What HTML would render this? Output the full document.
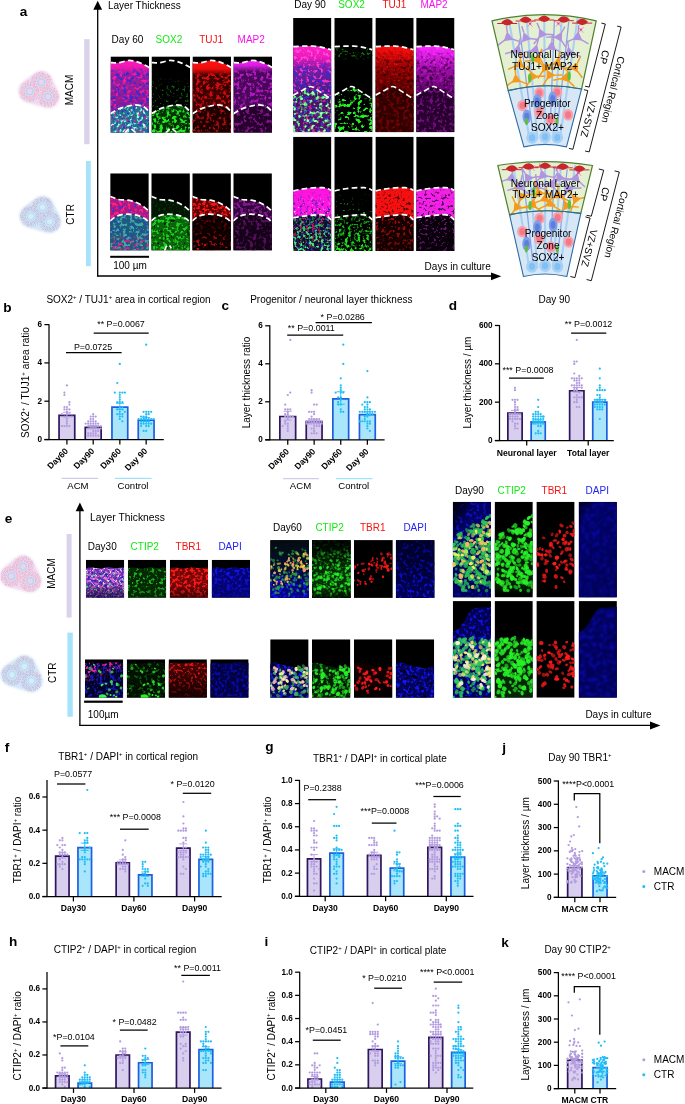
<!DOCTYPE html>
<html lang="en"><head><meta charset="utf-8"><title>Figure</title>
<style>html,body{margin:0;padding:0;background:#fff}svg{display:block}text{font-family:"Liberation Sans", sans-serif}</style>
</head><body>
<svg width="685" height="1104" viewBox="0 0 685 1104">
<rect width="685" height="1104" fill="#fff"/>
<defs><linearGradient id="g1" x1="0" y1="0" x2="0" y2="1"><stop offset="0" stop-color="#ff18c0" stop-opacity="1"/><stop offset="0.13" stop-color="#f018b0" stop-opacity="1"/><stop offset="0.27" stop-color="#a01c98" stop-opacity="1"/><stop offset="1" stop-color="#8c1a90" stop-opacity="1"/></linearGradient><linearGradient id="g2" x1="0" y1="0" x2="0" y2="1"><stop offset="0" stop-color="#000" stop-opacity="0"/><stop offset="0.1" stop-color="#3a2ad0" stop-opacity="0"/><stop offset="0.24" stop-color="#3a2ad0" stop-opacity="1"/><stop offset="1" stop-color="#3a2ad0" stop-opacity="1"/></linearGradient><filter id="f1" x="0" y="0" width="1" height="1" color-interpolation-filters="sRGB"><feTurbulence type="fractalNoise" baseFrequency="0.3" numOctaves="2" seed="101" result="n"/><feColorMatrix in="n" type="matrix" values="0 0 0 0 0 0 0 0 0 0 0 0 0 0 0 6.5 0 0 0 -3.250" result="a"/><feComposite in="SourceGraphic" in2="a" operator="in"/><feGaussianBlur stdDeviation="0.5"/></filter><linearGradient id="g3" x1="0" y1="0" x2="0" y2="1"><stop offset="0" stop-color="#000" stop-opacity="0"/><stop offset="0.1" stop-color="#f020a8" stop-opacity="0"/><stop offset="0.27" stop-color="#f020a8" stop-opacity="1"/><stop offset="1" stop-color="#e81ea0" stop-opacity="1"/></linearGradient><filter id="f2" x="0" y="0" width="1" height="1" color-interpolation-filters="sRGB"><feTurbulence type="fractalNoise" baseFrequency="0.3" numOctaves="2" seed="107" result="n"/><feColorMatrix in="n" type="matrix" values="0 0 0 0 0 0 0 0 0 0 0 0 0 0 0 6.5 0 0 0 -3.510" result="a"/><feComposite in="SourceGraphic" in2="a" operator="in"/><feGaussianBlur stdDeviation="0.5"/></filter><filter id="f3" x="0" y="0" width="1" height="1" color-interpolation-filters="sRGB"><feTurbulence type="fractalNoise" baseFrequency="0.3" numOctaves="2" seed="102" result="n"/><feColorMatrix in="n" type="matrix" values="0 0 0 0 0 0 0 0 0 0 0 0 0 0 0 6.5 0 0 0 -3.445" result="a"/><feComposite in="SourceGraphic" in2="a" operator="in"/><feGaussianBlur stdDeviation="0.5"/></filter><filter id="f4" x="0" y="0" width="1" height="1" color-interpolation-filters="sRGB"><feTurbulence type="fractalNoise" baseFrequency="0.3" numOctaves="2" seed="106" result="n"/><feColorMatrix in="n" type="matrix" values="0 0 0 0 0 0 0 0 0 0 0 0 0 0 0 6.5 0 0 0 -3.250" result="a"/><feComposite in="SourceGraphic" in2="a" operator="in"/><feGaussianBlur stdDeviation="0.5"/></filter><filter id="f5" x="0" y="0" width="1" height="1" color-interpolation-filters="sRGB"><feTurbulence type="fractalNoise" baseFrequency="0.3" numOctaves="2" seed="106" result="n"/><feColorMatrix in="n" type="matrix" values="0 0 0 0 0 0 0 0 0 0 0 0 0 0 0 6.5 0 0 0 -3.900" result="a"/><feComposite in="SourceGraphic" in2="a" operator="in"/><feGaussianBlur stdDeviation="0.5"/></filter><filter id="f6" x="0" y="0" width="1" height="1" color-interpolation-filters="sRGB"><feTurbulence type="fractalNoise" baseFrequency="0.36" numOctaves="2" seed="104" result="n"/><feColorMatrix in="n" type="matrix" values="0 0 0 0 0 0 0 0 0 0 0 0 0 0 0 6.5 0 0 0 -3.770" result="a"/><feComposite in="SourceGraphic" in2="a" operator="in"/><feGaussianBlur stdDeviation="0.5"/></filter><linearGradient id="g4" x1="0" y1="0" x2="0" y2="1"><stop offset="0" stop-color="#000" stop-opacity="0"/><stop offset="0.3" stop-color="#0c600c" stop-opacity="0"/><stop offset="0.5" stop-color="#0c600c" stop-opacity="1"/><stop offset="1" stop-color="#0e700e" stop-opacity="1"/></linearGradient><filter id="f7" x="0" y="0" width="1" height="1" color-interpolation-filters="sRGB"><feTurbulence type="fractalNoise" baseFrequency="0.36" numOctaves="2" seed="105" result="n"/><feColorMatrix in="n" type="matrix" values="0 0 0 0 0 0 0 0 0 0 0 0 0 0 0 6.5 0 0 0 -3.900" result="a"/><feComposite in="SourceGraphic" in2="a" operator="in"/><feGaussianBlur stdDeviation="0.5"/></filter><linearGradient id="g5" x1="0" y1="0" x2="0" y2="1"><stop offset="0" stop-color="#18b018" stop-opacity="1"/><stop offset="0.3" stop-color="#20e820" stop-opacity="1"/><stop offset="1" stop-color="#20f020" stop-opacity="1"/></linearGradient><filter id="f8" x="0" y="0" width="1" height="1" color-interpolation-filters="sRGB"><feTurbulence type="fractalNoise" baseFrequency="0.3" numOctaves="2" seed="106" result="n"/><feColorMatrix in="n" type="matrix" values="0 0 0 0 0 0 0 0 0 0 0 0 0 0 0 6.5 0 0 0 -3.120" result="a"/><feComposite in="SourceGraphic" in2="a" operator="in"/><feGaussianBlur stdDeviation="0.5"/></filter><linearGradient id="g6" x1="0" y1="0" x2="0" y2="1"><stop offset="0" stop-color="#ff1414" stop-opacity="1"/><stop offset="0.16" stop-color="#f00c0c" stop-opacity="1"/><stop offset="0.28" stop-color="#3c0000" stop-opacity="1"/><stop offset="1" stop-color="#3c0000" stop-opacity="1"/></linearGradient><linearGradient id="g7" x1="0" y1="0" x2="0" y2="1"><stop offset="0" stop-color="#000" stop-opacity="0"/><stop offset="0.14" stop-color="#d80c0c" stop-opacity="0"/><stop offset="0.28" stop-color="#d80c0c" stop-opacity="1"/><stop offset="1" stop-color="#c80a0a" stop-opacity="1"/></linearGradient><filter id="f9" x="0" y="0" width="1" height="1" color-interpolation-filters="sRGB"><feTurbulence type="fractalNoise" baseFrequency="0.3" numOctaves="2" seed="107" result="n"/><feColorMatrix in="n" type="matrix" values="0 0 0 0 0 0 0 0 0 0 0 0 0 0 0 6.5 0 0 0 -3.185" result="a"/><feComposite in="SourceGraphic" in2="a" operator="in"/><feGaussianBlur stdDeviation="0.5"/></filter><filter id="f10" x="0" y="0" width="1" height="1" color-interpolation-filters="sRGB"><feTurbulence type="fractalNoise" baseFrequency="0.3" numOctaves="2" seed="108" result="n"/><feColorMatrix in="n" type="matrix" values="0 0 0 0 0 0 0 0 0 0 0 0 0 0 0 6.5 0 0 0 -3.380" result="a"/><feComposite in="SourceGraphic" in2="a" operator="in"/><feGaussianBlur stdDeviation="0.5"/></filter><linearGradient id="g8" x1="0" y1="0" x2="0" y2="1"><stop offset="0" stop-color="#f424f4" stop-opacity="1"/><stop offset="0.1" stop-color="#d81ce0" stop-opacity="1"/><stop offset="0.22" stop-color="#48085a" stop-opacity="1"/><stop offset="1" stop-color="#48085a" stop-opacity="1"/></linearGradient><linearGradient id="g9" x1="0" y1="0" x2="0" y2="1"><stop offset="0" stop-color="#000" stop-opacity="0"/><stop offset="0.08" stop-color="#b818c4" stop-opacity="0"/><stop offset="0.22" stop-color="#b818c4" stop-opacity="1"/><stop offset="1" stop-color="#a814b4" stop-opacity="1"/></linearGradient><filter id="f11" x="0" y="0" width="1" height="1" color-interpolation-filters="sRGB"><feTurbulence type="fractalNoise" baseFrequency="0.3" numOctaves="2" seed="109" result="n"/><feColorMatrix in="n" type="matrix" values="0 0 0 0 0 0 0 0 0 0 0 0 0 0 0 6.5 0 0 0 -3.250" result="a"/><feComposite in="SourceGraphic" in2="a" operator="in"/><feGaussianBlur stdDeviation="0.5"/></filter><filter id="f12" x="0" y="0" width="1" height="1" color-interpolation-filters="sRGB"><feTurbulence type="fractalNoise" baseFrequency="0.3" numOctaves="2" seed="110" result="n"/><feColorMatrix in="n" type="matrix" values="0 0 0 0 0 0 0 0 0 0 0 0 0 0 0 6.5 0 0 0 -3.380" result="a"/><feComposite in="SourceGraphic" in2="a" operator="in"/><feGaussianBlur stdDeviation="0.5"/></filter><clipPath id="c1"><rect x="110.50" y="56.40" width="38.50" height="76.30"/></clipPath><clipPath id="c2"><rect x="151.50" y="56.40" width="38.50" height="76.30"/></clipPath><clipPath id="c3"><rect x="192.50" y="56.40" width="38.50" height="76.30"/></clipPath><clipPath id="c4"><rect x="233.50" y="56.40" width="38.50" height="76.30"/></clipPath><filter id="f13" x="0" y="0" width="1" height="1" color-interpolation-filters="sRGB"><feTurbulence type="fractalNoise" baseFrequency="0.32" numOctaves="2" seed="201" result="n"/><feColorMatrix in="n" type="matrix" values="0 0 0 0 0 0 0 0 0 0 0 0 0 0 0 6.5 0 0 0 -3.510" result="a"/><feComposite in="SourceGraphic" in2="a" operator="in"/><feGaussianBlur stdDeviation="0.5"/></filter><filter id="f14" x="0" y="0" width="1" height="1" color-interpolation-filters="sRGB"><feTurbulence type="fractalNoise" baseFrequency="0.32" numOctaves="2" seed="207" result="n"/><feColorMatrix in="n" type="matrix" values="0 0 0 0 0 0 0 0 0 0 0 0 0 0 0 6.5 0 0 0 -3.250" result="a"/><feComposite in="SourceGraphic" in2="a" operator="in"/><feGaussianBlur stdDeviation="0.5"/></filter><filter id="f15" x="0" y="0" width="1" height="1" color-interpolation-filters="sRGB"><feTurbulence type="fractalNoise" baseFrequency="0.3" numOctaves="2" seed="202" result="n"/><feColorMatrix in="n" type="matrix" values="0 0 0 0 0 0 0 0 0 0 0 0 0 0 0 6.5 0 0 0 -3.510" result="a"/><feComposite in="SourceGraphic" in2="a" operator="in"/><feGaussianBlur stdDeviation="0.5"/></filter><filter id="f16" x="0" y="0" width="1" height="1" color-interpolation-filters="sRGB"><feTurbulence type="fractalNoise" baseFrequency="0.3" numOctaves="2" seed="206" result="n"/><feColorMatrix in="n" type="matrix" values="0 0 0 0 0 0 0 0 0 0 0 0 0 0 0 6.5 0 0 0 -3.250" result="a"/><feComposite in="SourceGraphic" in2="a" operator="in"/><feGaussianBlur stdDeviation="0.5"/></filter><linearGradient id="g10" x1="0" y1="0" x2="0" y2="1"><stop offset="0" stop-color="#000" stop-opacity="0"/><stop offset="0.55" stop-color="#e82078" stop-opacity="0"/><stop offset="0.8" stop-color="#e82078" stop-opacity="1"/><stop offset="1" stop-color="#e82078" stop-opacity="1"/></linearGradient><filter id="f17" x="0" y="0" width="1" height="1" color-interpolation-filters="sRGB"><feTurbulence type="fractalNoise" baseFrequency="0.3" numOctaves="2" seed="208" result="n"/><feColorMatrix in="n" type="matrix" values="0 0 0 0 0 0 0 0 0 0 0 0 0 0 0 6.5 0 0 0 -3.445" result="a"/><feComposite in="SourceGraphic" in2="a" operator="in"/><feGaussianBlur stdDeviation="0.5"/></filter><filter id="f18" x="0" y="0" width="1" height="1" color-interpolation-filters="sRGB"><feTurbulence type="fractalNoise" baseFrequency="0.36" numOctaves="2" seed="205" result="n"/><feColorMatrix in="n" type="matrix" values="0 0 0 0 0 0 0 0 0 0 0 0 0 0 0 6.5 0 0 0 -3.770" result="a"/><feComposite in="SourceGraphic" in2="a" operator="in"/><feGaussianBlur stdDeviation="0.5"/></filter><filter id="f19" x="0" y="0" width="1" height="1" color-interpolation-filters="sRGB"><feTurbulence type="fractalNoise" baseFrequency="0.3" numOctaves="2" seed="216" result="n"/><feColorMatrix in="n" type="matrix" values="0 0 0 0 0 0 0 0 0 0 0 0 0 0 0 6.5 0 0 0 -3.900" result="a"/><feComposite in="SourceGraphic" in2="a" operator="in"/><feGaussianBlur stdDeviation="0.5"/></filter><filter id="f20" x="0" y="0" width="1" height="1" color-interpolation-filters="sRGB"><feTurbulence type="fractalNoise" baseFrequency="0.32" numOctaves="2" seed="207" result="n"/><feColorMatrix in="n" type="matrix" values="0 0 0 0 0 0 0 0 0 0 0 0 0 0 0 6.5 0 0 0 -2.990" result="a"/><feComposite in="SourceGraphic" in2="a" operator="in"/><feGaussianBlur stdDeviation="0.5"/></filter><linearGradient id="g11" x1="0" y1="0" x2="0" y2="1"><stop offset="0" stop-color="#7a0606" stop-opacity="0.6"/><stop offset="0.5" stop-color="#7a0606" stop-opacity="0.8"/><stop offset="0.75" stop-color="#b00c0c" stop-opacity="1"/><stop offset="1" stop-color="#d01010" stop-opacity="1"/></linearGradient><filter id="f21" x="0" y="0" width="1" height="1" color-interpolation-filters="sRGB"><feTurbulence type="fractalNoise" baseFrequency="0.3" numOctaves="2" seed="208" result="n"/><feColorMatrix in="n" type="matrix" values="0 0 0 0 0 0 0 0 0 0 0 0 0 0 0 6.5 0 0 0 -3.640" result="a"/><feComposite in="SourceGraphic" in2="a" operator="in"/><feGaussianBlur stdDeviation="0.5"/></filter><filter id="f22" x="0" y="0" width="1" height="1" color-interpolation-filters="sRGB"><feTurbulence type="fractalNoise" baseFrequency="0.32" numOctaves="2" seed="209" result="n"/><feColorMatrix in="n" type="matrix" values="0 0 0 0 0 0 0 0 0 0 0 0 0 0 0 6.5 0 0 0 -3.055" result="a"/><feComposite in="SourceGraphic" in2="a" operator="in"/><feGaussianBlur stdDeviation="0.5"/></filter><filter id="f23" x="0" y="0" width="1" height="1" color-interpolation-filters="sRGB"><feTurbulence type="fractalNoise" baseFrequency="0.3" numOctaves="2" seed="210" result="n"/><feColorMatrix in="n" type="matrix" values="0 0 0 0 0 0 0 0 0 0 0 0 0 0 0 6.5 0 0 0 -3.315" result="a"/><feComposite in="SourceGraphic" in2="a" operator="in"/><feGaussianBlur stdDeviation="0.5"/></filter><clipPath id="c5"><rect x="110.20" y="173.30" width="38.60" height="77.20"/></clipPath><clipPath id="c6"><rect x="151.30" y="173.30" width="38.60" height="77.20"/></clipPath><clipPath id="c7"><rect x="192.30" y="173.30" width="38.60" height="77.20"/></clipPath><clipPath id="c8"><rect x="233.30" y="173.30" width="38.60" height="77.20"/></clipPath><linearGradient id="g12" x1="0" y1="0" x2="0" y2="1"><stop offset="0" stop-color="#ff20c8" stop-opacity="1"/><stop offset="0.2" stop-color="#f018c0" stop-opacity="1"/><stop offset="0.45" stop-color="#7a1c9c" stop-opacity="1"/><stop offset="1" stop-color="#3a1880" stop-opacity="1"/></linearGradient><linearGradient id="g13" x1="0" y1="0" x2="0" y2="1"><stop offset="0" stop-color="#000" stop-opacity="0"/><stop offset="0.25" stop-color="#3828d8" stop-opacity="0"/><stop offset="0.45" stop-color="#3828d8" stop-opacity="1"/><stop offset="1" stop-color="#3030c8" stop-opacity="1"/></linearGradient><filter id="f24" x="0" y="0" width="1" height="1" color-interpolation-filters="sRGB"><feTurbulence type="fractalNoise" baseFrequency="0.3" numOctaves="2" seed="301" result="n"/><feColorMatrix in="n" type="matrix" values="0 0 0 0 0 0 0 0 0 0 0 0 0 0 0 6.5 0 0 0 -3.250" result="a"/><feComposite in="SourceGraphic" in2="a" operator="in"/><feGaussianBlur stdDeviation="0.5"/></filter><linearGradient id="g14" x1="0" y1="0" x2="0" y2="1"><stop offset="0" stop-color="#ff70d8" stop-opacity="0.7"/><stop offset="0.3" stop-color="#ff40d0" stop-opacity="1"/><stop offset="1" stop-color="#d828b0" stop-opacity="1"/></linearGradient><filter id="f25" x="0" y="0" width="1" height="1" color-interpolation-filters="sRGB"><feTurbulence type="fractalNoise" baseFrequency="0.3" numOctaves="2" seed="309" result="n"/><feColorMatrix in="n" type="matrix" values="0 0 0 0 0 0 0 0 0 0 0 0 0 0 0 6.5 0 0 0 -3.510" result="a"/><feComposite in="SourceGraphic" in2="a" operator="in"/><feGaussianBlur stdDeviation="0.5"/></filter><filter id="f26" x="0" y="0" width="1" height="1" color-interpolation-filters="sRGB"><feTurbulence type="fractalNoise" baseFrequency="0.33" numOctaves="2" seed="302" result="n"/><feColorMatrix in="n" type="matrix" values="0 0 0 0 0 0 0 0 0 0 0 0 0 0 0 6.5 0 0 0 -3.380" result="a"/><feComposite in="SourceGraphic" in2="a" operator="in"/><feGaussianBlur stdDeviation="0.5"/></filter><filter id="f27" x="0" y="0" width="1" height="1" color-interpolation-filters="sRGB"><feTurbulence type="fractalNoise" baseFrequency="0.3" numOctaves="2" seed="304" result="n"/><feColorMatrix in="n" type="matrix" values="0 0 0 0 0 0 0 0 0 0 0 0 0 0 0 6.5 0 0 0 -3.575" result="a"/><feComposite in="SourceGraphic" in2="a" operator="in"/><feGaussianBlur stdDeviation="0.5"/></filter><filter id="f28" x="0" y="0" width="1" height="1" color-interpolation-filters="sRGB"><feTurbulence type="fractalNoise" baseFrequency="0.26" numOctaves="2" seed="306" result="n"/><feColorMatrix in="n" type="matrix" values="0 0 0 0 0 0 0 0 0 0 0 0 0 0 0 6.5 0 0 0 -3.250" result="a"/><feComposite in="SourceGraphic" in2="a" operator="in"/><feGaussianBlur stdDeviation="0.5"/></filter><filter id="f29" x="0" y="0" width="1" height="1" color-interpolation-filters="sRGB"><feTurbulence type="fractalNoise" baseFrequency="0.26" numOctaves="2" seed="306" result="n"/><feColorMatrix in="n" type="matrix" values="0 0 0 0 0 0 0 0 0 0 0 0 0 0 0 6.5 0 0 0 -3.900" result="a"/><feComposite in="SourceGraphic" in2="a" operator="in"/><feGaussianBlur stdDeviation="0.5"/></filter><linearGradient id="g15" x1="0" y1="0" x2="0" y2="1"><stop offset="0" stop-color="#000" stop-opacity="0"/><stop offset="0.06" stop-color="#0c6c0c" stop-opacity="1"/><stop offset="0.2" stop-color="#0c6c0c" stop-opacity="1"/><stop offset="0.3" stop-color="#000" stop-opacity="0"/><stop offset="1" stop-color="#000" stop-opacity="0"/></linearGradient><filter id="f30" x="0" y="0" width="1" height="1" color-interpolation-filters="sRGB"><feTurbulence type="fractalNoise" baseFrequency="0.36" numOctaves="2" seed="305" result="n"/><feColorMatrix in="n" type="matrix" values="0 0 0 0 0 0 0 0 0 0 0 0 0 0 0 6.5 0 0 0 -3.640" result="a"/><feComposite in="SourceGraphic" in2="a" operator="in"/><feGaussianBlur stdDeviation="0.5"/></filter><filter id="f31" x="0" y="0" width="1" height="1" color-interpolation-filters="sRGB"><feTurbulence type="fractalNoise" baseFrequency="0.26" numOctaves="2" seed="306" result="n"/><feColorMatrix in="n" type="matrix" values="0 0 0 0 0 0 0 0 0 0 0 0 0 0 0 10 0 0 0 -5.300" result="a"/><feComposite in="SourceGraphic" in2="a" operator="in"/><feGaussianBlur stdDeviation="0.5"/></filter><linearGradient id="g16" x1="0" y1="0" x2="0" y2="1"><stop offset="0" stop-color="#ff1212" stop-opacity="1"/><stop offset="0.12" stop-color="#e80a0a" stop-opacity="1"/><stop offset="0.3" stop-color="#b00404" stop-opacity="1"/><stop offset="0.6" stop-color="#7c0000" stop-opacity="1"/><stop offset="1" stop-color="#560000" stop-opacity="1"/></linearGradient><linearGradient id="g17" x1="0" y1="0" x2="0" y2="1"><stop offset="0" stop-color="#000" stop-opacity="0"/><stop offset="0.1" stop-color="#000" stop-opacity="0.15"/><stop offset="0.3" stop-color="#000" stop-opacity="0.5"/><stop offset="1" stop-color="#000" stop-opacity="0.5"/></linearGradient><filter id="f32" x="0" y="0" width="1" height="1" color-interpolation-filters="sRGB"><feTurbulence type="fractalNoise" baseFrequency="0.3" numOctaves="2" seed="307" result="n"/><feColorMatrix in="n" type="matrix" values="0 0 0 0 0 0 0 0 0 0 0 0 0 0 0 6.5 0 0 0 -3.250" result="a"/><feComposite in="SourceGraphic" in2="a" operator="in"/><feGaussianBlur stdDeviation="0.5"/></filter><linearGradient id="g18" x1="0" y1="0" x2="0" y2="1"><stop offset="0" stop-color="#ff3030" stop-opacity="0"/><stop offset="0.15" stop-color="#ff2020" stop-opacity="0.5"/><stop offset="1" stop-color="#c00808" stop-opacity="0.5"/></linearGradient><filter id="f33" x="0" y="0" width="1" height="1" color-interpolation-filters="sRGB"><feTurbulence type="fractalNoise" baseFrequency="0.3" numOctaves="2" seed="317" result="n"/><feColorMatrix in="n" type="matrix" values="0 0 0 0 0 0 0 0 0 0 0 0 0 0 0 6.5 0 0 0 -3.770" result="a"/><feComposite in="SourceGraphic" in2="a" operator="in"/><feGaussianBlur stdDeviation="0.5"/></filter><filter id="f34" x="0" y="0" width="1" height="1" color-interpolation-filters="sRGB"><feTurbulence type="fractalNoise" baseFrequency="0.3" numOctaves="2" seed="308" result="n"/><feColorMatrix in="n" type="matrix" values="0 0 0 0 0 0 0 0 0 0 0 0 0 0 0 6.5 0 0 0 -3.250" result="a"/><feComposite in="SourceGraphic" in2="a" operator="in"/><feGaussianBlur stdDeviation="0.5"/></filter><linearGradient id="g19" x1="0" y1="0" x2="0" y2="1"><stop offset="0" stop-color="#ff2cff" stop-opacity="1"/><stop offset="0.15" stop-color="#e41cec" stop-opacity="1"/><stop offset="0.4" stop-color="#a80cb4" stop-opacity="1"/><stop offset="0.7" stop-color="#74067e" stop-opacity="1"/><stop offset="1" stop-color="#540460" stop-opacity="1"/></linearGradient><linearGradient id="g20" x1="0" y1="0" x2="0" y2="1"><stop offset="0" stop-color="#000" stop-opacity="0"/><stop offset="0.1" stop-color="#000" stop-opacity="0.15"/><stop offset="0.3" stop-color="#000" stop-opacity="0.5"/><stop offset="1" stop-color="#000" stop-opacity="0.55"/></linearGradient><filter id="f35" x="0" y="0" width="1" height="1" color-interpolation-filters="sRGB"><feTurbulence type="fractalNoise" baseFrequency="0.3" numOctaves="2" seed="309" result="n"/><feColorMatrix in="n" type="matrix" values="0 0 0 0 0 0 0 0 0 0 0 0 0 0 0 6.5 0 0 0 -3.250" result="a"/><feComposite in="SourceGraphic" in2="a" operator="in"/><feGaussianBlur stdDeviation="0.5"/></filter><linearGradient id="g21" x1="0" y1="0" x2="0" y2="1"><stop offset="0" stop-color="#ff60ff" stop-opacity="0.3"/><stop offset="0.2" stop-color="#ff40ff" stop-opacity="0.6"/><stop offset="1" stop-color="#c010d0" stop-opacity="0.5"/></linearGradient><filter id="f36" x="0" y="0" width="1" height="1" color-interpolation-filters="sRGB"><feTurbulence type="fractalNoise" baseFrequency="0.3" numOctaves="2" seed="319" result="n"/><feColorMatrix in="n" type="matrix" values="0 0 0 0 0 0 0 0 0 0 0 0 0 0 0 6.5 0 0 0 -3.770" result="a"/><feComposite in="SourceGraphic" in2="a" operator="in"/><feGaussianBlur stdDeviation="0.5"/></filter><filter id="f37" x="0" y="0" width="1" height="1" color-interpolation-filters="sRGB"><feTurbulence type="fractalNoise" baseFrequency="0.3" numOctaves="2" seed="310" result="n"/><feColorMatrix in="n" type="matrix" values="0 0 0 0 0 0 0 0 0 0 0 0 0 0 0 6.5 0 0 0 -3.380" result="a"/><feComposite in="SourceGraphic" in2="a" operator="in"/><feGaussianBlur stdDeviation="0.5"/></filter><clipPath id="c9"><rect x="293.10" y="17.90" width="38.30" height="114.30"/></clipPath><clipPath id="c10"><rect x="334.30" y="17.90" width="38.30" height="114.30"/></clipPath><clipPath id="c11"><rect x="375.40" y="17.90" width="38.30" height="114.30"/></clipPath><clipPath id="c12"><rect x="416.20" y="17.90" width="38.30" height="114.30"/></clipPath><linearGradient id="g22" x1="0" y1="0" x2="0" y2="1"><stop offset="0" stop-color="#000" stop-opacity="0"/><stop offset="0.25" stop-color="#3828c8" stop-opacity="0.3"/><stop offset="0.6" stop-color="#3828c8" stop-opacity="1"/><stop offset="1" stop-color="#3020b0" stop-opacity="1"/></linearGradient><filter id="f38" x="0" y="0" width="1" height="1" color-interpolation-filters="sRGB"><feTurbulence type="fractalNoise" baseFrequency="0.33" numOctaves="2" seed="401" result="n"/><feColorMatrix in="n" type="matrix" values="0 0 0 0 0 0 0 0 0 0 0 0 0 0 0 6.5 0 0 0 -3.705" result="a"/><feComposite in="SourceGraphic" in2="a" operator="in"/><feGaussianBlur stdDeviation="0.5"/></filter><linearGradient id="g23" x1="0" y1="0" x2="0" y2="1"><stop offset="0" stop-color="#000" stop-opacity="0"/><stop offset="0.4" stop-color="#ffd8f8" stop-opacity="0.7"/><stop offset="1" stop-color="#ffe0f8" stop-opacity="1"/></linearGradient><filter id="f39" x="0" y="0" width="1" height="1" color-interpolation-filters="sRGB"><feTurbulence type="fractalNoise" baseFrequency="0.36" numOctaves="2" seed="412" result="n"/><feColorMatrix in="n" type="matrix" values="0 0 0 0 0 0 0 0 0 0 0 0 0 0 0 6.5 0 0 0 -4.160" result="a"/><feComposite in="SourceGraphic" in2="a" operator="in"/><feGaussianBlur stdDeviation="0.5"/></filter><linearGradient id="g24" x1="0" y1="0" x2="0" y2="1"><stop offset="0" stop-color="#000" stop-opacity="0"/><stop offset="0.5" stop-color="#100828" stop-opacity="0.5"/><stop offset="1" stop-color="#100828" stop-opacity="1"/></linearGradient><filter id="f40" x="0" y="0" width="1" height="1" color-interpolation-filters="sRGB"><feTurbulence type="fractalNoise" baseFrequency="0.36" numOctaves="2" seed="413" result="n"/><feColorMatrix in="n" type="matrix" values="0 0 0 0 0 0 0 0 0 0 0 0 0 0 0 6.5 0 0 0 -4.160" result="a"/><feComposite in="SourceGraphic" in2="a" operator="in"/><feGaussianBlur stdDeviation="0.5"/></filter><filter id="f41" x="0" y="0" width="1" height="1" color-interpolation-filters="sRGB"><feTurbulence type="fractalNoise" baseFrequency="0.33" numOctaves="2" seed="404" result="n"/><feColorMatrix in="n" type="matrix" values="0 0 0 0 0 0 0 0 0 0 0 0 0 0 0 6.5 0 0 0 -3.510" result="a"/><feComposite in="SourceGraphic" in2="a" operator="in"/><feGaussianBlur stdDeviation="0.5"/></filter><linearGradient id="g25" x1="0" y1="0" x2="0" y2="1"><stop offset="0" stop-color="#e01890" stop-opacity="1"/><stop offset="0.35" stop-color="#c81858" stop-opacity="1"/><stop offset="0.7" stop-color="#b01838" stop-opacity="0.7"/><stop offset="1" stop-color="#b01838" stop-opacity="0.5"/></linearGradient><filter id="f42" x="0" y="0" width="1" height="1" color-interpolation-filters="sRGB"><feTurbulence type="fractalNoise" baseFrequency="0.33" numOctaves="2" seed="408" result="n"/><feColorMatrix in="n" type="matrix" values="0 0 0 0 0 0 0 0 0 0 0 0 0 0 0 6.5 0 0 0 -3.575" result="a"/><feComposite in="SourceGraphic" in2="a" operator="in"/><feGaussianBlur stdDeviation="0.5"/></filter><linearGradient id="g26" x1="0" y1="0" x2="0" y2="1"><stop offset="0" stop-color="#30d060" stop-opacity="0.35"/><stop offset="0.3" stop-color="#30d868" stop-opacity="0.8"/><stop offset="0.6" stop-color="#3ce474" stop-opacity="1"/><stop offset="1" stop-color="#48f080" stop-opacity="1"/></linearGradient><filter id="f43" x="0" y="0" width="1" height="1" color-interpolation-filters="sRGB"><feTurbulence type="fractalNoise" baseFrequency="0.33" numOctaves="2" seed="406" result="n"/><feColorMatrix in="n" type="matrix" values="0 0 0 0 0 0 0 0 0 0 0 0 0 0 0 6.5 0 0 0 -3.250" result="a"/><feComposite in="SourceGraphic" in2="a" operator="in"/><feGaussianBlur stdDeviation="0.5"/></filter><linearGradient id="g27" x1="0" y1="0" x2="0" y2="1"><stop offset="0" stop-color="#000" stop-opacity="0"/><stop offset="0.45" stop-color="#1cd01c" stop-opacity="0.5"/><stop offset="1" stop-color="#1cd01c" stop-opacity="1"/></linearGradient><filter id="f44" x="0" y="0" width="1" height="1" color-interpolation-filters="sRGB"><feTurbulence type="fractalNoise" baseFrequency="0.33" numOctaves="2" seed="405" result="n"/><feColorMatrix in="n" type="matrix" values="0 0 0 0 0 0 0 0 0 0 0 0 0 0 0 10 0 0 0 -6.800" result="a"/><feComposite in="SourceGraphic" in2="a" operator="in"/><feGaussianBlur stdDeviation="0.5"/></filter><linearGradient id="g28" x1="0" y1="0" x2="0" y2="1"><stop offset="0" stop-color="#000" stop-opacity="0"/><stop offset="0.5" stop-color="#0a500a" stop-opacity="0.6"/><stop offset="1" stop-color="#0c600c" stop-opacity="1"/></linearGradient><filter id="f45" x="0" y="0" width="1" height="1" color-interpolation-filters="sRGB"><feTurbulence type="fractalNoise" baseFrequency="0.33" numOctaves="2" seed="406" result="n"/><feColorMatrix in="n" type="matrix" values="0 0 0 0 0 0 0 0 0 0 0 0 0 0 0 6.5 0 0 0 -2.730" result="a"/><feComposite in="SourceGraphic" in2="a" operator="in"/><feGaussianBlur stdDeviation="0.5"/></filter><linearGradient id="g29" x1="0" y1="0" x2="0" y2="1"><stop offset="0" stop-color="#14a014" stop-opacity="0.7"/><stop offset="0.35" stop-color="#1cc81c" stop-opacity="0.9"/><stop offset="0.7" stop-color="#20e020" stop-opacity="1"/><stop offset="1" stop-color="#22f022" stop-opacity="1"/></linearGradient><filter id="f46" x="0" y="0" width="1" height="1" color-interpolation-filters="sRGB"><feTurbulence type="fractalNoise" baseFrequency="0.33" numOctaves="2" seed="406" result="n"/><feColorMatrix in="n" type="matrix" values="0 0 0 0 0 0 0 0 0 0 0 0 0 0 0 6.5 0 0 0 -3.380" result="a"/><feComposite in="SourceGraphic" in2="a" operator="in"/><feGaussianBlur stdDeviation="0.5"/></filter><linearGradient id="g30" x1="0" y1="0" x2="0" y2="1"><stop offset="0" stop-color="#000" stop-opacity="0"/><stop offset="0.3" stop-color="#4a0303" stop-opacity="1"/><stop offset="1" stop-color="#4a0303" stop-opacity="1"/></linearGradient><filter id="f47" x="0" y="0" width="1" height="1" color-interpolation-filters="sRGB"><feTurbulence type="fractalNoise" baseFrequency="0.36" numOctaves="2" seed="407" result="n"/><feColorMatrix in="n" type="matrix" values="0 0 0 0 0 0 0 0 0 0 0 0 0 0 0 6.5 0 0 0 -3.705" result="a"/><feComposite in="SourceGraphic" in2="a" operator="in"/><feGaussianBlur stdDeviation="0.5"/></filter><linearGradient id="g31" x1="0" y1="0" x2="0" y2="1"><stop offset="0" stop-color="#c00c0c" stop-opacity="1"/><stop offset="0.5" stop-color="#900a0a" stop-opacity="1"/><stop offset="1" stop-color="#700808" stop-opacity="1"/></linearGradient><filter id="f48" x="0" y="0" width="1" height="1" color-interpolation-filters="sRGB"><feTurbulence type="fractalNoise" baseFrequency="0.33" numOctaves="2" seed="408" result="n"/><feColorMatrix in="n" type="matrix" values="0 0 0 0 0 0 0 0 0 0 0 0 0 0 0 6.5 0 0 0 -3.510" result="a"/><feComposite in="SourceGraphic" in2="a" operator="in"/><feGaussianBlur stdDeviation="0.5"/></filter><linearGradient id="g32" x1="0" y1="0" x2="0" y2="1"><stop offset="0" stop-color="#000" stop-opacity="0"/><stop offset="0.25" stop-color="#4a0a50" stop-opacity="1"/><stop offset="1" stop-color="#4a0a50" stop-opacity="1"/></linearGradient><filter id="f49" x="0" y="0" width="1" height="1" color-interpolation-filters="sRGB"><feTurbulence type="fractalNoise" baseFrequency="0.36" numOctaves="2" seed="409" result="n"/><feColorMatrix in="n" type="matrix" values="0 0 0 0 0 0 0 0 0 0 0 0 0 0 0 6.5 0 0 0 -3.640" result="a"/><feComposite in="SourceGraphic" in2="a" operator="in"/><feGaussianBlur stdDeviation="0.5"/></filter><linearGradient id="g33" x1="0" y1="0" x2="0" y2="1"><stop offset="0" stop-color="#8a1c92" stop-opacity="1"/><stop offset="0.5" stop-color="#701678" stop-opacity="1"/><stop offset="1" stop-color="#5a1262" stop-opacity="1"/></linearGradient><filter id="f50" x="0" y="0" width="1" height="1" color-interpolation-filters="sRGB"><feTurbulence type="fractalNoise" baseFrequency="0.36" numOctaves="2" seed="410" result="n"/><feColorMatrix in="n" type="matrix" values="0 0 0 0 0 0 0 0 0 0 0 0 0 0 0 6.5 0 0 0 -3.770" result="a"/><feComposite in="SourceGraphic" in2="a" operator="in"/><feGaussianBlur stdDeviation="0.5"/></filter><clipPath id="c13"><rect x="293.10" y="136.70" width="38.30" height="114.30"/></clipPath><clipPath id="c14"><rect x="334.30" y="136.70" width="38.30" height="114.30"/></clipPath><clipPath id="c15"><rect x="375.40" y="136.70" width="38.30" height="114.30"/></clipPath><clipPath id="c16"><rect x="416.20" y="136.70" width="38.30" height="114.30"/></clipPath><filter id="soft" x="-0.1" y="-0.1" width="1.2" height="1.2"><feGaussianBlur stdDeviation="0.45"/></filter><filter id="f51" x="0" y="0" width="1" height="1" color-interpolation-filters="sRGB"><feTurbulence type="fractalNoise" baseFrequency="0.33" numOctaves="2" seed="501" result="n"/><feColorMatrix in="n" type="matrix" values="0 0 0 0 0 0 0 0 0 0 0 0 0 0 0 6.5 0 0 0 -3.510" result="a"/><feComposite in="SourceGraphic" in2="a" operator="in"/><feGaussianBlur stdDeviation="0.5"/></filter><filter id="f52" x="0" y="0" width="1" height="1" color-interpolation-filters="sRGB"><feTurbulence type="fractalNoise" baseFrequency="0.36" numOctaves="2" seed="507" result="n"/><feColorMatrix in="n" type="matrix" values="0 0 0 0 0 0 0 0 0 0 0 0 0 0 0 6.5 0 0 0 -3.120" result="a"/><feComposite in="SourceGraphic" in2="a" operator="in"/><feGaussianBlur stdDeviation="0.5"/></filter><filter id="f53" x="0" y="0" width="1" height="1" color-interpolation-filters="sRGB"><feTurbulence type="fractalNoise" baseFrequency="0.36" numOctaves="2" seed="506" result="n"/><feColorMatrix in="n" type="matrix" values="0 0 0 0 0 0 0 0 0 0 0 0 0 0 0 6.5 0 0 0 -4.030" result="a"/><feComposite in="SourceGraphic" in2="a" operator="in"/><feGaussianBlur stdDeviation="0.5"/></filter><filter id="f54" x="0" y="0" width="1" height="1" color-interpolation-filters="sRGB"><feTurbulence type="fractalNoise" baseFrequency="0.4" numOctaves="2" seed="508" result="n"/><feColorMatrix in="n" type="matrix" values="0 0 0 0 0 0 0 0 0 0 0 0 0 0 0 6.5 0 0 0 -3.900" result="a"/><feComposite in="SourceGraphic" in2="a" operator="in"/><feGaussianBlur stdDeviation="0.5"/></filter><linearGradient id="g34" x1="0" y1="0" x2="0" y2="1"><stop offset="0" stop-color="#000" stop-opacity="0"/><stop offset="0.5" stop-color="#000" stop-opacity="0"/><stop offset="1" stop-color="#000038" stop-opacity="0.7"/></linearGradient><linearGradient id="g35" x1="0" y1="0" x2="0" y2="1"><stop offset="0" stop-color="#14a014" stop-opacity="1"/><stop offset="0.4" stop-color="#1ec41e" stop-opacity="1"/><stop offset="1" stop-color="#0e700e" stop-opacity="1"/></linearGradient><filter id="f55" x="0" y="0" width="1" height="1" color-interpolation-filters="sRGB"><feTurbulence type="fractalNoise" baseFrequency="0.33" numOctaves="2" seed="506" result="n"/><feColorMatrix in="n" type="matrix" values="0 0 0 0 0 0 0 0 0 0 0 0 0 0 0 6.5 0 0 0 -3.510" result="a"/><feComposite in="SourceGraphic" in2="a" operator="in"/><feGaussianBlur stdDeviation="0.5"/></filter><filter id="f56" x="0" y="0" width="1" height="1" color-interpolation-filters="sRGB"><feTurbulence type="fractalNoise" baseFrequency="0.33" numOctaves="2" seed="507" result="n"/><feColorMatrix in="n" type="matrix" values="0 0 0 0 0 0 0 0 0 0 0 0 0 0 0 6.5 0 0 0 -3.120" result="a"/><feComposite in="SourceGraphic" in2="a" operator="in"/><feGaussianBlur stdDeviation="0.5"/></filter><linearGradient id="g36" x1="0" y1="0" x2="0" y2="1"><stop offset="0" stop-color="#000" stop-opacity="0"/><stop offset="0.6" stop-color="#000" stop-opacity="0"/><stop offset="1" stop-color="#000" stop-opacity="0.55"/></linearGradient><linearGradient id="g37" x1="0" y1="0" x2="0" y2="1"><stop offset="0" stop-color="#1414f0" stop-opacity="1"/><stop offset="0.5" stop-color="#0e0ed0" stop-opacity="1"/><stop offset="1" stop-color="#0808a0" stop-opacity="1"/></linearGradient><filter id="f57" x="0" y="0" width="1" height="1" color-interpolation-filters="sRGB"><feTurbulence type="fractalNoise" baseFrequency="0.33" numOctaves="2" seed="501" result="n"/><feColorMatrix in="n" type="matrix" values="0 0 0 0 0 0 0 0 0 0 0 0 0 0 0 6.5 0 0 0 -3.250" result="a"/><feComposite in="SourceGraphic" in2="a" operator="in"/><feGaussianBlur stdDeviation="0.5"/></filter><clipPath id="c17"><rect x="85.90" y="559.80" width="38.30" height="38.00"/></clipPath><clipPath id="c18"><rect x="127.90" y="559.80" width="38.30" height="38.00"/></clipPath><clipPath id="c19"><rect x="169.80" y="559.80" width="38.30" height="38.00"/></clipPath><clipPath id="c20"><rect x="211.70" y="559.80" width="38.30" height="38.00"/></clipPath><filter id="f58" x="0" y="0" width="1" height="1" color-interpolation-filters="sRGB"><feTurbulence type="fractalNoise" baseFrequency="0.33" numOctaves="2" seed="601" result="n"/><feColorMatrix in="n" type="matrix" values="0 0 0 0 0 0 0 0 0 0 0 0 0 0 0 6.5 0 0 0 -3.250" result="a"/><feComposite in="SourceGraphic" in2="a" operator="in"/><feGaussianBlur stdDeviation="0.5"/></filter><linearGradient id="g38" x1="0" y1="0" x2="0.35" y2="1"><stop offset="0" stop-color="#e82888" stop-opacity="0"/><stop offset="-0.1" stop-color="#e82888" stop-opacity="0"/><stop offset="0.0" stop-color="#e82888" stop-opacity="1"/><stop offset="0.3" stop-color="#e82888" stop-opacity="1"/><stop offset="0.55" stop-color="#e82888" stop-opacity="0"/><stop offset="1" stop-color="#e82888" stop-opacity="0"/></linearGradient><filter id="f59" x="0" y="0" width="1" height="1" color-interpolation-filters="sRGB"><feTurbulence type="fractalNoise" baseFrequency="0.33" numOctaves="2" seed="607" result="n"/><feColorMatrix in="n" type="matrix" values="0 0 0 0 0 0 0 0 0 0 0 0 0 0 0 6.5 0 0 0 -3.250" result="a"/><feComposite in="SourceGraphic" in2="a" operator="in"/><feGaussianBlur stdDeviation="0.5"/></filter><filter id="f60" x="0" y="0" width="1" height="1" color-interpolation-filters="sRGB"><feTurbulence type="fractalNoise" baseFrequency="0.33" numOctaves="2" seed="606" result="n"/><feColorMatrix in="n" type="matrix" values="0 0 0 0 0 0 0 0 0 0 0 0 0 0 0 6.5 0 0 0 -3.640" result="a"/><feComposite in="SourceGraphic" in2="a" operator="in"/><feGaussianBlur stdDeviation="0.5"/></filter><linearGradient id="g39" x1="0" y1="0" x2="0" y2="1"><stop offset="0" stop-color="#4a0505" stop-opacity="1"/><stop offset="0.5" stop-color="#300303" stop-opacity="1"/><stop offset="1" stop-color="#120101" stop-opacity="1"/></linearGradient><linearGradient id="g40" x1="0" y1="0" x2="0" y2="1"><stop offset="0" stop-color="#f01414" stop-opacity="1"/><stop offset="0.45" stop-color="#d01010" stop-opacity="1"/><stop offset="0.8" stop-color="#700808" stop-opacity="0.8"/><stop offset="1" stop-color="#500606" stop-opacity="0.6"/></linearGradient><filter id="f61" x="0" y="0" width="1" height="1" color-interpolation-filters="sRGB"><feTurbulence type="fractalNoise" baseFrequency="0.33" numOctaves="2" seed="607" result="n"/><feColorMatrix in="n" type="matrix" values="0 0 0 0 0 0 0 0 0 0 0 0 0 0 0 6.5 0 0 0 -3.510" result="a"/><feComposite in="SourceGraphic" in2="a" operator="in"/><feGaussianBlur stdDeviation="0.5"/></filter><clipPath id="c21"><rect x="84.90" y="659.30" width="38.30" height="38.40"/></clipPath><g id="k1"><ellipse cx="15.4" cy="672.2" rx="1.4" ry="1.1" opacity="0.9" transform="rotate(68 15.4 672.2)"/><ellipse cx="20.8" cy="697.0" rx="1.4" ry="1.1" opacity="0.7" transform="rotate(133 20.8 697.0)"/><ellipse cx="9.0" cy="664.7" rx="1.1" ry="0.7" opacity="0.9" transform="rotate(30 9.0 664.7)"/><ellipse cx="3.3" cy="688.5" rx="1.3" ry="0.8" opacity="0.6" transform="rotate(157 3.3 688.5)"/><ellipse cx="27.0" cy="684.3" rx="1.2" ry="1.1" opacity="0.7" transform="rotate(118 27.0 684.3)"/><ellipse cx="29.1" cy="695.4" rx="1.1" ry="0.9" opacity="0.9" transform="rotate(158 29.1 695.4)"/><ellipse cx="0.4" cy="676.6" rx="1.6" ry="1.1" opacity="0.8" transform="rotate(132 0.4 676.6)"/><ellipse cx="36.1" cy="687.9" rx="1.4" ry="1.3" opacity="0.8" transform="rotate(113 36.1 687.9)"/><ellipse cx="32.0" cy="685.2" rx="1.0" ry="0.7" opacity="0.8" transform="rotate(143 32.0 685.2)"/><ellipse cx="32.0" cy="684.1" rx="1.6" ry="1.1" opacity="0.9" transform="rotate(69 32.0 684.1)"/><ellipse cx="17.2" cy="684.9" rx="1.6" ry="1.1" opacity="1.0" transform="rotate(151 17.2 684.9)"/><ellipse cx="23.9" cy="689.1" rx="1.0" ry="0.6" opacity="0.6" transform="rotate(146 23.9 689.1)"/><ellipse cx="27.1" cy="681.8" rx="1.1" ry="0.9" opacity="0.6" transform="rotate(65 27.1 681.8)"/><ellipse cx="25.7" cy="695.0" rx="1.0" ry="1.0" opacity="1.0" transform="rotate(81 25.7 695.0)"/><ellipse cx="28.3" cy="668.6" rx="1.2" ry="0.7" opacity="0.9" transform="rotate(23 28.3 668.6)"/><ellipse cx="36.7" cy="675.9" rx="1.7" ry="1.4" opacity="0.8" transform="rotate(139 36.7 675.9)"/><ellipse cx="27.0" cy="672.0" rx="1.7" ry="1.4" opacity="0.7" transform="rotate(159 27.0 672.0)"/><ellipse cx="31.2" cy="696.7" rx="1.3" ry="1.0" opacity="1.0" transform="rotate(3 31.2 696.7)"/><ellipse cx="24.6" cy="690.1" rx="1.7" ry="1.0" opacity="0.7" transform="rotate(147 24.6 690.1)"/><ellipse cx="31.9" cy="691.8" rx="1.7" ry="1.4" opacity="0.7" transform="rotate(142 31.9 691.8)"/><ellipse cx="21.0" cy="683.7" rx="1.3" ry="1.0" opacity="0.9" transform="rotate(6 21.0 683.7)"/><ellipse cx="22.3" cy="693.9" rx="1.6" ry="1.2" opacity="0.7" transform="rotate(43 22.3 693.9)"/><ellipse cx="14.0" cy="670.8" rx="1.3" ry="1.1" opacity="0.8" transform="rotate(86 14.0 670.8)"/><ellipse cx="5.2" cy="668.3" rx="1.8" ry="1.6" opacity="0.6" transform="rotate(141 5.2 668.3)"/><ellipse cx="33.4" cy="684.8" rx="1.5" ry="1.3" opacity="0.6" transform="rotate(76 33.4 684.8)"/><ellipse cx="26.4" cy="681.8" rx="1.7" ry="1.5" opacity="0.8" transform="rotate(77 26.4 681.8)"/><ellipse cx="17.5" cy="696.7" rx="3.6" ry="2.4" opacity="1.0" transform="rotate(0 17.5 696.7)"/></g><clipPath id="c22"><rect x="126.80" y="659.30" width="38.30" height="38.40"/></clipPath><clipPath id="c23"><rect x="168.60" y="659.30" width="38.30" height="38.40"/></clipPath><clipPath id="c24"><rect x="210.30" y="659.30" width="38.30" height="38.40"/></clipPath><linearGradient id="g41" x1="0" y1="0" x2="0" y2="1"><stop offset="0" stop-color="#040c12" stop-opacity="1"/><stop offset="0.5" stop-color="#06102a" stop-opacity="1"/><stop offset="0.75" stop-color="#040460" stop-opacity="1"/><stop offset="1" stop-color="#060690" stop-opacity="1"/></linearGradient><linearGradient id="g42" x1="0" y1="0" x2="0" y2="1"><stop offset="0" stop-color="#000" stop-opacity="0"/><stop offset="0.55" stop-color="#1010e0" stop-opacity="0.3"/><stop offset="0.8" stop-color="#1414f0" stop-opacity="1"/><stop offset="1" stop-color="#1414f0" stop-opacity="1"/></linearGradient><filter id="f62" x="0" y="0" width="1" height="1" color-interpolation-filters="sRGB"><feTurbulence type="fractalNoise" baseFrequency="0.3" numOctaves="2" seed="701" result="n"/><feColorMatrix in="n" type="matrix" values="0 0 0 0 0 0 0 0 0 0 0 0 0 0 0 6.5 0 0 0 -3.250" result="a"/><feComposite in="SourceGraphic" in2="a" operator="in"/><feGaussianBlur stdDeviation="0.5"/></filter><linearGradient id="g43" x1="0" y1="0" x2="0" y2="1"><stop offset="0" stop-color="#010a01" stop-opacity="1"/><stop offset="0.3" stop-color="#032003" stop-opacity="1"/><stop offset="0.7" stop-color="#063406" stop-opacity="1"/><stop offset="1" stop-color="#031c03" stop-opacity="1"/></linearGradient><linearGradient id="g44" x1="0" y1="0" x2="0" y2="1"><stop offset="0" stop-color="#0a600a" stop-opacity="0.6"/><stop offset="0.3" stop-color="#118a11" stop-opacity="1"/><stop offset="0.7" stop-color="#169a16" stop-opacity="1"/><stop offset="1" stop-color="#0c600c" stop-opacity="1"/></linearGradient><filter id="f63" x="0" y="0" width="1" height="1" color-interpolation-filters="sRGB"><feTurbulence type="fractalNoise" baseFrequency="0.3" numOctaves="2" seed="706" result="n"/><feColorMatrix in="n" type="matrix" values="0 0 0 0 0 0 0 0 0 0 0 0 0 0 0 6.5 0 0 0 -3.445" result="a"/><feComposite in="SourceGraphic" in2="a" operator="in"/><feGaussianBlur stdDeviation="0.5"/></filter><linearGradient id="g45" x1="0" y1="0" x2="0" y2="1"><stop offset="0" stop-color="#000" stop-opacity="0.7"/><stop offset="0.22" stop-color="#000" stop-opacity="0.45"/><stop offset="0.42" stop-color="#000" stop-opacity="0"/><stop offset="0.85" stop-color="#000" stop-opacity="0"/><stop offset="1" stop-color="#000" stop-opacity="0.45"/></linearGradient><linearGradient id="g46" x1="0" y1="0" x2="0" y2="1"><stop offset="0" stop-color="#000024" stop-opacity="1"/><stop offset="0.5" stop-color="#000036" stop-opacity="1"/><stop offset="1" stop-color="#000058" stop-opacity="1"/></linearGradient><linearGradient id="g47" x1="0" y1="0" x2="0" y2="1"><stop offset="0" stop-color="#060688" stop-opacity="0.8"/><stop offset="0.5" stop-color="#0808b0" stop-opacity="1"/><stop offset="1" stop-color="#1010f0" stop-opacity="1"/></linearGradient><filter id="f64" x="0" y="0" width="1" height="1" color-interpolation-filters="sRGB"><feTurbulence type="fractalNoise" baseFrequency="0.3" numOctaves="2" seed="701" result="n"/><feColorMatrix in="n" type="matrix" values="0 0 0 0 0 0 0 0 0 0 0 0 0 0 0 6.5 0 0 0 -3.445" result="a"/><feComposite in="SourceGraphic" in2="a" operator="in"/><feGaussianBlur stdDeviation="0.5"/></filter><clipPath id="c25"><rect x="270.20" y="540.10" width="38.80" height="57.80"/></clipPath><g id="k2"><ellipse cx="29.7" cy="585.9" rx="1.7" ry="1.5" opacity="0.9" transform="rotate(149 29.7 585.9)"/><ellipse cx="38.0" cy="582.5" rx="1.6" ry="1.2" opacity="0.6" transform="rotate(149 38.0 582.5)"/><ellipse cx="22.4" cy="553.8" rx="1.5" ry="1.4" opacity="0.8" transform="rotate(21 22.4 553.8)"/><ellipse cx="21.0" cy="575.6" rx="1.1" ry="0.8" opacity="0.9" transform="rotate(22 21.0 575.6)"/><ellipse cx="28.8" cy="577.6" rx="1.4" ry="1.1" opacity="0.7" transform="rotate(59 28.8 577.6)"/><ellipse cx="6.9" cy="577.2" rx="1.7" ry="1.3" opacity="0.7" transform="rotate(118 6.9 577.2)"/><ellipse cx="11.8" cy="586.2" rx="1.3" ry="1.1" opacity="0.9" transform="rotate(162 11.8 586.2)"/><ellipse cx="8.4" cy="567.8" rx="1.8" ry="1.6" opacity="0.9" transform="rotate(85 8.4 567.8)"/><ellipse cx="26.3" cy="579.6" rx="1.1" ry="0.7" opacity="0.9" transform="rotate(75 26.3 579.6)"/><ellipse cx="9.0" cy="577.4" rx="1.6" ry="1.2" opacity="0.9" transform="rotate(101 9.0 577.4)"/><ellipse cx="22.7" cy="551.0" rx="1.6" ry="1.0" opacity="0.6" transform="rotate(18 22.7 551.0)"/><ellipse cx="36.0" cy="552.7" rx="1.1" ry="1.0" opacity="0.6" transform="rotate(42 36.0 552.7)"/><ellipse cx="34.1" cy="593.2" rx="1.4" ry="1.0" opacity="0.6" transform="rotate(74 34.1 593.2)"/><ellipse cx="32.9" cy="556.1" rx="1.7" ry="1.2" opacity="0.9" transform="rotate(56 32.9 556.1)"/><ellipse cx="12.8" cy="587.0" rx="1.0" ry="0.9" opacity="1.0" transform="rotate(143 12.8 587.0)"/><ellipse cx="14.9" cy="579.7" rx="1.5" ry="1.2" opacity="0.8" transform="rotate(10 14.9 579.7)"/><ellipse cx="38.8" cy="555.2" rx="1.6" ry="1.0" opacity="0.7" transform="rotate(142 38.8 555.2)"/><ellipse cx="27.9" cy="577.8" rx="1.2" ry="1.0" opacity="0.6" transform="rotate(121 27.9 577.8)"/><ellipse cx="23.5" cy="583.8" rx="1.2" ry="1.1" opacity="1.0" transform="rotate(174 23.5 583.8)"/><ellipse cx="34.7" cy="574.9" rx="1.5" ry="1.3" opacity="0.7" transform="rotate(153 34.7 574.9)"/><ellipse cx="4.1" cy="563.2" rx="1.2" ry="1.0" opacity="0.6" transform="rotate(76 4.1 563.2)"/><ellipse cx="38.2" cy="579.4" rx="1.1" ry="0.9" opacity="0.8" transform="rotate(47 38.2 579.4)"/><ellipse cx="15.6" cy="572.3" rx="1.1" ry="0.7" opacity="0.8" transform="rotate(27 15.6 572.3)"/><ellipse cx="37.5" cy="580.7" rx="1.0" ry="0.7" opacity="0.8" transform="rotate(133 37.5 580.7)"/><ellipse cx="12.2" cy="575.9" rx="1.2" ry="1.1" opacity="0.7" transform="rotate(95 12.2 575.9)"/><ellipse cx="4.8" cy="573.4" rx="1.3" ry="1.1" opacity="0.6" transform="rotate(110 4.8 573.4)"/><ellipse cx="35.4" cy="561.1" rx="1.1" ry="0.7" opacity="0.8" transform="rotate(123 35.4 561.1)"/><ellipse cx="0.8" cy="580.2" rx="1.7" ry="1.1" opacity="0.8" transform="rotate(79 0.8 580.2)"/><ellipse cx="13.0" cy="579.5" rx="1.7" ry="1.1" opacity="0.7" transform="rotate(38 13.0 579.5)"/><ellipse cx="3.1" cy="589.4" rx="1.6" ry="1.2" opacity="0.8" transform="rotate(119 3.1 589.4)"/><ellipse cx="26.2" cy="573.4" rx="1.4" ry="0.9" opacity="0.7" transform="rotate(54 26.2 573.4)"/><ellipse cx="36.4" cy="558.8" rx="1.1" ry="0.8" opacity="0.6" transform="rotate(2 36.4 558.8)"/><ellipse cx="5.0" cy="578.8" rx="1.4" ry="1.3" opacity="0.7" transform="rotate(21 5.0 578.8)"/><ellipse cx="26.5" cy="564.6" rx="1.3" ry="1.1" opacity="0.6" transform="rotate(35 26.5 564.6)"/><ellipse cx="33.7" cy="570.9" rx="1.6" ry="1.1" opacity="0.8" transform="rotate(111 33.7 570.9)"/><ellipse cx="32.3" cy="549.5" rx="1.4" ry="1.0" opacity="0.6" transform="rotate(67 32.3 549.5)"/><ellipse cx="37.7" cy="566.1" rx="1.5" ry="1.3" opacity="0.6" transform="rotate(150 37.7 566.1)"/><ellipse cx="22.5" cy="573.8" rx="1.4" ry="1.3" opacity="0.7" transform="rotate(163 22.5 573.8)"/><ellipse cx="24.5" cy="579.9" rx="1.4" ry="1.0" opacity="0.7" transform="rotate(105 24.5 579.9)"/><ellipse cx="21.1" cy="564.5" rx="1.4" ry="1.1" opacity="0.6" transform="rotate(57 21.1 564.5)"/><ellipse cx="36.1" cy="583.8" rx="1.5" ry="1.1" opacity="0.9" transform="rotate(115 36.1 583.8)"/><ellipse cx="14.6" cy="582.0" rx="1.0" ry="0.7" opacity="0.8" transform="rotate(111 14.6 582.0)"/><ellipse cx="26.0" cy="552.4" rx="1.7" ry="1.5" opacity="0.8" transform="rotate(46 26.0 552.4)"/><ellipse cx="37.1" cy="584.7" rx="1.4" ry="1.0" opacity="0.9" transform="rotate(104 37.1 584.7)"/><ellipse cx="20.8" cy="588.9" rx="1.5" ry="1.1" opacity="0.9" transform="rotate(24 20.8 588.9)"/><ellipse cx="8.7" cy="568.3" rx="1.4" ry="1.0" opacity="1.0" transform="rotate(93 8.7 568.3)"/><ellipse cx="36.2" cy="554.8" rx="1.7" ry="1.3" opacity="0.7" transform="rotate(57 36.2 554.8)"/><ellipse cx="7.9" cy="586.9" rx="1.1" ry="0.7" opacity="0.7" transform="rotate(92 7.9 586.9)"/><ellipse cx="28.8" cy="577.0" rx="1.6" ry="1.2" opacity="0.8" transform="rotate(81 28.8 577.0)"/><ellipse cx="15.5" cy="579.1" rx="1.5" ry="1.2" opacity="0.6" transform="rotate(159 15.5 579.1)"/><ellipse cx="35.4" cy="568.3" rx="1.7" ry="1.5" opacity="1.0" transform="rotate(7 35.4 568.3)"/><ellipse cx="34.0" cy="565.4" rx="1.2" ry="0.9" opacity="0.6" transform="rotate(5 34.0 565.4)"/><ellipse cx="26.2" cy="565.5" rx="1.7" ry="1.3" opacity="0.9" transform="rotate(166 26.2 565.5)"/><ellipse cx="25.8" cy="574.7" rx="1.8" ry="1.1" opacity="0.6" transform="rotate(49 25.8 574.7)"/><ellipse cx="30.8" cy="577.8" rx="1.2" ry="0.9" opacity="0.8" transform="rotate(100 30.8 577.8)"/><ellipse cx="8.1" cy="587.8" rx="1.8" ry="1.4" opacity="0.7" transform="rotate(92 8.1 587.8)"/><ellipse cx="15.5" cy="567.5" rx="1.3" ry="1.0" opacity="1.0" transform="rotate(110 15.5 567.5)"/><ellipse cx="20.9" cy="556.5" rx="1.1" ry="0.8" opacity="0.7" transform="rotate(32 20.9 556.5)"/><ellipse cx="25.0" cy="577.8" rx="1.2" ry="1.2" opacity="0.6" transform="rotate(164 25.0 577.8)"/><ellipse cx="12.0" cy="586.9" rx="1.6" ry="1.4" opacity="0.6" transform="rotate(11 12.0 586.9)"/><ellipse cx="8.3" cy="589.1" rx="1.5" ry="0.9" opacity="0.9" transform="rotate(71 8.3 589.1)"/><ellipse cx="18.7" cy="584.3" rx="1.5" ry="0.9" opacity="0.9" transform="rotate(66 18.7 584.3)"/><ellipse cx="27.2" cy="569.4" rx="1.6" ry="1.2" opacity="0.6" transform="rotate(143 27.2 569.4)"/><ellipse cx="19.1" cy="593.4" rx="1.1" ry="1.0" opacity="1.0" transform="rotate(9 19.1 593.4)"/><ellipse cx="18.8" cy="560.4" rx="1.4" ry="1.2" opacity="1.0" transform="rotate(11 18.8 560.4)"/><ellipse cx="10.3" cy="554.3" rx="1.8" ry="1.4" opacity="0.7" transform="rotate(20 10.3 554.3)"/><ellipse cx="37.7" cy="589.4" rx="1.5" ry="1.1" opacity="0.6" transform="rotate(48 37.7 589.4)"/><ellipse cx="2.5" cy="575.5" rx="1.1" ry="0.9" opacity="0.9" transform="rotate(65 2.5 575.5)"/><ellipse cx="5.7" cy="587.9" rx="1.5" ry="1.3" opacity="0.6" transform="rotate(89 5.7 587.9)"/><ellipse cx="35.8" cy="578.3" rx="1.7" ry="1.5" opacity="0.6" transform="rotate(178 35.8 578.3)"/><ellipse cx="34.0" cy="583.3" rx="1.4" ry="1.1" opacity="0.9" transform="rotate(149 34.0 583.3)"/><ellipse cx="26.4" cy="552.6" rx="1.3" ry="1.0" opacity="0.8" transform="rotate(21 26.4 552.6)"/><ellipse cx="15.2" cy="577.0" rx="1.3" ry="0.9" opacity="0.7" transform="rotate(119 15.2 577.0)"/><ellipse cx="23.6" cy="567.8" rx="1.6" ry="1.1" opacity="0.6" transform="rotate(57 23.6 567.8)"/><ellipse cx="25.1" cy="560.0" rx="1.2" ry="0.8" opacity="0.9" transform="rotate(171 25.1 560.0)"/><ellipse cx="27.4" cy="562.7" rx="1.5" ry="1.1" opacity="0.6" transform="rotate(65 27.4 562.7)"/><ellipse cx="0.5" cy="559.5" rx="1.6" ry="1.3" opacity="0.7" transform="rotate(142 0.5 559.5)"/><ellipse cx="5.7" cy="547.8" rx="1.4" ry="0.9" opacity="0.9" transform="rotate(149 5.7 547.8)"/><ellipse cx="3.9" cy="579.7" rx="1.3" ry="1.0" opacity="0.7" transform="rotate(169 3.9 579.7)"/><ellipse cx="36.9" cy="584.3" rx="1.8" ry="1.1" opacity="0.8" transform="rotate(162 36.9 584.3)"/><ellipse cx="16.6" cy="575.8" rx="1.6" ry="1.2" opacity="0.6" transform="rotate(147 16.6 575.8)"/><ellipse cx="27.5" cy="590.5" rx="1.5" ry="1.3" opacity="0.8" transform="rotate(16 27.5 590.5)"/><ellipse cx="38.2" cy="574.0" rx="1.7" ry="1.1" opacity="0.8" transform="rotate(90 38.2 574.0)"/><ellipse cx="17.0" cy="586.9" rx="1.1" ry="0.7" opacity="0.8" transform="rotate(61 17.0 586.9)"/><ellipse cx="28.7" cy="554.5" rx="1.3" ry="0.8" opacity="0.6" transform="rotate(167 28.7 554.5)"/><ellipse cx="16.7" cy="573.2" rx="1.3" ry="1.0" opacity="0.6" transform="rotate(24 16.7 573.2)"/><ellipse cx="6.5" cy="588.8" rx="1.7" ry="1.2" opacity="0.8" transform="rotate(174 6.5 588.8)"/><ellipse cx="12.3" cy="552.8" rx="1.4" ry="1.1" opacity="0.9" transform="rotate(136 12.3 552.8)"/><ellipse cx="8.1" cy="593.0" rx="1.4" ry="0.9" opacity="0.8" transform="rotate(7 8.1 593.0)"/><ellipse cx="23.7" cy="584.5" rx="1.7" ry="1.2" opacity="0.6" transform="rotate(56 23.7 584.5)"/><ellipse cx="23.3" cy="580.3" rx="1.1" ry="0.9" opacity="0.7" transform="rotate(36 23.3 580.3)"/><ellipse cx="25.3" cy="574.3" rx="1.8" ry="1.6" opacity="0.9" transform="rotate(6 25.3 574.3)"/><ellipse cx="7.3" cy="587.2" rx="1.0" ry="0.7" opacity="1.0" transform="rotate(166 7.3 587.2)"/><ellipse cx="18.9" cy="595.2" rx="1.6" ry="1.1" opacity="0.6" transform="rotate(137 18.9 595.2)"/><ellipse cx="7.5" cy="560.3" rx="1.1" ry="0.9" opacity="0.8" transform="rotate(1 7.5 560.3)"/><ellipse cx="13.7" cy="571.6" rx="1.1" ry="0.6" opacity="1.0" transform="rotate(88 13.7 571.6)"/><ellipse cx="19.1" cy="572.4" rx="1.1" ry="0.7" opacity="0.8" transform="rotate(62 19.1 572.4)"/><ellipse cx="8.2" cy="587.3" rx="1.0" ry="0.7" opacity="0.8" transform="rotate(153 8.2 587.3)"/><ellipse cx="14.1" cy="572.5" rx="1.5" ry="1.3" opacity="0.9" transform="rotate(102 14.1 572.5)"/><ellipse cx="2.6" cy="567.9" rx="1.3" ry="0.9" opacity="0.8" transform="rotate(55 2.6 567.9)"/><ellipse cx="23.7" cy="574.1" rx="1.5" ry="1.4" opacity="0.7" transform="rotate(110 23.7 574.1)"/><ellipse cx="35.1" cy="550.7" rx="1.1" ry="1.0" opacity="0.9" transform="rotate(96 35.1 550.7)"/><ellipse cx="25.2" cy="560.9" rx="1.3" ry="0.8" opacity="0.7" transform="rotate(142 25.2 560.9)"/><ellipse cx="8.8" cy="587.8" rx="1.5" ry="1.1" opacity="0.8" transform="rotate(161 8.8 587.8)"/><ellipse cx="5.7" cy="592.8" rx="1.6" ry="1.6" opacity="0.8" transform="rotate(166 5.7 592.8)"/><ellipse cx="35.9" cy="580.5" rx="1.2" ry="1.0" opacity="0.7" transform="rotate(58 35.9 580.5)"/><ellipse cx="21.9" cy="591.4" rx="1.8" ry="1.3" opacity="0.6" transform="rotate(128 21.9 591.4)"/><ellipse cx="33.4" cy="590.9" rx="1.4" ry="1.1" opacity="0.9" transform="rotate(17 33.4 590.9)"/><ellipse cx="9.6" cy="585.9" rx="1.2" ry="1.0" opacity="0.6" transform="rotate(65 9.6 585.9)"/><ellipse cx="20.6" cy="582.3" rx="1.7" ry="1.0" opacity="0.8" transform="rotate(21 20.6 582.3)"/><ellipse cx="20.6" cy="576.4" rx="1.6" ry="1.4" opacity="0.7" transform="rotate(92 20.6 576.4)"/><ellipse cx="6.1" cy="576.7" rx="1.2" ry="1.0" opacity="0.7" transform="rotate(90 6.1 576.7)"/><ellipse cx="18.7" cy="554.6" rx="1.3" ry="0.9" opacity="1.0" transform="rotate(20 18.7 554.6)"/><ellipse cx="16.6" cy="578.5" rx="1.8" ry="1.6" opacity="0.7" transform="rotate(85 16.6 578.5)"/><ellipse cx="38.5" cy="565.5" rx="1.1" ry="1.0" opacity="1.0" transform="rotate(55 38.5 565.5)"/><ellipse cx="9.9" cy="553.1" rx="1.8" ry="1.4" opacity="0.8" transform="rotate(57 9.9 553.1)"/><ellipse cx="3.2" cy="560.4" rx="1.7" ry="1.5" opacity="0.7" transform="rotate(29 3.2 560.4)"/><ellipse cx="12.1" cy="580.0" rx="1.4" ry="1.1" opacity="0.7" transform="rotate(117 12.1 580.0)"/><ellipse cx="33.1" cy="591.7" rx="1.1" ry="0.8" opacity="0.7" transform="rotate(45 33.1 591.7)"/><ellipse cx="38.3" cy="559.0" rx="1.2" ry="1.0" opacity="1.0" transform="rotate(146 38.3 559.0)"/></g><g id="k3"><ellipse cx="20.4" cy="562.9" rx="1.2" ry="0.8" opacity="0.6" transform="rotate(139 20.4 562.9)"/><ellipse cx="7.8" cy="563.7" rx="1.4" ry="1.1" opacity="0.6" transform="rotate(153 7.8 563.7)"/><ellipse cx="23.3" cy="561.8" rx="1.3" ry="0.9" opacity="0.6" transform="rotate(67 23.3 561.8)"/><ellipse cx="37.4" cy="568.6" rx="1.5" ry="1.0" opacity="0.9" transform="rotate(129 37.4 568.6)"/><ellipse cx="12.0" cy="583.9" rx="1.2" ry="0.9" opacity="0.9" transform="rotate(67 12.0 583.9)"/><ellipse cx="18.3" cy="565.6" rx="1.1" ry="1.0" opacity="0.8" transform="rotate(166 18.3 565.6)"/><ellipse cx="15.0" cy="563.7" rx="1.2" ry="1.1" opacity="0.9" transform="rotate(92 15.0 563.7)"/><ellipse cx="17.5" cy="581.7" rx="1.3" ry="1.2" opacity="0.9" transform="rotate(98 17.5 581.7)"/><ellipse cx="5.1" cy="581.2" rx="1.3" ry="1.2" opacity="0.6" transform="rotate(15 5.1 581.2)"/><ellipse cx="31.0" cy="561.6" rx="1.1" ry="0.9" opacity="0.9" transform="rotate(115 31.0 561.6)"/><ellipse cx="0.0" cy="580.5" rx="1.0" ry="0.8" opacity="1.0" transform="rotate(147 0.0 580.5)"/><ellipse cx="9.1" cy="570.4" rx="1.6" ry="1.4" opacity="0.8" transform="rotate(152 9.1 570.4)"/><ellipse cx="33.9" cy="570.0" rx="1.6" ry="1.5" opacity="0.7" transform="rotate(116 33.9 570.0)"/><ellipse cx="3.7" cy="564.8" rx="1.3" ry="0.8" opacity="0.7" transform="rotate(115 3.7 564.8)"/><ellipse cx="9.5" cy="571.2" rx="1.5" ry="0.9" opacity="0.7" transform="rotate(18 9.5 571.2)"/><ellipse cx="6.7" cy="582.0" rx="1.2" ry="0.8" opacity="0.7" transform="rotate(121 6.7 582.0)"/><ellipse cx="3.6" cy="584.9" rx="0.9" ry="0.8" opacity="1.0" transform="rotate(39 3.6 584.9)"/><ellipse cx="15.5" cy="564.4" rx="1.2" ry="1.1" opacity="1.0" transform="rotate(31 15.5 564.4)"/><ellipse cx="35.0" cy="553.1" rx="1.0" ry="0.9" opacity="0.6" transform="rotate(57 35.0 553.1)"/><ellipse cx="32.6" cy="567.1" rx="1.6" ry="1.3" opacity="0.9" transform="rotate(48 32.6 567.1)"/><ellipse cx="0.8" cy="568.7" rx="1.0" ry="0.8" opacity="0.7" transform="rotate(132 0.8 568.7)"/><ellipse cx="18.5" cy="560.3" rx="1.2" ry="1.0" opacity="0.8" transform="rotate(175 18.5 560.3)"/><ellipse cx="23.6" cy="567.7" rx="1.4" ry="1.2" opacity="0.7" transform="rotate(13 23.6 567.7)"/><ellipse cx="22.5" cy="572.3" rx="0.9" ry="0.6" opacity="0.7" transform="rotate(138 22.5 572.3)"/><ellipse cx="11.2" cy="583.4" rx="1.3" ry="0.9" opacity="0.7" transform="rotate(138 11.2 583.4)"/><ellipse cx="23.1" cy="558.6" rx="1.5" ry="1.0" opacity="0.6" transform="rotate(64 23.1 558.6)"/><ellipse cx="28.2" cy="558.5" rx="1.1" ry="0.7" opacity="0.8" transform="rotate(31 28.2 558.5)"/><ellipse cx="16.5" cy="578.7" rx="1.4" ry="1.2" opacity="0.9" transform="rotate(55 16.5 578.7)"/><ellipse cx="27.4" cy="553.8" rx="1.6" ry="1.4" opacity="0.6" transform="rotate(57 27.4 553.8)"/><ellipse cx="29.0" cy="576.6" rx="1.3" ry="0.9" opacity="0.8" transform="rotate(79 29.0 576.6)"/><ellipse cx="36.4" cy="554.7" rx="1.3" ry="1.0" opacity="0.7" transform="rotate(23 36.4 554.7)"/><ellipse cx="1.1" cy="566.9" rx="1.2" ry="0.9" opacity="0.7" transform="rotate(90 1.1 566.9)"/><ellipse cx="33.8" cy="554.3" rx="1.6" ry="1.2" opacity="0.9" transform="rotate(41 33.8 554.3)"/><ellipse cx="15.8" cy="579.1" rx="1.5" ry="1.1" opacity="0.6" transform="rotate(110 15.8 579.1)"/><ellipse cx="19.0" cy="579.0" rx="1.3" ry="1.1" opacity="0.6" transform="rotate(39 19.0 579.0)"/><ellipse cx="30.4" cy="567.0" rx="1.5" ry="1.2" opacity="0.7" transform="rotate(163 30.4 567.0)"/><ellipse cx="22.4" cy="570.2" rx="1.3" ry="1.2" opacity="0.6" transform="rotate(172 22.4 570.2)"/><ellipse cx="26.1" cy="565.7" rx="1.1" ry="1.0" opacity="0.7" transform="rotate(108 26.1 565.7)"/><ellipse cx="33.8" cy="566.0" rx="1.2" ry="1.0" opacity="0.9" transform="rotate(131 33.8 566.0)"/><ellipse cx="18.7" cy="558.3" rx="1.3" ry="0.8" opacity="0.9" transform="rotate(107 18.7 558.3)"/><ellipse cx="6.3" cy="583.8" rx="1.3" ry="0.9" opacity="0.7" transform="rotate(97 6.3 583.8)"/><ellipse cx="30.8" cy="562.9" rx="1.5" ry="1.3" opacity="0.8" transform="rotate(20 30.8 562.9)"/><ellipse cx="4.3" cy="572.8" rx="1.4" ry="1.1" opacity="0.9" transform="rotate(141 4.3 572.8)"/><ellipse cx="27.9" cy="566.1" rx="1.1" ry="0.9" opacity="0.9" transform="rotate(29 27.9 566.1)"/><ellipse cx="1.1" cy="566.4" rx="1.3" ry="1.3" opacity="0.6" transform="rotate(146 1.1 566.4)"/><ellipse cx="17.0" cy="561.7" rx="0.9" ry="0.8" opacity="0.7" transform="rotate(40 17.0 561.7)"/><ellipse cx="29.1" cy="577.0" rx="1.3" ry="0.8" opacity="1.0" transform="rotate(124 29.1 577.0)"/><ellipse cx="27.1" cy="568.8" rx="1.0" ry="0.6" opacity="0.8" transform="rotate(90 27.1 568.8)"/><ellipse cx="34.4" cy="570.1" rx="1.6" ry="1.3" opacity="0.9" transform="rotate(82 34.4 570.1)"/><ellipse cx="33.8" cy="556.5" rx="1.0" ry="0.6" opacity="0.8" transform="rotate(61 33.8 556.5)"/><ellipse cx="33.8" cy="565.8" rx="1.1" ry="0.9" opacity="0.6" transform="rotate(99 33.8 565.8)"/><ellipse cx="22.4" cy="565.5" rx="1.2" ry="1.1" opacity="1.0" transform="rotate(79 22.4 565.5)"/><ellipse cx="3.9" cy="580.1" rx="1.0" ry="0.8" opacity="1.0" transform="rotate(29 3.9 580.1)"/><ellipse cx="14.9" cy="568.9" rx="1.7" ry="1.3" opacity="0.7" transform="rotate(115 14.9 568.9)"/><ellipse cx="22.9" cy="564.4" rx="1.3" ry="1.2" opacity="0.8" transform="rotate(89 22.9 564.4)"/><ellipse cx="11.2" cy="569.4" rx="1.1" ry="0.8" opacity="0.8" transform="rotate(67 11.2 569.4)"/><ellipse cx="17.5" cy="564.7" rx="1.5" ry="1.0" opacity="0.9" transform="rotate(53 17.5 564.7)"/><ellipse cx="33.7" cy="568.4" rx="1.2" ry="1.0" opacity="0.8" transform="rotate(173 33.7 568.4)"/><ellipse cx="37.4" cy="558.1" rx="1.6" ry="1.4" opacity="0.7" transform="rotate(159 37.4 558.1)"/><ellipse cx="9.6" cy="563.6" rx="1.3" ry="1.0" opacity="0.6" transform="rotate(144 9.6 563.6)"/><ellipse cx="36.6" cy="563.5" rx="1.1" ry="0.8" opacity="0.7" transform="rotate(4 36.6 563.5)"/><ellipse cx="27.5" cy="569.1" rx="1.1" ry="0.7" opacity="0.7" transform="rotate(26 27.5 569.1)"/><ellipse cx="17.0" cy="576.4" rx="1.4" ry="1.3" opacity="0.6" transform="rotate(98 17.0 576.4)"/><ellipse cx="11.0" cy="581.6" rx="0.9" ry="0.8" opacity="0.9" transform="rotate(71 11.0 581.6)"/><ellipse cx="9.8" cy="574.2" rx="1.0" ry="0.8" opacity="0.7" transform="rotate(61 9.8 574.2)"/><ellipse cx="27.4" cy="567.3" rx="1.0" ry="0.8" opacity="1.0" transform="rotate(135 27.4 567.3)"/><ellipse cx="28.3" cy="560.3" rx="1.5" ry="1.3" opacity="0.9" transform="rotate(141 28.3 560.3)"/><ellipse cx="31.9" cy="565.0" rx="1.7" ry="1.6" opacity="0.6" transform="rotate(163 31.9 565.0)"/><ellipse cx="29.4" cy="557.7" rx="1.5" ry="1.0" opacity="0.8" transform="rotate(7 29.4 557.7)"/><ellipse cx="31.0" cy="566.4" rx="1.2" ry="0.8" opacity="0.6" transform="rotate(166 31.0 566.4)"/></g><g id="k4"><ellipse cx="20.4" cy="562.9" rx="1.2" ry="0.8" opacity="0.6" transform="rotate(139 20.4 562.9)"/><ellipse cx="37.4" cy="568.6" rx="1.5" ry="1.0" opacity="0.9" transform="rotate(129 37.4 568.6)"/><ellipse cx="15.0" cy="563.7" rx="1.2" ry="1.1" opacity="0.9" transform="rotate(92 15.0 563.7)"/><ellipse cx="31.0" cy="561.6" rx="1.1" ry="0.9" opacity="0.9" transform="rotate(115 31.0 561.6)"/><ellipse cx="33.9" cy="570.0" rx="1.6" ry="1.5" opacity="0.7" transform="rotate(116 33.9 570.0)"/><ellipse cx="6.7" cy="582.0" rx="1.2" ry="0.8" opacity="0.7" transform="rotate(121 6.7 582.0)"/><ellipse cx="35.0" cy="553.1" rx="1.0" ry="0.9" opacity="0.6" transform="rotate(57 35.0 553.1)"/><ellipse cx="18.5" cy="560.3" rx="1.2" ry="1.0" opacity="0.8" transform="rotate(175 18.5 560.3)"/><ellipse cx="11.2" cy="583.4" rx="1.3" ry="0.9" opacity="0.7" transform="rotate(138 11.2 583.4)"/><ellipse cx="16.5" cy="578.7" rx="1.4" ry="1.2" opacity="0.9" transform="rotate(55 16.5 578.7)"/><ellipse cx="36.4" cy="554.7" rx="1.3" ry="1.0" opacity="0.7" transform="rotate(23 36.4 554.7)"/><ellipse cx="15.8" cy="579.1" rx="1.5" ry="1.1" opacity="0.6" transform="rotate(110 15.8 579.1)"/><ellipse cx="22.4" cy="570.2" rx="1.3" ry="1.2" opacity="0.6" transform="rotate(172 22.4 570.2)"/><ellipse cx="18.7" cy="558.3" rx="1.3" ry="0.8" opacity="0.9" transform="rotate(107 18.7 558.3)"/><ellipse cx="4.3" cy="572.8" rx="1.4" ry="1.1" opacity="0.9" transform="rotate(141 4.3 572.8)"/><ellipse cx="17.0" cy="561.7" rx="0.9" ry="0.8" opacity="0.7" transform="rotate(40 17.0 561.7)"/><ellipse cx="34.4" cy="570.1" rx="1.6" ry="1.3" opacity="0.9" transform="rotate(82 34.4 570.1)"/><ellipse cx="22.4" cy="565.5" rx="1.2" ry="1.1" opacity="1.0" transform="rotate(79 22.4 565.5)"/><ellipse cx="22.9" cy="564.4" rx="1.3" ry="1.2" opacity="0.8" transform="rotate(89 22.9 564.4)"/><ellipse cx="33.7" cy="568.4" rx="1.2" ry="1.0" opacity="0.8" transform="rotate(173 33.7 568.4)"/><ellipse cx="36.6" cy="563.5" rx="1.1" ry="0.8" opacity="0.7" transform="rotate(4 36.6 563.5)"/><ellipse cx="11.0" cy="581.6" rx="0.9" ry="0.8" opacity="0.9" transform="rotate(71 11.0 581.6)"/><ellipse cx="28.3" cy="560.3" rx="1.5" ry="1.3" opacity="0.9" transform="rotate(141 28.3 560.3)"/><ellipse cx="31.0" cy="566.4" rx="1.2" ry="0.8" opacity="0.6" transform="rotate(166 31.0 566.4)"/></g><clipPath id="c26"><rect x="312.00" y="540.10" width="38.80" height="57.80"/></clipPath><clipPath id="c27"><rect x="354.00" y="540.10" width="38.80" height="57.80"/></clipPath><clipPath id="c28"><rect x="395.80" y="540.10" width="38.80" height="57.80"/></clipPath><filter id="f65" x="0" y="0" width="1" height="1" color-interpolation-filters="sRGB"><feTurbulence type="fractalNoise" baseFrequency="0.3" numOctaves="2" seed="801" result="n"/><feColorMatrix in="n" type="matrix" values="0 0 0 0 0 0 0 0 0 0 0 0 0 0 0 6.5 0 0 0 -3.250" result="a"/><feComposite in="SourceGraphic" in2="a" operator="in"/><feGaussianBlur stdDeviation="0.5"/></filter><filter id="f66" x="0" y="0" width="1" height="1" color-interpolation-filters="sRGB"><feTurbulence type="fractalNoise" baseFrequency="0.2" numOctaves="2" seed="810" result="n"/><feColorMatrix in="n" type="matrix" values="0 0 0 0 0 0 0 0 0 0 0 0 0 0 0 6.5 0 0 0 -3.640" result="a"/><feComposite in="SourceGraphic" in2="a" operator="in"/><feGaussianBlur stdDeviation="0.5"/></filter><filter id="f67" x="0" y="0" width="1" height="1" color-interpolation-filters="sRGB"><feTurbulence type="fractalNoise" baseFrequency="0.3" numOctaves="2" seed="806" result="n"/><feColorMatrix in="n" type="matrix" values="0 0 0 0 0 0 0 0 0 0 0 0 0 0 0 6.5 0 0 0 -3.380" result="a"/><feComposite in="SourceGraphic" in2="a" operator="in"/><feGaussianBlur stdDeviation="0.5"/></filter><linearGradient id="g48" x1="0" y1="0" x2="0" y2="1"><stop offset="0" stop-color="#140101" stop-opacity="1"/><stop offset="0.6" stop-color="#0c0000" stop-opacity="1"/><stop offset="1" stop-color="#030000" stop-opacity="1"/></linearGradient><filter id="f68" x="0" y="0" width="1" height="1" color-interpolation-filters="sRGB"><feTurbulence type="fractalNoise" baseFrequency="0.2" numOctaves="2" seed="810" result="n"/><feColorMatrix in="n" type="matrix" values="0 0 0 0 0 0 0 0 0 0 0 0 0 0 0 6.5 0 0 0 -3.770" result="a"/><feComposite in="SourceGraphic" in2="a" operator="in"/><feGaussianBlur stdDeviation="0.5"/></filter><clipPath id="c29"><rect x="270.20" y="639.30" width="38.40" height="58.40"/></clipPath><g id="k5"><ellipse cx="21.1" cy="671.5" rx="1.6" ry="1.1" opacity="0.8" transform="rotate(162 21.1 671.5)"/><ellipse cx="25.7" cy="694.1" rx="2.2" ry="1.7" opacity="0.9" transform="rotate(133 25.7 694.1)"/><ellipse cx="35.7" cy="684.3" rx="1.8" ry="1.2" opacity="0.6" transform="rotate(93 35.7 684.3)"/><ellipse cx="20.7" cy="692.2" rx="2.1" ry="1.8" opacity="0.9" transform="rotate(24 20.7 692.2)"/><ellipse cx="13.2" cy="687.2" rx="2.2" ry="1.9" opacity="0.7" transform="rotate(130 13.2 687.2)"/><ellipse cx="33.9" cy="673.8" rx="2.2" ry="1.6" opacity="0.6" transform="rotate(76 33.9 673.8)"/><ellipse cx="28.3" cy="685.3" rx="1.7" ry="1.2" opacity="0.7" transform="rotate(128 28.3 685.3)"/><ellipse cx="27.3" cy="677.2" rx="1.7" ry="1.2" opacity="0.9" transform="rotate(27 27.3 677.2)"/><ellipse cx="3.5" cy="669.7" rx="1.4" ry="1.3" opacity="0.6" transform="rotate(45 3.5 669.7)"/><ellipse cx="23.0" cy="681.4" rx="2.2" ry="2.1" opacity="0.6" transform="rotate(68 23.0 681.4)"/><ellipse cx="22.1" cy="690.0" rx="1.9" ry="1.2" opacity="0.6" transform="rotate(140 22.1 690.0)"/><ellipse cx="3.5" cy="692.2" rx="1.4" ry="1.0" opacity="1.0" transform="rotate(13 3.5 692.2)"/><ellipse cx="30.3" cy="683.4" rx="1.4" ry="1.0" opacity="0.7" transform="rotate(13 30.3 683.4)"/><ellipse cx="17.5" cy="686.7" rx="1.7" ry="1.5" opacity="0.7" transform="rotate(74 17.5 686.7)"/><ellipse cx="33.3" cy="666.4" rx="2.2" ry="1.5" opacity="0.6" transform="rotate(72 33.3 666.4)"/><ellipse cx="26.3" cy="693.9" rx="2.2" ry="2.1" opacity="0.8" transform="rotate(56 26.3 693.9)"/><ellipse cx="9.2" cy="691.1" rx="1.7" ry="1.1" opacity="1.0" transform="rotate(130 9.2 691.1)"/><ellipse cx="10.0" cy="677.4" rx="2.2" ry="1.6" opacity="0.9" transform="rotate(106 10.0 677.4)"/><ellipse cx="34.0" cy="672.6" rx="2.2" ry="1.4" opacity="1.0" transform="rotate(2 34.0 672.6)"/><ellipse cx="27.1" cy="677.8" rx="1.6" ry="1.4" opacity="0.6" transform="rotate(5 27.1 677.8)"/><ellipse cx="16.1" cy="688.1" rx="2.0" ry="1.5" opacity="0.9" transform="rotate(61 16.1 688.1)"/><ellipse cx="30.9" cy="670.1" rx="1.9" ry="1.7" opacity="0.8" transform="rotate(88 30.9 670.1)"/><ellipse cx="27.6" cy="682.1" rx="2.1" ry="1.5" opacity="1.0" transform="rotate(153 27.6 682.1)"/><ellipse cx="37.3" cy="681.0" rx="2.2" ry="2.0" opacity="0.7" transform="rotate(9 37.3 681.0)"/><ellipse cx="0.4" cy="695.7" rx="1.4" ry="1.3" opacity="0.7" transform="rotate(99 0.4 695.7)"/><ellipse cx="28.2" cy="666.4" rx="1.4" ry="1.3" opacity="0.7" transform="rotate(54 28.2 666.4)"/><ellipse cx="22.6" cy="679.4" rx="1.7" ry="1.3" opacity="0.7" transform="rotate(60 22.6 679.4)"/><ellipse cx="15.1" cy="686.9" rx="1.8" ry="1.4" opacity="0.9" transform="rotate(16 15.1 686.9)"/><ellipse cx="37.3" cy="688.2" rx="1.6" ry="1.0" opacity="0.6" transform="rotate(93 37.3 688.2)"/><ellipse cx="11.7" cy="676.6" rx="1.6" ry="1.2" opacity="0.6" transform="rotate(123 11.7 676.6)"/><ellipse cx="38.1" cy="689.6" rx="1.9" ry="1.2" opacity="0.6" transform="rotate(120 38.1 689.6)"/><ellipse cx="10.0" cy="669.8" rx="1.5" ry="0.9" opacity="0.8" transform="rotate(87 10.0 669.8)"/><ellipse cx="36.9" cy="671.2" rx="2.0" ry="1.3" opacity="0.9" transform="rotate(117 36.9 671.2)"/><ellipse cx="29.7" cy="695.5" rx="1.8" ry="1.1" opacity="0.7" transform="rotate(177 29.7 695.5)"/><ellipse cx="29.0" cy="667.4" rx="2.0" ry="1.2" opacity="0.9" transform="rotate(179 29.0 667.4)"/><ellipse cx="31.0" cy="676.9" rx="1.6" ry="1.4" opacity="0.7" transform="rotate(104 31.0 676.9)"/><ellipse cx="16.5" cy="686.4" rx="1.6" ry="1.3" opacity="0.6" transform="rotate(72 16.5 686.4)"/><ellipse cx="37.6" cy="670.7" rx="1.7" ry="1.6" opacity="0.6" transform="rotate(58 37.6 670.7)"/><ellipse cx="10.2" cy="677.1" rx="2.0" ry="1.4" opacity="0.8" transform="rotate(59 10.2 677.1)"/><ellipse cx="18.0" cy="670.7" rx="1.4" ry="1.1" opacity="0.9" transform="rotate(122 18.0 670.7)"/><ellipse cx="12.6" cy="675.3" rx="1.9" ry="1.4" opacity="0.7" transform="rotate(102 12.6 675.3)"/><ellipse cx="1.8" cy="687.4" rx="1.8" ry="1.4" opacity="1.0" transform="rotate(125 1.8 687.4)"/><ellipse cx="31.7" cy="669.8" rx="2.2" ry="1.6" opacity="0.9" transform="rotate(166 31.7 669.8)"/><ellipse cx="5.0" cy="670.4" rx="1.6" ry="1.4" opacity="0.7" transform="rotate(133 5.0 670.4)"/><ellipse cx="34.9" cy="672.1" rx="1.4" ry="0.9" opacity="0.7" transform="rotate(62 34.9 672.1)"/><ellipse cx="10.4" cy="674.9" rx="1.8" ry="1.6" opacity="0.9" transform="rotate(61 10.4 674.9)"/><ellipse cx="28.6" cy="669.7" rx="2.0" ry="1.2" opacity="1.0" transform="rotate(24 28.6 669.7)"/><ellipse cx="4.3" cy="673.5" rx="1.9" ry="1.3" opacity="0.9" transform="rotate(28 4.3 673.5)"/><ellipse cx="9.6" cy="688.0" rx="2.0" ry="1.4" opacity="0.9" transform="rotate(126 9.6 688.0)"/><ellipse cx="14.6" cy="693.7" rx="2.0" ry="1.5" opacity="0.9" transform="rotate(148 14.6 693.7)"/><ellipse cx="23.9" cy="688.7" rx="1.9" ry="1.2" opacity="0.9" transform="rotate(106 23.9 688.7)"/><ellipse cx="0.4" cy="682.9" rx="1.8" ry="1.1" opacity="0.6" transform="rotate(20 0.4 682.9)"/><ellipse cx="22.6" cy="685.3" rx="1.8" ry="1.4" opacity="0.7" transform="rotate(145 22.6 685.3)"/><ellipse cx="31.7" cy="692.6" rx="2.0" ry="1.3" opacity="0.6" transform="rotate(130 31.7 692.6)"/><ellipse cx="23.5" cy="682.8" rx="1.4" ry="1.0" opacity="0.9" transform="rotate(169 23.5 682.8)"/><ellipse cx="18.6" cy="670.5" rx="1.3" ry="0.9" opacity="0.7" transform="rotate(164 18.6 670.5)"/><ellipse cx="31.3" cy="687.4" rx="2.1" ry="1.5" opacity="0.6" transform="rotate(175 31.3 687.4)"/><ellipse cx="9.8" cy="670.5" rx="1.7" ry="1.4" opacity="0.6" transform="rotate(153 9.8 670.5)"/><ellipse cx="11.1" cy="673.8" rx="1.9" ry="1.7" opacity="0.9" transform="rotate(121 11.1 673.8)"/><ellipse cx="38.1" cy="691.2" rx="2.3" ry="1.8" opacity="0.9" transform="rotate(85 38.1 691.2)"/><ellipse cx="36.9" cy="668.7" rx="1.4" ry="1.1" opacity="0.8" transform="rotate(40 36.9 668.7)"/><ellipse cx="32.1" cy="697.5" rx="1.6" ry="1.3" opacity="0.9" transform="rotate(8 32.1 697.5)"/><ellipse cx="25.3" cy="674.1" rx="2.2" ry="1.6" opacity="0.6" transform="rotate(57 25.3 674.1)"/><ellipse cx="34.1" cy="674.5" rx="1.9" ry="1.7" opacity="0.9" transform="rotate(177 34.1 674.5)"/><ellipse cx="34.2" cy="677.8" rx="1.3" ry="0.9" opacity="0.7" transform="rotate(80 34.2 677.8)"/><ellipse cx="25.8" cy="677.3" rx="1.6" ry="1.5" opacity="1.0" transform="rotate(57 25.8 677.3)"/><ellipse cx="10.0" cy="681.9" rx="1.6" ry="1.2" opacity="1.0" transform="rotate(107 10.0 681.9)"/><ellipse cx="14.8" cy="676.6" rx="1.3" ry="1.0" opacity="0.6" transform="rotate(57 14.8 676.6)"/><ellipse cx="23.8" cy="673.2" rx="1.7" ry="1.2" opacity="0.9" transform="rotate(85 23.8 673.2)"/><ellipse cx="23.6" cy="677.2" rx="1.4" ry="0.9" opacity="0.8" transform="rotate(36 23.6 677.2)"/><ellipse cx="20.9" cy="689.6" rx="1.6" ry="1.3" opacity="1.0" transform="rotate(22 20.9 689.6)"/><ellipse cx="7.8" cy="695.8" rx="2.1" ry="1.7" opacity="0.6" transform="rotate(42 7.8 695.8)"/><ellipse cx="34.1" cy="691.6" rx="2.1" ry="1.7" opacity="0.9" transform="rotate(132 34.1 691.6)"/><ellipse cx="9.3" cy="688.4" rx="2.0" ry="1.8" opacity="0.9" transform="rotate(25 9.3 688.4)"/><ellipse cx="4.2" cy="680.2" rx="2.1" ry="1.4" opacity="0.9" transform="rotate(124 4.2 680.2)"/></g><g id="k6"><ellipse cx="4.2" cy="667.8" rx="1.4" ry="1.4" opacity="0.8" transform="rotate(43 4.2 667.8)"/><ellipse cx="32.7" cy="682.2" rx="1.7" ry="1.4" opacity="0.9" transform="rotate(160 32.7 682.2)"/><ellipse cx="25.7" cy="689.4" rx="1.3" ry="0.9" opacity="1.0" transform="rotate(101 25.7 689.4)"/><ellipse cx="5.2" cy="681.1" rx="1.6" ry="1.2" opacity="0.7" transform="rotate(53 5.2 681.1)"/><ellipse cx="12.0" cy="679.9" rx="1.6" ry="1.4" opacity="0.7" transform="rotate(116 12.0 679.9)"/><ellipse cx="32.6" cy="681.3" rx="1.5" ry="1.3" opacity="0.6" transform="rotate(33 32.6 681.3)"/><ellipse cx="2.6" cy="688.9" rx="2.1" ry="1.9" opacity="0.6" transform="rotate(47 2.6 688.9)"/><ellipse cx="8.5" cy="683.2" rx="1.5" ry="1.3" opacity="0.9" transform="rotate(100 8.5 683.2)"/><ellipse cx="12.5" cy="672.9" rx="1.7" ry="1.6" opacity="0.9" transform="rotate(177 12.5 672.9)"/><ellipse cx="3.7" cy="682.6" rx="1.6" ry="1.4" opacity="0.7" transform="rotate(24 3.7 682.6)"/><ellipse cx="34.0" cy="672.2" rx="1.5" ry="1.3" opacity="0.9" transform="rotate(151 34.0 672.2)"/><ellipse cx="6.1" cy="678.1" rx="1.8" ry="1.5" opacity="0.6" transform="rotate(122 6.1 678.1)"/><ellipse cx="13.1" cy="671.8" rx="1.5" ry="1.3" opacity="0.8" transform="rotate(76 13.1 671.8)"/><ellipse cx="10.5" cy="673.9" rx="2.1" ry="1.3" opacity="0.9" transform="rotate(7 10.5 673.9)"/><ellipse cx="16.9" cy="680.9" rx="2.1" ry="1.5" opacity="1.0" transform="rotate(53 16.9 680.9)"/><ellipse cx="18.9" cy="670.2" rx="1.8" ry="1.2" opacity="1.0" transform="rotate(17 18.9 670.2)"/><ellipse cx="6.7" cy="668.8" rx="1.3" ry="0.9" opacity="0.9" transform="rotate(175 6.7 668.8)"/><ellipse cx="35.9" cy="677.3" rx="1.8" ry="1.2" opacity="0.8" transform="rotate(164 35.9 677.3)"/><ellipse cx="32.3" cy="681.7" rx="1.3" ry="1.2" opacity="0.7" transform="rotate(146 32.3 681.7)"/><ellipse cx="13.1" cy="679.5" rx="1.6" ry="1.0" opacity="1.0" transform="rotate(43 13.1 679.5)"/><ellipse cx="11.0" cy="683.4" rx="1.8" ry="1.1" opacity="0.7" transform="rotate(61 11.0 683.4)"/><ellipse cx="14.9" cy="685.3" rx="1.2" ry="0.8" opacity="0.9" transform="rotate(133 14.9 685.3)"/><ellipse cx="0.9" cy="685.6" rx="1.3" ry="1.2" opacity="1.0" transform="rotate(137 0.9 685.6)"/><ellipse cx="36.9" cy="673.6" rx="1.7" ry="1.6" opacity="0.9" transform="rotate(120 36.9 673.6)"/><ellipse cx="5.8" cy="671.2" rx="1.9" ry="1.3" opacity="0.8" transform="rotate(106 5.8 671.2)"/><ellipse cx="25.9" cy="669.0" rx="2.2" ry="1.6" opacity="1.0" transform="rotate(86 25.9 669.0)"/><ellipse cx="11.0" cy="682.3" rx="1.5" ry="1.4" opacity="0.8" transform="rotate(4 11.0 682.3)"/><ellipse cx="15.8" cy="676.6" rx="1.8" ry="1.4" opacity="0.6" transform="rotate(46 15.8 676.6)"/><ellipse cx="21.9" cy="672.9" rx="1.7" ry="1.2" opacity="0.9" transform="rotate(88 21.9 672.9)"/><ellipse cx="36.3" cy="678.4" rx="1.2" ry="1.0" opacity="0.6" transform="rotate(64 36.3 678.4)"/><ellipse cx="21.9" cy="688.5" rx="2.0" ry="1.5" opacity="1.0" transform="rotate(138 21.9 688.5)"/><ellipse cx="35.9" cy="668.4" rx="2.1" ry="1.6" opacity="0.7" transform="rotate(171 35.9 668.4)"/><ellipse cx="8.8" cy="687.8" rx="2.1" ry="1.5" opacity="0.8" transform="rotate(132 8.8 687.8)"/><ellipse cx="6.3" cy="668.7" rx="1.5" ry="1.0" opacity="0.9" transform="rotate(41 6.3 668.7)"/><ellipse cx="20.1" cy="673.4" rx="2.1" ry="1.5" opacity="0.6" transform="rotate(93 20.1 673.4)"/><ellipse cx="14.2" cy="677.9" rx="2.0" ry="1.8" opacity="0.8" transform="rotate(89 14.2 677.9)"/><ellipse cx="25.7" cy="682.6" rx="1.4" ry="0.9" opacity="0.9" transform="rotate(37 25.7 682.6)"/><ellipse cx="10.8" cy="677.7" rx="1.6" ry="1.0" opacity="0.8" transform="rotate(48 10.8 677.7)"/><ellipse cx="14.1" cy="692.8" rx="1.3" ry="1.2" opacity="0.6" transform="rotate(164 14.1 692.8)"/><ellipse cx="30.1" cy="682.4" rx="1.3" ry="1.0" opacity="0.9" transform="rotate(19 30.1 682.4)"/><ellipse cx="33.4" cy="675.8" rx="2.0" ry="1.3" opacity="0.7" transform="rotate(164 33.4 675.8)"/><ellipse cx="34.0" cy="685.5" rx="1.5" ry="1.4" opacity="0.9" transform="rotate(128 34.0 685.5)"/><ellipse cx="36.6" cy="686.2" rx="1.3" ry="0.9" opacity="0.9" transform="rotate(4 36.6 686.2)"/><ellipse cx="24.4" cy="681.0" rx="1.4" ry="1.0" opacity="0.8" transform="rotate(103 24.4 681.0)"/><ellipse cx="13.5" cy="690.7" rx="1.5" ry="1.1" opacity="0.9" transform="rotate(152 13.5 690.7)"/><ellipse cx="22.4" cy="679.6" rx="2.1" ry="1.7" opacity="0.6" transform="rotate(179 22.4 679.6)"/><ellipse cx="14.1" cy="679.4" rx="1.8" ry="1.2" opacity="0.6" transform="rotate(17 14.1 679.4)"/><ellipse cx="11.8" cy="686.9" rx="1.7" ry="1.2" opacity="0.8" transform="rotate(107 11.8 686.9)"/></g><g id="k7"><ellipse cx="4.2" cy="667.8" rx="1.4" ry="1.4" opacity="0.8" transform="rotate(43 4.2 667.8)"/><ellipse cx="5.2" cy="681.1" rx="1.6" ry="1.2" opacity="0.7" transform="rotate(53 5.2 681.1)"/><ellipse cx="2.6" cy="688.9" rx="2.1" ry="1.9" opacity="0.6" transform="rotate(47 2.6 688.9)"/><ellipse cx="3.7" cy="682.6" rx="1.6" ry="1.4" opacity="0.7" transform="rotate(24 3.7 682.6)"/><ellipse cx="13.1" cy="671.8" rx="1.5" ry="1.3" opacity="0.8" transform="rotate(76 13.1 671.8)"/><ellipse cx="18.9" cy="670.2" rx="1.8" ry="1.2" opacity="1.0" transform="rotate(17 18.9 670.2)"/><ellipse cx="32.3" cy="681.7" rx="1.3" ry="1.2" opacity="0.7" transform="rotate(146 32.3 681.7)"/><ellipse cx="14.9" cy="685.3" rx="1.2" ry="0.8" opacity="0.9" transform="rotate(133 14.9 685.3)"/><ellipse cx="5.8" cy="671.2" rx="1.9" ry="1.3" opacity="0.8" transform="rotate(106 5.8 671.2)"/><ellipse cx="15.8" cy="676.6" rx="1.8" ry="1.4" opacity="0.6" transform="rotate(46 15.8 676.6)"/><ellipse cx="21.9" cy="688.5" rx="2.0" ry="1.5" opacity="1.0" transform="rotate(138 21.9 688.5)"/><ellipse cx="6.3" cy="668.7" rx="1.5" ry="1.0" opacity="0.9" transform="rotate(41 6.3 668.7)"/><ellipse cx="25.7" cy="682.6" rx="1.4" ry="0.9" opacity="0.9" transform="rotate(37 25.7 682.6)"/><ellipse cx="30.1" cy="682.4" rx="1.3" ry="1.0" opacity="0.9" transform="rotate(19 30.1 682.4)"/><ellipse cx="36.6" cy="686.2" rx="1.3" ry="0.9" opacity="0.9" transform="rotate(4 36.6 686.2)"/><ellipse cx="22.4" cy="679.6" rx="2.1" ry="1.7" opacity="0.6" transform="rotate(179 22.4 679.6)"/></g><clipPath id="c30"><rect x="312.00" y="639.30" width="38.40" height="58.40"/></clipPath><clipPath id="c31"><rect x="354.00" y="639.30" width="38.40" height="58.40"/></clipPath><clipPath id="c32"><rect x="395.80" y="639.30" width="38.40" height="58.40"/></clipPath><linearGradient id="g49" x1="0" y1="0" x2="0.7" y2="1"><stop offset="0" stop-color="#000008" stop-opacity="1"/><stop offset="0.12" stop-color="#000020" stop-opacity="1"/><stop offset="0.3" stop-color="#020260" stop-opacity="1"/><stop offset="1" stop-color="#020254" stop-opacity="1"/></linearGradient><linearGradient id="g50" x1="0" y1="0" x2="0.7" y2="1"><stop offset="0" stop-color="#1010d8" stop-opacity="0"/><stop offset="0.12" stop-color="#1010d8" stop-opacity="0.2"/><stop offset="0.3" stop-color="#1010d8" stop-opacity="1"/><stop offset="0.5" stop-color="#0c0cb8" stop-opacity="0.7"/><stop offset="1" stop-color="#0c0cb8" stop-opacity="0.8"/></linearGradient><filter id="f69" x="0" y="0" width="1" height="1" color-interpolation-filters="sRGB"><feTurbulence type="fractalNoise" baseFrequency="0.3" numOctaves="2" seed="901" result="n"/><feColorMatrix in="n" type="matrix" values="0 0 0 0 0 0 0 0 0 0 0 0 0 0 0 6.5 0 0 0 -3.380" result="a"/><feComposite in="SourceGraphic" in2="a" operator="in"/><feGaussianBlur stdDeviation="0.5"/></filter><linearGradient id="g51" x1="0" y1="0" x2="0" y2="1"><stop offset="0" stop-color="#000" stop-opacity="0"/><stop offset="0.25" stop-color="#000" stop-opacity="0"/><stop offset="0.4" stop-color="#042004" stop-opacity="1"/><stop offset="0.9" stop-color="#042004" stop-opacity="1"/><stop offset="1" stop-color="#000" stop-opacity="0"/></linearGradient><linearGradient id="g52" x1="0" y1="0" x2="0.7" y2="1"><stop offset="0" stop-color="#000018" stop-opacity="1"/><stop offset="0.2" stop-color="#020260" stop-opacity="1"/><stop offset="1" stop-color="#020258" stop-opacity="1"/></linearGradient><linearGradient id="g53" x1="0" y1="0" x2="0.7" y2="1"><stop offset="0" stop-color="#0606a0" stop-opacity="0.2"/><stop offset="0.2" stop-color="#0a0ac4" stop-opacity="1"/><stop offset="1" stop-color="#0808ac" stop-opacity="1"/></linearGradient><filter id="f70" x="0" y="0" width="1" height="1" color-interpolation-filters="sRGB"><feTurbulence type="fractalNoise" baseFrequency="0.28" numOctaves="2" seed="901" result="n"/><feColorMatrix in="n" type="matrix" values="0 0 0 0 0 0 0 0 0 0 0 0 0 0 0 4 0 0 0 -2.000" result="a"/><feComposite in="SourceGraphic" in2="a" operator="in"/><feGaussianBlur stdDeviation="0.8"/></filter><clipPath id="c33"><rect x="452.80" y="501.80" width="38.20" height="95.70"/></clipPath><g id="k8"><ellipse cx="37.6" cy="563.7" rx="1.6" ry="1.5" opacity="0.8" transform="rotate(122 37.6 563.7)"/><ellipse cx="7.5" cy="551.5" rx="2.4" ry="2.0" opacity="0.8" transform="rotate(123 7.5 551.5)"/><ellipse cx="30.7" cy="565.1" rx="1.9" ry="1.6" opacity="0.7" transform="rotate(136 30.7 565.1)"/><ellipse cx="8.0" cy="582.1" rx="2.5" ry="1.9" opacity="0.8" transform="rotate(28 8.0 582.1)"/><ellipse cx="11.3" cy="559.8" rx="1.9" ry="1.6" opacity="0.7" transform="rotate(72 11.3 559.8)"/><ellipse cx="2.5" cy="554.3" rx="2.3" ry="2.2" opacity="0.6" transform="rotate(41 2.5 554.3)"/><ellipse cx="13.8" cy="561.2" rx="2.1" ry="1.5" opacity="0.6" transform="rotate(16 13.8 561.2)"/><ellipse cx="22.6" cy="568.7" rx="2.3" ry="1.4" opacity="1.0" transform="rotate(63 22.6 568.7)"/><ellipse cx="37.1" cy="555.5" rx="1.7" ry="1.4" opacity="0.6" transform="rotate(114 37.1 555.5)"/><ellipse cx="37.2" cy="559.6" rx="2.7" ry="2.0" opacity="0.6" transform="rotate(5 37.2 559.6)"/><ellipse cx="8.6" cy="536.6" rx="2.3" ry="2.0" opacity="0.6" transform="rotate(80 8.6 536.6)"/><ellipse cx="1.4" cy="548.7" rx="2.6" ry="1.6" opacity="0.9" transform="rotate(13 1.4 548.7)"/><ellipse cx="20.1" cy="544.8" rx="1.5" ry="1.4" opacity="0.9" transform="rotate(89 20.1 544.8)"/><ellipse cx="32.4" cy="577.7" rx="2.2" ry="1.7" opacity="0.9" transform="rotate(105 32.4 577.7)"/><ellipse cx="24.0" cy="542.7" rx="1.7" ry="1.0" opacity="0.8" transform="rotate(80 24.0 542.7)"/><ellipse cx="29.8" cy="525.4" rx="1.9" ry="1.7" opacity="0.7" transform="rotate(67 29.8 525.4)"/><ellipse cx="14.7" cy="572.8" rx="2.5" ry="1.7" opacity="0.6" transform="rotate(156 14.7 572.8)"/><ellipse cx="24.5" cy="573.8" rx="1.7" ry="1.5" opacity="0.8" transform="rotate(4 24.5 573.8)"/><ellipse cx="37.0" cy="551.5" rx="1.9" ry="1.7" opacity="0.6" transform="rotate(45 37.0 551.5)"/><ellipse cx="1.6" cy="544.3" rx="1.7" ry="1.5" opacity="0.9" transform="rotate(45 1.6 544.3)"/><ellipse cx="31.2" cy="521.8" rx="2.7" ry="1.7" opacity="0.6" transform="rotate(67 31.2 521.8)"/><ellipse cx="4.9" cy="580.7" rx="2.6" ry="1.6" opacity="0.9" transform="rotate(64 4.9 580.7)"/><ellipse cx="15.3" cy="538.7" rx="2.3" ry="1.9" opacity="1.0" transform="rotate(119 15.3 538.7)"/><ellipse cx="7.9" cy="584.8" rx="2.3" ry="1.9" opacity="0.7" transform="rotate(52 7.9 584.8)"/><ellipse cx="8.1" cy="570.3" rx="1.8" ry="1.5" opacity="0.9" transform="rotate(54 8.1 570.3)"/><ellipse cx="9.0" cy="571.0" rx="1.9" ry="1.5" opacity="0.9" transform="rotate(166 9.0 571.0)"/><ellipse cx="31.5" cy="566.4" rx="2.5" ry="2.4" opacity="0.7" transform="rotate(95 31.5 566.4)"/><ellipse cx="12.8" cy="546.6" rx="2.0" ry="1.4" opacity="0.6" transform="rotate(169 12.8 546.6)"/><ellipse cx="32.6" cy="567.6" rx="1.8" ry="1.4" opacity="1.0" transform="rotate(28 32.6 567.6)"/><ellipse cx="32.1" cy="571.9" rx="2.2" ry="1.9" opacity="1.0" transform="rotate(170 32.1 571.9)"/><ellipse cx="34.5" cy="549.5" rx="2.2" ry="2.1" opacity="0.6" transform="rotate(139 34.5 549.5)"/><ellipse cx="33.6" cy="556.1" rx="1.7" ry="1.3" opacity="0.9" transform="rotate(145 33.6 556.1)"/><ellipse cx="11.6" cy="555.0" rx="1.8" ry="1.4" opacity="0.7" transform="rotate(50 11.6 555.0)"/><ellipse cx="27.3" cy="551.7" rx="2.0" ry="1.3" opacity="0.9" transform="rotate(123 27.3 551.7)"/><ellipse cx="30.7" cy="568.9" rx="2.7" ry="1.7" opacity="0.9" transform="rotate(165 30.7 568.9)"/><ellipse cx="22.8" cy="531.7" rx="2.2" ry="2.0" opacity="0.9" transform="rotate(118 22.8 531.7)"/><ellipse cx="33.7" cy="590.6" rx="1.9" ry="1.8" opacity="0.6" transform="rotate(149 33.7 590.6)"/><ellipse cx="6.8" cy="583.4" rx="1.6" ry="1.3" opacity="0.6" transform="rotate(118 6.8 583.4)"/><ellipse cx="17.9" cy="571.7" rx="1.9" ry="1.7" opacity="0.7" transform="rotate(167 17.9 571.7)"/><ellipse cx="21.8" cy="531.0" rx="2.2" ry="2.0" opacity="1.0" transform="rotate(113 21.8 531.0)"/><ellipse cx="30.2" cy="583.0" rx="2.0" ry="1.4" opacity="0.9" transform="rotate(19 30.2 583.0)"/><ellipse cx="16.8" cy="578.8" rx="2.2" ry="1.5" opacity="0.9" transform="rotate(55 16.8 578.8)"/><ellipse cx="2.6" cy="564.2" rx="1.7" ry="1.3" opacity="0.9" transform="rotate(86 2.6 564.2)"/><ellipse cx="25.7" cy="579.5" rx="2.7" ry="2.1" opacity="0.6" transform="rotate(70 25.7 579.5)"/><ellipse cx="37.0" cy="582.5" rx="2.4" ry="1.5" opacity="0.7" transform="rotate(58 37.0 582.5)"/><ellipse cx="36.0" cy="529.8" rx="1.8" ry="1.4" opacity="0.7" transform="rotate(28 36.0 529.8)"/><ellipse cx="4.0" cy="562.9" rx="2.3" ry="1.6" opacity="0.7" transform="rotate(42 4.0 562.9)"/><ellipse cx="38.1" cy="572.4" rx="2.6" ry="2.0" opacity="0.9" transform="rotate(128 38.1 572.4)"/><ellipse cx="38.1" cy="515.6" rx="2.5" ry="1.7" opacity="0.8" transform="rotate(140 38.1 515.6)"/><ellipse cx="36.3" cy="546.8" rx="2.2" ry="1.7" opacity="0.7" transform="rotate(142 36.3 546.8)"/><ellipse cx="7.7" cy="564.3" rx="1.6" ry="1.2" opacity="0.8" transform="rotate(154 7.7 564.3)"/><ellipse cx="25.6" cy="540.3" rx="2.3" ry="1.9" opacity="0.8" transform="rotate(35 25.6 540.3)"/><ellipse cx="12.1" cy="550.6" rx="1.5" ry="1.2" opacity="0.7" transform="rotate(72 12.1 550.6)"/><ellipse cx="28.1" cy="542.3" rx="1.9" ry="1.4" opacity="0.7" transform="rotate(97 28.1 542.3)"/><ellipse cx="7.2" cy="534.2" rx="2.3" ry="2.1" opacity="0.6" transform="rotate(80 7.2 534.2)"/><ellipse cx="37.3" cy="544.0" rx="2.5" ry="1.6" opacity="0.7" transform="rotate(79 37.3 544.0)"/><ellipse cx="30.9" cy="553.2" rx="2.5" ry="1.6" opacity="0.9" transform="rotate(151 30.9 553.2)"/><ellipse cx="22.8" cy="575.5" rx="1.8" ry="1.3" opacity="0.7" transform="rotate(112 22.8 575.5)"/><ellipse cx="36.4" cy="550.9" rx="2.1" ry="1.9" opacity="0.6" transform="rotate(95 36.4 550.9)"/><ellipse cx="31.8" cy="559.3" rx="2.5" ry="1.9" opacity="0.7" transform="rotate(150 31.8 559.3)"/><ellipse cx="32.3" cy="562.5" rx="2.0" ry="1.3" opacity="0.9" transform="rotate(176 32.3 562.5)"/><ellipse cx="23.7" cy="531.0" rx="2.1" ry="1.7" opacity="0.6" transform="rotate(150 23.7 531.0)"/><ellipse cx="31.2" cy="522.8" rx="1.8" ry="1.5" opacity="0.8" transform="rotate(144 31.2 522.8)"/><ellipse cx="15.0" cy="572.8" rx="1.9" ry="1.8" opacity="0.7" transform="rotate(160 15.0 572.8)"/><ellipse cx="17.4" cy="568.0" rx="2.1" ry="2.0" opacity="0.6" transform="rotate(106 17.4 568.0)"/><ellipse cx="29.7" cy="521.6" rx="2.3" ry="1.5" opacity="0.7" transform="rotate(109 29.7 521.6)"/><ellipse cx="31.8" cy="545.2" rx="2.2" ry="1.9" opacity="0.7" transform="rotate(94 31.8 545.2)"/><ellipse cx="34.3" cy="571.5" rx="2.1" ry="1.8" opacity="0.9" transform="rotate(137 34.3 571.5)"/><ellipse cx="6.3" cy="551.2" rx="2.6" ry="1.8" opacity="0.6" transform="rotate(134 6.3 551.2)"/><ellipse cx="32.4" cy="584.1" rx="1.9" ry="1.2" opacity="0.8" transform="rotate(119 32.4 584.1)"/><ellipse cx="24.4" cy="571.2" rx="1.6" ry="1.0" opacity="0.8" transform="rotate(152 24.4 571.2)"/><ellipse cx="25.6" cy="573.4" rx="2.5" ry="2.2" opacity="0.7" transform="rotate(32 25.6 573.4)"/><ellipse cx="29.6" cy="546.5" rx="1.9" ry="1.3" opacity="0.9" transform="rotate(11 29.6 546.5)"/><ellipse cx="31.1" cy="527.4" rx="2.1" ry="1.8" opacity="0.7" transform="rotate(40 31.1 527.4)"/><ellipse cx="13.2" cy="590.4" rx="1.7" ry="1.5" opacity="0.8" transform="rotate(42 13.2 590.4)"/><ellipse cx="34.7" cy="573.5" rx="2.5" ry="2.3" opacity="0.9" transform="rotate(0 34.7 573.5)"/><ellipse cx="34.7" cy="534.0" rx="2.4" ry="2.1" opacity="0.8" transform="rotate(117 34.7 534.0)"/><ellipse cx="8.3" cy="533.9" rx="1.6" ry="1.4" opacity="0.6" transform="rotate(37 8.3 533.9)"/><ellipse cx="27.9" cy="557.1" rx="2.1" ry="1.8" opacity="0.9" transform="rotate(29 27.9 557.1)"/><ellipse cx="31.7" cy="557.9" rx="1.7" ry="1.6" opacity="0.7" transform="rotate(140 31.7 557.9)"/><ellipse cx="16.2" cy="556.5" rx="2.3" ry="1.5" opacity="0.7" transform="rotate(150 16.2 556.5)"/><ellipse cx="15.0" cy="548.3" rx="2.5" ry="2.0" opacity="0.7" transform="rotate(9 15.0 548.3)"/><ellipse cx="28.2" cy="576.7" rx="1.7" ry="1.1" opacity="0.8" transform="rotate(72 28.2 576.7)"/><ellipse cx="4.9" cy="545.4" rx="1.9" ry="1.3" opacity="0.8" transform="rotate(127 4.9 545.4)"/><ellipse cx="7.9" cy="556.7" rx="2.2" ry="1.4" opacity="0.8" transform="rotate(30 7.9 556.7)"/><ellipse cx="18.3" cy="526.6" rx="1.6" ry="1.2" opacity="0.8" transform="rotate(167 18.3 526.6)"/><ellipse cx="18.4" cy="557.9" rx="2.2" ry="1.7" opacity="0.7" transform="rotate(162 18.4 557.9)"/><ellipse cx="28.9" cy="581.1" rx="1.8" ry="1.4" opacity="0.7" transform="rotate(121 28.9 581.1)"/><ellipse cx="0.6" cy="564.9" rx="1.8" ry="1.4" opacity="0.8" transform="rotate(71 0.6 564.9)"/><ellipse cx="24.6" cy="529.2" rx="2.4" ry="1.6" opacity="0.8" transform="rotate(7 24.6 529.2)"/><ellipse cx="12.6" cy="548.0" rx="2.1" ry="1.3" opacity="0.6" transform="rotate(47 12.6 548.0)"/><ellipse cx="22.7" cy="532.6" rx="2.2" ry="2.1" opacity="0.6" transform="rotate(128 22.7 532.6)"/><ellipse cx="12.4" cy="549.2" rx="2.2" ry="1.7" opacity="0.8" transform="rotate(114 12.4 549.2)"/><ellipse cx="3.3" cy="574.8" rx="2.0" ry="1.3" opacity="0.9" transform="rotate(63 3.3 574.8)"/><ellipse cx="0.0" cy="548.1" rx="2.3" ry="2.2" opacity="0.7" transform="rotate(85 0.0 548.1)"/><ellipse cx="14.4" cy="552.8" rx="2.0" ry="1.4" opacity="0.9" transform="rotate(76 14.4 552.8)"/><ellipse cx="19.8" cy="563.0" rx="1.7" ry="1.6" opacity="0.9" transform="rotate(104 19.8 563.0)"/><ellipse cx="28.0" cy="582.6" rx="2.6" ry="2.0" opacity="0.7" transform="rotate(2 28.0 582.6)"/><ellipse cx="3.6" cy="555.0" rx="1.8" ry="1.1" opacity="0.7" transform="rotate(137 3.6 555.0)"/><ellipse cx="24.1" cy="560.6" rx="2.5" ry="2.4" opacity="0.7" transform="rotate(136 24.1 560.6)"/><ellipse cx="29.4" cy="539.2" rx="2.7" ry="1.8" opacity="1.0" transform="rotate(110 29.4 539.2)"/><ellipse cx="18.7" cy="568.7" rx="2.2" ry="1.5" opacity="0.7" transform="rotate(0 18.7 568.7)"/><ellipse cx="7.4" cy="543.5" rx="1.7" ry="1.1" opacity="0.9" transform="rotate(139 7.4 543.5)"/><ellipse cx="30.4" cy="535.0" rx="1.7" ry="1.1" opacity="0.9" transform="rotate(158 30.4 535.0)"/><ellipse cx="8.7" cy="557.9" rx="2.1" ry="1.8" opacity="0.6" transform="rotate(116 8.7 557.9)"/><ellipse cx="17.5" cy="559.7" rx="2.5" ry="2.2" opacity="0.6" transform="rotate(149 17.5 559.7)"/><ellipse cx="11.6" cy="560.6" rx="2.5" ry="1.9" opacity="0.7" transform="rotate(32 11.6 560.6)"/><ellipse cx="10.4" cy="590.3" rx="2.3" ry="1.8" opacity="0.8" transform="rotate(7 10.4 590.3)"/><ellipse cx="20.7" cy="525.5" rx="2.4" ry="2.2" opacity="0.7" transform="rotate(106 20.7 525.5)"/><ellipse cx="28.7" cy="530.4" rx="2.0" ry="1.9" opacity="0.9" transform="rotate(115 28.7 530.4)"/><ellipse cx="6.2" cy="583.4" rx="2.2" ry="2.1" opacity="0.7" transform="rotate(74 6.2 583.4)"/><ellipse cx="16.8" cy="530.5" rx="1.9" ry="1.2" opacity="0.7" transform="rotate(15 16.8 530.5)"/><ellipse cx="3.0" cy="541.6" rx="2.1" ry="1.5" opacity="0.7" transform="rotate(18 3.0 541.6)"/><ellipse cx="17.1" cy="570.3" rx="1.6" ry="1.5" opacity="0.6" transform="rotate(128 17.1 570.3)"/><ellipse cx="2.7" cy="548.4" rx="2.1" ry="2.0" opacity="0.7" transform="rotate(113 2.7 548.4)"/><ellipse cx="30.6" cy="543.9" rx="2.0" ry="1.5" opacity="0.9" transform="rotate(126 30.6 543.9)"/><ellipse cx="4.8" cy="581.1" rx="1.9" ry="1.7" opacity="0.8" transform="rotate(16 4.8 581.1)"/><ellipse cx="21.3" cy="587.3" rx="2.7" ry="1.8" opacity="0.6" transform="rotate(32 21.3 587.3)"/><ellipse cx="12.2" cy="553.7" rx="2.6" ry="1.9" opacity="0.8" transform="rotate(88 12.2 553.7)"/><ellipse cx="13.7" cy="563.6" rx="1.5" ry="1.2" opacity="0.8" transform="rotate(107 13.7 563.6)"/><ellipse cx="15.5" cy="570.5" rx="2.2" ry="2.0" opacity="0.8" transform="rotate(138 15.5 570.5)"/><ellipse cx="34.0" cy="571.2" rx="2.2" ry="1.6" opacity="0.7" transform="rotate(167 34.0 571.2)"/><ellipse cx="9.6" cy="557.0" rx="2.7" ry="2.0" opacity="0.6" transform="rotate(79 9.6 557.0)"/><ellipse cx="17.9" cy="557.3" rx="1.8" ry="1.4" opacity="0.8" transform="rotate(25 17.9 557.3)"/><ellipse cx="8.2" cy="564.7" rx="2.2" ry="1.8" opacity="0.8" transform="rotate(108 8.2 564.7)"/><ellipse cx="4.0" cy="542.4" rx="2.0" ry="1.2" opacity="0.7" transform="rotate(143 4.0 542.4)"/><ellipse cx="27.7" cy="568.0" rx="1.6" ry="1.2" opacity="0.9" transform="rotate(108 27.7 568.0)"/><ellipse cx="29.4" cy="526.3" rx="1.6" ry="1.0" opacity="1.0" transform="rotate(58 29.4 526.3)"/><ellipse cx="13.0" cy="565.3" rx="2.7" ry="2.3" opacity="0.8" transform="rotate(111 13.0 565.3)"/><ellipse cx="27.1" cy="577.1" rx="1.8" ry="1.2" opacity="0.7" transform="rotate(84 27.1 577.1)"/><ellipse cx="3.4" cy="569.1" rx="1.5" ry="1.3" opacity="0.6" transform="rotate(125 3.4 569.1)"/><ellipse cx="9.8" cy="588.6" rx="2.0" ry="1.8" opacity="0.8" transform="rotate(89 9.8 588.6)"/><ellipse cx="18.5" cy="544.7" rx="2.6" ry="2.1" opacity="0.9" transform="rotate(33 18.5 544.7)"/><ellipse cx="8.3" cy="533.6" rx="2.2" ry="1.4" opacity="0.6" transform="rotate(129 8.3 533.6)"/><ellipse cx="14.2" cy="562.9" rx="2.5" ry="1.7" opacity="0.8" transform="rotate(150 14.2 562.9)"/><ellipse cx="5.1" cy="556.7" rx="2.1" ry="1.7" opacity="0.9" transform="rotate(111 5.1 556.7)"/><ellipse cx="13.6" cy="546.3" rx="1.7" ry="1.0" opacity="1.0" transform="rotate(29 13.6 546.3)"/><ellipse cx="1.7" cy="548.9" rx="2.3" ry="2.1" opacity="0.7" transform="rotate(158 1.7 548.9)"/><ellipse cx="2.7" cy="578.6" rx="2.3" ry="1.6" opacity="0.8" transform="rotate(67 2.7 578.6)"/><ellipse cx="19.9" cy="549.2" rx="2.0" ry="1.5" opacity="0.9" transform="rotate(177 19.9 549.2)"/><ellipse cx="13.0" cy="576.1" rx="1.9" ry="1.6" opacity="0.9" transform="rotate(98 13.0 576.1)"/><ellipse cx="2.6" cy="558.8" rx="2.5" ry="2.3" opacity="0.8" transform="rotate(109 2.6 558.8)"/><ellipse cx="7.8" cy="575.5" rx="1.8" ry="1.4" opacity="0.8" transform="rotate(137 7.8 575.5)"/><ellipse cx="23.1" cy="545.9" rx="2.0" ry="1.4" opacity="0.6" transform="rotate(85 23.1 545.9)"/><ellipse cx="26.4" cy="530.8" rx="2.3" ry="1.8" opacity="0.9" transform="rotate(68 26.4 530.8)"/><ellipse cx="19.5" cy="551.8" rx="2.6" ry="2.4" opacity="0.8" transform="rotate(40 19.5 551.8)"/><ellipse cx="24.5" cy="586.0" rx="2.1" ry="1.3" opacity="0.7" transform="rotate(69 24.5 586.0)"/><ellipse cx="32.9" cy="569.1" rx="1.8" ry="1.3" opacity="0.6" transform="rotate(165 32.9 569.1)"/><ellipse cx="37.4" cy="586.6" rx="2.4" ry="1.6" opacity="0.7" transform="rotate(81 37.4 586.6)"/><ellipse cx="10.9" cy="587.0" rx="2.1" ry="1.6" opacity="0.8" transform="rotate(47 10.9 587.0)"/><ellipse cx="0.6" cy="545.0" rx="1.8" ry="1.3" opacity="1.0" transform="rotate(102 0.6 545.0)"/><ellipse cx="16.3" cy="587.0" rx="1.7" ry="1.5" opacity="1.0" transform="rotate(83 16.3 587.0)"/><ellipse cx="11.1" cy="545.1" rx="2.1" ry="1.9" opacity="0.8" transform="rotate(133 11.1 545.1)"/><ellipse cx="32.1" cy="534.8" rx="2.2" ry="2.0" opacity="0.6" transform="rotate(117 32.1 534.8)"/><ellipse cx="14.2" cy="574.4" rx="2.7" ry="1.9" opacity="0.8" transform="rotate(113 14.2 574.4)"/><ellipse cx="2.8" cy="556.9" rx="1.8" ry="1.1" opacity="0.8" transform="rotate(7 2.8 556.9)"/><ellipse cx="37.9" cy="549.8" rx="2.7" ry="2.4" opacity="0.7" transform="rotate(70 37.9 549.8)"/><ellipse cx="18.6" cy="532.2" rx="2.4" ry="2.1" opacity="0.7" transform="rotate(124 18.6 532.2)"/><ellipse cx="30.0" cy="553.7" rx="2.1" ry="1.8" opacity="0.8" transform="rotate(2 30.0 553.7)"/><ellipse cx="17.8" cy="577.9" rx="2.6" ry="2.3" opacity="1.0" transform="rotate(63 17.8 577.9)"/><ellipse cx="29.6" cy="556.5" rx="1.8" ry="1.5" opacity="0.6" transform="rotate(79 29.6 556.5)"/><ellipse cx="30.8" cy="522.2" rx="2.6" ry="1.7" opacity="0.8" transform="rotate(29 30.8 522.2)"/><ellipse cx="26.0" cy="590.3" rx="1.7" ry="1.5" opacity="0.8" transform="rotate(102 26.0 590.3)"/><ellipse cx="14.8" cy="583.8" rx="1.8" ry="1.5" opacity="0.8" transform="rotate(58 14.8 583.8)"/><ellipse cx="5.6" cy="538.2" rx="1.8" ry="1.3" opacity="0.8" transform="rotate(171 5.6 538.2)"/><ellipse cx="22.1" cy="550.9" rx="1.7" ry="1.2" opacity="0.8" transform="rotate(56 22.1 550.9)"/><ellipse cx="36.0" cy="532.2" rx="2.3" ry="1.7" opacity="0.7" transform="rotate(61 36.0 532.2)"/><ellipse cx="3.6" cy="562.4" rx="2.3" ry="2.0" opacity="0.6" transform="rotate(29 3.6 562.4)"/><ellipse cx="11.0" cy="572.8" rx="1.8" ry="1.5" opacity="0.6" transform="rotate(24 11.0 572.8)"/><ellipse cx="18.4" cy="561.4" rx="1.8" ry="1.1" opacity="0.7" transform="rotate(76 18.4 561.4)"/><ellipse cx="18.7" cy="567.5" rx="2.1" ry="1.3" opacity="1.0" transform="rotate(147 18.7 567.5)"/><ellipse cx="11.7" cy="571.6" rx="1.5" ry="1.0" opacity="0.9" transform="rotate(10 11.7 571.6)"/><ellipse cx="26.9" cy="546.6" rx="2.0" ry="1.6" opacity="0.6" transform="rotate(55 26.9 546.6)"/><ellipse cx="15.8" cy="569.6" rx="1.7" ry="1.0" opacity="0.7" transform="rotate(24 15.8 569.6)"/><ellipse cx="34.9" cy="584.7" rx="2.3" ry="1.6" opacity="0.6" transform="rotate(132 34.9 584.7)"/><ellipse cx="31.2" cy="581.1" rx="2.7" ry="2.1" opacity="0.7" transform="rotate(81 31.2 581.1)"/><ellipse cx="18.8" cy="545.5" rx="2.3" ry="1.7" opacity="0.9" transform="rotate(136 18.8 545.5)"/><ellipse cx="9.5" cy="575.7" rx="1.7" ry="1.5" opacity="0.8" transform="rotate(156 9.5 575.7)"/><ellipse cx="33.7" cy="555.1" rx="1.9" ry="1.5" opacity="0.9" transform="rotate(156 33.7 555.1)"/><ellipse cx="5.8" cy="535.1" rx="2.3" ry="2.0" opacity="0.9" transform="rotate(34 5.8 535.1)"/><ellipse cx="9.4" cy="545.8" rx="2.2" ry="1.8" opacity="0.8" transform="rotate(72 9.4 545.8)"/><ellipse cx="13.0" cy="551.3" rx="2.4" ry="2.3" opacity="1.0" transform="rotate(166 13.0 551.3)"/><ellipse cx="23.6" cy="582.6" rx="2.5" ry="1.6" opacity="0.9" transform="rotate(5 23.6 582.6)"/><ellipse cx="16.1" cy="575.3" rx="2.1" ry="1.4" opacity="0.8" transform="rotate(175 16.1 575.3)"/><ellipse cx="25.2" cy="565.1" rx="1.8" ry="1.6" opacity="0.6" transform="rotate(171 25.2 565.1)"/><ellipse cx="37.2" cy="542.9" rx="2.2" ry="1.9" opacity="1.0" transform="rotate(91 37.2 542.9)"/><ellipse cx="0.7" cy="579.4" rx="1.6" ry="1.4" opacity="0.7" transform="rotate(45 0.7 579.4)"/><ellipse cx="34.9" cy="545.7" rx="2.5" ry="1.9" opacity="0.7" transform="rotate(131 34.9 545.7)"/><ellipse cx="30.2" cy="552.8" rx="1.9" ry="1.2" opacity="0.9" transform="rotate(84 30.2 552.8)"/><ellipse cx="22.2" cy="553.4" rx="2.4" ry="2.0" opacity="0.6" transform="rotate(54 22.2 553.4)"/><ellipse cx="31.2" cy="547.9" rx="1.6" ry="1.1" opacity="1.0" transform="rotate(41 31.2 547.9)"/><ellipse cx="18.7" cy="531.2" rx="2.1" ry="1.6" opacity="0.9" transform="rotate(10 18.7 531.2)"/><ellipse cx="5.9" cy="560.1" rx="1.8" ry="1.2" opacity="0.6" transform="rotate(109 5.9 560.1)"/><ellipse cx="37.0" cy="573.6" rx="1.7" ry="1.5" opacity="0.7" transform="rotate(160 37.0 573.6)"/><ellipse cx="31.0" cy="582.4" rx="2.6" ry="2.3" opacity="0.9" transform="rotate(158 31.0 582.4)"/><ellipse cx="12.1" cy="584.6" rx="1.7" ry="1.4" opacity="0.7" transform="rotate(102 12.1 584.6)"/><ellipse cx="37.5" cy="522.1" rx="1.8" ry="1.1" opacity="1.0" transform="rotate(36 37.5 522.1)"/><ellipse cx="34.3" cy="517.8" rx="2.5" ry="1.6" opacity="1.0" transform="rotate(140 34.3 517.8)"/><ellipse cx="16.6" cy="567.9" rx="2.4" ry="1.5" opacity="0.8" transform="rotate(37 16.6 567.9)"/><ellipse cx="30.4" cy="576.2" rx="1.5" ry="1.3" opacity="0.8" transform="rotate(77 30.4 576.2)"/><ellipse cx="22.2" cy="572.1" rx="1.8" ry="1.2" opacity="0.7" transform="rotate(12 22.2 572.1)"/><ellipse cx="24.2" cy="539.3" rx="1.8" ry="1.6" opacity="0.8" transform="rotate(32 24.2 539.3)"/><ellipse cx="2.9" cy="555.8" rx="2.5" ry="1.9" opacity="0.7" transform="rotate(80 2.9 555.8)"/><ellipse cx="22.0" cy="529.3" rx="2.5" ry="1.7" opacity="0.6" transform="rotate(29 22.0 529.3)"/><ellipse cx="21.1" cy="579.6" rx="1.9" ry="1.5" opacity="0.9" transform="rotate(30 21.1 579.6)"/><ellipse cx="24.2" cy="549.0" rx="1.9" ry="1.1" opacity="0.9" transform="rotate(177 24.2 549.0)"/><ellipse cx="27.9" cy="540.3" rx="2.3" ry="2.2" opacity="0.8" transform="rotate(155 27.9 540.3)"/><ellipse cx="32.9" cy="523.4" rx="2.6" ry="2.3" opacity="1.0" transform="rotate(8 32.9 523.4)"/><ellipse cx="35.3" cy="535.5" rx="2.4" ry="2.3" opacity="0.9" transform="rotate(21 35.3 535.5)"/><ellipse cx="29.8" cy="576.6" rx="1.9" ry="1.2" opacity="0.8" transform="rotate(29 29.8 576.6)"/><ellipse cx="22.1" cy="533.4" rx="2.1" ry="1.5" opacity="0.8" transform="rotate(47 22.1 533.4)"/><ellipse cx="14.2" cy="530.3" rx="2.4" ry="1.7" opacity="0.6" transform="rotate(61 14.2 530.3)"/><ellipse cx="28.7" cy="529.9" rx="1.9" ry="1.5" opacity="0.6" transform="rotate(78 28.7 529.9)"/><ellipse cx="11.8" cy="542.3" rx="1.9" ry="1.3" opacity="0.8" transform="rotate(67 11.8 542.3)"/><ellipse cx="28.8" cy="580.7" rx="1.7" ry="1.6" opacity="0.6" transform="rotate(180 28.8 580.7)"/><ellipse cx="3.5" cy="581.7" rx="2.3" ry="1.9" opacity="1.0" transform="rotate(134 3.5 581.7)"/><ellipse cx="34.2" cy="555.8" rx="1.8" ry="1.6" opacity="0.9" transform="rotate(174 34.2 555.8)"/><ellipse cx="34.2" cy="533.7" rx="1.9" ry="1.4" opacity="0.8" transform="rotate(8 34.2 533.7)"/><ellipse cx="26.9" cy="574.7" rx="2.4" ry="2.3" opacity="0.8" transform="rotate(88 26.9 574.7)"/><ellipse cx="12.6" cy="581.3" rx="2.3" ry="1.8" opacity="0.7" transform="rotate(87 12.6 581.3)"/><ellipse cx="2.4" cy="563.9" rx="1.8" ry="1.7" opacity="0.9" transform="rotate(139 2.4 563.9)"/><ellipse cx="32.6" cy="557.2" rx="2.7" ry="2.2" opacity="0.6" transform="rotate(27 32.6 557.2)"/><ellipse cx="27.2" cy="532.9" rx="1.6" ry="1.2" opacity="0.9" transform="rotate(32 27.2 532.9)"/><ellipse cx="12.0" cy="553.2" rx="2.1" ry="1.5" opacity="0.7" transform="rotate(65 12.0 553.2)"/><ellipse cx="12.8" cy="537.4" rx="1.8" ry="1.4" opacity="0.7" transform="rotate(130 12.8 537.4)"/><ellipse cx="31.9" cy="552.6" rx="2.3" ry="1.7" opacity="0.8" transform="rotate(58 31.9 552.6)"/><ellipse cx="25.5" cy="533.0" rx="2.4" ry="1.6" opacity="0.8" transform="rotate(17 25.5 533.0)"/><ellipse cx="36.6" cy="557.0" rx="1.8" ry="1.3" opacity="0.7" transform="rotate(20 36.6 557.0)"/><ellipse cx="21.8" cy="565.4" rx="1.6" ry="1.4" opacity="0.6" transform="rotate(3 21.8 565.4)"/><ellipse cx="34.2" cy="582.6" rx="1.7" ry="1.1" opacity="0.8" transform="rotate(159 34.2 582.6)"/></g><g id="k9"><ellipse cx="1.6" cy="564.3" rx="1.6" ry="1.1" opacity="0.6" transform="rotate(72 1.6 564.3)"/><ellipse cx="17.9" cy="563.7" rx="2.1" ry="1.8" opacity="1.0" transform="rotate(169 17.9 563.7)"/><ellipse cx="1.0" cy="553.8" rx="2.0" ry="1.8" opacity="0.8" transform="rotate(174 1.0 553.8)"/><ellipse cx="28.0" cy="561.8" rx="1.8" ry="1.4" opacity="0.8" transform="rotate(115 28.0 561.8)"/><ellipse cx="32.4" cy="548.9" rx="2.4" ry="2.0" opacity="0.6" transform="rotate(8 32.4 548.9)"/><ellipse cx="33.8" cy="555.3" rx="2.0" ry="1.8" opacity="0.6" transform="rotate(37 33.8 555.3)"/><ellipse cx="25.1" cy="562.3" rx="1.9" ry="1.2" opacity="0.7" transform="rotate(50 25.1 562.3)"/><ellipse cx="25.1" cy="525.5" rx="2.3" ry="1.8" opacity="0.7" transform="rotate(30 25.1 525.5)"/><ellipse cx="19.6" cy="570.0" rx="1.4" ry="1.1" opacity="0.6" transform="rotate(51 19.6 570.0)"/><ellipse cx="36.8" cy="523.2" rx="2.2" ry="1.4" opacity="0.6" transform="rotate(53 36.8 523.2)"/><ellipse cx="34.0" cy="571.6" rx="2.3" ry="2.1" opacity="0.8" transform="rotate(26 34.0 571.6)"/><ellipse cx="29.6" cy="567.7" rx="1.7" ry="1.0" opacity="0.6" transform="rotate(72 29.6 567.7)"/><ellipse cx="14.5" cy="544.0" rx="2.2" ry="2.0" opacity="0.9" transform="rotate(64 14.5 544.0)"/><ellipse cx="20.2" cy="559.0" rx="1.8" ry="1.2" opacity="0.7" transform="rotate(76 20.2 559.0)"/><ellipse cx="25.9" cy="551.8" rx="1.8" ry="1.5" opacity="0.6" transform="rotate(143 25.9 551.8)"/><ellipse cx="30.3" cy="568.5" rx="1.7" ry="1.1" opacity="0.7" transform="rotate(89 30.3 568.5)"/><ellipse cx="20.3" cy="535.3" rx="2.4" ry="1.7" opacity="0.6" transform="rotate(125 20.3 535.3)"/><ellipse cx="19.4" cy="576.4" rx="2.4" ry="2.1" opacity="0.8" transform="rotate(70 19.4 576.4)"/><ellipse cx="21.6" cy="542.7" rx="1.9" ry="1.2" opacity="0.9" transform="rotate(134 21.6 542.7)"/><ellipse cx="3.6" cy="548.6" rx="1.8" ry="1.1" opacity="0.6" transform="rotate(116 3.6 548.6)"/><ellipse cx="35.2" cy="559.5" rx="2.4" ry="1.5" opacity="0.8" transform="rotate(38 35.2 559.5)"/><ellipse cx="27.5" cy="543.7" rx="2.2" ry="1.5" opacity="0.6" transform="rotate(22 27.5 543.7)"/><ellipse cx="28.1" cy="535.6" rx="2.0" ry="1.8" opacity="0.8" transform="rotate(159 28.1 535.6)"/><ellipse cx="9.4" cy="555.0" rx="1.8" ry="1.2" opacity="1.0" transform="rotate(18 9.4 555.0)"/><ellipse cx="7.8" cy="575.0" rx="2.2" ry="1.5" opacity="0.7" transform="rotate(8 7.8 575.0)"/><ellipse cx="23.0" cy="565.0" rx="1.6" ry="1.1" opacity="0.8" transform="rotate(78 23.0 565.0)"/><ellipse cx="20.7" cy="567.5" rx="2.1" ry="1.4" opacity="1.0" transform="rotate(48 20.7 567.5)"/><ellipse cx="10.2" cy="570.9" rx="2.2" ry="1.5" opacity="0.8" transform="rotate(85 10.2 570.9)"/><ellipse cx="34.9" cy="534.2" rx="2.0" ry="1.4" opacity="0.7" transform="rotate(5 34.9 534.2)"/><ellipse cx="25.5" cy="577.7" rx="2.0" ry="1.2" opacity="0.8" transform="rotate(25 25.5 577.7)"/><ellipse cx="29.3" cy="561.0" rx="1.9" ry="1.5" opacity="0.8" transform="rotate(173 29.3 561.0)"/><ellipse cx="14.6" cy="545.8" rx="2.4" ry="1.6" opacity="0.6" transform="rotate(178 14.6 545.8)"/><ellipse cx="29.8" cy="569.5" rx="2.0" ry="1.2" opacity="0.9" transform="rotate(14 29.8 569.5)"/><ellipse cx="30.6" cy="532.6" rx="1.8" ry="1.6" opacity="0.7" transform="rotate(18 30.6 532.6)"/><ellipse cx="15.7" cy="534.4" rx="2.0" ry="1.4" opacity="0.6" transform="rotate(111 15.7 534.4)"/><ellipse cx="9.5" cy="560.9" rx="2.0" ry="1.3" opacity="0.7" transform="rotate(66 9.5 560.9)"/><ellipse cx="11.4" cy="561.2" rx="1.4" ry="1.0" opacity="0.8" transform="rotate(15 11.4 561.2)"/><ellipse cx="34.5" cy="563.7" rx="2.0" ry="1.3" opacity="0.7" transform="rotate(0 34.5 563.7)"/><ellipse cx="0.5" cy="549.3" rx="1.8" ry="1.5" opacity="0.6" transform="rotate(19 0.5 549.3)"/><ellipse cx="7.2" cy="537.9" rx="2.0" ry="1.4" opacity="0.6" transform="rotate(1 7.2 537.9)"/><ellipse cx="29.2" cy="542.7" rx="2.4" ry="2.0" opacity="0.6" transform="rotate(28 29.2 542.7)"/><ellipse cx="13.9" cy="555.8" rx="2.1" ry="1.5" opacity="0.6" transform="rotate(50 13.9 555.8)"/><ellipse cx="37.8" cy="530.6" rx="2.2" ry="1.7" opacity="0.8" transform="rotate(113 37.8 530.6)"/><ellipse cx="34.6" cy="541.9" rx="1.6" ry="1.3" opacity="0.9" transform="rotate(23 34.6 541.9)"/><ellipse cx="34.0" cy="549.2" rx="1.6" ry="1.0" opacity="0.9" transform="rotate(79 34.0 549.2)"/><ellipse cx="29.5" cy="542.2" rx="1.8" ry="1.2" opacity="0.8" transform="rotate(128 29.5 542.2)"/><ellipse cx="23.5" cy="532.6" rx="1.4" ry="1.1" opacity="0.8" transform="rotate(88 23.5 532.6)"/><ellipse cx="5.6" cy="558.5" rx="2.0" ry="1.8" opacity="0.6" transform="rotate(142 5.6 558.5)"/><ellipse cx="17.4" cy="540.6" rx="1.5" ry="1.1" opacity="0.7" transform="rotate(150 17.4 540.6)"/><ellipse cx="13.1" cy="551.6" rx="2.4" ry="2.2" opacity="0.7" transform="rotate(164 13.1 551.6)"/><ellipse cx="32.6" cy="543.9" rx="1.7" ry="1.1" opacity="0.8" transform="rotate(158 32.6 543.9)"/><ellipse cx="30.9" cy="527.5" rx="1.5" ry="1.0" opacity="0.7" transform="rotate(151 30.9 527.5)"/><ellipse cx="26.5" cy="539.3" rx="1.8" ry="1.6" opacity="0.8" transform="rotate(90 26.5 539.3)"/><ellipse cx="36.7" cy="534.8" rx="2.2" ry="2.0" opacity="0.9" transform="rotate(136 36.7 534.8)"/><ellipse cx="30.2" cy="549.3" rx="2.3" ry="2.1" opacity="0.7" transform="rotate(118 30.2 549.3)"/><ellipse cx="8.2" cy="581.1" rx="1.6" ry="1.4" opacity="0.9" transform="rotate(129 8.2 581.1)"/><ellipse cx="5.6" cy="555.0" rx="1.7" ry="1.5" opacity="1.0" transform="rotate(64 5.6 555.0)"/><ellipse cx="25.0" cy="553.7" rx="1.7" ry="1.3" opacity="0.7" transform="rotate(148 25.0 553.7)"/><ellipse cx="0.9" cy="565.9" rx="2.1" ry="1.3" opacity="0.8" transform="rotate(160 0.9 565.9)"/><ellipse cx="9.3" cy="554.7" rx="1.6" ry="1.4" opacity="0.8" transform="rotate(29 9.3 554.7)"/><ellipse cx="8.1" cy="577.0" rx="2.3" ry="2.0" opacity="0.7" transform="rotate(15 8.1 577.0)"/><ellipse cx="2.9" cy="554.5" rx="1.8" ry="1.6" opacity="1.0" transform="rotate(57 2.9 554.5)"/><ellipse cx="23.3" cy="531.1" rx="1.5" ry="1.3" opacity="1.0" transform="rotate(103 23.3 531.1)"/><ellipse cx="34.5" cy="526.3" rx="1.9" ry="1.5" opacity="0.8" transform="rotate(22 34.5 526.3)"/><ellipse cx="9.3" cy="563.4" rx="2.4" ry="1.8" opacity="0.6" transform="rotate(157 9.3 563.4)"/><ellipse cx="27.8" cy="581.8" rx="1.5" ry="1.0" opacity="0.8" transform="rotate(68 27.8 581.8)"/><ellipse cx="32.8" cy="543.6" rx="1.8" ry="1.2" opacity="0.8" transform="rotate(44 32.8 543.6)"/><ellipse cx="20.6" cy="557.6" rx="2.3" ry="2.0" opacity="1.0" transform="rotate(176 20.6 557.6)"/><ellipse cx="36.6" cy="565.2" rx="1.9" ry="1.5" opacity="0.9" transform="rotate(40 36.6 565.2)"/><ellipse cx="19.1" cy="540.5" rx="1.7" ry="1.4" opacity="0.7" transform="rotate(12 19.1 540.5)"/><ellipse cx="23.7" cy="547.1" rx="1.8" ry="1.1" opacity="0.7" transform="rotate(32 23.7 547.1)"/><ellipse cx="30.5" cy="564.9" rx="1.7" ry="1.5" opacity="0.7" transform="rotate(26 30.5 564.9)"/><ellipse cx="10.0" cy="551.1" rx="1.6" ry="1.3" opacity="0.8" transform="rotate(70 10.0 551.1)"/><ellipse cx="16.9" cy="547.7" rx="1.7" ry="1.2" opacity="0.7" transform="rotate(65 16.9 547.7)"/><ellipse cx="33.8" cy="573.0" rx="1.7" ry="1.5" opacity="0.6" transform="rotate(117 33.8 573.0)"/><ellipse cx="19.6" cy="587.0" rx="2.1" ry="1.5" opacity="0.8" transform="rotate(95 19.6 587.0)"/><ellipse cx="6.6" cy="580.9" rx="1.5" ry="0.9" opacity="0.6" transform="rotate(14 6.6 580.9)"/><ellipse cx="26.9" cy="539.5" rx="1.7" ry="1.5" opacity="0.9" transform="rotate(109 26.9 539.5)"/><ellipse cx="0.3" cy="563.6" rx="2.4" ry="2.0" opacity="0.6" transform="rotate(22 0.3 563.6)"/><ellipse cx="6.1" cy="549.5" rx="1.5" ry="1.2" opacity="0.9" transform="rotate(117 6.1 549.5)"/></g><g id="k10"><ellipse cx="1.6" cy="564.3" rx="1.6" ry="1.1" opacity="0.6" transform="rotate(72 1.6 564.3)"/><ellipse cx="28.0" cy="561.8" rx="1.8" ry="1.4" opacity="0.8" transform="rotate(115 28.0 561.8)"/><ellipse cx="25.1" cy="562.3" rx="1.9" ry="1.2" opacity="0.7" transform="rotate(50 25.1 562.3)"/><ellipse cx="36.8" cy="523.2" rx="2.2" ry="1.4" opacity="0.6" transform="rotate(53 36.8 523.2)"/><ellipse cx="14.5" cy="544.0" rx="2.2" ry="2.0" opacity="0.9" transform="rotate(64 14.5 544.0)"/><ellipse cx="30.3" cy="568.5" rx="1.7" ry="1.1" opacity="0.7" transform="rotate(89 30.3 568.5)"/><ellipse cx="21.6" cy="542.7" rx="1.9" ry="1.2" opacity="0.9" transform="rotate(134 21.6 542.7)"/><ellipse cx="27.5" cy="543.7" rx="2.2" ry="1.5" opacity="0.6" transform="rotate(22 27.5 543.7)"/><ellipse cx="7.8" cy="575.0" rx="2.2" ry="1.5" opacity="0.7" transform="rotate(8 7.8 575.0)"/><ellipse cx="10.2" cy="570.9" rx="2.2" ry="1.5" opacity="0.8" transform="rotate(85 10.2 570.9)"/><ellipse cx="29.3" cy="561.0" rx="1.9" ry="1.5" opacity="0.8" transform="rotate(173 29.3 561.0)"/><ellipse cx="30.6" cy="532.6" rx="1.8" ry="1.6" opacity="0.7" transform="rotate(18 30.6 532.6)"/><ellipse cx="11.4" cy="561.2" rx="1.4" ry="1.0" opacity="0.8" transform="rotate(15 11.4 561.2)"/><ellipse cx="7.2" cy="537.9" rx="2.0" ry="1.4" opacity="0.6" transform="rotate(1 7.2 537.9)"/><ellipse cx="37.8" cy="530.6" rx="2.2" ry="1.7" opacity="0.8" transform="rotate(113 37.8 530.6)"/><ellipse cx="29.5" cy="542.2" rx="1.8" ry="1.2" opacity="0.8" transform="rotate(128 29.5 542.2)"/><ellipse cx="17.4" cy="540.6" rx="1.5" ry="1.1" opacity="0.7" transform="rotate(150 17.4 540.6)"/><ellipse cx="30.9" cy="527.5" rx="1.5" ry="1.0" opacity="0.7" transform="rotate(151 30.9 527.5)"/><ellipse cx="30.2" cy="549.3" rx="2.3" ry="2.1" opacity="0.7" transform="rotate(118 30.2 549.3)"/><ellipse cx="25.0" cy="553.7" rx="1.7" ry="1.3" opacity="0.7" transform="rotate(148 25.0 553.7)"/><ellipse cx="8.1" cy="577.0" rx="2.3" ry="2.0" opacity="0.7" transform="rotate(15 8.1 577.0)"/><ellipse cx="34.5" cy="526.3" rx="1.9" ry="1.5" opacity="0.8" transform="rotate(22 34.5 526.3)"/><ellipse cx="32.8" cy="543.6" rx="1.8" ry="1.2" opacity="0.8" transform="rotate(44 32.8 543.6)"/><ellipse cx="19.1" cy="540.5" rx="1.7" ry="1.4" opacity="0.7" transform="rotate(12 19.1 540.5)"/><ellipse cx="10.0" cy="551.1" rx="1.6" ry="1.3" opacity="0.8" transform="rotate(70 10.0 551.1)"/><ellipse cx="19.6" cy="587.0" rx="2.1" ry="1.5" opacity="0.8" transform="rotate(95 19.6 587.0)"/><ellipse cx="0.3" cy="563.6" rx="2.4" ry="2.0" opacity="0.6" transform="rotate(22 0.3 563.6)"/></g><clipPath id="c34"><rect x="494.60" y="501.80" width="38.20" height="95.70"/></clipPath><clipPath id="c35"><rect x="536.40" y="501.80" width="38.20" height="95.70"/></clipPath><clipPath id="c36"><rect x="578.70" y="501.80" width="38.20" height="95.70"/></clipPath><filter id="f71" x="0" y="0" width="1" height="1" color-interpolation-filters="sRGB"><feTurbulence type="fractalNoise" baseFrequency="0.3" numOctaves="2" seed="1001" result="n"/><feColorMatrix in="n" type="matrix" values="0 0 0 0 0 0 0 0 0 0 0 0 0 0 0 6.5 0 0 0 -3.380" result="a"/><feComposite in="SourceGraphic" in2="a" operator="in"/><feGaussianBlur stdDeviation="0.5"/></filter><linearGradient id="g54" x1="0" y1="0" x2="0" y2="1"><stop offset="0" stop-color="#052605" stop-opacity="0"/><stop offset="0.36" stop-color="#052605" stop-opacity="0"/><stop offset="0.44" stop-color="#052605" stop-opacity="1"/><stop offset="1.0" stop-color="#052605" stop-opacity="1"/><stop offset="1.0" stop-color="#052605" stop-opacity="0"/><stop offset="1" stop-color="#052605" stop-opacity="0"/></linearGradient><filter id="f72" x="0" y="0" width="1" height="1" color-interpolation-filters="sRGB"><feTurbulence type="fractalNoise" baseFrequency="0.28" numOctaves="2" seed="1001" result="n"/><feColorMatrix in="n" type="matrix" values="0 0 0 0 0 0 0 0 0 0 0 0 0 0 0 4 0 0 0 -2.000" result="a"/><feComposite in="SourceGraphic" in2="a" operator="in"/><feGaussianBlur stdDeviation="0.8"/></filter><clipPath id="c37"><rect x="452.80" y="601.10" width="38.20" height="96.60"/></clipPath><g id="k11"><ellipse cx="19.9" cy="641.8" rx="1.7" ry="1.3" opacity="0.8" transform="rotate(113 19.9 641.8)"/><ellipse cx="27.0" cy="643.2" rx="1.8" ry="1.6" opacity="0.8" transform="rotate(76 27.0 643.2)"/><ellipse cx="25.8" cy="674.2" rx="2.1" ry="1.7" opacity="0.7" transform="rotate(168 25.8 674.2)"/><ellipse cx="34.4" cy="683.1" rx="2.2" ry="2.0" opacity="0.7" transform="rotate(79 34.4 683.1)"/><ellipse cx="3.2" cy="642.4" rx="2.1" ry="1.9" opacity="0.6" transform="rotate(11 3.2 642.4)"/><ellipse cx="3.5" cy="681.0" rx="2.4" ry="1.7" opacity="0.8" transform="rotate(165 3.5 681.0)"/><ellipse cx="15.0" cy="692.3" rx="2.0" ry="1.2" opacity="1.0" transform="rotate(49 15.0 692.3)"/><ellipse cx="27.1" cy="670.6" rx="1.6" ry="1.3" opacity="0.7" transform="rotate(76 27.1 670.6)"/><ellipse cx="31.6" cy="657.9" rx="1.5" ry="1.2" opacity="1.0" transform="rotate(172 31.6 657.9)"/><ellipse cx="3.2" cy="670.6" rx="1.9" ry="1.5" opacity="0.9" transform="rotate(68 3.2 670.6)"/><ellipse cx="23.6" cy="665.1" rx="1.8" ry="1.1" opacity="0.9" transform="rotate(160 23.6 665.1)"/><ellipse cx="6.8" cy="639.5" rx="1.7" ry="1.4" opacity="0.7" transform="rotate(138 6.8 639.5)"/><ellipse cx="9.1" cy="682.0" rx="2.2" ry="1.5" opacity="0.7" transform="rotate(44 9.1 682.0)"/><ellipse cx="12.0" cy="666.1" rx="2.6" ry="2.0" opacity="0.6" transform="rotate(61 12.0 666.1)"/><ellipse cx="22.1" cy="642.4" rx="2.0" ry="1.3" opacity="0.6" transform="rotate(79 22.1 642.4)"/><ellipse cx="10.5" cy="668.8" rx="2.3" ry="2.1" opacity="0.8" transform="rotate(55 10.5 668.8)"/><ellipse cx="2.3" cy="658.6" rx="2.6" ry="1.8" opacity="0.8" transform="rotate(138 2.3 658.6)"/><ellipse cx="9.6" cy="642.2" rx="1.6" ry="1.3" opacity="0.8" transform="rotate(6 9.6 642.2)"/><ellipse cx="2.1" cy="669.6" rx="1.7" ry="1.1" opacity="0.8" transform="rotate(0 2.1 669.6)"/><ellipse cx="34.2" cy="667.9" rx="2.5" ry="1.6" opacity="0.9" transform="rotate(90 34.2 667.9)"/><ellipse cx="25.0" cy="670.8" rx="2.5" ry="2.0" opacity="0.7" transform="rotate(168 25.0 670.8)"/><ellipse cx="20.6" cy="657.0" rx="2.3" ry="1.6" opacity="0.7" transform="rotate(92 20.6 657.0)"/><ellipse cx="34.2" cy="661.4" rx="2.3" ry="2.2" opacity="0.6" transform="rotate(176 34.2 661.4)"/><ellipse cx="6.2" cy="682.8" rx="2.1" ry="1.8" opacity="0.9" transform="rotate(60 6.2 682.8)"/><ellipse cx="5.8" cy="647.7" rx="1.6" ry="1.0" opacity="0.9" transform="rotate(118 5.8 647.7)"/><ellipse cx="13.9" cy="657.0" rx="2.4" ry="2.1" opacity="0.7" transform="rotate(170 13.9 657.0)"/><ellipse cx="3.8" cy="691.9" rx="2.6" ry="1.9" opacity="0.8" transform="rotate(113 3.8 691.9)"/><ellipse cx="13.3" cy="672.3" rx="2.7" ry="1.6" opacity="0.7" transform="rotate(89 13.3 672.3)"/><ellipse cx="10.4" cy="659.5" rx="2.1" ry="1.6" opacity="0.8" transform="rotate(6 10.4 659.5)"/><ellipse cx="7.5" cy="654.0" rx="2.3" ry="1.4" opacity="0.8" transform="rotate(159 7.5 654.0)"/><ellipse cx="19.5" cy="665.8" rx="1.6" ry="1.2" opacity="0.9" transform="rotate(25 19.5 665.8)"/><ellipse cx="23.0" cy="654.3" rx="2.1" ry="1.5" opacity="0.9" transform="rotate(47 23.0 654.3)"/><ellipse cx="38.0" cy="658.8" rx="2.1" ry="1.6" opacity="0.6" transform="rotate(107 38.0 658.8)"/><ellipse cx="17.2" cy="667.9" rx="1.5" ry="1.0" opacity="1.0" transform="rotate(61 17.2 667.9)"/><ellipse cx="4.6" cy="663.7" rx="1.8" ry="1.6" opacity="0.6" transform="rotate(166 4.6 663.7)"/><ellipse cx="1.8" cy="650.9" rx="2.1" ry="1.6" opacity="0.9" transform="rotate(85 1.8 650.9)"/><ellipse cx="22.0" cy="644.6" rx="1.7" ry="1.2" opacity="0.8" transform="rotate(148 22.0 644.6)"/><ellipse cx="23.4" cy="660.7" rx="2.1" ry="1.9" opacity="1.0" transform="rotate(30 23.4 660.7)"/><ellipse cx="23.4" cy="676.0" rx="2.2" ry="1.6" opacity="0.7" transform="rotate(105 23.4 676.0)"/><ellipse cx="20.9" cy="646.4" rx="2.3" ry="1.4" opacity="0.6" transform="rotate(154 20.9 646.4)"/><ellipse cx="36.3" cy="648.8" rx="1.5" ry="1.3" opacity="0.7" transform="rotate(158 36.3 648.8)"/><ellipse cx="12.1" cy="639.4" rx="2.3" ry="1.8" opacity="0.9" transform="rotate(151 12.1 639.4)"/><ellipse cx="10.6" cy="674.0" rx="2.7" ry="2.2" opacity="0.9" transform="rotate(130 10.6 674.0)"/><ellipse cx="28.5" cy="662.5" rx="2.5" ry="1.8" opacity="0.9" transform="rotate(29 28.5 662.5)"/><ellipse cx="20.4" cy="658.7" rx="1.7" ry="1.4" opacity="0.7" transform="rotate(155 20.4 658.7)"/><ellipse cx="20.4" cy="657.6" rx="2.4" ry="2.2" opacity="0.6" transform="rotate(170 20.4 657.6)"/><ellipse cx="5.1" cy="646.0" rx="1.9" ry="1.6" opacity="1.0" transform="rotate(57 5.1 646.0)"/><ellipse cx="28.6" cy="641.7" rx="2.7" ry="2.2" opacity="0.6" transform="rotate(102 28.6 641.7)"/><ellipse cx="2.8" cy="660.1" rx="1.5" ry="1.4" opacity="0.8" transform="rotate(154 2.8 660.1)"/><ellipse cx="12.3" cy="671.1" rx="2.4" ry="1.8" opacity="0.8" transform="rotate(92 12.3 671.1)"/><ellipse cx="38.1" cy="659.7" rx="2.3" ry="2.0" opacity="0.8" transform="rotate(33 38.1 659.7)"/><ellipse cx="18.1" cy="685.9" rx="1.5" ry="1.3" opacity="0.8" transform="rotate(157 18.1 685.9)"/><ellipse cx="29.2" cy="687.9" rx="2.7" ry="2.3" opacity="1.0" transform="rotate(133 29.2 687.9)"/><ellipse cx="15.8" cy="643.9" rx="2.6" ry="2.0" opacity="0.8" transform="rotate(32 15.8 643.9)"/><ellipse cx="34.3" cy="643.6" rx="1.6" ry="1.3" opacity="0.6" transform="rotate(112 34.3 643.6)"/><ellipse cx="10.6" cy="649.2" rx="2.0" ry="1.6" opacity="0.9" transform="rotate(92 10.6 649.2)"/><ellipse cx="7.0" cy="651.0" rx="1.7" ry="1.1" opacity="0.7" transform="rotate(107 7.0 651.0)"/><ellipse cx="14.2" cy="675.8" rx="1.6" ry="1.1" opacity="1.0" transform="rotate(175 14.2 675.8)"/><ellipse cx="21.7" cy="681.1" rx="1.7" ry="1.1" opacity="0.8" transform="rotate(65 21.7 681.1)"/><ellipse cx="25.7" cy="654.0" rx="1.7" ry="1.1" opacity="0.6" transform="rotate(137 25.7 654.0)"/><ellipse cx="34.2" cy="648.6" rx="2.5" ry="1.8" opacity="0.9" transform="rotate(87 34.2 648.6)"/><ellipse cx="13.1" cy="670.9" rx="1.5" ry="1.0" opacity="0.7" transform="rotate(114 13.1 670.9)"/><ellipse cx="36.6" cy="671.5" rx="2.0" ry="1.6" opacity="0.9" transform="rotate(164 36.6 671.5)"/><ellipse cx="22.5" cy="650.6" rx="1.6" ry="1.2" opacity="0.8" transform="rotate(65 22.5 650.6)"/><ellipse cx="33.1" cy="660.2" rx="1.9" ry="1.3" opacity="0.8" transform="rotate(5 33.1 660.2)"/><ellipse cx="10.0" cy="639.5" rx="2.1" ry="1.5" opacity="0.6" transform="rotate(128 10.0 639.5)"/><ellipse cx="8.4" cy="696.1" rx="1.9" ry="1.7" opacity="0.9" transform="rotate(51 8.4 696.1)"/><ellipse cx="15.4" cy="682.1" rx="1.6" ry="1.2" opacity="0.6" transform="rotate(84 15.4 682.1)"/><ellipse cx="21.0" cy="678.2" rx="2.0" ry="1.8" opacity="0.8" transform="rotate(6 21.0 678.2)"/><ellipse cx="20.6" cy="666.7" rx="2.4" ry="2.2" opacity="0.8" transform="rotate(176 20.6 666.7)"/><ellipse cx="35.0" cy="646.7" rx="2.2" ry="2.0" opacity="0.7" transform="rotate(80 35.0 646.7)"/><ellipse cx="26.3" cy="664.4" rx="1.6" ry="1.3" opacity="0.7" transform="rotate(126 26.3 664.4)"/><ellipse cx="3.8" cy="681.4" rx="2.6" ry="2.4" opacity="0.9" transform="rotate(82 3.8 681.4)"/><ellipse cx="32.8" cy="644.2" rx="2.4" ry="1.9" opacity="0.8" transform="rotate(138 32.8 644.2)"/><ellipse cx="6.9" cy="639.9" rx="2.6" ry="2.2" opacity="0.7" transform="rotate(74 6.9 639.9)"/><ellipse cx="12.8" cy="674.1" rx="2.1" ry="1.8" opacity="0.6" transform="rotate(58 12.8 674.1)"/><ellipse cx="3.2" cy="651.2" rx="2.1" ry="1.5" opacity="0.7" transform="rotate(105 3.2 651.2)"/><ellipse cx="28.0" cy="659.5" rx="2.7" ry="2.1" opacity="0.7" transform="rotate(21 28.0 659.5)"/><ellipse cx="36.3" cy="687.1" rx="2.4" ry="2.2" opacity="0.6" transform="rotate(105 36.3 687.1)"/><ellipse cx="16.7" cy="650.5" rx="2.3" ry="1.5" opacity="0.9" transform="rotate(120 16.7 650.5)"/><ellipse cx="38.2" cy="683.9" rx="2.1" ry="1.8" opacity="0.6" transform="rotate(106 38.2 683.9)"/><ellipse cx="9.7" cy="688.7" rx="2.5" ry="2.2" opacity="0.9" transform="rotate(25 9.7 688.7)"/><ellipse cx="30.6" cy="663.2" rx="2.2" ry="1.4" opacity="0.7" transform="rotate(75 30.6 663.2)"/><ellipse cx="24.4" cy="671.8" rx="2.1" ry="1.3" opacity="0.9" transform="rotate(175 24.4 671.8)"/><ellipse cx="19.7" cy="664.2" rx="1.7" ry="1.2" opacity="0.8" transform="rotate(16 19.7 664.2)"/><ellipse cx="1.3" cy="654.5" rx="2.4" ry="1.8" opacity="0.7" transform="rotate(134 1.3 654.5)"/><ellipse cx="25.6" cy="686.7" rx="2.4" ry="1.7" opacity="0.7" transform="rotate(46 25.6 686.7)"/><ellipse cx="30.2" cy="650.1" rx="2.5" ry="1.6" opacity="0.9" transform="rotate(130 30.2 650.1)"/><ellipse cx="25.5" cy="668.9" rx="2.2" ry="1.9" opacity="0.6" transform="rotate(105 25.5 668.9)"/><ellipse cx="19.8" cy="645.4" rx="2.2" ry="1.6" opacity="0.7" transform="rotate(72 19.8 645.4)"/><ellipse cx="26.4" cy="662.1" rx="1.8" ry="1.4" opacity="0.9" transform="rotate(152 26.4 662.1)"/><ellipse cx="16.0" cy="657.8" rx="2.1" ry="1.5" opacity="0.7" transform="rotate(160 16.0 657.8)"/><ellipse cx="19.5" cy="653.4" rx="1.5" ry="1.4" opacity="0.6" transform="rotate(161 19.5 653.4)"/><ellipse cx="28.2" cy="663.7" rx="2.5" ry="2.2" opacity="1.0" transform="rotate(50 28.2 663.7)"/><ellipse cx="7.6" cy="667.7" rx="1.5" ry="1.2" opacity="0.7" transform="rotate(121 7.6 667.7)"/><ellipse cx="20.5" cy="676.7" rx="1.8" ry="1.7" opacity="0.9" transform="rotate(126 20.5 676.7)"/><ellipse cx="24.3" cy="691.1" rx="1.5" ry="1.0" opacity="0.7" transform="rotate(28 24.3 691.1)"/><ellipse cx="24.8" cy="680.0" rx="1.9" ry="1.4" opacity="0.7" transform="rotate(64 24.8 680.0)"/><ellipse cx="27.2" cy="662.9" rx="2.1" ry="1.4" opacity="0.7" transform="rotate(90 27.2 662.9)"/><ellipse cx="11.2" cy="641.1" rx="2.6" ry="2.4" opacity="0.8" transform="rotate(174 11.2 641.1)"/><ellipse cx="33.7" cy="654.0" rx="2.1" ry="1.2" opacity="1.0" transform="rotate(144 33.7 654.0)"/><ellipse cx="29.2" cy="639.7" rx="2.1" ry="1.3" opacity="0.9" transform="rotate(102 29.2 639.7)"/><ellipse cx="18.0" cy="674.5" rx="2.1" ry="1.9" opacity="0.6" transform="rotate(50 18.0 674.5)"/><ellipse cx="32.8" cy="652.0" rx="2.4" ry="2.1" opacity="0.6" transform="rotate(25 32.8 652.0)"/><ellipse cx="8.5" cy="644.6" rx="1.6" ry="1.2" opacity="0.7" transform="rotate(123 8.5 644.6)"/><ellipse cx="8.0" cy="693.0" rx="2.5" ry="2.1" opacity="0.8" transform="rotate(14 8.0 693.0)"/><ellipse cx="16.2" cy="682.3" rx="1.7" ry="1.1" opacity="0.6" transform="rotate(81 16.2 682.3)"/><ellipse cx="17.7" cy="676.9" rx="1.7" ry="1.5" opacity="0.7" transform="rotate(104 17.7 676.9)"/><ellipse cx="23.2" cy="679.0" rx="1.8" ry="1.2" opacity="0.7" transform="rotate(146 23.2 679.0)"/><ellipse cx="0.6" cy="672.8" rx="1.7" ry="1.5" opacity="0.9" transform="rotate(177 0.6 672.8)"/><ellipse cx="0.7" cy="697.0" rx="1.5" ry="1.1" opacity="1.0" transform="rotate(36 0.7 697.0)"/><ellipse cx="7.0" cy="650.3" rx="1.9" ry="1.5" opacity="0.6" transform="rotate(80 7.0 650.3)"/><ellipse cx="5.1" cy="686.0" rx="2.0" ry="1.3" opacity="0.6" transform="rotate(163 5.1 686.0)"/><ellipse cx="25.9" cy="671.7" rx="2.0" ry="1.2" opacity="0.9" transform="rotate(31 25.9 671.7)"/><ellipse cx="32.1" cy="656.7" rx="2.4" ry="2.2" opacity="0.9" transform="rotate(70 32.1 656.7)"/><ellipse cx="26.3" cy="673.1" rx="1.5" ry="1.0" opacity="0.9" transform="rotate(67 26.3 673.1)"/><ellipse cx="29.2" cy="671.3" rx="2.4" ry="2.0" opacity="0.6" transform="rotate(148 29.2 671.3)"/><ellipse cx="31.2" cy="641.2" rx="1.7" ry="1.5" opacity="0.7" transform="rotate(178 31.2 641.2)"/><ellipse cx="0.1" cy="655.7" rx="1.8" ry="1.6" opacity="0.9" transform="rotate(120 0.1 655.7)"/><ellipse cx="20.2" cy="637.9" rx="2.5" ry="1.5" opacity="0.7" transform="rotate(95 20.2 637.9)"/><ellipse cx="33.4" cy="661.2" rx="2.5" ry="2.0" opacity="1.0" transform="rotate(64 33.4 661.2)"/><ellipse cx="4.0" cy="669.2" rx="1.6" ry="1.1" opacity="0.7" transform="rotate(95 4.0 669.2)"/><ellipse cx="16.6" cy="657.0" rx="2.7" ry="2.3" opacity="0.9" transform="rotate(149 16.6 657.0)"/><ellipse cx="9.2" cy="651.6" rx="2.2" ry="2.0" opacity="0.8" transform="rotate(119 9.2 651.6)"/><ellipse cx="10.6" cy="640.4" rx="2.2" ry="1.3" opacity="1.0" transform="rotate(97 10.6 640.4)"/><ellipse cx="16.7" cy="653.8" rx="2.4" ry="1.9" opacity="1.0" transform="rotate(17 16.7 653.8)"/><ellipse cx="24.8" cy="668.4" rx="2.1" ry="1.5" opacity="0.8" transform="rotate(43 24.8 668.4)"/><ellipse cx="6.1" cy="670.8" rx="1.8" ry="1.4" opacity="0.8" transform="rotate(172 6.1 670.8)"/><ellipse cx="30.0" cy="676.8" rx="2.6" ry="1.8" opacity="0.9" transform="rotate(112 30.0 676.8)"/><ellipse cx="21.0" cy="666.2" rx="1.8" ry="1.6" opacity="0.9" transform="rotate(135 21.0 666.2)"/><ellipse cx="26.3" cy="661.5" rx="2.4" ry="1.6" opacity="0.9" transform="rotate(92 26.3 661.5)"/><ellipse cx="8.0" cy="662.0" rx="2.0" ry="1.6" opacity="0.8" transform="rotate(62 8.0 662.0)"/><ellipse cx="13.2" cy="675.1" rx="1.6" ry="1.0" opacity="0.6" transform="rotate(142 13.2 675.1)"/><ellipse cx="4.0" cy="664.3" rx="1.8" ry="1.4" opacity="0.6" transform="rotate(95 4.0 664.3)"/><ellipse cx="19.8" cy="690.5" rx="2.2" ry="1.3" opacity="0.6" transform="rotate(42 19.8 690.5)"/><ellipse cx="31.8" cy="678.3" rx="2.4" ry="2.0" opacity="1.0" transform="rotate(46 31.8 678.3)"/><ellipse cx="37.9" cy="639.9" rx="1.6" ry="1.2" opacity="0.7" transform="rotate(146 37.9 639.9)"/><ellipse cx="15.8" cy="669.6" rx="1.8" ry="1.5" opacity="0.6" transform="rotate(145 15.8 669.6)"/><ellipse cx="36.5" cy="670.2" rx="2.5" ry="2.0" opacity="0.6" transform="rotate(122 36.5 670.2)"/><ellipse cx="1.2" cy="644.5" rx="2.7" ry="2.1" opacity="0.6" transform="rotate(17 1.2 644.5)"/><ellipse cx="21.1" cy="655.0" rx="1.5" ry="1.0" opacity="0.7" transform="rotate(166 21.1 655.0)"/><ellipse cx="34.9" cy="674.4" rx="2.2" ry="1.3" opacity="0.6" transform="rotate(120 34.9 674.4)"/><ellipse cx="5.7" cy="652.9" rx="1.6" ry="1.1" opacity="0.8" transform="rotate(165 5.7 652.9)"/><ellipse cx="24.3" cy="669.1" rx="2.4" ry="1.6" opacity="1.0" transform="rotate(118 24.3 669.1)"/><ellipse cx="13.9" cy="660.5" rx="2.5" ry="1.9" opacity="0.7" transform="rotate(54 13.9 660.5)"/><ellipse cx="37.7" cy="681.1" rx="2.6" ry="2.3" opacity="0.9" transform="rotate(149 37.7 681.1)"/><ellipse cx="24.0" cy="662.5" rx="1.8" ry="1.7" opacity="1.0" transform="rotate(68 24.0 662.5)"/><ellipse cx="23.4" cy="669.1" rx="2.0" ry="1.5" opacity="0.8" transform="rotate(86 23.4 669.1)"/><ellipse cx="32.8" cy="640.8" rx="2.3" ry="1.9" opacity="0.9" transform="rotate(11 32.8 640.8)"/><ellipse cx="17.6" cy="638.9" rx="2.4" ry="1.5" opacity="0.8" transform="rotate(136 17.6 638.9)"/><ellipse cx="33.6" cy="660.8" rx="2.1" ry="1.6" opacity="0.9" transform="rotate(155 33.6 660.8)"/><ellipse cx="36.6" cy="643.6" rx="2.6" ry="2.2" opacity="0.8" transform="rotate(92 36.6 643.6)"/><ellipse cx="20.6" cy="683.5" rx="2.3" ry="1.6" opacity="0.7" transform="rotate(138 20.6 683.5)"/><ellipse cx="0.8" cy="673.3" rx="2.0" ry="1.2" opacity="1.0" transform="rotate(42 0.8 673.3)"/><ellipse cx="37.5" cy="671.9" rx="1.7" ry="1.3" opacity="1.0" transform="rotate(78 37.5 671.9)"/><ellipse cx="31.0" cy="651.4" rx="2.1" ry="1.9" opacity="0.9" transform="rotate(125 31.0 651.4)"/><ellipse cx="26.4" cy="666.6" rx="2.6" ry="2.1" opacity="0.7" transform="rotate(94 26.4 666.6)"/><ellipse cx="9.5" cy="692.7" rx="1.7" ry="1.3" opacity="0.6" transform="rotate(110 9.5 692.7)"/><ellipse cx="11.2" cy="641.1" rx="2.3" ry="1.7" opacity="0.6" transform="rotate(102 11.2 641.1)"/><ellipse cx="36.3" cy="690.6" rx="2.3" ry="1.7" opacity="0.9" transform="rotate(110 36.3 690.6)"/><ellipse cx="15.3" cy="671.2" rx="2.3" ry="1.9" opacity="0.8" transform="rotate(115 15.3 671.2)"/><ellipse cx="23.8" cy="664.2" rx="2.4" ry="1.9" opacity="0.8" transform="rotate(10 23.8 664.2)"/><ellipse cx="3.7" cy="680.3" rx="2.5" ry="1.8" opacity="1.0" transform="rotate(86 3.7 680.3)"/><ellipse cx="20.9" cy="673.5" rx="1.6" ry="1.2" opacity="1.0" transform="rotate(59 20.9 673.5)"/><ellipse cx="24.6" cy="677.9" rx="2.6" ry="1.7" opacity="0.8" transform="rotate(30 24.6 677.9)"/><ellipse cx="30.3" cy="643.5" rx="2.0" ry="1.6" opacity="0.9" transform="rotate(84 30.3 643.5)"/><ellipse cx="5.3" cy="686.0" rx="2.4" ry="2.3" opacity="0.9" transform="rotate(106 5.3 686.0)"/><ellipse cx="14.6" cy="646.9" rx="1.6" ry="1.2" opacity="0.7" transform="rotate(123 14.6 646.9)"/><ellipse cx="2.3" cy="643.4" rx="2.3" ry="1.5" opacity="0.9" transform="rotate(159 2.3 643.4)"/><ellipse cx="35.8" cy="641.8" rx="2.1" ry="1.4" opacity="0.6" transform="rotate(154 35.8 641.8)"/><ellipse cx="3.3" cy="665.4" rx="2.3" ry="1.8" opacity="0.9" transform="rotate(3 3.3 665.4)"/><ellipse cx="13.2" cy="647.0" rx="2.6" ry="2.0" opacity="0.8" transform="rotate(117 13.2 647.0)"/><ellipse cx="8.5" cy="680.8" rx="1.7" ry="1.4" opacity="0.6" transform="rotate(73 8.5 680.8)"/><ellipse cx="21.3" cy="688.5" rx="2.1" ry="1.8" opacity="0.6" transform="rotate(41 21.3 688.5)"/><ellipse cx="27.5" cy="652.3" rx="1.7" ry="1.2" opacity="0.7" transform="rotate(32 27.5 652.3)"/><ellipse cx="4.2" cy="647.4" rx="2.4" ry="2.1" opacity="0.7" transform="rotate(78 4.2 647.4)"/><ellipse cx="25.4" cy="680.0" rx="1.6" ry="1.4" opacity="0.6" transform="rotate(134 25.4 680.0)"/><ellipse cx="16.0" cy="675.4" rx="2.2" ry="1.6" opacity="0.7" transform="rotate(94 16.0 675.4)"/><ellipse cx="9.4" cy="669.8" rx="1.9" ry="1.5" opacity="1.0" transform="rotate(45 9.4 669.8)"/><ellipse cx="27.5" cy="693.1" rx="2.4" ry="1.6" opacity="0.9" transform="rotate(79 27.5 693.1)"/><ellipse cx="35.2" cy="657.3" rx="2.5" ry="1.7" opacity="0.8" transform="rotate(57 35.2 657.3)"/><ellipse cx="12.9" cy="642.9" rx="2.3" ry="1.6" opacity="0.7" transform="rotate(12 12.9 642.9)"/><ellipse cx="7.1" cy="643.9" rx="2.0" ry="1.7" opacity="0.9" transform="rotate(26 7.1 643.9)"/><ellipse cx="30.4" cy="689.2" rx="1.7" ry="1.2" opacity="0.7" transform="rotate(6 30.4 689.2)"/><ellipse cx="34.4" cy="672.5" rx="1.9" ry="1.7" opacity="0.7" transform="rotate(177 34.4 672.5)"/><ellipse cx="19.4" cy="665.0" rx="2.0" ry="1.6" opacity="0.9" transform="rotate(17 19.4 665.0)"/><ellipse cx="24.7" cy="657.4" rx="1.6" ry="1.3" opacity="0.9" transform="rotate(111 24.7 657.4)"/><ellipse cx="29.5" cy="669.2" rx="1.6" ry="1.1" opacity="0.8" transform="rotate(70 29.5 669.2)"/><ellipse cx="22.4" cy="643.9" rx="2.2" ry="1.5" opacity="0.8" transform="rotate(18 22.4 643.9)"/><ellipse cx="17.4" cy="663.1" rx="2.4" ry="1.9" opacity="0.7" transform="rotate(109 17.4 663.1)"/></g><g id="k12"><ellipse cx="17.1" cy="644.9" rx="1.7" ry="1.3" opacity="0.6" transform="rotate(81 17.1 644.9)"/><ellipse cx="27.4" cy="687.9" rx="1.6" ry="1.3" opacity="0.7" transform="rotate(11 27.4 687.9)"/><ellipse cx="7.5" cy="674.9" rx="2.2" ry="1.9" opacity="0.6" transform="rotate(24 7.5 674.9)"/><ellipse cx="28.4" cy="685.2" rx="2.3" ry="1.5" opacity="0.8" transform="rotate(61 28.4 685.2)"/><ellipse cx="5.7" cy="650.5" rx="1.5" ry="0.9" opacity="0.8" transform="rotate(77 5.7 650.5)"/><ellipse cx="37.3" cy="669.5" rx="2.1" ry="1.5" opacity="0.6" transform="rotate(103 37.3 669.5)"/><ellipse cx="0.1" cy="669.5" rx="1.4" ry="1.4" opacity="0.7" transform="rotate(113 0.1 669.5)"/><ellipse cx="19.3" cy="678.8" rx="2.1" ry="1.3" opacity="0.8" transform="rotate(144 19.3 678.8)"/><ellipse cx="12.6" cy="652.7" rx="1.8" ry="1.4" opacity="1.0" transform="rotate(9 12.6 652.7)"/><ellipse cx="19.4" cy="646.7" rx="2.2" ry="1.8" opacity="0.7" transform="rotate(177 19.4 646.7)"/><ellipse cx="2.4" cy="659.9" rx="1.7" ry="1.6" opacity="0.8" transform="rotate(6 2.4 659.9)"/><ellipse cx="33.9" cy="662.9" rx="1.7" ry="1.2" opacity="0.6" transform="rotate(43 33.9 662.9)"/><ellipse cx="32.7" cy="674.4" rx="2.4" ry="1.8" opacity="0.7" transform="rotate(160 32.7 674.4)"/><ellipse cx="20.4" cy="668.8" rx="2.2" ry="1.6" opacity="0.7" transform="rotate(169 20.4 668.8)"/><ellipse cx="32.3" cy="670.7" rx="1.4" ry="1.1" opacity="0.8" transform="rotate(142 32.3 670.7)"/><ellipse cx="0.1" cy="657.6" rx="1.7" ry="1.7" opacity="0.8" transform="rotate(169 0.1 657.6)"/><ellipse cx="30.3" cy="642.1" rx="1.5" ry="1.1" opacity="0.9" transform="rotate(169 30.3 642.1)"/><ellipse cx="21.9" cy="652.8" rx="2.3" ry="1.7" opacity="0.7" transform="rotate(70 21.9 652.8)"/><ellipse cx="30.1" cy="680.3" rx="1.8" ry="1.4" opacity="1.0" transform="rotate(162 30.1 680.3)"/><ellipse cx="32.3" cy="657.8" rx="2.4" ry="1.8" opacity="0.8" transform="rotate(109 32.3 657.8)"/><ellipse cx="27.8" cy="647.2" rx="2.3" ry="2.0" opacity="0.7" transform="rotate(46 27.8 647.2)"/><ellipse cx="2.8" cy="657.6" rx="1.7" ry="1.3" opacity="0.8" transform="rotate(30 2.8 657.6)"/><ellipse cx="26.3" cy="673.3" rx="1.9" ry="1.4" opacity="0.6" transform="rotate(56 26.3 673.3)"/><ellipse cx="28.2" cy="678.8" rx="1.7" ry="1.3" opacity="0.8" transform="rotate(156 28.2 678.8)"/><ellipse cx="1.5" cy="669.7" rx="2.0" ry="1.2" opacity="0.7" transform="rotate(56 1.5 669.7)"/><ellipse cx="37.5" cy="676.0" rx="2.2" ry="1.4" opacity="1.0" transform="rotate(158 37.5 676.0)"/><ellipse cx="37.5" cy="649.6" rx="2.2" ry="1.6" opacity="0.7" transform="rotate(32 37.5 649.6)"/><ellipse cx="8.2" cy="683.5" rx="2.3" ry="2.1" opacity="0.8" transform="rotate(152 8.2 683.5)"/><ellipse cx="29.8" cy="653.9" rx="2.1" ry="1.4" opacity="0.8" transform="rotate(38 29.8 653.9)"/><ellipse cx="19.1" cy="642.5" rx="1.9" ry="1.6" opacity="0.9" transform="rotate(64 19.1 642.5)"/><ellipse cx="36.5" cy="643.8" rx="1.7" ry="1.1" opacity="0.8" transform="rotate(79 36.5 643.8)"/><ellipse cx="23.8" cy="661.8" rx="1.6" ry="1.0" opacity="0.9" transform="rotate(151 23.8 661.8)"/><ellipse cx="6.4" cy="685.3" rx="2.2" ry="2.0" opacity="0.7" transform="rotate(129 6.4 685.3)"/><ellipse cx="34.4" cy="650.2" rx="1.7" ry="1.2" opacity="0.7" transform="rotate(148 34.4 650.2)"/><ellipse cx="5.3" cy="660.5" rx="1.9" ry="1.6" opacity="0.7" transform="rotate(173 5.3 660.5)"/><ellipse cx="35.5" cy="673.9" rx="1.9" ry="1.4" opacity="0.7" transform="rotate(112 35.5 673.9)"/><ellipse cx="4.9" cy="643.1" rx="2.3" ry="2.0" opacity="0.9" transform="rotate(177 4.9 643.1)"/><ellipse cx="10.8" cy="674.6" rx="2.2" ry="1.8" opacity="0.7" transform="rotate(41 10.8 674.6)"/><ellipse cx="37.1" cy="673.3" rx="2.3" ry="2.0" opacity="0.9" transform="rotate(167 37.1 673.3)"/><ellipse cx="34.1" cy="668.6" rx="2.1" ry="1.7" opacity="0.8" transform="rotate(108 34.1 668.6)"/><ellipse cx="14.1" cy="662.0" rx="2.0" ry="1.6" opacity="1.0" transform="rotate(176 14.1 662.0)"/><ellipse cx="3.9" cy="656.4" rx="2.1" ry="1.6" opacity="0.8" transform="rotate(68 3.9 656.4)"/><ellipse cx="20.7" cy="679.3" rx="2.3" ry="1.5" opacity="1.0" transform="rotate(170 20.7 679.3)"/><ellipse cx="2.9" cy="673.0" rx="2.0" ry="1.8" opacity="0.6" transform="rotate(149 2.9 673.0)"/><ellipse cx="30.1" cy="664.8" rx="1.5" ry="1.2" opacity="0.9" transform="rotate(138 30.1 664.8)"/><ellipse cx="32.0" cy="681.5" rx="1.7" ry="1.5" opacity="0.7" transform="rotate(159 32.0 681.5)"/><ellipse cx="27.2" cy="660.3" rx="1.9" ry="1.1" opacity="0.9" transform="rotate(21 27.2 660.3)"/><ellipse cx="36.0" cy="659.0" rx="2.0" ry="1.3" opacity="1.0" transform="rotate(30 36.0 659.0)"/><ellipse cx="35.4" cy="687.1" rx="1.6" ry="1.5" opacity="0.9" transform="rotate(110 35.4 687.1)"/><ellipse cx="14.0" cy="672.0" rx="2.1" ry="1.5" opacity="0.7" transform="rotate(25 14.0 672.0)"/><ellipse cx="36.9" cy="645.8" rx="2.2" ry="1.5" opacity="0.9" transform="rotate(14 36.9 645.8)"/><ellipse cx="23.6" cy="655.8" rx="2.3" ry="2.0" opacity="0.8" transform="rotate(144 23.6 655.8)"/><ellipse cx="16.5" cy="668.4" rx="1.5" ry="1.1" opacity="0.7" transform="rotate(124 16.5 668.4)"/><ellipse cx="20.0" cy="648.4" rx="1.8" ry="1.4" opacity="0.7" transform="rotate(82 20.0 648.4)"/><ellipse cx="29.9" cy="658.7" rx="1.9" ry="1.8" opacity="0.8" transform="rotate(164 29.9 658.7)"/><ellipse cx="19.7" cy="659.1" rx="2.0" ry="1.6" opacity="0.7" transform="rotate(91 19.7 659.1)"/><ellipse cx="22.4" cy="662.4" rx="2.4" ry="2.2" opacity="0.6" transform="rotate(103 22.4 662.4)"/><ellipse cx="15.0" cy="653.8" rx="1.5" ry="1.0" opacity="0.8" transform="rotate(32 15.0 653.8)"/><ellipse cx="8.4" cy="658.4" rx="2.2" ry="1.4" opacity="0.6" transform="rotate(72 8.4 658.4)"/><ellipse cx="16.1" cy="665.9" rx="2.3" ry="1.8" opacity="0.8" transform="rotate(134 16.1 665.9)"/><ellipse cx="16.9" cy="655.5" rx="2.4" ry="2.0" opacity="0.6" transform="rotate(32 16.9 655.5)"/><ellipse cx="37.0" cy="662.5" rx="2.1" ry="1.3" opacity="0.8" transform="rotate(169 37.0 662.5)"/><ellipse cx="36.5" cy="668.7" rx="2.1" ry="1.9" opacity="0.9" transform="rotate(148 36.5 668.7)"/><ellipse cx="11.9" cy="665.8" rx="1.9" ry="1.5" opacity="0.7" transform="rotate(74 11.9 665.8)"/><ellipse cx="31.0" cy="658.3" rx="2.2" ry="1.4" opacity="0.9" transform="rotate(4 31.0 658.3)"/><ellipse cx="25.7" cy="654.3" rx="1.5" ry="1.0" opacity="0.9" transform="rotate(88 25.7 654.3)"/><ellipse cx="14.1" cy="666.9" rx="2.3" ry="2.2" opacity="0.6" transform="rotate(169 14.1 666.9)"/><ellipse cx="34.7" cy="666.3" rx="1.7" ry="1.1" opacity="0.7" transform="rotate(170 34.7 666.3)"/><ellipse cx="13.2" cy="644.9" rx="1.4" ry="1.1" opacity="0.7" transform="rotate(153 13.2 644.9)"/><ellipse cx="14.5" cy="663.7" rx="1.9" ry="1.3" opacity="0.8" transform="rotate(107 14.5 663.7)"/><ellipse cx="20.2" cy="677.1" rx="2.2" ry="1.6" opacity="0.8" transform="rotate(118 20.2 677.1)"/><ellipse cx="3.9" cy="667.1" rx="2.3" ry="1.4" opacity="0.9" transform="rotate(134 3.9 667.1)"/><ellipse cx="31.2" cy="656.6" rx="2.4" ry="1.8" opacity="1.0" transform="rotate(151 31.2 656.6)"/><ellipse cx="8.3" cy="655.2" rx="1.8" ry="1.5" opacity="0.9" transform="rotate(148 8.3 655.2)"/><ellipse cx="23.2" cy="650.5" rx="1.7" ry="1.5" opacity="0.6" transform="rotate(23 23.2 650.5)"/></g><g id="k13"><ellipse cx="17.1" cy="644.9" rx="1.7" ry="1.3" opacity="0.6" transform="rotate(81 17.1 644.9)"/><ellipse cx="28.4" cy="685.2" rx="2.3" ry="1.5" opacity="0.8" transform="rotate(61 28.4 685.2)"/><ellipse cx="0.1" cy="669.5" rx="1.4" ry="1.4" opacity="0.7" transform="rotate(113 0.1 669.5)"/><ellipse cx="19.4" cy="646.7" rx="2.2" ry="1.8" opacity="0.7" transform="rotate(177 19.4 646.7)"/><ellipse cx="32.7" cy="674.4" rx="2.4" ry="1.8" opacity="0.7" transform="rotate(160 32.7 674.4)"/><ellipse cx="0.1" cy="657.6" rx="1.7" ry="1.7" opacity="0.8" transform="rotate(169 0.1 657.6)"/><ellipse cx="30.1" cy="680.3" rx="1.8" ry="1.4" opacity="1.0" transform="rotate(162 30.1 680.3)"/><ellipse cx="2.8" cy="657.6" rx="1.7" ry="1.3" opacity="0.8" transform="rotate(30 2.8 657.6)"/><ellipse cx="1.5" cy="669.7" rx="2.0" ry="1.2" opacity="0.7" transform="rotate(56 1.5 669.7)"/><ellipse cx="8.2" cy="683.5" rx="2.3" ry="2.1" opacity="0.8" transform="rotate(152 8.2 683.5)"/><ellipse cx="36.5" cy="643.8" rx="1.7" ry="1.1" opacity="0.8" transform="rotate(79 36.5 643.8)"/><ellipse cx="34.4" cy="650.2" rx="1.7" ry="1.2" opacity="0.7" transform="rotate(148 34.4 650.2)"/><ellipse cx="4.9" cy="643.1" rx="2.3" ry="2.0" opacity="0.9" transform="rotate(177 4.9 643.1)"/><ellipse cx="34.1" cy="668.6" rx="2.1" ry="1.7" opacity="0.8" transform="rotate(108 34.1 668.6)"/><ellipse cx="20.7" cy="679.3" rx="2.3" ry="1.5" opacity="1.0" transform="rotate(170 20.7 679.3)"/><ellipse cx="32.0" cy="681.5" rx="1.7" ry="1.5" opacity="0.7" transform="rotate(159 32.0 681.5)"/><ellipse cx="35.4" cy="687.1" rx="1.6" ry="1.5" opacity="0.9" transform="rotate(110 35.4 687.1)"/><ellipse cx="23.6" cy="655.8" rx="2.3" ry="2.0" opacity="0.8" transform="rotate(144 23.6 655.8)"/><ellipse cx="29.9" cy="658.7" rx="1.9" ry="1.8" opacity="0.8" transform="rotate(164 29.9 658.7)"/><ellipse cx="15.0" cy="653.8" rx="1.5" ry="1.0" opacity="0.8" transform="rotate(32 15.0 653.8)"/><ellipse cx="16.9" cy="655.5" rx="2.4" ry="2.0" opacity="0.6" transform="rotate(32 16.9 655.5)"/><ellipse cx="11.9" cy="665.8" rx="1.9" ry="1.5" opacity="0.7" transform="rotate(74 11.9 665.8)"/><ellipse cx="14.1" cy="666.9" rx="2.3" ry="2.2" opacity="0.6" transform="rotate(169 14.1 666.9)"/><ellipse cx="14.5" cy="663.7" rx="1.9" ry="1.3" opacity="0.8" transform="rotate(107 14.5 663.7)"/><ellipse cx="31.2" cy="656.6" rx="2.4" ry="1.8" opacity="1.0" transform="rotate(151 31.2 656.6)"/></g><clipPath id="c38"><rect x="494.60" y="601.10" width="38.20" height="96.60"/></clipPath><clipPath id="c39"><rect x="536.40" y="601.10" width="38.20" height="96.60"/></clipPath><clipPath id="c40"><rect x="578.70" y="601.10" width="38.20" height="96.60"/></clipPath><filter id="ob" x="-1.2" y="-1.2" width="3.4" height="3.4"><feGaussianBlur stdDeviation="0.9"/></filter><radialGradient id="lg5"><stop offset="0" stop-color="#f0d2f0"/><stop offset="0.45" stop-color="#f0d2f0"/><stop offset="0.75" stop-color="#a9d9f0"/><stop offset="1" stop-color="#a9d9f0" stop-opacity="0.3"/></radialGradient><radialGradient id="lg6"><stop offset="0" stop-color="#d6ecfb"/><stop offset="0.45" stop-color="#d6ecfb"/><stop offset="0.75" stop-color="#b4def7"/><stop offset="1" stop-color="#b4def7" stop-opacity="0.3"/></radialGradient><radialGradient id="lg7"><stop offset="0" stop-color="#f0d2f0"/><stop offset="0.45" stop-color="#f0d2f0"/><stop offset="0.75" stop-color="#a9d9f0"/><stop offset="1" stop-color="#a9d9f0" stop-opacity="0.3"/></radialGradient><radialGradient id="lg8"><stop offset="0" stop-color="#d6ecfb"/><stop offset="0.45" stop-color="#d6ecfb"/><stop offset="0.75" stop-color="#b4def7"/><stop offset="1" stop-color="#b4def7" stop-opacity="0.3"/></radialGradient><clipPath id="w41"><path d="M492.0 20.9Q544.1 8.3 596.2 20.9L581.6 89.0Q544.9 81.8 508.2 90.6z"/><path d="M508.2 90.6Q544.9 81.8 581.6 89.0L566.5 146.9Q545.2 141.9 523.9 146.9z"/></clipPath><clipPath id="w42"><path d="M497.8 165.5Q545.1 157.7 592.5 165.5L580.8 213.4Q545.1 207.6 509.5 214.6z"/><path d="M509.5 214.6Q545.1 207.6 580.8 213.4L566.8 276.5Q545.1 271.5 523.5 276.5z"/></clipPath></defs>
<text x="19.70" y="16.00" font-size="13.6" text-anchor="start" font-weight="bold" fill="#000">a</text>
<text x="3.30" y="311.50" font-size="13.6" text-anchor="start" font-weight="bold" fill="#000">b</text>
<text x="221.50" y="309.90" font-size="13.6" text-anchor="start" font-weight="bold" fill="#000">c</text>
<text x="448.70" y="310.10" font-size="13.6" text-anchor="start" font-weight="bold" fill="#000">d</text>
<text x="4.70" y="522.50" font-size="13.6" text-anchor="start" font-weight="bold" fill="#000">e</text>
<text x="4.70" y="751.50" font-size="13.6" text-anchor="start" font-weight="bold" fill="#000">f</text>
<text x="265.30" y="751.10" font-size="13.6" text-anchor="start" font-weight="bold" fill="#000">g</text>
<text x="502.30" y="751.50" font-size="13.6" text-anchor="start" font-weight="bold" fill="#000">j</text>
<text x="8.90" y="946.10" font-size="13.6" text-anchor="start" font-weight="bold" fill="#000">h</text>
<text x="264.50" y="946.10" font-size="13.6" text-anchor="start" font-weight="bold" fill="#000">i</text>
<text x="501.30" y="946.90" font-size="13.6" text-anchor="start" font-weight="bold" fill="#000">k</text>
<line x1="49.00" y1="324.30" x2="49.00" y2="440.05" stroke="#000" stroke-width="1.25"/>
<line x1="44.40" y1="439.50" x2="49.00" y2="439.50" stroke="#000" stroke-width="1.25"/>
<text x="42.10" y="442.00" font-size="8.2" text-anchor="end" font-weight="bold" fill="#000">0</text>
<line x1="44.40" y1="401.20" x2="49.00" y2="401.20" stroke="#000" stroke-width="1.25"/>
<text x="42.10" y="403.70" font-size="8.2" text-anchor="end" font-weight="bold" fill="#000">2</text>
<line x1="44.40" y1="362.90" x2="49.00" y2="362.90" stroke="#000" stroke-width="1.25"/>
<text x="42.10" y="365.40" font-size="8.2" text-anchor="end" font-weight="bold" fill="#000">4</text>
<line x1="44.40" y1="324.60" x2="49.00" y2="324.60" stroke="#000" stroke-width="1.25"/>
<text x="42.10" y="327.10" font-size="8.2" text-anchor="end" font-weight="bold" fill="#000">6</text>
<text x="29.30" y="382.50" font-size="10" text-anchor="middle" font-weight="normal" fill="#000" transform="rotate(-90 29.30 382.50)">SOX2<tspan dy="-4.1" font-size="60%">+</tspan><tspan dy="4.1"> / TUJ1</tspan><tspan dy="-4.1" font-size="60%">+</tspan><tspan dy="4.1"> area ratio</tspan></text>
<text x="46.40" y="303.40" font-size="10" text-anchor="start" font-weight="normal" fill="#000">SOX2<tspan dy="-4.1" font-size="60%">+</tspan><tspan dy="4.1"> / TUJ1</tspan><tspan dy="-4.1" font-size="60%">+</tspan><tspan dy="4.1"> area in cortical region</tspan></text>
<path d="M59.05 439.50V415.46H74.75V439.50" fill="#d8cfee" stroke="#30155f" stroke-width="1.7"/>
<path d="M66.90 412.31V416.90M62.90 412.31H70.90M62.90 416.90H70.90" stroke="#b29bdf" stroke-width="0.9" fill="none"/>
<path d="M66.9 426.1h0M61.9 426.1h0M64.4 426.1h0M69.4 426.1h0M66.9 423.7h0M66.9 421.3h0M66.9 419.0h0M66.9 416.6h0M64.4 416.6h0M71.9 416.6h0M66.9 414.2h0M69.4 414.2h0M61.9 414.2h0M66.9 411.8h0M66.9 409.4h0M64.4 409.4h0M69.4 409.4h0M66.9 407.0h0M64.4 407.0h0M69.4 404.6h0M69.4 402.2h0M64.4 395.0h0M64.4 392.6h0M66.9 385.4h0" stroke="#b29bdf" stroke-width="2.24" stroke-linecap="round" fill="none"/>
<path d="M85.25 439.50V427.33H101.15V439.50" fill="#d8cfee" stroke="#30155f" stroke-width="1.7"/>
<path d="M93.20 425.33V427.63M89.20 425.33H97.20M89.20 427.63H97.20" stroke="#b29bdf" stroke-width="0.9" fill="none"/>
<path d="M93.2 435.7h0M95.7 435.7h0M90.7 435.7h0M88.2 435.7h0M98.2 435.7h0M93.2 433.3h0M95.7 433.3h0M90.7 433.3h0M88.2 433.3h0M93.2 430.9h0M95.7 430.9h0M98.2 430.9h0M93.2 428.5h0M90.7 428.5h0M95.7 428.5h0M100.8 428.5h0M98.2 428.5h0M88.2 428.5h0M90.7 426.1h0M95.7 426.1h0M93.2 426.1h0M98.2 426.1h0M88.2 426.1h0M100.8 426.1h0M93.2 423.7h0M90.7 423.7h0M95.7 423.7h0M85.6 423.7h0M98.2 423.7h0M88.2 423.7h0M90.7 421.3h0M93.2 421.3h0M95.7 421.3h0M88.2 421.3h0M90.7 419.0h0M93.2 419.0h0M93.2 416.6h0M90.7 416.6h0M95.7 416.6h0M93.2 414.2h0" stroke="#b29bdf" stroke-width="2.24" stroke-linecap="round" fill="none"/>
<path d="M111.95 439.50V407.22H127.75V439.50" fill="#aae6fb" stroke="#1c60e0" stroke-width="1.7"/>
<path d="M119.85 403.31V409.43M115.85 403.31H123.85M115.85 409.43H123.85" stroke="#20bdf7" stroke-width="0.9" fill="none"/>
<path d="M122.4 421.3h0M119.8 419.0h0M122.4 416.6h0M119.8 416.6h0M119.8 414.2h0M122.4 414.2h0M117.3 414.2h0M119.8 411.8h0M124.9 411.8h0M119.8 409.4h0M117.3 409.4h0M122.4 409.4h0M119.8 407.0h0M122.4 407.0h0M119.8 402.2h0M122.4 402.2h0M117.3 402.2h0M119.8 399.8h0M119.8 397.4h0M119.8 395.0h0M119.8 392.6h0M122.4 392.6h0M114.8 392.6h0M124.9 392.6h0M117.3 383.0h0M119.8 363.9h0" stroke="#20bdf7" stroke-width="2.24" stroke-linecap="round" fill="none"/>
<path d="M138.25 439.50V420.24H154.05V439.50" fill="#aae6fb" stroke="#1c60e0" stroke-width="1.7"/>
<path d="M146.15 417.48V421.31M142.15 417.48H150.15M142.15 421.31H150.15" stroke="#20bdf7" stroke-width="0.9" fill="none"/>
<path d="M146.2 430.9h0M143.6 430.9h0M146.2 426.1h0M148.7 426.1h0M141.1 426.1h0M146.2 423.7h0M148.7 423.7h0M143.6 423.7h0M141.1 423.7h0M151.2 423.7h0M146.2 421.3h0M143.6 421.3h0M148.7 421.3h0M141.1 421.3h0M146.2 419.0h0M143.6 419.0h0M151.2 419.0h0M148.7 419.0h0M141.1 419.0h0M153.7 419.0h0M138.6 419.0h0M144.0 419.0h0M153.6 419.0h0M146.2 416.6h0M143.6 416.6h0M141.1 416.6h0M148.7 414.2h0M146.2 414.2h0M146.2 411.8h0M148.7 411.8h0M143.6 411.8h0M151.2 411.8h0M146.2 344.7h0" stroke="#20bdf7" stroke-width="2.24" stroke-linecap="round" fill="none"/>
<line x1="44.40" y1="439.50" x2="163.80" y2="439.50" stroke="#000" stroke-width="1.25"/>
<line x1="66.90" y1="439.50" x2="66.90" y2="444.40" stroke="#000" stroke-width="1.25"/>
<text x="68.70" y="451.70" font-size="8.6" text-anchor="end" font-weight="bold" fill="#000" transform="rotate(-45 68.70 451.70)">Day60</text>
<line x1="93.20" y1="439.50" x2="93.20" y2="444.40" stroke="#000" stroke-width="1.25"/>
<text x="95.00" y="451.70" font-size="8.6" text-anchor="end" font-weight="bold" fill="#000" transform="rotate(-45 95.00 451.70)">Day90</text>
<line x1="119.85" y1="439.50" x2="119.85" y2="444.40" stroke="#000" stroke-width="1.25"/>
<text x="121.65" y="451.70" font-size="8.6" text-anchor="end" font-weight="bold" fill="#000" transform="rotate(-45 121.65 451.70)">Day60</text>
<line x1="146.15" y1="439.50" x2="146.15" y2="444.40" stroke="#000" stroke-width="1.25"/>
<text x="147.95" y="451.70" font-size="8.6" text-anchor="end" font-weight="bold" fill="#000" transform="rotate(-45 147.95 451.70)">Day 90</text>
<line x1="66.00" y1="352.60" x2="121.60" y2="352.60" stroke="#000" stroke-width="1.25"/>
<text x="93.00" y="349.60" font-size="8.9" text-anchor="middle" font-weight="normal" fill="#000">P=0.0725</text>
<line x1="93.70" y1="333.20" x2="148.70" y2="333.20" stroke="#000" stroke-width="1.25"/>
<text x="121.00" y="327.10" font-size="8.9" text-anchor="middle" font-weight="normal" fill="#000">** P=0.0067</text>
<line x1="61.50" y1="478.30" x2="98.00" y2="478.30" stroke="#d5c9ec" stroke-width="1.3"/>
<line x1="114.80" y1="478.30" x2="151.50" y2="478.30" stroke="#9fe2fb" stroke-width="1.3"/>
<text x="77.90" y="488.60" font-size="9.6" text-anchor="middle" font-weight="normal" fill="#000">ACM</text>
<text x="133.00" y="488.60" font-size="9.6" text-anchor="middle" font-weight="normal" fill="#000">Control</text>
<line x1="269.80" y1="325.30" x2="269.80" y2="440.35" stroke="#000" stroke-width="1.25"/>
<line x1="265.20" y1="439.80" x2="269.80" y2="439.80" stroke="#000" stroke-width="1.25"/>
<text x="262.90" y="442.30" font-size="8.2" text-anchor="end" font-weight="bold" fill="#000">0</text>
<line x1="265.20" y1="401.80" x2="269.80" y2="401.80" stroke="#000" stroke-width="1.25"/>
<text x="262.90" y="404.30" font-size="8.2" text-anchor="end" font-weight="bold" fill="#000">2</text>
<line x1="265.20" y1="363.80" x2="269.80" y2="363.80" stroke="#000" stroke-width="1.25"/>
<text x="262.90" y="366.30" font-size="8.2" text-anchor="end" font-weight="bold" fill="#000">4</text>
<line x1="265.20" y1="325.80" x2="269.80" y2="325.80" stroke="#000" stroke-width="1.25"/>
<text x="262.90" y="328.30" font-size="8.2" text-anchor="end" font-weight="bold" fill="#000">6</text>
<text x="250.00" y="382.50" font-size="10" text-anchor="middle" font-weight="normal" fill="#000" transform="rotate(-90 250.00 382.50)">Layer thickness ratio</text>
<text x="250.20" y="303.00" font-size="10" text-anchor="start" font-weight="normal" fill="#000">Progenitor / neuronal layer thickness</text>
<path d="M279.85 439.80V416.52H295.65V439.80" fill="#d8cfee" stroke="#30155f" stroke-width="1.7"/>
<path d="M287.75 411.30V420.04M283.75 411.30H291.75M283.75 420.04H291.75" stroke="#b29bdf" stroke-width="0.9" fill="none"/>
<path d="M287.8 430.9h0M287.8 428.5h0M287.8 426.1h0M282.7 426.1h0M287.8 423.7h0M285.2 423.7h0M285.2 421.3h0M287.8 419.0h0M287.8 416.6h0M285.2 416.6h0M290.3 416.6h0M292.8 416.6h0M287.8 414.2h0M285.2 414.2h0M287.8 411.8h0M287.8 409.4h0M290.3 409.4h0M285.2 409.4h0M285.2 404.6h0M287.8 395.0h0M290.3 392.6h0M290.3 339.9h0" stroke="#b29bdf" stroke-width="2.24" stroke-linecap="round" fill="none"/>
<path d="M306.25 439.80V421.65H322.05V439.80" fill="#d8cfee" stroke="#30155f" stroke-width="1.7"/>
<path d="M314.15 419.28V422.32M310.15 419.28H318.15M310.15 422.32H318.15" stroke="#b29bdf" stroke-width="0.9" fill="none"/>
<path d="M311.6 433.3h0M314.1 433.3h0M316.7 433.3h0M314.1 430.9h0M311.6 428.5h0M314.1 428.5h0M314.1 426.1h0M316.7 426.1h0M319.2 426.1h0M314.1 423.7h0M316.7 423.7h0M311.6 423.7h0M319.2 423.7h0M309.1 423.7h0M321.7 423.7h0M306.6 423.7h0M316.8 423.7h0M316.7 421.3h0M314.1 421.3h0M309.1 421.3h0M311.6 421.3h0M306.6 421.3h0M319.2 421.3h0M321.7 421.3h0M314.1 419.0h0M316.7 419.0h0M311.6 419.0h0M319.2 419.0h0M309.1 419.0h0M311.6 416.6h0M314.1 414.2h0M311.6 411.8h0M314.1 411.8h0M309.1 411.8h0M314.1 404.6h0M316.7 404.6h0M311.6 392.6h0M311.6 390.2h0" stroke="#b29bdf" stroke-width="2.24" stroke-linecap="round" fill="none"/>
<path d="M332.85 439.80V398.85H348.65V439.80" fill="#aae6fb" stroke="#1c60e0" stroke-width="1.7"/>
<path d="M340.75 391.73V404.27M336.75 391.73H344.75M336.75 404.27H344.75" stroke="#20bdf7" stroke-width="0.9" fill="none"/>
<path d="M343.3 411.8h0M340.8 411.8h0M340.8 409.4h0M340.8 404.6h0M338.2 404.6h0M338.2 402.2h0M340.8 399.8h0M340.8 397.4h0M338.2 397.4h0M340.8 392.6h0M343.3 392.6h0M335.7 392.6h0M340.8 390.2h0M340.8 387.8h0M340.8 385.4h0M340.8 378.3h0M343.3 363.9h0M343.3 344.7h0" stroke="#20bdf7" stroke-width="2.24" stroke-linecap="round" fill="none"/>
<path d="M359.45 439.80V414.62H375.25V439.80" fill="#aae6fb" stroke="#1c60e0" stroke-width="1.7"/>
<path d="M367.35 411.87V415.67M363.35 411.87H371.35M363.35 415.67H371.35" stroke="#20bdf7" stroke-width="0.9" fill="none"/>
<path d="M369.9 430.9h0M367.4 428.5h0M367.4 426.1h0M367.4 423.7h0M369.9 423.7h0M367.4 421.3h0M364.8 421.3h0M369.9 421.3h0M362.3 421.3h0M359.8 421.3h0M364.8 419.0h0M367.4 416.6h0M364.8 416.6h0M367.4 414.2h0M372.4 414.2h0M369.9 414.2h0M367.4 411.8h0M372.4 411.8h0M364.8 411.8h0M369.9 411.8h0M359.8 411.8h0M362.3 411.8h0M374.9 411.8h0M367.4 409.4h0M364.8 409.4h0M369.9 409.4h0M367.4 407.0h0M364.8 407.0h0M367.4 404.6h0M362.3 404.6h0M367.4 402.2h0M364.8 402.2h0M369.9 402.2h0M367.4 397.4h0M367.4 371.1h0" stroke="#20bdf7" stroke-width="2.24" stroke-linecap="round" fill="none"/>
<line x1="265.20" y1="439.80" x2="384.60" y2="439.80" stroke="#000" stroke-width="1.25"/>
<line x1="287.75" y1="439.80" x2="287.75" y2="444.70" stroke="#000" stroke-width="1.25"/>
<text x="289.55" y="452.00" font-size="8.6" text-anchor="end" font-weight="bold" fill="#000" transform="rotate(-45 289.55 452.00)">Day60</text>
<line x1="314.15" y1="439.80" x2="314.15" y2="444.70" stroke="#000" stroke-width="1.25"/>
<text x="315.95" y="452.00" font-size="8.6" text-anchor="end" font-weight="bold" fill="#000" transform="rotate(-45 315.95 452.00)">Day90</text>
<line x1="340.75" y1="439.80" x2="340.75" y2="444.70" stroke="#000" stroke-width="1.25"/>
<text x="342.55" y="452.00" font-size="8.6" text-anchor="end" font-weight="bold" fill="#000" transform="rotate(-45 342.55 452.00)">Day60</text>
<line x1="367.35" y1="439.80" x2="367.35" y2="444.70" stroke="#000" stroke-width="1.25"/>
<text x="369.15" y="452.00" font-size="8.6" text-anchor="end" font-weight="bold" fill="#000" transform="rotate(-45 369.15 452.00)">Day 90</text>
<line x1="287.20" y1="335.20" x2="343.20" y2="335.20" stroke="#000" stroke-width="1.25"/>
<text x="311.30" y="331.30" font-size="8.9" text-anchor="middle" font-weight="normal" fill="#000">** P=0.0011</text>
<line x1="315.60" y1="322.70" x2="371.90" y2="322.70" stroke="#000" stroke-width="1.25"/>
<text x="342.70" y="319.50" font-size="8.9" text-anchor="middle" font-weight="normal" fill="#000">* P=0.0286</text>
<line x1="282.90" y1="478.70" x2="318.80" y2="478.70" stroke="#d5c9ec" stroke-width="1.3"/>
<line x1="335.90" y1="478.70" x2="372.40" y2="478.70" stroke="#9fe2fb" stroke-width="1.3"/>
<text x="300.50" y="489.00" font-size="9.6" text-anchor="middle" font-weight="normal" fill="#000">ACM</text>
<text x="353.80" y="489.00" font-size="9.6" text-anchor="middle" font-weight="normal" fill="#000">Control</text>
<line x1="499.50" y1="325.10" x2="499.50" y2="441.05" stroke="#000" stroke-width="1.25"/>
<line x1="494.90" y1="440.50" x2="499.50" y2="440.50" stroke="#000" stroke-width="1.25"/>
<text x="492.60" y="443.00" font-size="8.2" text-anchor="end" font-weight="bold" fill="#000">0</text>
<line x1="494.90" y1="402.16" x2="499.50" y2="402.16" stroke="#000" stroke-width="1.25"/>
<text x="492.60" y="404.66" font-size="8.2" text-anchor="end" font-weight="bold" fill="#000">200</text>
<line x1="494.90" y1="363.82" x2="499.50" y2="363.82" stroke="#000" stroke-width="1.25"/>
<text x="492.60" y="366.32" font-size="8.2" text-anchor="end" font-weight="bold" fill="#000">400</text>
<line x1="494.90" y1="325.48" x2="499.50" y2="325.48" stroke="#000" stroke-width="1.25"/>
<text x="492.60" y="327.98" font-size="8.2" text-anchor="end" font-weight="bold" fill="#000">600</text>
<text x="471.20" y="382.50" font-size="10" text-anchor="middle" font-weight="normal" fill="#000" transform="rotate(-90 471.20 382.50)">Layer thickness / µm</text>
<text x="554.30" y="303.00" font-size="10" text-anchor="middle" font-weight="normal" fill="#000">Day 90</text>
<path d="M507.85 440.50V412.98H522.15V440.50" fill="#d8cfee" stroke="#30155f" stroke-width="1.7"/>
<path d="M515.00 410.40V413.85M511.00 410.40H519.00M511.00 413.85H519.00" stroke="#b29bdf" stroke-width="0.9" fill="none"/>
<path d="M515.0 428.5h0M517.5 428.5h0M515.0 426.1h0M515.0 423.7h0M517.5 423.7h0M512.5 421.3h0M515.0 419.0h0M517.5 419.0h0M520.0 419.0h0M510.0 419.0h0M512.5 419.0h0M515.3 419.0h0M517.4 419.0h0M519.9 419.0h0M517.5 416.6h0M515.0 416.6h0M512.5 416.6h0M510.0 416.6h0M515.0 414.2h0M517.5 414.2h0M512.5 414.2h0M510.0 414.2h0M520.0 414.2h0M509.6 414.2h0M515.0 411.8h0M517.5 409.4h0M515.0 409.4h0M515.0 407.0h0M517.5 407.0h0M515.0 404.6h0M515.0 402.2h0M515.0 399.8h0M512.5 399.8h0M517.5 399.8h0M515.0 390.2h0M515.0 387.8h0" stroke="#b29bdf" stroke-width="2.24" stroke-linecap="round" fill="none"/>
<path d="M531.15 440.50V421.80H545.25V440.50" fill="#aae6fb" stroke="#1c60e0" stroke-width="1.7"/>
<path d="M538.20 419.80V422.10M534.20 419.80H542.20M534.20 422.10H542.20" stroke="#20bdf7" stroke-width="0.9" fill="none"/>
<path d="M538.2 433.3h0M535.7 433.3h0M540.7 433.3h0M538.2 430.9h0M538.2 426.1h0M540.7 426.1h0M538.2 423.7h0M540.7 423.7h0M543.2 423.7h0M535.7 423.7h0M533.2 423.7h0M535.5 423.7h0M538.2 421.3h0M540.7 421.3h0M535.7 421.3h0M543.2 421.3h0M533.2 421.3h0M533.1 421.3h0M538.2 419.0h0M543.2 419.0h0M535.7 419.0h0M540.7 419.0h0M533.2 419.0h0M533.4 419.0h0M538.2 416.6h0M540.7 416.6h0M535.7 416.6h0M533.2 416.6h0M543.2 416.6h0M542.8 416.6h0M543.7 416.6h0M538.2 414.2h0M540.7 414.2h0M533.2 414.2h0M535.7 414.2h0M535.7 411.8h0M538.2 411.8h0M538.2 407.0h0M538.2 399.8h0" stroke="#20bdf7" stroke-width="2.24" stroke-linecap="round" fill="none"/>
<path d="M569.65 440.50V390.74H583.95V440.50" fill="#d8cfee" stroke="#30155f" stroke-width="1.7"/>
<path d="M576.80 387.59V392.19M572.80 387.59H580.80M572.80 392.19H580.80" stroke="#b29bdf" stroke-width="0.9" fill="none"/>
<path d="M576.8 407.0h0M579.3 407.0h0M576.8 402.2h0M574.3 402.2h0M576.8 399.8h0M576.8 397.4h0M581.8 397.4h0M579.3 397.4h0M574.3 397.4h0M576.8 395.0h0M579.3 392.6h0M576.8 390.2h0M574.3 390.2h0M576.8 387.8h0M574.3 387.8h0M581.8 387.8h0M576.8 385.4h0M579.3 385.4h0M574.3 385.4h0M571.8 385.4h0M581.8 385.4h0M571.8 385.4h0M576.8 383.0h0M579.3 383.0h0M576.8 380.6h0M579.3 380.6h0M574.3 380.6h0M576.8 378.3h0M579.3 378.3h0M581.8 378.3h0M574.3 378.3h0M571.8 378.3h0M579.3 378.3h0M579.3 375.9h0M574.3 373.5h0M574.3 363.9h0M576.8 361.5h0M574.3 361.5h0M576.8 339.9h0" stroke="#b29bdf" stroke-width="2.24" stroke-linecap="round" fill="none"/>
<path d="M592.75 440.50V402.05H606.85V440.50" fill="#aae6fb" stroke="#1c60e0" stroke-width="1.7"/>
<path d="M599.80 399.67V402.74M595.80 399.67H603.80M595.80 402.74H603.80" stroke="#20bdf7" stroke-width="0.9" fill="none"/>
<path d="M599.8 419.0h0M599.8 409.4h0M597.3 409.4h0M602.3 409.4h0M599.8 407.0h0M597.3 407.0h0M602.3 407.0h0M594.8 407.0h0M599.8 404.6h0M602.3 404.6h0M597.3 404.6h0M594.8 404.6h0M604.8 404.6h0M599.8 402.2h0M602.3 402.2h0M594.8 402.2h0M597.3 399.8h0M599.8 399.8h0M602.3 399.8h0M604.8 399.8h0M594.8 399.8h0M597.4 399.8h0M600.0 399.8h0M599.6 399.8h0M605.3 399.8h0M596.9 399.8h0M597.4 399.8h0M599.8 397.4h0M599.8 395.0h0M597.3 395.0h0M599.8 390.2h0M597.3 390.2h0M602.3 390.2h0M604.8 390.2h0M599.8 387.8h0M599.8 385.4h0M599.8 378.3h0M599.8 368.7h0" stroke="#20bdf7" stroke-width="2.24" stroke-linecap="round" fill="none"/>
<line x1="494.90" y1="440.50" x2="613.80" y2="440.50" stroke="#000" stroke-width="1.25"/>
<line x1="526.70" y1="440.50" x2="526.70" y2="445.40" stroke="#000" stroke-width="1.25"/>
<text x="526.70" y="456.00" font-size="8.6" text-anchor="middle" font-weight="bold" fill="#000">Neuronal layer</text>
<line x1="588.20" y1="440.50" x2="588.20" y2="445.40" stroke="#000" stroke-width="1.25"/>
<text x="588.20" y="456.00" font-size="8.6" text-anchor="middle" font-weight="bold" fill="#000">Total layer</text>
<line x1="509.00" y1="378.00" x2="543.80" y2="378.00" stroke="#000" stroke-width="1.25"/>
<text x="528.00" y="372.70" font-size="8.9" text-anchor="middle" font-weight="normal" fill="#000">*** P=0.0008</text>
<line x1="571.10" y1="333.00" x2="606.30" y2="333.00" stroke="#000" stroke-width="1.25"/>
<text x="588.50" y="327.10" font-size="8.9" text-anchor="middle" font-weight="normal" fill="#000">** P=0.0012</text>
<line x1="47.00" y1="779.90" x2="47.00" y2="897.05" stroke="#000" stroke-width="1.25"/>
<line x1="42.40" y1="896.50" x2="47.00" y2="896.50" stroke="#000" stroke-width="1.25"/>
<text x="40.10" y="899.00" font-size="8.2" text-anchor="end" font-weight="bold" fill="#000">0.0</text>
<line x1="42.40" y1="863.33" x2="47.00" y2="863.33" stroke="#000" stroke-width="1.25"/>
<text x="40.10" y="865.83" font-size="8.2" text-anchor="end" font-weight="bold" fill="#000">0.2</text>
<line x1="42.40" y1="830.16" x2="47.00" y2="830.16" stroke="#000" stroke-width="1.25"/>
<text x="40.10" y="832.66" font-size="8.2" text-anchor="end" font-weight="bold" fill="#000">0.4</text>
<line x1="42.40" y1="796.99" x2="47.00" y2="796.99" stroke="#000" stroke-width="1.25"/>
<text x="40.10" y="799.49" font-size="8.2" text-anchor="end" font-weight="bold" fill="#000">0.6</text>
<text x="20.80" y="840.00" font-size="10" text-anchor="middle" font-weight="normal" fill="#000" transform="rotate(-90 20.80 840.00)">TBR1<tspan dy="-4.1" font-size="60%">+</tspan><tspan dy="4.1"> / DAPI</tspan><tspan dy="-4.1" font-size="60%">+</tspan><tspan dy="4.1"> ratio</tspan></text>
<text x="58.30" y="759.90" font-size="10" text-anchor="start" font-weight="normal" fill="#000">TBR1<tspan dy="-4.1" font-size="60%">+</tspan><tspan dy="4.1"> / DAPI</tspan><tspan dy="-4.1" font-size="60%">+</tspan><tspan dy="4.1"> in cortical region</tspan></text>
<path d="M55.65 896.50V856.22H69.05V896.50" fill="#d8cfee" stroke="#30155f" stroke-width="1.7"/>
<path d="M62.35 852.71V858.02M58.35 852.71H66.35M58.35 858.02H66.35" stroke="#b29bdf" stroke-width="0.9" fill="none"/>
<path d="M62.4 869.0h0M59.8 866.6h0M62.4 864.2h0M59.8 864.2h0M64.9 864.2h0M57.3 864.2h0M62.4 861.8h0M59.8 859.4h0M62.4 857.1h0M62.4 854.7h0M64.9 854.7h0M59.8 854.7h0M67.4 854.7h0M59.8 852.3h0M62.4 852.3h0M64.9 852.3h0M62.4 849.9h0M59.8 847.5h0M62.4 845.1h0M64.9 845.1h0M57.3 845.1h0M62.4 840.3h0M59.8 840.3h0M62.4 837.9h0" stroke="#b29bdf" stroke-width="2.24" stroke-linecap="round" fill="none"/>
<path d="M77.95 896.50V847.59H91.55V896.50" fill="#aae6fb" stroke="#1c60e0" stroke-width="1.7"/>
<path d="M84.75 843.09V850.39M80.75 843.09H88.75M80.75 850.39H88.75" stroke="#20bdf7" stroke-width="0.9" fill="none"/>
<path d="M84.8 871.4h0M84.8 864.2h0M84.8 861.8h0M84.8 859.4h0M82.2 859.4h0M79.7 859.4h0M87.3 859.4h0M89.8 859.4h0M84.8 857.1h0M82.2 857.1h0M84.8 852.3h0M84.8 849.9h0M84.8 847.5h0M89.8 847.5h0M84.8 842.7h0M87.3 842.7h0M87.3 840.3h0M84.8 840.3h0M87.3 837.9h0M84.8 833.1h0M87.3 833.1h0M79.7 833.1h0M87.3 790.0h0" stroke="#20bdf7" stroke-width="2.24" stroke-linecap="round" fill="none"/>
<path d="M116.15 896.50V862.85H129.35V896.50" fill="#d8cfee" stroke="#30155f" stroke-width="1.7"/>
<path d="M122.75 859.85V864.16M118.75 859.85H126.75M118.75 864.16H126.75" stroke="#b29bdf" stroke-width="0.9" fill="none"/>
<path d="M125.3 871.4h0M125.3 869.0h0M122.8 869.0h0M120.2 869.0h0M122.8 866.6h0M125.3 866.6h0M120.2 864.2h0M125.3 864.2h0M122.8 864.2h0M117.7 864.2h0M127.8 864.2h0M122.8 861.8h0M125.3 861.8h0M120.2 861.8h0M117.7 861.8h0M122.8 859.4h0M125.3 859.4h0M125.3 857.1h0M122.8 854.7h0M122.8 849.9h0M125.3 840.3h0" stroke="#b29bdf" stroke-width="2.24" stroke-linecap="round" fill="none"/>
<path d="M138.55 896.50V874.96H151.95V896.50" fill="#aae6fb" stroke="#1c60e0" stroke-width="1.7"/>
<path d="M145.25 871.95V876.27M141.25 871.95H149.25M141.25 876.27H149.25" stroke="#20bdf7" stroke-width="0.9" fill="none"/>
<path d="M142.7 885.8h0M147.8 885.8h0M145.2 883.4h0M147.8 883.4h0M145.2 878.6h0M142.7 873.8h0M145.2 873.8h0M145.2 871.4h0M147.8 871.4h0M145.2 869.0h0M142.7 869.0h0M147.8 869.0h0M142.7 866.6h0M142.7 864.2h0M145.2 861.8h0M142.7 861.8h0" stroke="#20bdf7" stroke-width="2.24" stroke-linecap="round" fill="none"/>
<path d="M176.65 896.50V848.09H190.05V896.50" fill="#d8cfee" stroke="#30155f" stroke-width="1.7"/>
<path d="M183.35 843.92V850.56M179.35 843.92H187.35M179.35 850.56H187.35" stroke="#b29bdf" stroke-width="0.9" fill="none"/>
<path d="M183.4 873.8h0M180.8 873.8h0M185.9 869.0h0M183.4 866.6h0M183.4 859.4h0M183.4 857.1h0M185.9 857.1h0M180.8 857.1h0M188.4 857.1h0M178.3 857.1h0M182.9 857.1h0M183.4 854.7h0M180.8 854.7h0M183.4 852.3h0M180.8 852.3h0M185.9 852.3h0M178.3 852.3h0M183.4 847.5h0M185.9 847.5h0M183.4 842.7h0M185.9 840.3h0M185.9 837.9h0M183.4 837.9h0M183.4 830.7h0M185.9 830.7h0M180.8 830.7h0M178.3 830.7h0M183.4 828.3h0M185.9 828.3h0M183.4 823.5h0M183.4 816.4h0M183.4 802.0h0" stroke="#b29bdf" stroke-width="2.24" stroke-linecap="round" fill="none"/>
<path d="M198.95 896.50V859.37H212.55V896.50" fill="#aae6fb" stroke="#1c60e0" stroke-width="1.7"/>
<path d="M205.75 856.69V860.34M201.75 856.69H209.75M201.75 860.34H209.75" stroke="#20bdf7" stroke-width="0.9" fill="none"/>
<path d="M205.8 876.2h0M203.2 876.2h0M205.8 873.8h0M203.2 873.8h0M208.3 873.8h0M210.8 873.8h0M205.8 871.4h0M208.3 871.4h0M208.3 869.0h0M205.8 866.6h0M200.7 866.6h0M205.8 864.2h0M208.3 861.8h0M205.8 861.8h0M203.2 861.8h0M205.8 859.4h0M208.3 859.4h0M203.2 859.4h0M205.8 857.1h0M208.3 857.1h0M200.7 857.1h0M205.8 854.7h0M208.3 854.7h0M203.2 854.7h0M210.8 854.7h0M200.7 854.7h0M208.3 852.3h0M205.8 852.3h0M205.8 849.9h0M208.3 849.9h0M205.8 847.5h0M203.2 847.5h0M208.3 847.5h0M205.8 842.7h0M205.8 830.7h0" stroke="#20bdf7" stroke-width="2.24" stroke-linecap="round" fill="none"/>
<line x1="42.40" y1="896.50" x2="221.70" y2="896.50" stroke="#000" stroke-width="1.25"/>
<line x1="73.40" y1="896.50" x2="73.40" y2="901.40" stroke="#000" stroke-width="1.25"/>
<text x="73.40" y="910.90" font-size="8.6" text-anchor="middle" font-weight="bold" fill="#000">Day30</text>
<line x1="133.90" y1="896.50" x2="133.90" y2="901.40" stroke="#000" stroke-width="1.25"/>
<text x="133.90" y="910.90" font-size="8.6" text-anchor="middle" font-weight="bold" fill="#000">Day60</text>
<line x1="194.60" y1="896.50" x2="194.60" y2="901.40" stroke="#000" stroke-width="1.25"/>
<text x="194.60" y="910.90" font-size="8.6" text-anchor="middle" font-weight="bold" fill="#000">Day90</text>
<line x1="57.00" y1="784.00" x2="85.40" y2="784.00" stroke="#000" stroke-width="1.25"/>
<text x="73.10" y="777.10" font-size="8.9" text-anchor="middle" font-weight="normal" fill="#000">P=0.0577</text>
<line x1="120.00" y1="829.20" x2="148.70" y2="829.20" stroke="#000" stroke-width="1.25"/>
<text x="135.30" y="819.80" font-size="8.9" text-anchor="middle" font-weight="normal" fill="#000">*** P=0.0008</text>
<line x1="182.80" y1="793.30" x2="211.20" y2="793.30" stroke="#000" stroke-width="1.25"/>
<text x="192.60" y="787.40" font-size="8.9" text-anchor="middle" font-weight="normal" fill="#000">* P=0.0120</text>
<line x1="299.50" y1="779.90" x2="299.50" y2="896.85" stroke="#000" stroke-width="1.25"/>
<line x1="294.90" y1="896.30" x2="299.50" y2="896.30" stroke="#000" stroke-width="1.25"/>
<text x="292.60" y="898.80" font-size="8.2" text-anchor="end" font-weight="bold" fill="#000">0.0</text>
<line x1="294.90" y1="873.12" x2="299.50" y2="873.12" stroke="#000" stroke-width="1.25"/>
<text x="292.60" y="875.62" font-size="8.2" text-anchor="end" font-weight="bold" fill="#000">0.2</text>
<line x1="294.90" y1="849.94" x2="299.50" y2="849.94" stroke="#000" stroke-width="1.25"/>
<text x="292.60" y="852.44" font-size="8.2" text-anchor="end" font-weight="bold" fill="#000">0.4</text>
<line x1="294.90" y1="826.76" x2="299.50" y2="826.76" stroke="#000" stroke-width="1.25"/>
<text x="292.60" y="829.26" font-size="8.2" text-anchor="end" font-weight="bold" fill="#000">0.6</text>
<line x1="294.90" y1="803.58" x2="299.50" y2="803.58" stroke="#000" stroke-width="1.25"/>
<text x="292.60" y="806.08" font-size="8.2" text-anchor="end" font-weight="bold" fill="#000">0.8</text>
<line x1="294.90" y1="780.40" x2="299.50" y2="780.40" stroke="#000" stroke-width="1.25"/>
<text x="292.60" y="782.90" font-size="8.2" text-anchor="end" font-weight="bold" fill="#000">1.0</text>
<text x="271.20" y="840.00" font-size="10" text-anchor="middle" font-weight="normal" fill="#000" transform="rotate(-90 271.20 840.00)">TBR1<tspan dy="-4.1" font-size="60%">+</tspan><tspan dy="4.1"> / DAPI</tspan><tspan dy="-4.1" font-size="60%">+</tspan><tspan dy="4.1"> ratio</tspan></text>
<text x="313.00" y="761.80" font-size="10" text-anchor="start" font-weight="normal" fill="#000">TBR1<tspan dy="-4.1" font-size="60%">+</tspan><tspan dy="4.1"> / DAPI</tspan><tspan dy="-4.1" font-size="60%">+</tspan><tspan dy="4.1"> in cortical plate</tspan></text>
<path d="M307.45 896.30V858.90H320.65V896.30" fill="#d8cfee" stroke="#30155f" stroke-width="1.7"/>
<path d="M314.05 854.58V861.53M310.05 854.58H318.05M310.05 861.53H318.05" stroke="#b29bdf" stroke-width="0.9" fill="none"/>
<path d="M314.1 890.6h0M314.1 883.4h0M316.6 883.4h0M314.1 878.6h0M316.6 873.8h0M314.1 873.8h0M314.1 871.4h0M314.1 869.0h0M319.1 869.0h0M314.1 866.6h0M311.5 866.6h0M316.6 866.6h0M314.1 864.2h0M311.5 864.2h0M314.1 861.8h0M316.6 861.8h0M311.5 861.8h0M314.1 859.4h0M311.5 854.7h0M314.1 849.9h0M314.1 847.5h0M311.5 847.5h0M316.6 847.5h0M314.1 842.7h0M316.6 842.7h0M314.1 840.3h0M316.6 835.5h0M314.1 835.5h0M314.1 833.1h0M314.1 830.7h0M311.5 830.7h0M316.6 830.7h0M314.1 828.3h0M311.5 828.3h0M314.1 821.1h0" stroke="#b29bdf" stroke-width="2.24" stroke-linecap="round" fill="none"/>
<path d="M329.85 896.30V853.11H343.35V896.30" fill="#aae6fb" stroke="#1c60e0" stroke-width="1.7"/>
<path d="M336.60 848.78V855.73M332.60 848.78H340.60M332.60 855.73H340.60" stroke="#20bdf7" stroke-width="0.9" fill="none"/>
<path d="M336.6 883.4h0M336.6 878.6h0M336.6 873.8h0M334.1 873.8h0M336.6 871.4h0M334.1 869.0h0M336.6 866.6h0M339.1 866.6h0M334.1 866.6h0M336.6 864.2h0M336.6 861.8h0M336.6 859.4h0M334.1 859.4h0M334.1 857.1h0M339.1 857.1h0M336.6 854.7h0M334.1 854.7h0M339.1 854.7h0M336.6 849.9h0M334.1 849.9h0M339.1 849.9h0M341.6 849.9h0M336.6 847.5h0M336.6 840.3h0M336.6 837.9h0M334.1 837.9h0M336.6 835.5h0M336.6 825.9h0M339.1 825.9h0M334.1 825.9h0M334.1 814.0h0M336.6 806.8h0" stroke="#20bdf7" stroke-width="2.24" stroke-linecap="round" fill="none"/>
<path d="M367.45 896.30V855.43H380.95V896.30" fill="#d8cfee" stroke="#30155f" stroke-width="1.7"/>
<path d="M374.20 852.26V856.89M370.20 852.26H378.20M370.20 856.89H378.20" stroke="#b29bdf" stroke-width="0.9" fill="none"/>
<path d="M374.2 873.8h0M371.7 873.8h0M374.2 869.0h0M376.7 869.0h0M374.2 866.6h0M376.7 864.2h0M371.7 859.4h0M374.2 859.4h0M376.7 859.4h0M374.2 857.1h0M376.7 857.1h0M371.7 857.1h0M379.2 857.1h0M374.2 854.7h0M376.7 854.7h0M379.2 854.7h0M371.7 854.7h0M369.2 854.7h0M372.1 854.7h0M374.2 852.3h0M371.7 852.3h0M374.2 849.9h0M374.2 845.1h0M371.7 845.1h0M376.7 845.1h0M369.2 845.1h0M374.2 842.7h0M376.7 842.7h0M374.2 840.3h0M374.2 837.9h0M371.7 837.9h0M369.2 837.9h0" stroke="#b29bdf" stroke-width="2.24" stroke-linecap="round" fill="none"/>
<path d="M390.25 896.30V868.17H403.75V896.30" fill="#aae6fb" stroke="#1c60e0" stroke-width="1.7"/>
<path d="M397.00 863.85V870.80M393.00 863.85H401.00M393.00 870.80H401.00" stroke="#20bdf7" stroke-width="0.9" fill="none"/>
<path d="M394.5 883.4h0M394.5 881.0h0M397.0 881.0h0M399.5 876.2h0M397.0 876.2h0M394.5 876.2h0M392.0 876.2h0M397.0 873.8h0M397.0 871.4h0M399.5 871.4h0M402.0 871.4h0M397.0 869.0h0M394.5 869.0h0M399.5 866.6h0M397.0 864.2h0M399.5 864.2h0M397.0 861.8h0M394.5 861.8h0M397.0 859.4h0M397.0 854.7h0M397.0 852.3h0M399.5 852.3h0M394.5 830.7h0" stroke="#20bdf7" stroke-width="2.24" stroke-linecap="round" fill="none"/>
<path d="M427.85 896.30V847.31H441.55V896.30" fill="#d8cfee" stroke="#30155f" stroke-width="1.7"/>
<path d="M434.70 844.38V848.55M430.70 844.38H438.70M430.70 848.55H438.70" stroke="#b29bdf" stroke-width="0.9" fill="none"/>
<path d="M434.7 878.6h0M432.2 878.6h0M434.7 876.2h0M434.7 871.4h0M437.2 869.0h0M434.7 869.0h0M432.2 869.0h0M429.7 869.0h0M434.7 866.6h0M437.2 866.6h0M434.7 864.2h0M434.7 861.8h0M437.2 861.8h0M432.2 861.8h0M439.7 861.8h0M429.7 861.8h0M434.7 859.4h0M432.2 859.4h0M437.2 859.4h0M429.7 859.4h0M439.7 859.4h0M434.7 857.1h0M432.2 857.1h0M437.2 857.1h0M434.7 854.7h0M432.2 854.7h0M434.7 852.3h0M434.7 849.9h0M437.2 849.9h0M432.2 849.9h0M429.7 849.9h0M439.7 849.9h0M432.1 849.9h0M434.7 847.5h0M437.2 847.5h0M429.7 847.5h0M434.7 845.1h0M437.2 845.1h0M429.7 845.1h0M432.2 845.1h0M439.7 845.1h0M430.1 845.1h0M434.7 842.7h0M437.2 842.7h0M432.2 842.7h0M429.7 842.7h0M434.7 840.3h0M437.2 840.3h0M432.2 840.3h0M429.7 840.3h0M439.7 840.3h0M434.7 837.9h0M439.7 837.9h0M437.2 837.9h0M432.2 837.9h0M429.7 837.9h0M432.2 835.5h0M434.7 830.7h0M439.7 830.7h0M437.2 830.7h0M434.7 828.3h0M432.2 828.3h0M434.7 825.9h0M434.7 823.5h0M434.7 818.7h0M439.7 818.7h0M434.7 816.4h0M437.2 816.4h0M434.7 814.0h0M434.7 811.6h0M434.7 806.8h0M434.7 804.4h0" stroke="#b29bdf" stroke-width="2.24" stroke-linecap="round" fill="none"/>
<path d="M450.95 896.30V857.16H464.65V896.30" fill="#aae6fb" stroke="#1c60e0" stroke-width="1.7"/>
<path d="M457.80 853.76V858.86M453.80 853.76H461.80M453.80 858.86H461.80" stroke="#20bdf7" stroke-width="0.9" fill="none"/>
<path d="M457.8 885.8h0M457.8 883.4h0M455.3 881.0h0M457.8 881.0h0M457.8 878.6h0M460.3 878.6h0M457.8 876.2h0M455.3 876.2h0M460.3 876.2h0M457.8 873.8h0M455.3 873.8h0M462.8 873.8h0M460.3 873.8h0M460.3 869.0h0M457.8 869.0h0M457.8 866.6h0M452.8 866.6h0M455.3 866.6h0M460.3 866.6h0M462.8 866.6h0M457.8 864.2h0M455.3 864.2h0M460.3 864.2h0M457.8 861.8h0M460.3 861.8h0M452.8 861.8h0M455.3 861.8h0M457.8 859.4h0M455.3 859.4h0M455.3 857.1h0M460.3 857.1h0M457.8 857.1h0M452.8 857.1h0M462.8 857.1h0M457.8 854.7h0M460.3 854.7h0M455.3 854.7h0M460.3 852.3h0M457.8 852.3h0M457.8 849.9h0M455.3 849.9h0M460.3 849.9h0M452.8 849.9h0M462.8 849.9h0M455.3 847.5h0M457.8 847.5h0M460.3 847.5h0M457.8 845.1h0M460.3 845.1h0M457.8 842.7h0M460.3 842.7h0M455.3 842.7h0M457.8 840.3h0M455.3 837.9h0M457.8 837.9h0M457.8 835.5h0M457.8 830.7h0M455.3 830.7h0M457.8 825.9h0M460.3 825.9h0M455.3 825.9h0M457.8 823.5h0M457.8 809.2h0M460.3 809.2h0M455.3 809.2h0" stroke="#20bdf7" stroke-width="2.24" stroke-linecap="round" fill="none"/>
<line x1="294.90" y1="896.30" x2="473.50" y2="896.30" stroke="#000" stroke-width="1.25"/>
<line x1="325.20" y1="896.30" x2="325.20" y2="901.20" stroke="#000" stroke-width="1.25"/>
<text x="325.20" y="910.70" font-size="8.6" text-anchor="middle" font-weight="bold" fill="#000">Day30</text>
<line x1="385.60" y1="896.30" x2="385.60" y2="901.20" stroke="#000" stroke-width="1.25"/>
<text x="385.60" y="910.70" font-size="8.6" text-anchor="middle" font-weight="bold" fill="#000">Day60</text>
<line x1="446.30" y1="896.30" x2="446.30" y2="901.20" stroke="#000" stroke-width="1.25"/>
<text x="446.30" y="910.70" font-size="8.6" text-anchor="middle" font-weight="bold" fill="#000">Day90</text>
<line x1="308.20" y1="799.70" x2="336.10" y2="799.70" stroke="#000" stroke-width="1.25"/>
<text x="322.60" y="790.90" font-size="8.9" text-anchor="middle" font-weight="normal" fill="#000">P=0.2388</text>
<line x1="371.80" y1="823.10" x2="396.50" y2="823.10" stroke="#000" stroke-width="1.25"/>
<text x="384.90" y="814.30" font-size="8.9" text-anchor="middle" font-weight="normal" fill="#000">***P=0.0008</text>
<line x1="433.40" y1="796.50" x2="460.70" y2="796.50" stroke="#000" stroke-width="1.25"/>
<text x="439.50" y="788.30" font-size="8.9" text-anchor="middle" font-weight="normal" fill="#000">***P=0.0006</text>
<line x1="47.00" y1="971.90" x2="47.00" y2="1088.55" stroke="#000" stroke-width="1.25"/>
<line x1="42.40" y1="1088.00" x2="47.00" y2="1088.00" stroke="#000" stroke-width="1.25"/>
<text x="40.10" y="1090.50" font-size="8.2" text-anchor="end" font-weight="bold" fill="#000">0.0</text>
<line x1="42.40" y1="1054.97" x2="47.00" y2="1054.97" stroke="#000" stroke-width="1.25"/>
<text x="40.10" y="1057.47" font-size="8.2" text-anchor="end" font-weight="bold" fill="#000">0.2</text>
<line x1="42.40" y1="1021.94" x2="47.00" y2="1021.94" stroke="#000" stroke-width="1.25"/>
<text x="40.10" y="1024.44" font-size="8.2" text-anchor="end" font-weight="bold" fill="#000">0.4</text>
<line x1="42.40" y1="988.91" x2="47.00" y2="988.91" stroke="#000" stroke-width="1.25"/>
<text x="40.10" y="991.41" font-size="8.2" text-anchor="end" font-weight="bold" fill="#000">0.6</text>
<text x="21.00" y="1035.80" font-size="10" text-anchor="middle" font-weight="normal" fill="#000" transform="rotate(-90 21.00 1035.80)">CTIP2<tspan dy="-4.1" font-size="60%">+</tspan><tspan dy="4.1"> / DAPI</tspan><tspan dy="-4.1" font-size="60%">+</tspan><tspan dy="4.1"> ratio</tspan></text>
<text x="53.70" y="953.20" font-size="10" text-anchor="start" font-weight="normal" fill="#000">CTIP2<tspan dy="-4.1" font-size="60%">+</tspan><tspan dy="4.1"> / DAPI</tspan><tspan dy="-4.1" font-size="60%">+</tspan><tspan dy="4.1"> in cortical region</tspan></text>
<path d="M55.55 1088.00V1075.97H69.05V1088.00" fill="#d8cfee" stroke="#30155f" stroke-width="1.7"/>
<path d="M62.30 1073.63V1076.61M58.30 1073.63H66.30M58.30 1076.61H66.30" stroke="#b29bdf" stroke-width="0.9" fill="none"/>
<path d="M64.8 1086.9h0M62.3 1084.5h0M62.3 1082.1h0M64.8 1082.1h0M59.8 1082.1h0M67.3 1082.1h0M59.8 1079.7h0M62.3 1079.7h0M64.8 1079.7h0M62.3 1077.3h0M64.8 1077.3h0M59.8 1077.3h0M67.3 1077.3h0M62.3 1074.9h0M59.8 1074.9h0M64.8 1074.9h0M67.3 1074.9h0M59.8 1072.5h0M62.3 1072.5h0M64.8 1072.5h0M67.3 1072.5h0M57.3 1072.5h0M62.3 1070.1h0M62.3 1067.7h0M64.8 1067.7h0M62.3 1060.5h0M62.3 1058.1h0M59.8 1053.4h0" stroke="#b29bdf" stroke-width="2.24" stroke-linecap="round" fill="none"/>
<path d="M78.05 1088.00V1083.07H91.55V1088.00" fill="#aae6fb" stroke="#1c60e0" stroke-width="1.7"/>
<path d="M84.80 1081.23V1083.21M80.80 1081.23H88.80M80.80 1083.21H88.80" stroke="#20bdf7" stroke-width="0.9" fill="none"/>
<path d="M84.8 1086.9h0M89.8 1086.9h0M84.8 1084.5h0M82.3 1084.5h0M79.8 1084.5h0M84.8 1082.1h0M82.3 1082.1h0M89.8 1082.1h0M87.3 1082.1h0M79.8 1082.1h0M84.8 1079.7h0M87.3 1079.7h0M82.3 1079.7h0M89.8 1079.7h0M79.8 1079.7h0M84.5 1079.7h0M82.3 1077.3h0M84.8 1077.3h0M87.3 1077.3h0M89.8 1077.3h0M84.8 1074.9h0M87.3 1074.9h0M84.8 1072.5h0M84.8 1065.3h0" stroke="#20bdf7" stroke-width="2.24" stroke-linecap="round" fill="none"/>
<path d="M116.05 1088.00V1055.00H129.45V1088.00" fill="#d8cfee" stroke="#30155f" stroke-width="1.7"/>
<path d="M122.75 1051.83V1056.46M118.75 1051.83H126.75M118.75 1056.46H126.75" stroke="#b29bdf" stroke-width="0.9" fill="none"/>
<path d="M122.8 1070.1h0M120.2 1062.9h0M122.8 1062.9h0M122.8 1060.5h0M122.8 1058.1h0M125.3 1058.1h0M120.2 1058.1h0M117.7 1058.1h0M120.2 1055.8h0M122.8 1055.8h0M125.3 1053.4h0M122.8 1053.4h0M122.8 1051.0h0M120.2 1051.0h0M125.3 1051.0h0M122.8 1048.6h0M125.3 1048.6h0M120.2 1041.4h0" stroke="#b29bdf" stroke-width="2.24" stroke-linecap="round" fill="none"/>
<path d="M138.55 1088.00V1062.76H152.05V1088.00" fill="#aae6fb" stroke="#1c60e0" stroke-width="1.7"/>
<path d="M145.30 1059.43V1064.38M141.30 1059.43H149.30M141.30 1064.38H149.30" stroke="#20bdf7" stroke-width="0.9" fill="none"/>
<path d="M145.3 1077.3h0M145.3 1074.9h0M145.3 1072.5h0M142.8 1072.5h0M145.3 1070.1h0M142.8 1070.1h0M142.8 1065.3h0M145.3 1065.3h0M145.3 1062.9h0M145.3 1060.5h0M142.8 1060.5h0M147.8 1058.1h0M145.3 1058.1h0M145.3 1055.8h0M142.8 1055.8h0M145.3 1048.6h0" stroke="#20bdf7" stroke-width="2.24" stroke-linecap="round" fill="none"/>
<path d="M176.45 1088.00V1032.21H189.95V1088.00" fill="#d8cfee" stroke="#30155f" stroke-width="1.7"/>
<path d="M183.20 1027.72V1034.99M179.20 1027.72H187.20M179.20 1034.99H187.20" stroke="#b29bdf" stroke-width="0.9" fill="none"/>
<path d="M183.2 1060.5h0M183.2 1058.1h0M183.2 1053.4h0M185.7 1051.0h0M180.7 1048.6h0M185.7 1046.2h0M183.2 1046.2h0M180.7 1043.8h0M185.7 1043.8h0M183.2 1036.6h0M180.7 1036.6h0M183.2 1031.8h0M185.7 1031.8h0M180.7 1031.8h0M183.2 1029.4h0M188.2 1029.4h0M180.7 1029.4h0M185.7 1029.4h0M183.2 1027.0h0M185.7 1027.0h0M188.2 1027.0h0M180.7 1027.0h0M183.2 1019.8h0M185.7 1019.8h0M180.7 1019.8h0M183.2 1017.5h0M183.2 1012.7h0M185.7 1012.7h0M180.7 1012.7h0M178.2 1012.7h0M183.2 981.5h0" stroke="#b29bdf" stroke-width="2.24" stroke-linecap="round" fill="none"/>
<path d="M198.95 1088.00V1049.55H212.75V1088.00" fill="#aae6fb" stroke="#1c60e0" stroke-width="1.7"/>
<path d="M205.85 1046.71V1050.68M201.85 1046.71H209.85M201.85 1050.68H209.85" stroke="#20bdf7" stroke-width="0.9" fill="none"/>
<path d="M205.8 1070.1h0M203.3 1070.1h0M205.8 1062.9h0M203.3 1062.9h0M210.9 1062.9h0M205.8 1060.5h0M208.4 1060.5h0M203.3 1058.1h0M205.8 1058.1h0M208.4 1058.1h0M205.8 1055.8h0M205.8 1053.4h0M210.9 1053.4h0M205.8 1051.0h0M208.4 1051.0h0M203.3 1051.0h0M210.9 1051.0h0M200.8 1051.0h0M201.2 1051.0h0M205.8 1048.6h0M208.4 1048.6h0M203.3 1046.2h0M205.8 1046.2h0M203.3 1043.8h0M205.8 1041.4h0M203.3 1041.4h0M210.9 1041.4h0M200.8 1041.4h0M208.4 1041.4h0M206.0 1041.4h0M205.8 1039.0h0M205.8 1036.6h0M205.8 1034.2h0M205.8 1031.8h0M208.4 1031.8h0M205.8 1027.0h0" stroke="#20bdf7" stroke-width="2.24" stroke-linecap="round" fill="none"/>
<line x1="42.40" y1="1088.00" x2="221.60" y2="1088.00" stroke="#000" stroke-width="1.25"/>
<line x1="73.50" y1="1088.00" x2="73.50" y2="1092.90" stroke="#000" stroke-width="1.25"/>
<text x="73.50" y="1102.40" font-size="8.6" text-anchor="middle" font-weight="bold" fill="#000">Day30</text>
<line x1="134.00" y1="1088.00" x2="134.00" y2="1092.90" stroke="#000" stroke-width="1.25"/>
<text x="134.00" y="1102.40" font-size="8.6" text-anchor="middle" font-weight="bold" fill="#000">Day60</text>
<line x1="194.60" y1="1088.00" x2="194.60" y2="1092.90" stroke="#000" stroke-width="1.25"/>
<text x="194.60" y="1102.40" font-size="8.6" text-anchor="middle" font-weight="bold" fill="#000">Day90</text>
<line x1="60.40" y1="1045.90" x2="88.30" y2="1045.90" stroke="#000" stroke-width="1.25"/>
<text x="73.90" y="1040.00" font-size="8.9" text-anchor="middle" font-weight="normal" fill="#000">*P=0.0104</text>
<line x1="119.90" y1="1030.10" x2="147.70" y2="1030.10" stroke="#000" stroke-width="1.25"/>
<text x="134.60" y="1024.50" font-size="8.9" text-anchor="middle" font-weight="normal" fill="#000">* P=0.0482</text>
<line x1="181.30" y1="975.40" x2="209.90" y2="975.40" stroke="#000" stroke-width="1.25"/>
<text x="197.50" y="970.80" font-size="8.9" text-anchor="middle" font-weight="normal" fill="#000">** P=0.0011</text>
<line x1="299.70" y1="971.70" x2="299.70" y2="1088.55" stroke="#000" stroke-width="1.25"/>
<line x1="295.10" y1="1088.00" x2="299.70" y2="1088.00" stroke="#000" stroke-width="1.25"/>
<text x="292.80" y="1090.50" font-size="8.2" text-anchor="end" font-weight="bold" fill="#000">0.0</text>
<line x1="295.10" y1="1064.84" x2="299.70" y2="1064.84" stroke="#000" stroke-width="1.25"/>
<text x="292.80" y="1067.34" font-size="8.2" text-anchor="end" font-weight="bold" fill="#000">0.2</text>
<line x1="295.10" y1="1041.68" x2="299.70" y2="1041.68" stroke="#000" stroke-width="1.25"/>
<text x="292.80" y="1044.18" font-size="8.2" text-anchor="end" font-weight="bold" fill="#000">0.4</text>
<line x1="295.10" y1="1018.52" x2="299.70" y2="1018.52" stroke="#000" stroke-width="1.25"/>
<text x="292.80" y="1021.02" font-size="8.2" text-anchor="end" font-weight="bold" fill="#000">0.6</text>
<line x1="295.10" y1="995.36" x2="299.70" y2="995.36" stroke="#000" stroke-width="1.25"/>
<text x="292.80" y="997.86" font-size="8.2" text-anchor="end" font-weight="bold" fill="#000">0.8</text>
<line x1="295.10" y1="972.20" x2="299.70" y2="972.20" stroke="#000" stroke-width="1.25"/>
<text x="292.80" y="974.70" font-size="8.2" text-anchor="end" font-weight="bold" fill="#000">1.0</text>
<text x="274.60" y="1035.80" font-size="10" text-anchor="middle" font-weight="normal" fill="#000" transform="rotate(-90 274.60 1035.80)">CTIP2<tspan dy="-4.1" font-size="60%">+</tspan><tspan dy="4.1"> / DAPI</tspan><tspan dy="-4.1" font-size="60%">+</tspan><tspan dy="4.1"> ratio</tspan></text>
<text x="309.80" y="953.80" font-size="10" text-anchor="start" font-weight="normal" fill="#000">CTIP2<tspan dy="-4.1" font-size="60%">+</tspan><tspan dy="4.1"> / DAPI</tspan><tspan dy="-4.1" font-size="60%">+</tspan><tspan dy="4.1"> in cortical plate</tspan></text>
<path d="M307.95 1088.00V1079.01H321.45V1088.00" fill="#d8cfee" stroke="#30155f" stroke-width="1.7"/>
<path d="M314.70 1076.54V1079.78M310.70 1076.54H318.70M310.70 1079.78H318.70" stroke="#b29bdf" stroke-width="0.9" fill="none"/>
<path d="M312.2 1086.9h0M314.7 1084.5h0M317.2 1084.5h0M312.2 1084.5h0M319.7 1084.5h0M309.7 1084.5h0M315.1 1084.5h0M314.7 1082.1h0M312.2 1082.1h0M309.7 1082.1h0M317.2 1079.7h0M314.7 1079.7h0M312.2 1079.7h0M317.2 1077.3h0M314.7 1077.3h0M314.7 1074.9h0M317.2 1074.9h0M312.2 1074.9h0M314.7 1072.5h0M317.2 1072.5h0M312.2 1072.5h0M319.7 1072.5h0M309.7 1072.5h0M314.7 1070.1h0M314.7 1067.7h0M317.2 1067.7h0M314.7 1065.3h0M312.2 1065.3h0M319.7 1065.3h0M314.7 1062.9h0M314.7 1053.4h0M317.2 1053.4h0" stroke="#b29bdf" stroke-width="2.24" stroke-linecap="round" fill="none"/>
<path d="M330.45 1088.00V1082.13H344.15V1088.00" fill="#aae6fb" stroke="#1c60e0" stroke-width="1.7"/>
<path d="M337.30 1079.66V1082.90M333.30 1079.66H341.30M333.30 1082.90H341.30" stroke="#20bdf7" stroke-width="0.9" fill="none"/>
<path d="M337.3 1086.9h0M334.8 1086.9h0M332.3 1086.9h0M342.3 1086.9h0M339.8 1084.5h0M334.8 1084.5h0M337.3 1084.5h0M332.3 1084.5h0M342.3 1084.5h0M334.8 1082.1h0M337.3 1079.7h0M332.3 1079.7h0M334.8 1079.7h0M342.3 1079.7h0M339.8 1079.7h0M337.3 1077.3h0M339.8 1077.3h0M334.8 1077.3h0M337.3 1074.9h0M334.8 1074.9h0M339.8 1074.9h0M337.3 1072.5h0M339.8 1072.5h0M337.3 1070.1h0M339.8 1070.1h0M334.8 1067.7h0M337.3 1062.9h0M337.3 1058.1h0" stroke="#20bdf7" stroke-width="2.24" stroke-linecap="round" fill="none"/>
<path d="M368.35 1088.00V1049.48H382.15V1088.00" fill="#d8cfee" stroke="#30155f" stroke-width="1.7"/>
<path d="M375.25 1046.08V1051.18M371.25 1046.08H379.25M371.25 1051.18H379.25" stroke="#b29bdf" stroke-width="0.9" fill="none"/>
<path d="M375.2 1065.3h0M375.2 1062.9h0M377.8 1062.9h0M375.2 1060.5h0M377.8 1060.5h0M372.7 1060.5h0M375.2 1055.8h0M377.8 1055.8h0M375.2 1053.4h0M377.8 1053.4h0M370.2 1053.4h0M377.8 1051.0h0M375.2 1048.6h0M372.7 1048.6h0M372.7 1046.2h0M375.2 1046.2h0M377.8 1046.2h0M375.2 1043.8h0M372.7 1041.4h0M375.2 1039.0h0M377.8 1036.6h0M375.2 1036.6h0M375.2 1034.2h0M377.8 1034.2h0M372.7 1034.2h0M370.2 1034.2h0M375.2 1031.8h0M370.2 1031.8h0M377.8 1031.8h0M372.7 1031.8h0M377.8 1024.6h0M372.7 1003.1h0" stroke="#b29bdf" stroke-width="2.24" stroke-linecap="round" fill="none"/>
<path d="M391.25 1088.00V1061.06H404.75V1088.00" fill="#aae6fb" stroke="#1c60e0" stroke-width="1.7"/>
<path d="M398.00 1056.73V1063.68M394.00 1056.73H402.00M394.00 1063.68H402.00" stroke="#20bdf7" stroke-width="0.9" fill="none"/>
<path d="M395.5 1084.5h0M400.5 1082.1h0M395.5 1067.7h0M398.0 1067.7h0M398.0 1065.3h0M400.5 1065.3h0M403.0 1065.3h0M395.5 1065.3h0M398.0 1062.9h0M398.0 1060.5h0M398.0 1058.1h0M395.5 1058.1h0M403.0 1058.1h0M400.5 1058.1h0M398.0 1055.8h0M395.5 1055.8h0M398.0 1053.4h0M395.5 1053.4h0M398.0 1051.0h0M398.0 1048.6h0M398.0 1046.2h0M398.0 1041.4h0" stroke="#20bdf7" stroke-width="2.24" stroke-linecap="round" fill="none"/>
<path d="M428.85 1088.00V1037.32H442.65V1088.00" fill="#d8cfee" stroke="#30155f" stroke-width="1.7"/>
<path d="M435.75 1034.38V1038.55M431.75 1034.38H439.75M431.75 1038.55H439.75" stroke="#b29bdf" stroke-width="0.9" fill="none"/>
<path d="M435.8 1072.5h0M433.2 1070.1h0M438.3 1070.1h0M435.8 1067.7h0M433.2 1067.7h0M438.3 1067.7h0M440.8 1067.7h0M435.8 1065.3h0M433.2 1065.3h0M435.8 1062.9h0M433.2 1062.9h0M438.3 1062.9h0M440.8 1062.9h0M435.8 1060.5h0M435.8 1058.1h0M438.3 1055.8h0M435.8 1055.8h0M440.8 1055.8h0M430.7 1055.8h0M435.8 1053.4h0M435.8 1051.0h0M435.8 1048.6h0M438.3 1048.6h0M433.2 1048.6h0M435.8 1043.8h0M438.3 1043.8h0M430.7 1043.8h0M433.2 1043.8h0M435.8 1041.4h0M438.3 1041.4h0M430.7 1041.4h0M435.8 1039.0h0M440.8 1039.0h0M438.3 1039.0h0M433.2 1039.0h0M435.8 1036.6h0M433.2 1036.6h0M438.3 1036.6h0M440.8 1036.6h0M430.7 1036.6h0M433.2 1034.2h0M435.8 1034.2h0M438.3 1034.2h0M440.8 1034.2h0M433.2 1031.8h0M435.8 1031.8h0M438.3 1031.8h0M430.7 1031.8h0M440.8 1031.8h0M438.3 1029.4h0M435.8 1029.4h0M433.2 1027.0h0M435.8 1027.0h0M440.8 1027.0h0M438.3 1027.0h0M433.2 1024.6h0M435.8 1024.6h0M438.3 1024.6h0M440.8 1024.6h0M430.7 1024.6h0M440.6 1024.6h0M433.4 1024.6h0M438.6 1024.6h0M433.2 1022.2h0M438.3 1022.2h0M435.8 1022.2h0M438.3 1019.8h0M435.8 1019.8h0M430.7 1019.8h0M435.8 1015.1h0M433.2 1012.7h0M435.8 1012.7h0M430.7 1012.7h0M435.8 1010.3h0M435.8 1005.5h0M438.3 1005.5h0M433.2 1005.5h0M435.8 1000.7h0M438.3 998.3h0M433.2 995.9h0M435.8 995.9h0M435.8 988.7h0" stroke="#b29bdf" stroke-width="2.24" stroke-linecap="round" fill="none"/>
<path d="M451.65 1088.00V1052.37H465.15V1088.00" fill="#aae6fb" stroke="#1c60e0" stroke-width="1.7"/>
<path d="M458.40 1049.55V1053.49M454.40 1049.55H462.40M454.40 1053.49H462.40" stroke="#20bdf7" stroke-width="0.9" fill="none"/>
<path d="M458.4 1077.3h0M460.9 1077.3h0M458.4 1074.9h0M458.4 1070.1h0M463.4 1070.1h0M460.9 1067.7h0M458.4 1065.3h0M458.4 1062.9h0M455.9 1062.9h0M458.4 1060.5h0M460.9 1060.5h0M463.4 1060.5h0M455.9 1060.5h0M458.4 1058.1h0M460.9 1058.1h0M455.9 1058.1h0M458.4 1055.8h0M463.4 1055.8h0M455.9 1055.8h0M460.9 1055.8h0M453.4 1055.8h0M463.5 1055.8h0M463.0 1055.8h0M460.9 1053.4h0M458.4 1053.4h0M455.9 1053.4h0M463.4 1053.4h0M453.4 1053.4h0M458.4 1051.0h0M460.9 1051.0h0M463.4 1051.0h0M458.4 1048.6h0M455.9 1048.6h0M453.4 1048.6h0M458.4 1046.2h0M455.9 1046.2h0M463.4 1046.2h0M460.9 1046.2h0M453.4 1046.2h0M455.5 1046.2h0M458.4 1043.8h0M460.9 1043.8h0M460.9 1041.4h0M458.4 1041.4h0M455.9 1041.4h0M458.4 1039.0h0M453.4 1039.0h0M455.9 1039.0h0M460.9 1039.0h0M463.4 1039.0h0M463.3 1039.0h0M458.3 1039.0h0M458.4 1036.6h0M460.9 1036.6h0M458.4 1034.2h0M458.4 1031.8h0M455.9 1031.8h0M460.9 1029.4h0M458.4 1029.4h0M458.4 1027.0h0M460.9 1027.0h0M458.4 1022.2h0M458.4 1012.7h0M458.4 1007.9h0M458.4 1005.5h0" stroke="#20bdf7" stroke-width="2.24" stroke-linecap="round" fill="none"/>
<line x1="295.10" y1="1088.00" x2="473.30" y2="1088.00" stroke="#000" stroke-width="1.25"/>
<line x1="325.80" y1="1088.00" x2="325.80" y2="1092.90" stroke="#000" stroke-width="1.25"/>
<text x="325.80" y="1102.40" font-size="8.6" text-anchor="middle" font-weight="bold" fill="#000">Day30</text>
<line x1="386.50" y1="1088.00" x2="386.50" y2="1092.90" stroke="#000" stroke-width="1.25"/>
<text x="386.50" y="1102.40" font-size="8.6" text-anchor="middle" font-weight="bold" fill="#000">Day60</text>
<line x1="447.00" y1="1088.00" x2="447.00" y2="1092.90" stroke="#000" stroke-width="1.25"/>
<text x="447.00" y="1102.40" font-size="8.6" text-anchor="middle" font-weight="bold" fill="#000">Day90</text>
<line x1="312.80" y1="1040.20" x2="340.70" y2="1040.20" stroke="#000" stroke-width="1.25"/>
<text x="326.40" y="1033.20" font-size="8.9" text-anchor="middle" font-weight="normal" fill="#000">*P=0.0451</text>
<line x1="374.20" y1="988.20" x2="402.10" y2="988.20" stroke="#000" stroke-width="1.25"/>
<text x="384.30" y="980.90" font-size="8.9" text-anchor="middle" font-weight="normal" fill="#000">* P=0.0210</text>
<line x1="433.70" y1="982.10" x2="462.20" y2="982.10" stroke="#000" stroke-width="1.25"/>
<text x="447.20" y="975.10" font-size="8.9" text-anchor="middle" font-weight="normal" fill="#000">**** P&lt;0.0001</text>
<line x1="558.40" y1="780.50" x2="558.40" y2="897.95" stroke="#000" stroke-width="1.25"/>
<line x1="553.80" y1="897.40" x2="558.40" y2="897.40" stroke="#000" stroke-width="1.25"/>
<text x="551.50" y="899.90" font-size="8.2" text-anchor="end" font-weight="bold" fill="#000">0</text>
<line x1="553.80" y1="874.12" x2="558.40" y2="874.12" stroke="#000" stroke-width="1.25"/>
<text x="551.50" y="876.62" font-size="8.2" text-anchor="end" font-weight="bold" fill="#000">100</text>
<line x1="553.80" y1="850.84" x2="558.40" y2="850.84" stroke="#000" stroke-width="1.25"/>
<text x="551.50" y="853.34" font-size="8.2" text-anchor="end" font-weight="bold" fill="#000">200</text>
<line x1="553.80" y1="827.56" x2="558.40" y2="827.56" stroke="#000" stroke-width="1.25"/>
<text x="551.50" y="830.06" font-size="8.2" text-anchor="end" font-weight="bold" fill="#000">300</text>
<line x1="553.80" y1="804.28" x2="558.40" y2="804.28" stroke="#000" stroke-width="1.25"/>
<text x="551.50" y="806.78" font-size="8.2" text-anchor="end" font-weight="bold" fill="#000">400</text>
<line x1="553.80" y1="781.00" x2="558.40" y2="781.00" stroke="#000" stroke-width="1.25"/>
<text x="551.50" y="783.50" font-size="8.2" text-anchor="end" font-weight="bold" fill="#000">500</text>
<text x="529.40" y="843.20" font-size="10" text-anchor="middle" font-weight="normal" fill="#000" transform="rotate(-90 529.40 843.20)">Layer thickness / µm</text>
<text x="548.20" y="761.00" font-size="10" text-anchor="start" font-weight="normal" fill="#000">Day 90 TBR1<tspan dy="-4.1" font-size="60%">+</tspan><tspan dy="4.1"></tspan></text>
<path d="M567.65 897.40V867.52H581.95V897.40" fill="#d8cfee" stroke="#30155f" stroke-width="1.7"/>
<path d="M574.80 865.51V867.83M570.80 865.51H578.80M570.80 867.83H578.80" stroke="#b29bdf" stroke-width="0.9" fill="none"/>
<path d="M571.0 882.7h0M567.4 882.3h0M575.1 882.3h0M571.7 881.9h0M575.9 881.3h0M567.4 881.2h0M574.4 880.1h0M575.3 877.6h0M572.5 877.2h0M577.1 876.8h0M575.4 876.3h0M575.9 876.2h0M580.6 876.1h0M580.6 876.1h0M580.1 874.9h0M576.5 874.8h0M575.5 874.6h0M577.4 874.6h0M576.3 874.5h0M571.7 873.8h0M576.6 873.5h0M578.9 872.4h0M573.1 872.3h0M570.1 871.5h0M577.4 871.5h0M571.6 871.2h0M568.4 870.8h0M573.8 870.8h0M568.5 870.6h0M576.3 870.3h0M572.7 870.2h0M575.3 870.0h0M579.9 869.2h0M579.8 868.8h0M574.5 868.6h0M567.4 868.5h0M572.8 868.3h0M569.8 868.2h0M578.8 867.4h0M581.7 867.3h0M577.9 867.0h0M577.7 866.5h0M577.3 866.3h0M577.9 865.7h0M573.3 865.6h0M578.8 865.2h0M573.6 865.1h0M569.9 865.0h0M575.1 864.6h0M581.9 864.2h0M574.1 863.9h0M567.4 863.9h0M580.3 863.6h0M576.0 863.4h0M577.3 862.7h0M572.9 862.5h0M577.0 862.4h0M581.9 862.4h0M572.1 862.2h0M577.9 862.0h0M576.5 861.6h0M571.1 861.5h0M575.7 861.4h0M577.5 860.8h0M571.2 860.7h0M580.0 860.6h0M570.1 859.7h0M579.9 859.3h0M577.6 859.2h0M576.0 859.0h0M571.5 858.9h0M571.5 858.3h0M567.4 858.3h0M574.8 858.3h0M574.4 858.0h0M577.3 857.9h0M579.4 857.5h0M575.8 855.9h0M573.5 855.8h0M579.2 855.1h0M574.9 854.6h0M574.8 852.9h0M569.8 851.9h0M579.5 851.8h0M572.0 851.2h0M582.2 851.1h0M571.2 850.5h0M572.8 850.1h0M575.3 849.1h0M571.9 848.0h0M568.6 845.0h0M570.0 841.5h0M571.3 836.4h0M573.9 835.0h0M579.2 826.4h0M577.8 817.1h0M576.3 807.1h0" stroke="#b29bdf" stroke-width="2.24" stroke-linecap="round" fill="none"/>
<path d="M593.05 897.40V875.90H607.05V897.40" fill="#aae6fb" stroke="#1c60e0" stroke-width="1.7"/>
<path d="M600.05 874.12V875.98M596.05 874.12H604.05M596.05 875.98H604.05" stroke="#20bdf7" stroke-width="0.9" fill="none"/>
<path d="M596.9 891.2h0M601.2 890.6h0M602.7 890.2h0M599.5 889.9h0M607.3 888.1h0M603.3 888.0h0M605.9 887.3h0M605.5 886.8h0M604.5 886.3h0M599.4 886.1h0M606.9 885.3h0M598.6 883.6h0M600.7 883.2h0M606.0 883.0h0M604.1 883.0h0M595.6 882.8h0M598.9 882.8h0M596.4 882.2h0M604.9 881.9h0M598.6 881.8h0M600.2 881.6h0M597.3 881.1h0M598.0 880.8h0M602.9 880.7h0M595.9 880.0h0M600.4 880.0h0M598.1 879.6h0M598.6 879.3h0M594.8 879.2h0M605.0 879.0h0M593.4 878.9h0M595.0 878.9h0M598.4 878.3h0M600.4 878.3h0M596.9 877.9h0M593.3 877.7h0M598.1 877.0h0M595.9 876.8h0M597.3 876.5h0M606.7 876.2h0M592.8 876.0h0M600.0 875.9h0M601.6 874.5h0M598.3 873.9h0M598.6 873.6h0M604.5 873.5h0M599.2 873.5h0M592.9 873.5h0M598.5 873.4h0M601.6 873.3h0M598.4 873.1h0M597.6 873.0h0M600.8 872.9h0M598.0 872.8h0M600.6 872.4h0M602.7 872.2h0M597.4 872.1h0M593.5 872.0h0M605.5 871.9h0M601.7 871.4h0M596.8 871.0h0M594.2 870.1h0M600.1 870.0h0M600.9 869.8h0M602.0 869.5h0M601.5 868.4h0M598.2 868.4h0M598.3 868.4h0M593.8 867.8h0M597.0 867.7h0M598.1 867.1h0M604.4 866.2h0M594.6 864.7h0M607.3 863.7h0M603.7 863.4h0M597.9 863.3h0M597.6 861.8h0M600.9 861.8h0M601.6 859.2h0M603.0 857.4h0M592.9 853.2h0M598.6 848.0h0" stroke="#20bdf7" stroke-width="2.24" stroke-linecap="round" fill="none"/>
<line x1="553.80" y1="897.40" x2="616.20" y2="897.40" stroke="#000" stroke-width="1.25"/>
<line x1="574.80" y1="897.40" x2="574.80" y2="902.30" stroke="#000" stroke-width="1.25"/>
<line x1="600.00" y1="897.40" x2="600.00" y2="902.30" stroke="#000" stroke-width="1.25"/>
<text x="584.80" y="912.00" font-size="8.6" text-anchor="middle" font-weight="bold" fill="#000">MACM CTR</text>
<path d="M574.3 800.40V793.50H599.8V843.20" fill="none" stroke="#000" stroke-width="1.25"/>
<text x="588.20" y="787.00" font-size="8.9" text-anchor="middle" font-weight="normal" fill="#000">****P&lt;0.0001</text>
<circle cx="643.8" cy="871.60" r="1.5" fill="#b29bdf"/><circle cx="643.8" cy="886.60" r="1.5" fill="#20bdf7"/>
<text x="653.80" y="875.20" font-size="10" text-anchor="start" font-weight="normal" fill="#000">MACM</text>
<text x="653.80" y="890.20" font-size="10" text-anchor="start" font-weight="normal" fill="#000">CTR</text>
<line x1="558.40" y1="972.10" x2="558.40" y2="1089.15" stroke="#000" stroke-width="1.25"/>
<line x1="553.80" y1="1088.60" x2="558.40" y2="1088.60" stroke="#000" stroke-width="1.25"/>
<text x="551.50" y="1091.10" font-size="8.2" text-anchor="end" font-weight="bold" fill="#000">0</text>
<line x1="553.80" y1="1065.40" x2="558.40" y2="1065.40" stroke="#000" stroke-width="1.25"/>
<text x="551.50" y="1067.90" font-size="8.2" text-anchor="end" font-weight="bold" fill="#000">100</text>
<line x1="553.80" y1="1042.20" x2="558.40" y2="1042.20" stroke="#000" stroke-width="1.25"/>
<text x="551.50" y="1044.70" font-size="8.2" text-anchor="end" font-weight="bold" fill="#000">200</text>
<line x1="553.80" y1="1019.00" x2="558.40" y2="1019.00" stroke="#000" stroke-width="1.25"/>
<text x="551.50" y="1021.50" font-size="8.2" text-anchor="end" font-weight="bold" fill="#000">300</text>
<line x1="553.80" y1="995.80" x2="558.40" y2="995.80" stroke="#000" stroke-width="1.25"/>
<text x="551.50" y="998.30" font-size="8.2" text-anchor="end" font-weight="bold" fill="#000">400</text>
<line x1="553.80" y1="972.60" x2="558.40" y2="972.60" stroke="#000" stroke-width="1.25"/>
<text x="551.50" y="975.10" font-size="8.2" text-anchor="end" font-weight="bold" fill="#000">500</text>
<text x="529.40" y="1034.60" font-size="10" text-anchor="middle" font-weight="normal" fill="#000" transform="rotate(-90 529.40 1034.60)">Layer thickness / µm</text>
<text x="544.40" y="953.40" font-size="10" text-anchor="start" font-weight="normal" fill="#000">Day 90 CTIP2<tspan dy="-4.1" font-size="60%">+</tspan><tspan dy="4.1"></tspan></text>
<path d="M567.65 1088.60V1060.22H581.95V1088.60" fill="#d8cfee" stroke="#30155f" stroke-width="1.7"/>
<path d="M574.80 1058.44V1060.30M570.80 1058.44H578.80M570.80 1060.30H578.80" stroke="#b29bdf" stroke-width="0.9" fill="none"/>
<path d="M572.4 1080.1h0M578.1 1079.4h0M572.6 1079.4h0M575.3 1078.4h0M573.8 1077.7h0M577.3 1074.5h0M574.2 1072.7h0M582.2 1072.6h0M575.0 1072.1h0M573.7 1071.7h0M568.8 1071.6h0M575.2 1071.5h0M570.9 1070.2h0M577.5 1069.2h0M577.1 1068.8h0M582.2 1068.2h0M571.5 1067.8h0M575.4 1067.6h0M579.2 1067.4h0M567.4 1067.1h0M577.5 1066.5h0M582.2 1066.4h0M575.1 1065.9h0M574.7 1065.2h0M579.9 1065.2h0M576.0 1064.8h0M576.0 1064.7h0M578.4 1064.5h0M571.6 1063.7h0M582.2 1063.2h0M573.4 1063.0h0M574.8 1062.7h0M573.2 1062.5h0M567.4 1062.4h0M568.0 1062.4h0M573.3 1062.2h0M574.8 1062.1h0M579.6 1062.0h0M582.2 1061.7h0M577.8 1061.6h0M574.4 1061.5h0M572.1 1061.0h0M580.7 1060.9h0M572.2 1060.8h0M574.7 1060.3h0M580.4 1060.2h0M574.2 1059.9h0M574.2 1059.6h0M575.4 1059.4h0M568.0 1059.2h0M574.4 1059.1h0M575.6 1059.1h0M576.4 1059.0h0M573.3 1058.7h0M567.4 1058.6h0M571.5 1058.6h0M578.0 1058.5h0M571.6 1058.5h0M571.1 1058.4h0M577.1 1058.3h0M577.2 1058.1h0M575.5 1058.0h0M577.4 1058.0h0M578.2 1057.9h0M576.9 1057.7h0M576.3 1057.3h0M582.2 1057.2h0M570.2 1057.1h0M582.2 1057.1h0M576.0 1056.8h0M571.8 1056.8h0M577.8 1056.7h0M579.2 1055.8h0M569.8 1055.7h0M575.6 1055.4h0M578.4 1055.3h0M578.3 1055.0h0M575.1 1054.8h0M570.4 1054.2h0M574.5 1054.0h0M582.2 1053.9h0M571.0 1053.8h0M582.2 1053.5h0M574.7 1053.5h0M574.5 1051.8h0M572.6 1051.8h0M575.6 1051.6h0M575.8 1051.3h0M570.7 1051.3h0M582.2 1050.6h0M579.9 1046.1h0M576.5 1045.9h0M569.5 1045.3h0M573.3 1044.9h0M574.1 1043.1h0M578.2 1042.4h0M574.4 1041.5h0M570.1 1040.9h0M574.1 1039.1h0M574.0 1038.8h0M574.9 1030.1h0M578.5 1028.7h0M571.9 1015.5h0M568.5 1002.3h0M579.8 999.3h0" stroke="#b29bdf" stroke-width="2.24" stroke-linecap="round" fill="none"/>
<path d="M593.05 1088.60V1067.64H607.05V1088.60" fill="#aae6fb" stroke="#1c60e0" stroke-width="1.7"/>
<path d="M600.05 1065.86V1067.72M596.05 1065.86H604.05M596.05 1067.72H604.05" stroke="#20bdf7" stroke-width="0.9" fill="none"/>
<path d="M597.6 1082.3h0M600.9 1079.6h0M603.2 1077.5h0M600.7 1076.6h0M598.5 1076.6h0M601.0 1076.6h0M595.8 1075.8h0M602.2 1075.6h0M605.5 1075.3h0M602.4 1075.3h0M606.0 1075.1h0M598.3 1075.1h0M592.9 1074.1h0M602.4 1072.9h0M607.3 1072.7h0M596.7 1072.6h0M606.5 1072.6h0M598.0 1072.4h0M606.4 1072.2h0M597.7 1072.1h0M599.1 1071.9h0M602.0 1071.9h0M593.9 1071.7h0M600.6 1071.6h0M599.6 1071.6h0M603.8 1071.5h0M601.1 1071.1h0M600.6 1070.3h0M599.6 1070.3h0M607.3 1069.9h0M602.2 1069.5h0M600.9 1069.5h0M592.8 1069.5h0M606.2 1068.4h0M600.3 1068.0h0M601.2 1067.9h0M603.5 1067.9h0M601.2 1067.8h0M606.0 1067.8h0M600.3 1067.7h0M602.4 1067.4h0M601.0 1067.3h0M602.9 1067.2h0M601.5 1067.1h0M602.1 1066.9h0M601.3 1066.6h0M601.1 1065.5h0M602.8 1065.1h0M597.5 1065.0h0M597.2 1064.8h0M600.2 1064.3h0M600.6 1064.2h0M605.2 1063.9h0M594.2 1063.7h0M606.0 1063.7h0M598.0 1063.6h0M596.8 1063.2h0M601.5 1063.0h0M601.5 1062.9h0M604.1 1062.9h0M592.8 1062.6h0M604.7 1062.3h0M602.0 1062.3h0M605.9 1061.8h0M599.3 1061.7h0M594.2 1061.6h0M599.2 1061.4h0M599.3 1061.1h0M603.0 1060.3h0M603.9 1060.1h0M592.8 1060.0h0M593.9 1059.7h0M600.7 1059.4h0M597.3 1058.9h0M604.2 1058.4h0M605.6 1058.2h0M607.3 1058.1h0M600.6 1057.8h0M604.7 1057.1h0M602.8 1057.1h0M601.0 1045.7h0M598.7 1042.7h0M604.6 1041.5h0" stroke="#20bdf7" stroke-width="2.24" stroke-linecap="round" fill="none"/>
<line x1="553.80" y1="1088.60" x2="616.20" y2="1088.60" stroke="#000" stroke-width="1.25"/>
<line x1="574.80" y1="1088.60" x2="574.80" y2="1093.50" stroke="#000" stroke-width="1.25"/>
<line x1="600.00" y1="1088.60" x2="600.00" y2="1093.50" stroke="#000" stroke-width="1.25"/>
<text x="584.80" y="1103.00" font-size="8.6" text-anchor="middle" font-weight="bold" fill="#000">MACM CTR</text>
<path d="M574.3 992.80V986.50H599.8V1034.70" fill="none" stroke="#000" stroke-width="1.25"/>
<text x="588.60" y="979.40" font-size="8.9" text-anchor="middle" font-weight="normal" fill="#000">**** P&lt;0.0001</text>
<circle cx="643.8" cy="1059.80" r="1.5" fill="#b29bdf"/><circle cx="643.8" cy="1074.80" r="1.5" fill="#20bdf7"/>
<text x="653.80" y="1063.40" font-size="10" text-anchor="start" font-weight="normal" fill="#000">MACM</text>
<text x="653.80" y="1078.40" font-size="10" text-anchor="start" font-weight="normal" fill="#000">CTR</text>
<line x1="97.70" y1="276.50" x2="97.70" y2="8.00" stroke="#000" stroke-width="1.3"/>
<path d="M97.7 0.8L93.3 9.8H102.1z" fill="#000"/>
<line x1="97.10" y1="276.00" x2="493.00" y2="276.00" stroke="#000" stroke-width="1.3"/>
<path d="M501.2 276.3L491 272.4V280.2z" fill="#000"/>
<text x="108.00" y="8.60" font-size="10" text-anchor="start" font-weight="normal" fill="#000">Layer Thickness</text>
<text x="424.60" y="269.60" font-size="10" text-anchor="start" font-weight="normal" fill="#000">Days in culture</text>
<rect x="84.20" y="39.20" width="5.40" height="105.00" fill="#d9d2ea"/>
<rect x="86.00" y="161.00" width="4.80" height="105.20" fill="#a6e3fb"/>
<text x="72.60" y="90.00" font-size="10" text-anchor="middle" font-weight="normal" fill="#000" transform="rotate(-90 72.60 90.00)">MACM</text>
<text x="73.80" y="214.40" font-size="10" text-anchor="middle" font-weight="normal" fill="#000" transform="rotate(-90 73.80 214.40)">CTR</text>
<text x="111.60" y="43.30" font-size="10" text-anchor="start" font-weight="normal" fill="#000">Day 60</text>
<text x="155.60" y="43.30" font-size="10" text-anchor="start" font-weight="normal" fill="#12ea12">SOX2</text>
<text x="199.20" y="43.30" font-size="10" text-anchor="start" font-weight="normal" fill="#f61212">TUJ1</text>
<text x="237.60" y="43.30" font-size="10" text-anchor="start" font-weight="normal" fill="#f612f0">MAP2</text>
<text x="294.20" y="7.70" font-size="10" text-anchor="start" font-weight="normal" fill="#000">Day 90</text>
<text x="338.20" y="7.70" font-size="10" text-anchor="start" font-weight="normal" fill="#12ea12">SOX2</text>
<text x="382.40" y="7.70" font-size="10" text-anchor="start" font-weight="normal" fill="#f61212">TUJ1</text>
<text x="420.40" y="7.70" font-size="10" text-anchor="start" font-weight="normal" fill="#f612f0">MAP2</text>
<rect x="110.20" y="255.80" width="38.80" height="2.00" fill="#000"/>
<text x="113.20" y="269.20" font-size="10" text-anchor="start" font-weight="normal" fill="#000">100 µm</text>
<g clip-path="url(#c1)" style="isolation:isolate">
<rect x="110.50" y="56.40" width="38.50" height="76.30" fill="#000"/>
<path d="M110.5 62.6C111.8 62.6 115.3 63.2 118.5 62.8C121.7 62.4 126.0 60.4 129.5 60.4C133.0 60.4 136.2 61.4 139.5 62.6C142.8 63.8 147.4 66.6 149.0 67.4L149.0 111.7C148.4 111.1 146.8 109.0 145.5 108.0C144.2 107.0 143.2 106.3 141.5 105.8C139.8 105.3 137.7 104.9 135.5 104.9C133.3 104.9 130.8 105.5 128.5 106.0C126.2 106.5 123.7 107.2 121.5 107.9C119.3 108.7 117.3 109.5 115.5 110.5C113.7 111.5 111.3 113.2 110.5 113.7z" fill="url(#g1)" opacity="1"/>
<path d="M110.5 62.6C111.8 62.6 115.3 63.2 118.5 62.8C121.7 62.4 126.0 60.4 129.5 60.4C133.0 60.4 136.2 61.4 139.5 62.6C142.8 63.8 147.4 66.6 149.0 67.4L149.0 111.7C148.4 111.1 146.8 109.0 145.5 108.0C144.2 107.0 143.2 106.3 141.5 105.8C139.8 105.3 137.7 104.9 135.5 104.9C133.3 104.9 130.8 105.5 128.5 106.0C126.2 106.5 123.7 107.2 121.5 107.9C119.3 108.7 117.3 109.5 115.5 110.5C113.7 111.5 111.3 113.2 110.5 113.7z" fill="url(#g2)" opacity="1" filter="url(#f1)"/>
<path d="M110.5 62.6C111.8 62.6 115.3 63.2 118.5 62.8C121.7 62.4 126.0 60.4 129.5 60.4C133.0 60.4 136.2 61.4 139.5 62.6C142.8 63.8 147.4 66.6 149.0 67.4L149.0 111.7C148.4 111.1 146.8 109.0 145.5 108.0C144.2 107.0 143.2 106.3 141.5 105.8C139.8 105.3 137.7 104.9 135.5 104.9C133.3 104.9 130.8 105.5 128.5 106.0C126.2 106.5 123.7 107.2 121.5 107.9C119.3 108.7 117.3 109.5 115.5 110.5C113.7 111.5 111.3 113.2 110.5 113.7z" fill="url(#g3)" opacity="1" filter="url(#f2)"/>
<path d="M110.5 113.7C111.3 113.2 113.7 111.5 115.5 110.5C117.3 109.5 119.3 108.7 121.5 107.9C123.7 107.2 126.2 106.5 128.5 106.0C130.8 105.5 133.3 104.9 135.5 104.9C137.7 104.9 139.8 105.3 141.5 105.8C143.2 106.3 144.2 107.0 145.5 108.0C146.8 109.0 148.4 111.1 149.0 111.7L149.0 132.7L110.5 132.7z" fill="#22708c" opacity="1"/>
<path d="M110.5 113.7C111.3 113.2 113.7 111.5 115.5 110.5C117.3 109.5 119.3 108.7 121.5 107.9C123.7 107.2 126.2 106.5 128.5 106.0C130.8 105.5 133.3 104.9 135.5 104.9C137.7 104.9 139.8 105.3 141.5 105.8C143.2 106.3 144.2 107.0 145.5 108.0C146.8 109.0 148.4 111.1 149.0 111.7L149.0 132.7L110.5 132.7z" fill="#3038c8" opacity="1" filter="url(#f3)"/>
<path d="M110.5 113.7C111.3 113.2 113.7 111.5 115.5 110.5C117.3 109.5 119.3 108.7 121.5 107.9C123.7 107.2 126.2 106.5 128.5 106.0C130.8 105.5 133.3 104.9 135.5 104.9C137.7 104.9 139.8 105.3 141.5 105.8C143.2 106.3 144.2 107.0 145.5 108.0C146.8 109.0 148.4 111.1 149.0 111.7L149.0 132.7L110.5 132.7z" fill="#50e8c8" opacity="1" filter="url(#f4)"/>
<path d="M110.5 113.7C111.3 113.2 113.7 111.5 115.5 110.5C117.3 109.5 119.3 108.7 121.5 107.9C123.7 107.2 126.2 106.5 128.5 106.0C130.8 105.5 133.3 104.9 135.5 104.9C137.7 104.9 139.8 105.3 141.5 105.8C143.2 106.3 144.2 107.0 145.5 108.0C146.8 109.0 148.4 111.1 149.0 111.7L149.0 132.7L110.5 132.7z" fill="#d8fff0" opacity="0.9" filter="url(#f5)"/>
<path d="M110.5 113.7C111.3 113.2 113.7 111.5 115.5 110.5C117.3 109.5 119.3 108.7 121.5 107.9C123.7 107.2 126.2 106.5 128.5 106.0C130.8 105.5 133.3 104.9 135.5 104.9C137.7 104.9 139.8 105.3 141.5 105.8C143.2 106.3 144.2 107.0 145.5 108.0C146.8 109.0 148.4 111.1 149.0 111.7L149.0 132.7L110.5 132.7z" fill="#e020a0" opacity="0.9" filter="url(#f6)"/>
<path d="M110.5 62.6C111.8 62.6 115.3 63.2 118.5 62.8C121.7 62.4 126.0 60.4 129.5 60.4C133.0 60.4 136.2 61.4 139.5 62.6C142.8 63.8 147.4 66.6 149.0 67.4" fill="none" stroke="#fff" stroke-width="1.7" stroke-dasharray="5.6 3.2"/>
<path d="M110.5 113.7C111.3 113.2 113.7 111.5 115.5 110.5C117.3 109.5 119.3 108.7 121.5 107.9C123.7 107.2 126.2 106.5 128.5 106.0C130.8 105.5 133.3 104.9 135.5 104.9C137.7 104.9 139.8 105.3 141.5 105.8C143.2 106.3 144.2 107.0 145.5 108.0C146.8 109.0 148.4 111.1 149.0 111.7" fill="none" stroke="#fff" stroke-width="1.7" stroke-dasharray="5.6 3.2"/>
<path d="M125.0 133.2C125.4 132.7 126.7 131.0 127.5 130.2C128.3 129.4 129.2 128.2 130.1 128.2C131.0 128.2 132.0 129.4 133.0 130.2C134.0 131.0 135.6 132.7 136.1 133.2" fill="none" stroke="#fff" stroke-width="1.7" stroke-dasharray="5.6 3.2"/>
</g>
<g clip-path="url(#c2)" style="isolation:isolate">
<rect x="151.50" y="56.40" width="38.50" height="76.30" fill="#000"/>
<path d="M151.5 62.6C152.8 62.6 156.3 63.2 159.5 62.8C162.7 62.4 167.0 60.4 170.5 60.4C174.0 60.4 177.2 61.4 180.5 62.6C183.8 63.8 188.4 66.6 190.0 67.4L190.0 111.7C189.4 111.1 187.8 109.0 186.5 108.0C185.2 107.0 184.2 106.3 182.5 105.8C180.8 105.3 178.7 104.9 176.5 104.9C174.3 104.9 171.8 105.5 169.5 106.0C167.2 106.5 164.7 107.2 162.5 107.9C160.3 108.7 158.3 109.5 156.5 110.5C154.7 111.5 152.3 113.2 151.5 113.7z" fill="url(#g4)" opacity="1" filter="url(#f7)"/>
<path d="M151.5 113.7C152.3 113.2 154.7 111.5 156.5 110.5C158.3 109.5 160.3 108.7 162.5 107.9C164.7 107.2 167.2 106.5 169.5 106.0C171.8 105.5 174.3 104.9 176.5 104.9C178.7 104.9 180.8 105.3 182.5 105.8C184.2 106.3 185.2 107.0 186.5 108.0C187.8 109.0 189.4 111.1 190.0 111.7L190.0 132.7L151.5 132.7z" fill="#053005" opacity="1"/>
<path d="M151.5 113.7C152.3 113.2 154.7 111.5 156.5 110.5C158.3 109.5 160.3 108.7 162.5 107.9C164.7 107.2 167.2 106.5 169.5 106.0C171.8 105.5 174.3 104.9 176.5 104.9C178.7 104.9 180.8 105.3 182.5 105.8C184.2 106.3 185.2 107.0 186.5 108.0C187.8 109.0 189.4 111.1 190.0 111.7L190.0 132.7L151.5 132.7z" fill="url(#g5)" opacity="1" filter="url(#f8)"/>
<path d="M151.5 62.6C152.8 62.6 156.3 63.2 159.5 62.8C162.7 62.4 167.0 60.4 170.5 60.4C174.0 60.4 177.2 61.4 180.5 62.6C183.8 63.8 188.4 66.6 190.0 67.4" fill="none" stroke="#fff" stroke-width="1.7" stroke-dasharray="5.6 3.2"/>
<path d="M151.5 113.7C152.3 113.2 154.7 111.5 156.5 110.5C158.3 109.5 160.3 108.7 162.5 107.9C164.7 107.2 167.2 106.5 169.5 106.0C171.8 105.5 174.3 104.9 176.5 104.9C178.7 104.9 180.8 105.3 182.5 105.8C184.2 106.3 185.2 107.0 186.5 108.0C187.8 109.0 189.4 111.1 190.0 111.7" fill="none" stroke="#fff" stroke-width="1.7" stroke-dasharray="5.6 3.2"/>
<path d="M166.0 133.2C166.4 132.7 167.7 131.0 168.5 130.2C169.3 129.4 170.2 128.2 171.1 128.2C172.0 128.2 173.0 129.4 174.0 130.2C175.0 131.0 176.6 132.7 177.1 133.2" fill="none" stroke="#fff" stroke-width="1.7" stroke-dasharray="5.6 3.2"/>
</g>
<g clip-path="url(#c3)" style="isolation:isolate">
<rect x="192.50" y="56.40" width="38.50" height="76.30" fill="#000"/>
<path d="M192.5 62.6C193.8 62.6 197.3 63.2 200.5 62.8C203.7 62.4 208.0 60.4 211.5 60.4C215.0 60.4 218.2 61.4 221.5 62.6C224.8 63.8 229.4 66.6 231.0 67.4L231.0 132.7L192.5 132.7z" fill="#1c0000" opacity="1"/>
<path d="M192.5 62.6C193.8 62.6 197.3 63.2 200.5 62.8C203.7 62.4 208.0 60.4 211.5 60.4C215.0 60.4 218.2 61.4 221.5 62.6C224.8 63.8 229.4 66.6 231.0 67.4L231.0 111.7C230.4 111.1 228.8 109.0 227.5 108.0C226.2 107.0 225.2 106.3 223.5 105.8C221.8 105.3 219.7 104.9 217.5 104.9C215.3 104.9 212.8 105.5 210.5 106.0C208.2 106.5 205.7 107.2 203.5 107.9C201.3 108.7 199.3 109.5 197.5 110.5C195.7 111.5 193.3 113.2 192.5 113.7z" fill="url(#g6)" opacity="1"/>
<path d="M192.5 62.6C193.8 62.6 197.3 63.2 200.5 62.8C203.7 62.4 208.0 60.4 211.5 60.4C215.0 60.4 218.2 61.4 221.5 62.6C224.8 63.8 229.4 66.6 231.0 67.4L231.0 111.7C230.4 111.1 228.8 109.0 227.5 108.0C226.2 107.0 225.2 106.3 223.5 105.8C221.8 105.3 219.7 104.9 217.5 104.9C215.3 104.9 212.8 105.5 210.5 106.0C208.2 106.5 205.7 107.2 203.5 107.9C201.3 108.7 199.3 109.5 197.5 110.5C195.7 111.5 193.3 113.2 192.5 113.7z" fill="url(#g7)" opacity="1" filter="url(#f9)"/>
<path d="M192.5 113.7C193.3 113.2 195.7 111.5 197.5 110.5C199.3 109.5 201.3 108.7 203.5 107.9C205.7 107.2 208.2 106.5 210.5 106.0C212.8 105.5 215.3 104.9 217.5 104.9C219.7 104.9 221.8 105.3 223.5 105.8C225.2 106.3 226.2 107.0 227.5 108.0C228.8 109.0 230.4 111.1 231.0 111.7L231.0 132.7L192.5 132.7z" fill="#b00a0a" opacity="1" filter="url(#f10)"/>
<path d="M192.5 62.6C193.8 62.6 197.3 63.2 200.5 62.8C203.7 62.4 208.0 60.4 211.5 60.4C215.0 60.4 218.2 61.4 221.5 62.6C224.8 63.8 229.4 66.6 231.0 67.4" fill="none" stroke="#fff" stroke-width="1.7" stroke-dasharray="5.6 3.2"/>
<path d="M192.5 113.7C193.3 113.2 195.7 111.5 197.5 110.5C199.3 109.5 201.3 108.7 203.5 107.9C205.7 107.2 208.2 106.5 210.5 106.0C212.8 105.5 215.3 104.9 217.5 104.9C219.7 104.9 221.8 105.3 223.5 105.8C225.2 106.3 226.2 107.0 227.5 108.0C228.8 109.0 230.4 111.1 231.0 111.7" fill="none" stroke="#fff" stroke-width="1.7" stroke-dasharray="5.6 3.2"/>
</g>
<g clip-path="url(#c4)" style="isolation:isolate">
<rect x="233.50" y="56.40" width="38.50" height="76.30" fill="#000"/>
<path d="M233.5 62.6C234.8 62.6 238.3 63.2 241.5 62.8C244.7 62.4 249.0 60.4 252.5 60.4C256.0 60.4 259.2 61.4 262.5 62.6C265.8 63.8 270.4 66.6 272.0 67.4L272.0 132.7L233.5 132.7z" fill="#24002a" opacity="1"/>
<path d="M233.5 62.6C234.8 62.6 238.3 63.2 241.5 62.8C244.7 62.4 249.0 60.4 252.5 60.4C256.0 60.4 259.2 61.4 262.5 62.6C265.8 63.8 270.4 66.6 272.0 67.4L272.0 111.7C271.4 111.1 269.8 109.0 268.5 108.0C267.2 107.0 266.2 106.3 264.5 105.8C262.8 105.3 260.7 104.9 258.5 104.9C256.3 104.9 253.8 105.5 251.5 106.0C249.2 106.5 246.7 107.2 244.5 107.9C242.3 108.7 240.3 109.5 238.5 110.5C236.7 111.5 234.3 113.2 233.5 113.7z" fill="url(#g8)" opacity="1"/>
<path d="M233.5 62.6C234.8 62.6 238.3 63.2 241.5 62.8C244.7 62.4 249.0 60.4 252.5 60.4C256.0 60.4 259.2 61.4 262.5 62.6C265.8 63.8 270.4 66.6 272.0 67.4L272.0 111.7C271.4 111.1 269.8 109.0 268.5 108.0C267.2 107.0 266.2 106.3 264.5 105.8C262.8 105.3 260.7 104.9 258.5 104.9C256.3 104.9 253.8 105.5 251.5 106.0C249.2 106.5 246.7 107.2 244.5 107.9C242.3 108.7 240.3 109.5 238.5 110.5C236.7 111.5 234.3 113.2 233.5 113.7z" fill="url(#g9)" opacity="1" filter="url(#f11)"/>
<path d="M233.5 113.7C234.3 113.2 236.7 111.5 238.5 110.5C240.3 109.5 242.3 108.7 244.5 107.9C246.7 107.2 249.2 106.5 251.5 106.0C253.8 105.5 256.3 104.9 258.5 104.9C260.7 104.9 262.8 105.3 264.5 105.8C266.2 106.3 267.2 107.0 268.5 108.0C269.8 109.0 271.4 111.1 272.0 111.7L272.0 132.7L233.5 132.7z" fill="#80108c" opacity="1" filter="url(#f12)"/>
<path d="M233.5 62.6C234.8 62.6 238.3 63.2 241.5 62.8C244.7 62.4 249.0 60.4 252.5 60.4C256.0 60.4 259.2 61.4 262.5 62.6C265.8 63.8 270.4 66.6 272.0 67.4" fill="none" stroke="#fff" stroke-width="1.7" stroke-dasharray="5.6 3.2"/>
<path d="M233.5 113.7C234.3 113.2 236.7 111.5 238.5 110.5C240.3 109.5 242.3 108.7 244.5 107.9C246.7 107.2 249.2 106.5 251.5 106.0C253.8 105.5 256.3 104.9 258.5 104.9C260.7 104.9 262.8 105.3 264.5 105.8C266.2 106.3 267.2 107.0 268.5 108.0C269.8 109.0 271.4 111.1 272.0 111.7" fill="none" stroke="#fff" stroke-width="1.7" stroke-dasharray="5.6 3.2"/>
</g>
<g clip-path="url(#c5)" style="isolation:isolate">
<rect x="110.20" y="173.30" width="38.60" height="77.20" fill="#000"/>
<path d="M110.2 196.4C110.7 196.6 111.9 197.0 113.2 197.5C114.5 198.0 115.7 199.1 118.2 199.5C120.7 199.9 125.4 199.8 128.2 200.2C131.0 200.6 133.0 201.2 135.2 202.0C137.4 202.8 139.5 204.0 141.2 205.0C142.9 206.0 143.9 206.8 145.2 207.8C146.5 208.8 148.2 210.6 148.8 211.2L148.8 222.5C148.2 221.9 147.0 220.0 145.2 218.8C143.4 217.7 140.7 216.3 138.2 215.6C135.7 214.8 132.9 214.5 130.2 214.3C127.5 214.1 124.7 214.2 122.2 214.6C119.7 215.0 117.2 215.9 115.2 217.0C113.2 218.1 111.0 220.3 110.2 221.0z" fill="#b01880" opacity="1"/>
<path d="M110.2 196.4C110.7 196.6 111.9 197.0 113.2 197.5C114.5 198.0 115.7 199.1 118.2 199.5C120.7 199.9 125.4 199.8 128.2 200.2C131.0 200.6 133.0 201.2 135.2 202.0C137.4 202.8 139.5 204.0 141.2 205.0C142.9 206.0 143.9 206.8 145.2 207.8C146.5 208.8 148.2 210.6 148.8 211.2L148.8 222.5C148.2 221.9 147.0 220.0 145.2 218.8C143.4 217.7 140.7 216.3 138.2 215.6C135.7 214.8 132.9 214.5 130.2 214.3C127.5 214.1 124.7 214.2 122.2 214.6C119.7 215.0 117.2 215.9 115.2 217.0C113.2 218.1 111.0 220.3 110.2 221.0z" fill="#4a30c8" opacity="1" filter="url(#f13)"/>
<path d="M110.2 196.4C110.7 196.6 111.9 197.0 113.2 197.5C114.5 198.0 115.7 199.1 118.2 199.5C120.7 199.9 125.4 199.8 128.2 200.2C131.0 200.6 133.0 201.2 135.2 202.0C137.4 202.8 139.5 204.0 141.2 205.0C142.9 206.0 143.9 206.8 145.2 207.8C146.5 208.8 148.2 210.6 148.8 211.2L148.8 222.5C148.2 221.9 147.0 220.0 145.2 218.8C143.4 217.7 140.7 216.3 138.2 215.6C135.7 214.8 132.9 214.5 130.2 214.3C127.5 214.1 124.7 214.2 122.2 214.6C119.7 215.0 117.2 215.9 115.2 217.0C113.2 218.1 111.0 220.3 110.2 221.0z" fill="#ff2080" opacity="1" filter="url(#f14)"/>
<path d="M110.2 221.0C111.0 220.3 113.2 218.1 115.2 217.0C117.2 215.9 119.7 215.0 122.2 214.6C124.7 214.2 127.5 214.1 130.2 214.3C132.9 214.5 135.7 214.8 138.2 215.6C140.7 216.3 143.4 217.7 145.2 218.8C147.0 220.0 148.2 221.9 148.8 222.5L148.8 250.5L110.2 250.5z" fill="#1c5c78" opacity="1"/>
<path d="M110.2 221.0C111.0 220.3 113.2 218.1 115.2 217.0C117.2 215.9 119.7 215.0 122.2 214.6C124.7 214.2 127.5 214.1 130.2 214.3C132.9 214.5 135.7 214.8 138.2 215.6C140.7 216.3 143.4 217.7 145.2 218.8C147.0 220.0 148.2 221.9 148.8 222.5L148.8 250.5L110.2 250.5z" fill="#3040c0" opacity="1" filter="url(#f15)"/>
<path d="M110.2 221.0C111.0 220.3 113.2 218.1 115.2 217.0C117.2 215.9 119.7 215.0 122.2 214.6C124.7 214.2 127.5 214.1 130.2 214.3C132.9 214.5 135.7 214.8 138.2 215.6C140.7 216.3 143.4 217.7 145.2 218.8C147.0 220.0 148.2 221.9 148.8 222.5L148.8 250.5L110.2 250.5z" fill="#40a8a8" opacity="1" filter="url(#f16)"/>
<path d="M110.2 221.0C111.0 220.3 113.2 218.1 115.2 217.0C117.2 215.9 119.7 215.0 122.2 214.6C124.7 214.2 127.5 214.1 130.2 214.3C132.9 214.5 135.7 214.8 138.2 215.6C140.7 216.3 143.4 217.7 145.2 218.8C147.0 220.0 148.2 221.9 148.8 222.5L148.8 250.5L110.2 250.5z" fill="url(#g10)" opacity="1" filter="url(#f17)"/>
<path d="M110.2 196.4C110.7 196.6 111.9 197.0 113.2 197.5C114.5 198.0 115.7 199.1 118.2 199.5C120.7 199.9 125.4 199.8 128.2 200.2C131.0 200.6 133.0 201.2 135.2 202.0C137.4 202.8 139.5 204.0 141.2 205.0C142.9 206.0 143.9 206.8 145.2 207.8C146.5 208.8 148.2 210.6 148.8 211.2" fill="none" stroke="#fff" stroke-width="1.7" stroke-dasharray="5.6 3.2"/>
<path d="M110.2 221.0C111.0 220.3 113.2 218.1 115.2 217.0C117.2 215.9 119.7 215.0 122.2 214.6C124.7 214.2 127.5 214.1 130.2 214.3C132.9 214.5 135.7 214.8 138.2 215.6C140.7 216.3 143.4 217.7 145.2 218.8C147.0 220.0 148.2 221.9 148.8 222.5" fill="none" stroke="#fff" stroke-width="1.7" stroke-dasharray="5.6 3.2"/>
</g>
<g clip-path="url(#c6)" style="isolation:isolate">
<rect x="151.30" y="173.30" width="38.60" height="77.20" fill="#000"/>
<path d="M151.3 196.4C151.8 196.6 153.0 197.0 154.3 197.5C155.6 198.0 156.8 199.1 159.3 199.5C161.8 199.9 166.5 199.8 169.3 200.2C172.1 200.6 174.1 201.2 176.3 202.0C178.5 202.8 180.6 204.0 182.3 205.0C184.0 206.0 185.0 206.8 186.3 207.8C187.6 208.8 189.3 210.6 189.9 211.2L189.9 222.5C189.3 221.9 188.1 220.0 186.3 218.8C184.5 217.7 181.8 216.3 179.3 215.6C176.8 214.8 174.0 214.5 171.3 214.3C168.6 214.1 165.8 214.2 163.3 214.6C160.8 215.0 158.3 215.9 156.3 217.0C154.3 218.1 152.1 220.3 151.3 221.0z" fill="#031603" opacity="1"/>
<path d="M151.3 196.4C151.8 196.6 153.0 197.0 154.3 197.5C155.6 198.0 156.8 199.1 159.3 199.5C161.8 199.9 166.5 199.8 169.3 200.2C172.1 200.6 174.1 201.2 176.3 202.0C178.5 202.8 180.6 204.0 182.3 205.0C184.0 206.0 185.0 206.8 186.3 207.8C187.6 208.8 189.3 210.6 189.9 211.2L189.9 222.5C189.3 221.9 188.1 220.0 186.3 218.8C184.5 217.7 181.8 216.3 179.3 215.6C176.8 214.8 174.0 214.5 171.3 214.3C168.6 214.1 165.8 214.2 163.3 214.6C160.8 215.0 158.3 215.9 156.3 217.0C154.3 218.1 152.1 220.3 151.3 221.0z" fill="#0a4a0a" opacity="0.6" filter="url(#f18)"/>
<path d="M151.3 221.0C152.1 220.3 154.3 218.1 156.3 217.0C158.3 215.9 160.8 215.0 163.3 214.6C165.8 214.2 168.6 214.1 171.3 214.3C174.0 214.5 176.8 214.8 179.3 215.6C181.8 216.3 184.5 217.7 186.3 218.8C188.1 220.0 189.3 221.9 189.9 222.5L189.9 250.5L151.3 250.5z" fill="#0b640b" opacity="1"/>
<path d="M151.3 221.0C152.1 220.3 154.3 218.1 156.3 217.0C158.3 215.9 160.8 215.0 163.3 214.6C165.8 214.2 168.6 214.1 171.3 214.3C174.0 214.5 176.8 214.8 179.3 215.6C181.8 216.3 184.5 217.7 186.3 218.8C188.1 220.0 189.3 221.9 189.9 222.5L189.9 250.5L151.3 250.5z" fill="#1fd01f" opacity="1" filter="url(#f16)"/>
<path d="M151.3 221.0C152.1 220.3 154.3 218.1 156.3 217.0C158.3 215.9 160.8 215.0 163.3 214.6C165.8 214.2 168.6 214.1 171.3 214.3C174.0 214.5 176.8 214.8 179.3 215.6C181.8 216.3 184.5 217.7 186.3 218.8C188.1 220.0 189.3 221.9 189.9 222.5L189.9 250.5L151.3 250.5z" fill="#021002" opacity="0.8" filter="url(#f19)"/>
<path d="M151.3 196.4C151.8 196.6 153.0 197.0 154.3 197.5C155.6 198.0 156.8 199.1 159.3 199.5C161.8 199.9 166.5 199.8 169.3 200.2C172.1 200.6 174.1 201.2 176.3 202.0C178.5 202.8 180.6 204.0 182.3 205.0C184.0 206.0 185.0 206.8 186.3 207.8C187.6 208.8 189.3 210.6 189.9 211.2" fill="none" stroke="#fff" stroke-width="1.7" stroke-dasharray="5.6 3.2"/>
<path d="M151.3 221.0C152.1 220.3 154.3 218.1 156.3 217.0C158.3 215.9 160.8 215.0 163.3 214.6C165.8 214.2 168.6 214.1 171.3 214.3C174.0 214.5 176.8 214.8 179.3 215.6C181.8 216.3 184.5 217.7 186.3 218.8C188.1 220.0 189.3 221.9 189.9 222.5" fill="none" stroke="#fff" stroke-width="1.7" stroke-dasharray="5.6 3.2"/>
<path d="M164.6 250.9C164.9 250.2 165.6 247.6 166.3 246.6C167.0 245.6 168.1 244.7 168.9 245.0C169.7 245.3 170.9 247.8 171.3 248.4" fill="none" stroke="#fff" stroke-width="1.7" stroke-dasharray="5.6 3.2"/>
</g>
<g clip-path="url(#c7)" style="isolation:isolate">
<rect x="192.30" y="173.30" width="38.60" height="77.20" fill="#000"/>
<path d="M192.3 221.0C193.1 220.3 195.3 218.1 197.3 217.0C199.3 215.9 201.8 215.0 204.3 214.6C206.8 214.2 209.6 214.1 212.3 214.3C215.0 214.5 217.8 214.8 220.3 215.6C222.8 216.3 225.5 217.7 227.3 218.8C229.1 220.0 230.3 221.9 230.9 222.5L230.9 250.5L192.3 250.5z" fill="#0c0000" opacity="1"/>
<path d="M192.3 196.4C192.8 196.6 194.0 197.0 195.3 197.5C196.6 198.0 197.8 199.1 200.3 199.5C202.8 199.9 207.5 199.8 210.3 200.2C213.1 200.6 215.1 201.2 217.3 202.0C219.5 202.8 221.6 204.0 223.3 205.0C225.0 206.0 226.0 206.8 227.3 207.8C228.6 208.8 230.3 210.6 230.9 211.2L230.9 222.5C230.3 221.9 229.1 220.0 227.3 218.8C225.5 217.7 222.8 216.3 220.3 215.6C217.8 214.8 215.0 214.5 212.3 214.3C209.6 214.1 206.8 214.2 204.3 214.6C201.8 215.0 199.3 215.9 197.3 217.0C195.3 218.1 193.1 220.3 192.3 221.0z" fill="#560202" opacity="1"/>
<path d="M192.3 196.4C192.8 196.6 194.0 197.0 195.3 197.5C196.6 198.0 197.8 199.1 200.3 199.5C202.8 199.9 207.5 199.8 210.3 200.2C213.1 200.6 215.1 201.2 217.3 202.0C219.5 202.8 221.6 204.0 223.3 205.0C225.0 206.0 226.0 206.8 227.3 207.8C228.6 208.8 230.3 210.6 230.9 211.2L230.9 222.5C230.3 221.9 229.1 220.0 227.3 218.8C225.5 217.7 222.8 216.3 220.3 215.6C217.8 214.8 215.0 214.5 212.3 214.3C209.6 214.1 206.8 214.2 204.3 214.6C201.8 215.0 199.3 215.9 197.3 217.0C195.3 218.1 193.1 220.3 192.3 221.0z" fill="#f81212" opacity="1" filter="url(#f20)"/>
<path d="M192.3 221.0C193.1 220.3 195.3 218.1 197.3 217.0C199.3 215.9 201.8 215.0 204.3 214.6C206.8 214.2 209.6 214.1 212.3 214.3C215.0 214.5 217.8 214.8 220.3 215.6C222.8 216.3 225.5 217.7 227.3 218.8C229.1 220.0 230.3 221.9 230.9 222.5L230.9 250.5L192.3 250.5z" fill="url(#g11)" opacity="1" filter="url(#f21)"/>
<path d="M192.3 196.4C192.8 196.6 194.0 197.0 195.3 197.5C196.6 198.0 197.8 199.1 200.3 199.5C202.8 199.9 207.5 199.8 210.3 200.2C213.1 200.6 215.1 201.2 217.3 202.0C219.5 202.8 221.6 204.0 223.3 205.0C225.0 206.0 226.0 206.8 227.3 207.8C228.6 208.8 230.3 210.6 230.9 211.2" fill="none" stroke="#fff" stroke-width="1.7" stroke-dasharray="5.6 3.2"/>
<path d="M192.3 221.0C193.1 220.3 195.3 218.1 197.3 217.0C199.3 215.9 201.8 215.0 204.3 214.6C206.8 214.2 209.6 214.1 212.3 214.3C215.0 214.5 217.8 214.8 220.3 215.6C222.8 216.3 225.5 217.7 227.3 218.8C229.1 220.0 230.3 221.9 230.9 222.5" fill="none" stroke="#fff" stroke-width="1.7" stroke-dasharray="5.6 3.2"/>
</g>
<g clip-path="url(#c8)" style="isolation:isolate">
<rect x="233.30" y="173.30" width="38.60" height="77.20" fill="#000"/>
<path d="M233.3 221.0C234.1 220.3 236.3 218.1 238.3 217.0C240.3 215.9 242.8 215.0 245.3 214.6C247.8 214.2 250.6 214.1 253.3 214.3C256.0 214.5 258.8 214.8 261.3 215.6C263.8 216.3 266.5 217.7 268.3 218.8C270.1 220.0 271.3 221.9 271.9 222.5L271.9 250.5L233.3 250.5z" fill="#150218" opacity="1"/>
<path d="M233.3 196.4C233.8 196.6 235.0 197.0 236.3 197.5C237.6 198.0 238.8 199.1 241.3 199.5C243.8 199.9 248.5 199.8 251.3 200.2C254.1 200.6 256.1 201.2 258.3 202.0C260.5 202.8 262.6 204.0 264.3 205.0C266.0 206.0 267.0 206.8 268.3 207.8C269.6 208.8 271.3 210.6 271.9 211.2L271.9 222.5C271.3 221.9 270.1 220.0 268.3 218.8C266.5 217.7 263.8 216.3 261.3 215.6C258.8 214.8 256.0 214.5 253.3 214.3C250.6 214.1 247.8 214.2 245.3 214.6C242.8 215.0 240.3 215.9 238.3 217.0C236.3 218.1 234.1 220.3 233.3 221.0z" fill="#30063a" opacity="1"/>
<path d="M233.3 196.4C233.8 196.6 235.0 197.0 236.3 197.5C237.6 198.0 238.8 199.1 241.3 199.5C243.8 199.9 248.5 199.8 251.3 200.2C254.1 200.6 256.1 201.2 258.3 202.0C260.5 202.8 262.6 204.0 264.3 205.0C266.0 206.0 267.0 206.8 268.3 207.8C269.6 208.8 271.3 210.6 271.9 211.2L271.9 222.5C271.3 221.9 270.1 220.0 268.3 218.8C266.5 217.7 263.8 216.3 261.3 215.6C258.8 214.8 256.0 214.5 253.3 214.3C250.6 214.1 247.8 214.2 245.3 214.6C242.8 215.0 240.3 215.9 238.3 217.0C236.3 218.1 234.1 220.3 233.3 221.0z" fill="#86168f" opacity="1" filter="url(#f22)"/>
<path d="M233.3 221.0C234.1 220.3 236.3 218.1 238.3 217.0C240.3 215.9 242.8 215.0 245.3 214.6C247.8 214.2 250.6 214.1 253.3 214.3C256.0 214.5 258.8 214.8 261.3 215.6C263.8 216.3 266.5 217.7 268.3 218.8C270.1 220.0 271.3 221.9 271.9 222.5L271.9 250.5L233.3 250.5z" fill="#52105a" opacity="1" filter="url(#f23)"/>
<path d="M233.3 196.4C233.8 196.6 235.0 197.0 236.3 197.5C237.6 198.0 238.8 199.1 241.3 199.5C243.8 199.9 248.5 199.8 251.3 200.2C254.1 200.6 256.1 201.2 258.3 202.0C260.5 202.8 262.6 204.0 264.3 205.0C266.0 206.0 267.0 206.8 268.3 207.8C269.6 208.8 271.3 210.6 271.9 211.2" fill="none" stroke="#fff" stroke-width="1.7" stroke-dasharray="5.6 3.2"/>
<path d="M233.3 221.0C234.1 220.3 236.3 218.1 238.3 217.0C240.3 215.9 242.8 215.0 245.3 214.6C247.8 214.2 250.6 214.1 253.3 214.3C256.0 214.5 258.8 214.8 261.3 215.6C263.8 216.3 266.5 217.7 268.3 218.8C270.1 220.0 271.3 221.9 271.9 222.5" fill="none" stroke="#fff" stroke-width="1.7" stroke-dasharray="5.6 3.2"/>
</g>
<g clip-path="url(#c9)" style="isolation:isolate">
<rect x="293.10" y="17.90" width="38.30" height="114.30" fill="#000"/>
<path d="M293.1 46.6C294.8 46.5 299.8 46.3 303.1 46.2C306.4 46.1 309.8 45.9 313.1 46.1C316.4 46.3 320.1 47.0 323.1 47.6C326.2 48.2 330.0 49.4 331.4 49.7L331.4 99.2C330.0 98.3 326.0 95.7 323.1 93.8C320.2 91.9 316.2 89.2 314.1 88.0C312.0 86.8 311.5 86.5 310.3 86.5C309.1 86.5 308.6 87.0 307.1 87.8C305.6 88.5 303.4 89.8 301.1 91.0C298.8 92.2 294.4 94.6 293.1 95.3z" fill="url(#g12)" opacity="1"/>
<path d="M293.1 46.6C294.8 46.5 299.8 46.3 303.1 46.2C306.4 46.1 309.8 45.9 313.1 46.1C316.4 46.3 320.1 47.0 323.1 47.6C326.2 48.2 330.0 49.4 331.4 49.7L331.4 99.2C330.0 98.3 326.0 95.7 323.1 93.8C320.2 91.9 316.2 89.2 314.1 88.0C312.0 86.8 311.5 86.5 310.3 86.5C309.1 86.5 308.6 87.0 307.1 87.8C305.6 88.5 303.4 89.8 301.1 91.0C298.8 92.2 294.4 94.6 293.1 95.3z" fill="url(#g13)" opacity="1" filter="url(#f24)"/>
<path d="M293.1 46.6C294.8 46.5 299.8 46.3 303.1 46.2C306.4 46.1 309.8 45.9 313.1 46.1C316.4 46.3 320.1 47.0 323.1 47.6C326.2 48.2 330.0 49.4 331.4 49.7L331.4 99.2C330.0 98.3 326.0 95.7 323.1 93.8C320.2 91.9 316.2 89.2 314.1 88.0C312.0 86.8 311.5 86.5 310.3 86.5C309.1 86.5 308.6 87.0 307.1 87.8C305.6 88.5 303.4 89.8 301.1 91.0C298.8 92.2 294.4 94.6 293.1 95.3z" fill="url(#g14)" opacity="1" filter="url(#f25)"/>
<path d="M293.1 95.3C294.4 94.6 298.8 92.2 301.1 91.0C303.4 89.8 305.6 88.5 307.1 87.8C308.6 87.0 309.1 86.5 310.3 86.5C311.5 86.5 312.0 86.8 314.1 88.0C316.2 89.2 320.2 91.9 323.1 93.8C326.0 95.7 330.0 98.3 331.4 99.2L331.4 132.2L293.1 132.2z" fill="#4c1068" opacity="1"/>
<path d="M293.1 95.3C294.4 94.6 298.8 92.2 301.1 91.0C303.4 89.8 305.6 88.5 307.1 87.8C308.6 87.0 309.1 86.5 310.3 86.5C311.5 86.5 312.0 86.8 314.1 88.0C316.2 89.2 320.2 91.9 323.1 93.8C326.0 95.7 330.0 98.3 331.4 99.2L331.4 132.2L293.1 132.2z" fill="#d01c9c" opacity="1" filter="url(#f26)"/>
<path d="M293.1 95.3C294.4 94.6 298.8 92.2 301.1 91.0C303.4 89.8 305.6 88.5 307.1 87.8C308.6 87.0 309.1 86.5 310.3 86.5C311.5 86.5 312.0 86.8 314.1 88.0C316.2 89.2 320.2 91.9 323.1 93.8C326.0 95.7 330.0 98.3 331.4 99.2L331.4 132.2L293.1 132.2z" fill="#3030d0" opacity="1" filter="url(#f27)"/>
<path d="M293.1 95.3C294.4 94.6 298.8 92.2 301.1 91.0C303.4 89.8 305.6 88.5 307.1 87.8C308.6 87.0 309.1 86.5 310.3 86.5C311.5 86.5 312.0 86.8 314.1 88.0C316.2 89.2 320.2 91.9 323.1 93.8C326.0 95.7 330.0 98.3 331.4 99.2L331.4 132.2L293.1 132.2z" fill="#38e858" opacity="1" filter="url(#f28)"/>
<path d="M293.1 95.3C294.4 94.6 298.8 92.2 301.1 91.0C303.4 89.8 305.6 88.5 307.1 87.8C308.6 87.0 309.1 86.5 310.3 86.5C311.5 86.5 312.0 86.8 314.1 88.0C316.2 89.2 320.2 91.9 323.1 93.8C326.0 95.7 330.0 98.3 331.4 99.2L331.4 132.2L293.1 132.2z" fill="#c0ffd8" opacity="0.9" filter="url(#f29)"/>
<path d="M293.1 46.6C294.8 46.5 299.8 46.3 303.1 46.2C306.4 46.1 309.8 45.9 313.1 46.1C316.4 46.3 320.1 47.0 323.1 47.6C326.2 48.2 330.0 49.4 331.4 49.7" fill="none" stroke="#fff" stroke-width="1.7" stroke-dasharray="5.6 3.2"/>
<path d="M293.1 95.3C294.4 94.6 298.8 92.2 301.1 91.0C303.4 89.8 305.6 88.5 307.1 87.8C308.6 87.0 309.1 86.5 310.3 86.5C311.5 86.5 312.0 86.8 314.1 88.0C316.2 89.2 320.2 91.9 323.1 93.8C326.0 95.7 330.0 98.3 331.4 99.2" fill="none" stroke="#fff" stroke-width="1.7" stroke-dasharray="5.6 3.2"/>
</g>
<g clip-path="url(#c10)" style="isolation:isolate">
<rect x="334.30" y="17.90" width="38.30" height="114.30" fill="#000"/>
<path d="M334.3 46.6C336.0 46.5 341.0 46.3 344.3 46.2C347.6 46.1 351.0 45.9 354.3 46.1C357.6 46.3 361.2 47.0 364.3 47.6C367.4 48.2 371.2 49.4 372.6 49.7L372.6 99.2C371.2 98.3 367.2 95.7 364.3 93.8C361.4 91.9 357.4 89.2 355.3 88.0C353.2 86.8 352.7 86.5 351.5 86.5C350.3 86.5 349.8 87.0 348.3 87.8C346.8 88.5 344.6 89.8 342.3 91.0C340.0 92.2 335.6 94.6 334.3 95.3z" fill="url(#g15)" opacity="1" filter="url(#f30)"/>
<path d="M334.3 95.3C335.6 94.6 340.0 92.2 342.3 91.0C344.6 89.8 346.8 88.5 348.3 87.8C349.8 87.0 350.3 86.5 351.5 86.5C352.7 86.5 353.2 86.8 355.3 88.0C357.4 89.2 361.4 91.9 364.3 93.8C367.2 95.7 371.2 98.3 372.6 99.2L372.6 132.2L334.3 132.2z" fill="#20f020" opacity="1" filter="url(#f31)"/>
<path d="M334.3 46.6C336.0 46.5 341.0 46.3 344.3 46.2C347.6 46.1 351.0 45.9 354.3 46.1C357.6 46.3 361.2 47.0 364.3 47.6C367.4 48.2 371.2 49.4 372.6 49.7" fill="none" stroke="#fff" stroke-width="1.7" stroke-dasharray="5.6 3.2"/>
<path d="M334.3 95.3C335.6 94.6 340.0 92.2 342.3 91.0C344.6 89.8 346.8 88.5 348.3 87.8C349.8 87.0 350.3 86.5 351.5 86.5C352.7 86.5 353.2 86.8 355.3 88.0C357.4 89.2 361.4 91.9 364.3 93.8C367.2 95.7 371.2 98.3 372.6 99.2" fill="none" stroke="#fff" stroke-width="1.7" stroke-dasharray="5.6 3.2"/>
</g>
<g clip-path="url(#c11)" style="isolation:isolate">
<rect x="375.40" y="17.90" width="38.30" height="114.30" fill="#000"/>
<path d="M375.4 46.6C377.1 46.5 382.1 46.3 385.4 46.2C388.7 46.1 392.1 45.9 395.4 46.1C398.7 46.3 402.3 47.0 405.4 47.6C408.4 48.2 412.3 49.4 413.7 49.7L413.7 99.2C412.3 98.3 408.3 95.7 405.4 93.8C402.5 91.9 398.5 89.2 396.4 88.0C394.3 86.8 393.8 86.5 392.6 86.5C391.4 86.5 390.9 87.0 389.4 87.8C387.9 88.5 385.7 89.8 383.4 91.0C381.1 92.2 376.7 94.6 375.4 95.3z" fill="url(#g16)" opacity="1"/>
<path d="M375.4 46.6C377.1 46.5 382.1 46.3 385.4 46.2C388.7 46.1 392.1 45.9 395.4 46.1C398.7 46.3 402.3 47.0 405.4 47.6C408.4 48.2 412.3 49.4 413.7 49.7L413.7 99.2C412.3 98.3 408.3 95.7 405.4 93.8C402.5 91.9 398.5 89.2 396.4 88.0C394.3 86.8 393.8 86.5 392.6 86.5C391.4 86.5 390.9 87.0 389.4 87.8C387.9 88.5 385.7 89.8 383.4 91.0C381.1 92.2 376.7 94.6 375.4 95.3z" fill="url(#g17)" opacity="1" filter="url(#f32)"/>
<path d="M375.4 46.6C377.1 46.5 382.1 46.3 385.4 46.2C388.7 46.1 392.1 45.9 395.4 46.1C398.7 46.3 402.3 47.0 405.4 47.6C408.4 48.2 412.3 49.4 413.7 49.7L413.7 99.2C412.3 98.3 408.3 95.7 405.4 93.8C402.5 91.9 398.5 89.2 396.4 88.0C394.3 86.8 393.8 86.5 392.6 86.5C391.4 86.5 390.9 87.0 389.4 87.8C387.9 88.5 385.7 89.8 383.4 91.0C381.1 92.2 376.7 94.6 375.4 95.3z" fill="url(#g18)" opacity="1" filter="url(#f33)"/>
<path d="M375.4 95.3C376.7 94.6 381.1 92.2 383.4 91.0C385.7 89.8 387.9 88.5 389.4 87.8C390.9 87.0 391.4 86.5 392.6 86.5C393.8 86.5 394.3 86.8 396.4 88.0C398.5 89.2 402.5 91.9 405.4 93.8C408.3 95.7 412.3 98.3 413.7 99.2L413.7 132.2L375.4 132.2z" fill="#300000" opacity="1"/>
<path d="M375.4 95.3C376.7 94.6 381.1 92.2 383.4 91.0C385.7 89.8 387.9 88.5 389.4 87.8C390.9 87.0 391.4 86.5 392.6 86.5C393.8 86.5 394.3 86.8 396.4 88.0C398.5 89.2 402.5 91.9 405.4 93.8C408.3 95.7 412.3 98.3 413.7 99.2L413.7 132.2L375.4 132.2z" fill="#6c0202" opacity="1" filter="url(#f34)"/>
<path d="M375.4 46.6C377.1 46.5 382.1 46.3 385.4 46.2C388.7 46.1 392.1 45.9 395.4 46.1C398.7 46.3 402.3 47.0 405.4 47.6C408.4 48.2 412.3 49.4 413.7 49.7" fill="none" stroke="#fff" stroke-width="1.7" stroke-dasharray="5.6 3.2"/>
<path d="M375.4 95.3C376.7 94.6 381.1 92.2 383.4 91.0C385.7 89.8 387.9 88.5 389.4 87.8C390.9 87.0 391.4 86.5 392.6 86.5C393.8 86.5 394.3 86.8 396.4 88.0C398.5 89.2 402.5 91.9 405.4 93.8C408.3 95.7 412.3 98.3 413.7 99.2" fill="none" stroke="#fff" stroke-width="1.7" stroke-dasharray="5.6 3.2"/>
</g>
<g clip-path="url(#c12)" style="isolation:isolate">
<rect x="416.20" y="17.90" width="38.30" height="114.30" fill="#000"/>
<path d="M416.2 46.6C417.9 46.5 422.9 46.3 426.2 46.2C429.5 46.1 432.9 45.9 436.2 46.1C439.5 46.3 443.1 47.0 446.2 47.6C449.2 48.2 453.1 49.4 454.5 49.7L454.5 99.2C453.1 98.3 449.1 95.7 446.2 93.8C443.3 91.9 439.3 89.2 437.2 88.0C435.1 86.8 434.6 86.5 433.4 86.5C432.2 86.5 431.7 87.0 430.2 87.8C428.7 88.5 426.5 89.8 424.2 91.0C421.9 92.2 417.5 94.6 416.2 95.3z" fill="url(#g19)" opacity="1"/>
<path d="M416.2 46.6C417.9 46.5 422.9 46.3 426.2 46.2C429.5 46.1 432.9 45.9 436.2 46.1C439.5 46.3 443.1 47.0 446.2 47.6C449.2 48.2 453.1 49.4 454.5 49.7L454.5 99.2C453.1 98.3 449.1 95.7 446.2 93.8C443.3 91.9 439.3 89.2 437.2 88.0C435.1 86.8 434.6 86.5 433.4 86.5C432.2 86.5 431.7 87.0 430.2 87.8C428.7 88.5 426.5 89.8 424.2 91.0C421.9 92.2 417.5 94.6 416.2 95.3z" fill="url(#g20)" opacity="1" filter="url(#f35)"/>
<path d="M416.2 46.6C417.9 46.5 422.9 46.3 426.2 46.2C429.5 46.1 432.9 45.9 436.2 46.1C439.5 46.3 443.1 47.0 446.2 47.6C449.2 48.2 453.1 49.4 454.5 49.7L454.5 99.2C453.1 98.3 449.1 95.7 446.2 93.8C443.3 91.9 439.3 89.2 437.2 88.0C435.1 86.8 434.6 86.5 433.4 86.5C432.2 86.5 431.7 87.0 430.2 87.8C428.7 88.5 426.5 89.8 424.2 91.0C421.9 92.2 417.5 94.6 416.2 95.3z" fill="url(#g21)" opacity="1" filter="url(#f36)"/>
<path d="M416.2 95.3C417.5 94.6 421.9 92.2 424.2 91.0C426.5 89.8 428.7 88.5 430.2 87.8C431.7 87.0 432.2 86.5 433.4 86.5C434.6 86.5 435.1 86.8 437.2 88.0C439.3 89.2 443.3 91.9 446.2 93.8C449.1 95.7 453.1 98.3 454.5 99.2L454.5 132.2L416.2 132.2z" fill="#28002e" opacity="1"/>
<path d="M416.2 95.3C417.5 94.6 421.9 92.2 424.2 91.0C426.5 89.8 428.7 88.5 430.2 87.8C431.7 87.0 432.2 86.5 433.4 86.5C434.6 86.5 435.1 86.8 437.2 88.0C439.3 89.2 443.3 91.9 446.2 93.8C449.1 95.7 453.1 98.3 454.5 99.2L454.5 132.2L416.2 132.2z" fill="#720a80" opacity="1" filter="url(#f37)"/>
<path d="M416.2 46.6C417.9 46.5 422.9 46.3 426.2 46.2C429.5 46.1 432.9 45.9 436.2 46.1C439.5 46.3 443.1 47.0 446.2 47.6C449.2 48.2 453.1 49.4 454.5 49.7" fill="none" stroke="#fff" stroke-width="1.7" stroke-dasharray="5.6 3.2"/>
<path d="M416.2 95.3C417.5 94.6 421.9 92.2 424.2 91.0C426.5 89.8 428.7 88.5 430.2 87.8C431.7 87.0 432.2 86.5 433.4 86.5C434.6 86.5 435.1 86.8 437.2 88.0C439.3 89.2 443.3 91.9 446.2 93.8C449.1 95.7 453.1 98.3 454.5 99.2" fill="none" stroke="#fff" stroke-width="1.7" stroke-dasharray="5.6 3.2"/>
</g>
<g clip-path="url(#c13)" style="isolation:isolate">
<rect x="293.10" y="136.70" width="38.30" height="114.30" fill="#000"/>
<path d="M293.1 191.0C294.3 190.7 297.6 189.9 300.1 189.4C302.6 188.9 305.3 188.5 308.1 188.2C310.9 187.9 314.6 187.7 317.1 187.6C319.6 187.5 321.3 187.5 323.1 187.7C324.9 187.9 326.7 188.3 328.1 188.8C329.5 189.3 330.9 190.3 331.4 190.6L331.4 220.0C330.7 219.4 328.5 217.3 327.1 216.4C325.7 215.5 324.9 215.1 323.1 214.8C321.3 214.5 318.6 214.7 316.1 214.8C313.6 214.9 310.6 215.3 308.1 215.6C305.6 215.9 303.6 216.0 301.1 216.4C298.6 216.8 294.4 217.6 293.1 217.8z" fill="#ff14e0" opacity="1"/>
<path d="M293.1 191.0C294.3 190.7 297.6 189.9 300.1 189.4C302.6 188.9 305.3 188.5 308.1 188.2C310.9 187.9 314.6 187.7 317.1 187.6C319.6 187.5 321.3 187.5 323.1 187.7C324.9 187.9 326.7 188.3 328.1 188.8C329.5 189.3 330.9 190.3 331.4 190.6L331.4 220.0C330.7 219.4 328.5 217.3 327.1 216.4C325.7 215.5 324.9 215.1 323.1 214.8C321.3 214.5 318.6 214.7 316.1 214.8C313.6 214.9 310.6 215.3 308.1 215.6C305.6 215.9 303.6 216.0 301.1 216.4C298.6 216.8 294.4 217.6 293.1 217.8z" fill="url(#g22)" opacity="1" filter="url(#f38)"/>
<path d="M293.1 191.0C294.3 190.7 297.6 189.9 300.1 189.4C302.6 188.9 305.3 188.5 308.1 188.2C310.9 187.9 314.6 187.7 317.1 187.6C319.6 187.5 321.3 187.5 323.1 187.7C324.9 187.9 326.7 188.3 328.1 188.8C329.5 189.3 330.9 190.3 331.4 190.6L331.4 220.0C330.7 219.4 328.5 217.3 327.1 216.4C325.7 215.5 324.9 215.1 323.1 214.8C321.3 214.5 318.6 214.7 316.1 214.8C313.6 214.9 310.6 215.3 308.1 215.6C305.6 215.9 303.6 216.0 301.1 216.4C298.6 216.8 294.4 217.6 293.1 217.8z" fill="url(#g23)" opacity="1" filter="url(#f39)"/>
<path d="M293.1 191.0C294.3 190.7 297.6 189.9 300.1 189.4C302.6 188.9 305.3 188.5 308.1 188.2C310.9 187.9 314.6 187.7 317.1 187.6C319.6 187.5 321.3 187.5 323.1 187.7C324.9 187.9 326.7 188.3 328.1 188.8C329.5 189.3 330.9 190.3 331.4 190.6L331.4 220.0C330.7 219.4 328.5 217.3 327.1 216.4C325.7 215.5 324.9 215.1 323.1 214.8C321.3 214.5 318.6 214.7 316.1 214.8C313.6 214.9 310.6 215.3 308.1 215.6C305.6 215.9 303.6 216.0 301.1 216.4C298.6 216.8 294.4 217.6 293.1 217.8z" fill="url(#g24)" opacity="1" filter="url(#f40)"/>
<path d="M293.1 217.8C294.4 217.6 298.6 216.8 301.1 216.4C303.6 216.0 305.6 215.9 308.1 215.6C310.6 215.3 313.6 214.9 316.1 214.8C318.6 214.7 321.3 214.5 323.1 214.8C324.9 215.1 325.7 215.5 327.1 216.4C328.5 217.3 330.7 219.4 331.4 220.0L331.4 251.0L293.1 251.0z" fill="#0e0e30" opacity="1"/>
<path d="M293.1 217.8C294.4 217.6 298.6 216.8 301.1 216.4C303.6 216.0 305.6 215.9 308.1 215.6C310.6 215.3 313.6 214.9 316.1 214.8C318.6 214.7 321.3 214.5 323.1 214.8C324.9 215.1 325.7 215.5 327.1 216.4C328.5 217.3 330.7 219.4 331.4 220.0L331.4 251.0L293.1 251.0z" fill="#2c2cb8" opacity="1" filter="url(#f41)"/>
<path d="M293.1 217.8C294.4 217.6 298.6 216.8 301.1 216.4C303.6 216.0 305.6 215.9 308.1 215.6C310.6 215.3 313.6 214.9 316.1 214.8C318.6 214.7 321.3 214.5 323.1 214.8C324.9 215.1 325.7 215.5 327.1 216.4C328.5 217.3 330.7 219.4 331.4 220.0L331.4 251.0L293.1 251.0z" fill="url(#g25)" opacity="1" filter="url(#f42)"/>
<path d="M293.1 217.8C294.4 217.6 298.6 216.8 301.1 216.4C303.6 216.0 305.6 215.9 308.1 215.6C310.6 215.3 313.6 214.9 316.1 214.8C318.6 214.7 321.3 214.5 323.1 214.8C324.9 215.1 325.7 215.5 327.1 216.4C328.5 217.3 330.7 219.4 331.4 220.0L331.4 251.0L293.1 251.0z" fill="url(#g26)" opacity="1" filter="url(#f43)"/>
<path d="M293.1 191.0C294.3 190.7 297.6 189.9 300.1 189.4C302.6 188.9 305.3 188.5 308.1 188.2C310.9 187.9 314.6 187.7 317.1 187.6C319.6 187.5 321.3 187.5 323.1 187.7C324.9 187.9 326.7 188.3 328.1 188.8C329.5 189.3 330.9 190.3 331.4 190.6" fill="none" stroke="#fff" stroke-width="1.7" stroke-dasharray="5.6 3.2"/>
<path d="M293.1 217.8C294.4 217.6 298.6 216.8 301.1 216.4C303.6 216.0 305.6 215.9 308.1 215.6C310.6 215.3 313.6 214.9 316.1 214.8C318.6 214.7 321.3 214.5 323.1 214.8C324.9 215.1 325.7 215.5 327.1 216.4C328.5 217.3 330.7 219.4 331.4 220.0" fill="none" stroke="#fff" stroke-width="1.7" stroke-dasharray="5.6 3.2"/>
</g>
<g clip-path="url(#c14)" style="isolation:isolate">
<rect x="334.30" y="136.70" width="38.30" height="114.30" fill="#000"/>
<path d="M334.3 191.0C335.5 190.7 338.8 189.9 341.3 189.4C343.8 188.9 346.5 188.5 349.3 188.2C352.1 187.9 355.8 187.7 358.3 187.6C360.8 187.5 362.5 187.5 364.3 187.7C366.1 187.9 367.9 188.3 369.3 188.8C370.7 189.3 372.1 190.3 372.6 190.6L372.6 220.0C371.9 219.4 369.7 217.3 368.3 216.4C366.9 215.5 366.1 215.1 364.3 214.8C362.5 214.5 359.8 214.7 357.3 214.8C354.8 214.9 351.8 215.3 349.3 215.6C346.8 215.9 344.8 216.0 342.3 216.4C339.8 216.8 335.6 217.6 334.3 217.8z" fill="url(#g27)" opacity="1" filter="url(#f44)"/>
<path d="M334.3 217.8C335.6 217.6 339.8 216.8 342.3 216.4C344.8 216.0 346.8 215.9 349.3 215.6C351.8 215.3 354.8 214.9 357.3 214.8C359.8 214.7 362.5 214.5 364.3 214.8C366.1 215.1 366.9 215.5 368.3 216.4C369.7 217.3 371.9 219.4 372.6 220.0L372.6 251.0L334.3 251.0z" fill="url(#g28)" opacity="1" filter="url(#f45)"/>
<path d="M334.3 217.8C335.6 217.6 339.8 216.8 342.3 216.4C344.8 216.0 346.8 215.9 349.3 215.6C351.8 215.3 354.8 214.9 357.3 214.8C359.8 214.7 362.5 214.5 364.3 214.8C366.1 215.1 366.9 215.5 368.3 216.4C369.7 217.3 371.9 219.4 372.6 220.0L372.6 251.0L334.3 251.0z" fill="url(#g29)" opacity="1" filter="url(#f46)"/>
<path d="M334.3 191.0C335.5 190.7 338.8 189.9 341.3 189.4C343.8 188.9 346.5 188.5 349.3 188.2C352.1 187.9 355.8 187.7 358.3 187.6C360.8 187.5 362.5 187.5 364.3 187.7C366.1 187.9 367.9 188.3 369.3 188.8C370.7 189.3 372.1 190.3 372.6 190.6" fill="none" stroke="#fff" stroke-width="1.7" stroke-dasharray="5.6 3.2"/>
<path d="M334.3 217.8C335.6 217.6 339.8 216.8 342.3 216.4C344.8 216.0 346.8 215.9 349.3 215.6C351.8 215.3 354.8 214.9 357.3 214.8C359.8 214.7 362.5 214.5 364.3 214.8C366.1 215.1 366.9 215.5 368.3 216.4C369.7 217.3 371.9 219.4 372.6 220.0" fill="none" stroke="#fff" stroke-width="1.7" stroke-dasharray="5.6 3.2"/>
</g>
<g clip-path="url(#c15)" style="isolation:isolate">
<rect x="375.40" y="136.70" width="38.30" height="114.30" fill="#000"/>
<path d="M375.4 217.8C376.7 217.6 380.9 216.8 383.4 216.4C385.9 216.0 387.9 215.9 390.4 215.6C392.9 215.3 395.9 214.9 398.4 214.8C400.9 214.7 403.6 214.5 405.4 214.8C407.2 215.1 408.0 215.5 409.4 216.4C410.8 217.3 413.0 219.4 413.7 220.0L413.7 251.0L375.4 251.0z" fill="#140000" opacity="1"/>
<path d="M375.4 191.0C376.6 190.7 379.9 189.9 382.4 189.4C384.9 188.9 387.6 188.5 390.4 188.2C393.2 187.9 396.9 187.7 399.4 187.6C401.9 187.5 403.6 187.5 405.4 187.7C407.2 187.9 409.0 188.3 410.4 188.8C411.8 189.3 413.1 190.3 413.7 190.6L413.7 220.0C413.0 219.4 410.8 217.3 409.4 216.4C408.0 215.5 407.2 215.1 405.4 214.8C403.6 214.5 400.9 214.7 398.4 214.8C395.9 214.9 392.9 215.3 390.4 215.6C387.9 215.9 385.9 216.0 383.4 216.4C380.9 216.8 376.7 217.6 375.4 217.8z" fill="#f41010" opacity="1"/>
<path d="M375.4 191.0C376.6 190.7 379.9 189.9 382.4 189.4C384.9 188.9 387.6 188.5 390.4 188.2C393.2 187.9 396.9 187.7 399.4 187.6C401.9 187.5 403.6 187.5 405.4 187.7C407.2 187.9 409.0 188.3 410.4 188.8C411.8 189.3 413.1 190.3 413.7 190.6L413.7 220.0C413.0 219.4 410.8 217.3 409.4 216.4C408.0 215.5 407.2 215.1 405.4 214.8C403.6 214.5 400.9 214.7 398.4 214.8C395.9 214.9 392.9 215.3 390.4 215.6C387.9 215.9 385.9 216.0 383.4 216.4C380.9 216.8 376.7 217.6 375.4 217.8z" fill="url(#g30)" opacity="1" filter="url(#f47)"/>
<path d="M375.4 217.8C376.7 217.6 380.9 216.8 383.4 216.4C385.9 216.0 387.9 215.9 390.4 215.6C392.9 215.3 395.9 214.9 398.4 214.8C400.9 214.7 403.6 214.5 405.4 214.8C407.2 215.1 408.0 215.5 409.4 216.4C410.8 217.3 413.0 219.4 413.7 220.0L413.7 251.0L375.4 251.0z" fill="url(#g31)" opacity="1" filter="url(#f48)"/>
<path d="M375.4 191.0C376.6 190.7 379.9 189.9 382.4 189.4C384.9 188.9 387.6 188.5 390.4 188.2C393.2 187.9 396.9 187.7 399.4 187.6C401.9 187.5 403.6 187.5 405.4 187.7C407.2 187.9 409.0 188.3 410.4 188.8C411.8 189.3 413.1 190.3 413.7 190.6" fill="none" stroke="#fff" stroke-width="1.7" stroke-dasharray="5.6 3.2"/>
<path d="M375.4 217.8C376.7 217.6 380.9 216.8 383.4 216.4C385.9 216.0 387.9 215.9 390.4 215.6C392.9 215.3 395.9 214.9 398.4 214.8C400.9 214.7 403.6 214.5 405.4 214.8C407.2 215.1 408.0 215.5 409.4 216.4C410.8 217.3 413.0 219.4 413.7 220.0" fill="none" stroke="#fff" stroke-width="1.7" stroke-dasharray="5.6 3.2"/>
</g>
<g clip-path="url(#c16)" style="isolation:isolate">
<rect x="416.20" y="136.70" width="38.30" height="114.30" fill="#000"/>
<path d="M416.2 217.8C417.5 217.6 421.7 216.8 424.2 216.4C426.7 216.0 428.7 215.9 431.2 215.6C433.7 215.3 436.7 214.9 439.2 214.8C441.7 214.7 444.4 214.5 446.2 214.8C448.0 215.1 448.8 215.5 450.2 216.4C451.6 217.3 453.8 219.4 454.5 220.0L454.5 251.0L416.2 251.0z" fill="#08010a" opacity="1"/>
<path d="M416.2 191.0C417.4 190.7 420.7 189.9 423.2 189.4C425.7 188.9 428.4 188.5 431.2 188.2C434.0 187.9 437.7 187.7 440.2 187.6C442.7 187.5 444.4 187.5 446.2 187.7C448.0 187.9 449.8 188.3 451.2 188.8C452.6 189.3 453.9 190.3 454.5 190.6L454.5 220.0C453.8 219.4 451.6 217.3 450.2 216.4C448.8 215.5 448.0 215.1 446.2 214.8C444.4 214.5 441.7 214.7 439.2 214.8C436.7 214.9 433.7 215.3 431.2 215.6C428.7 215.9 426.7 216.0 424.2 216.4C421.7 216.8 417.5 217.6 416.2 217.8z" fill="#f420e8" opacity="1"/>
<path d="M416.2 191.0C417.4 190.7 420.7 189.9 423.2 189.4C425.7 188.9 428.4 188.5 431.2 188.2C434.0 187.9 437.7 187.7 440.2 187.6C442.7 187.5 444.4 187.5 446.2 187.7C448.0 187.9 449.8 188.3 451.2 188.8C452.6 189.3 453.9 190.3 454.5 190.6L454.5 220.0C453.8 219.4 451.6 217.3 450.2 216.4C448.8 215.5 448.0 215.1 446.2 214.8C444.4 214.5 441.7 214.7 439.2 214.8C436.7 214.9 433.7 215.3 431.2 215.6C428.7 215.9 426.7 216.0 424.2 216.4C421.7 216.8 417.5 217.6 416.2 217.8z" fill="url(#g32)" opacity="1" filter="url(#f49)"/>
<path d="M416.2 217.8C417.5 217.6 421.7 216.8 424.2 216.4C426.7 216.0 428.7 215.9 431.2 215.6C433.7 215.3 436.7 214.9 439.2 214.8C441.7 214.7 444.4 214.5 446.2 214.8C448.0 215.1 448.8 215.5 450.2 216.4C451.6 217.3 453.8 219.4 454.5 220.0L454.5 251.0L416.2 251.0z" fill="url(#g33)" opacity="1" filter="url(#f50)"/>
<path d="M416.2 191.0C417.4 190.7 420.7 189.9 423.2 189.4C425.7 188.9 428.4 188.5 431.2 188.2C434.0 187.9 437.7 187.7 440.2 187.6C442.7 187.5 444.4 187.5 446.2 187.7C448.0 187.9 449.8 188.3 451.2 188.8C452.6 189.3 453.9 190.3 454.5 190.6" fill="none" stroke="#fff" stroke-width="1.7" stroke-dasharray="5.6 3.2"/>
<path d="M416.2 217.8C417.5 217.6 421.7 216.8 424.2 216.4C426.7 216.0 428.7 215.9 431.2 215.6C433.7 215.3 436.7 214.9 439.2 214.8C441.7 214.7 444.4 214.5 446.2 214.8C448.0 215.1 448.8 215.5 450.2 216.4C451.6 217.3 453.8 219.4 454.5 220.0" fill="none" stroke="#fff" stroke-width="1.7" stroke-dasharray="5.6 3.2"/>
</g>
<line x1="79.90" y1="725.80" x2="79.90" y2="510.00" stroke="#000" stroke-width="1.3"/>
<path d="M79.9 502.4L75.7 511.2H84.1z" fill="#000"/>
<line x1="79.30" y1="725.30" x2="652.00" y2="725.30" stroke="#000" stroke-width="1.3"/>
<path d="M660.4 725.6L650 721.6V729.6z" fill="#000"/>
<text x="90.00" y="520.60" font-size="10.3" text-anchor="start" font-weight="normal" fill="#000">Layer Thickness</text>
<text x="585.40" y="718.00" font-size="10" text-anchor="start" font-weight="normal" fill="#000">Days in culture</text>
<rect x="66.60" y="534.00" width="5.00" height="83.60" fill="#d9d2ea"/>
<rect x="67.40" y="632.60" width="5.40" height="84.20" fill="#a6e3fb"/>
<text x="55.00" y="573.50" font-size="10" text-anchor="middle" font-weight="normal" fill="#000" transform="rotate(-90 55.00 573.50)">MACM</text>
<text x="55.80" y="672.80" font-size="10" text-anchor="middle" font-weight="normal" fill="#000" transform="rotate(-90 55.80 672.80)">CTR</text>
<rect x="84.10" y="700.60" width="38.60" height="2.20" fill="#000"/>
<text x="87.80" y="718.20" font-size="10" text-anchor="start" font-weight="normal" fill="#000">100µm</text>
<text x="87.80" y="550.00" font-size="10" text-anchor="start" font-weight="normal" fill="#000">Day30</text>
<text x="130.60" y="550.00" font-size="10" text-anchor="start" font-weight="normal" fill="#12ea12">CTIP2</text>
<text x="175.60" y="550.00" font-size="10" text-anchor="start" font-weight="normal" fill="#f61212">TBR1</text>
<text x="218.40" y="550.00" font-size="10" text-anchor="start" font-weight="normal" fill="#2222f6">DAPI</text>
<text x="273.00" y="531.20" font-size="10" text-anchor="start" font-weight="normal" fill="#000">Day60</text>
<text x="315.40" y="531.20" font-size="10" text-anchor="start" font-weight="normal" fill="#12ea12">CTIP2</text>
<text x="360.00" y="531.20" font-size="10" text-anchor="start" font-weight="normal" fill="#f61212">TBR1</text>
<text x="403.40" y="531.20" font-size="10" text-anchor="start" font-weight="normal" fill="#2222f6">DAPI</text>
<text x="455.00" y="494.00" font-size="10" text-anchor="start" font-weight="normal" fill="#000">Day90</text>
<text x="497.60" y="494.00" font-size="10" text-anchor="start" font-weight="normal" fill="#12ea12">CTIP2</text>
<text x="541.60" y="494.00" font-size="10" text-anchor="start" font-weight="normal" fill="#f61212">TBR1</text>
<text x="585.60" y="494.00" font-size="10" text-anchor="start" font-weight="normal" fill="#2222f6">DAPI</text>
<g clip-path="url(#c17)" style="isolation:isolate">
<rect x="85.90" y="559.80" width="38.30" height="38.00" fill="#000"/>
<path d="M85.9 568.4C86.9 568.3 89.6 567.6 91.9 567.6C94.2 567.6 97.2 568.7 99.9 568.6C102.6 568.5 105.2 567.3 107.9 567.2C110.6 567.1 113.2 568.0 115.9 568.0C118.6 568.0 122.8 567.5 124.2 567.4L124.2 597.8L85.9 597.8z" fill="#6a34b0" opacity="1"/>
<path d="M85.9 568.4C86.9 568.3 89.6 567.6 91.9 567.6C94.2 567.6 97.2 568.7 99.9 568.6C102.6 568.5 105.2 567.3 107.9 567.2C110.6 567.1 113.2 568.0 115.9 568.0C118.6 568.0 122.8 567.5 124.2 567.4L124.2 597.8L85.9 597.8z" fill="#2020d0" opacity="1" filter="url(#f51)"/>
<path d="M85.9 568.4C86.9 568.3 89.6 567.6 91.9 567.6C94.2 567.6 97.2 568.7 99.9 568.6C102.6 568.5 105.2 567.3 107.9 567.2C110.6 567.1 113.2 568.0 115.9 568.0C118.6 568.0 122.8 567.5 124.2 567.4L124.2 597.8L85.9 597.8z" fill="#e060d0" opacity="1" filter="url(#f52)"/>
<path d="M85.9 568.4C86.9 568.3 89.6 567.6 91.9 567.6C94.2 567.6 97.2 568.7 99.9 568.6C102.6 568.5 105.2 567.3 107.9 567.2C110.6 567.1 113.2 568.0 115.9 568.0C118.6 568.0 122.8 567.5 124.2 567.4L124.2 597.8L85.9 597.8z" fill="#70f0a0" opacity="1" filter="url(#f53)"/>
<path d="M85.9 568.4C86.9 568.3 89.6 567.6 91.9 567.6C94.2 567.6 97.2 568.7 99.9 568.6C102.6 568.5 105.2 567.3 107.9 567.2C110.6 567.1 113.2 568.0 115.9 568.0C118.6 568.0 122.8 567.5 124.2 567.4L124.2 597.8L85.9 597.8z" fill="#fff4fa" opacity="1" filter="url(#f54)"/>
<path d="M85.9 568.4C86.9 568.3 89.6 567.6 91.9 567.6C94.2 567.6 97.2 568.7 99.9 568.6C102.6 568.5 105.2 567.3 107.9 567.2C110.6 567.1 113.2 568.0 115.9 568.0C118.6 568.0 122.8 567.5 124.2 567.4L124.2 597.8L85.9 597.8z" fill="url(#g34)" opacity="1"/>
</g>
<g clip-path="url(#c18)" style="isolation:isolate">
<rect x="127.90" y="559.80" width="38.30" height="38.00" fill="#000"/>
<path d="M127.9 568.4C128.9 568.3 131.6 567.6 133.9 567.6C136.2 567.6 139.2 568.7 141.9 568.6C144.6 568.5 147.2 567.3 149.9 567.2C152.6 567.1 155.2 568.0 157.9 568.0C160.6 568.0 164.8 567.5 166.2 567.4L166.2 597.8L127.9 597.8z" fill="#052805" opacity="1"/>
<path d="M127.9 568.4C128.9 568.3 131.6 567.6 133.9 567.6C136.2 567.6 139.2 568.7 141.9 568.6C144.6 568.5 147.2 567.3 149.9 567.2C152.6 567.1 155.2 568.0 157.9 568.0C160.6 568.0 164.8 567.5 166.2 567.4L166.2 597.8L127.9 597.8z" fill="url(#g35)" opacity="1" filter="url(#f55)"/>
</g>
<g clip-path="url(#c19)" style="isolation:isolate">
<rect x="169.80" y="559.80" width="38.30" height="38.00" fill="#000"/>
<path d="M169.8 568.4C170.8 568.3 173.5 567.6 175.8 567.6C178.1 567.6 181.1 568.7 183.8 568.6C186.5 568.5 189.1 567.3 191.8 567.2C194.5 567.1 197.1 568.0 199.8 568.0C202.5 568.0 206.7 567.5 208.1 567.4L208.1 597.8L169.8 597.8z" fill="#700606" opacity="1"/>
<path d="M169.8 568.4C170.8 568.3 173.5 567.6 175.8 567.6C178.1 567.6 181.1 568.7 183.8 568.6C186.5 568.5 189.1 567.3 191.8 567.2C194.5 567.1 197.1 568.0 199.8 568.0C202.5 568.0 206.7 567.5 208.1 567.4L208.1 597.8L169.8 597.8z" fill="#ff1818" opacity="1" filter="url(#f56)"/>
<path d="M169.8 568.4C170.8 568.3 173.5 567.6 175.8 567.6C178.1 567.6 181.1 568.7 183.8 568.6C186.5 568.5 189.1 567.3 191.8 567.2C194.5 567.1 197.1 568.0 199.8 568.0C202.5 568.0 206.7 567.5 208.1 567.4L208.1 597.8L169.8 597.8z" fill="url(#g36)" opacity="1"/>
</g>
<g clip-path="url(#c20)" style="isolation:isolate">
<rect x="211.70" y="559.80" width="38.30" height="38.00" fill="#000"/>
<path d="M211.7 568.4C212.7 568.3 215.4 567.6 217.7 567.6C220.0 567.6 223.0 568.7 225.7 568.6C228.4 568.5 231.0 567.3 233.7 567.2C236.4 567.1 239.0 568.0 241.7 568.0C244.4 568.0 248.6 567.5 250.0 567.4L250.0 597.8L211.7 597.8z" fill="#040470" opacity="1"/>
<path d="M211.7 568.4C212.7 568.3 215.4 567.6 217.7 567.6C220.0 567.6 223.0 568.7 225.7 568.6C228.4 568.5 231.0 567.3 233.7 567.2C236.4 567.1 239.0 568.0 241.7 568.0C244.4 568.0 248.6 567.5 250.0 567.4L250.0 597.8L211.7 597.8z" fill="url(#g37)" opacity="1" filter="url(#f57)"/>
</g>
<g clip-path="url(#c21)" style="isolation:isolate">
<rect x="84.90" y="659.30" width="38.30" height="38.40" fill="#000"/>
<path d="M84.9 663.6C85.9 663.4 88.6 662.4 90.9 662.4C93.2 662.4 95.9 663.4 98.9 663.4C101.9 663.4 104.9 662.3 108.9 662.2C113.0 662.1 120.8 662.7 123.2 662.8L123.2 697.7L84.9 697.7z" fill="#030328" opacity="1"/>
<path d="M84.9 663.6C85.9 663.4 88.6 662.4 90.9 662.4C93.2 662.4 95.9 663.4 98.9 663.4C101.9 663.4 104.9 662.3 108.9 662.2C113.0 662.1 120.8 662.7 123.2 662.8L123.2 697.7L84.9 697.7z" fill="#1616b8" opacity="1" filter="url(#f58)"/>
<path d="M84.9 663.6C85.9 663.4 88.6 662.4 90.9 662.4C93.2 662.4 95.9 663.4 98.9 663.4C101.9 663.4 104.9 662.3 108.9 662.2C113.0 662.1 120.8 662.7 123.2 662.8L123.2 697.7L84.9 697.7z" fill="url(#g38)" opacity="1" filter="url(#f59)"/>
<use href="#k1" x="84.9" fill="#40f060" opacity="1" filter="url(#soft)"/>
</g>
<g clip-path="url(#c22)" style="isolation:isolate">
<rect x="126.80" y="659.30" width="38.30" height="38.40" fill="#000"/>
<path d="M126.8 663.6C127.8 663.4 130.5 662.4 132.8 662.4C135.1 662.4 137.8 663.4 140.8 663.4C143.8 663.4 146.8 662.3 150.8 662.2C154.9 662.1 162.7 662.7 165.1 662.8L165.1 697.7L126.8 697.7z" fill="#021002" opacity="1"/>
<path d="M126.8 663.6C127.8 663.4 130.5 662.4 132.8 662.4C135.1 662.4 137.8 663.4 140.8 663.4C143.8 663.4 146.8 662.3 150.8 662.2C154.9 662.1 162.7 662.7 165.1 662.8L165.1 697.7L126.8 697.7z" fill="#0c600c" opacity="1" filter="url(#f60)"/>
<use href="#k1" x="126.8" fill="#2cf02c" opacity="1" filter="url(#soft)"/>
</g>
<g clip-path="url(#c23)" style="isolation:isolate">
<rect x="168.60" y="659.30" width="38.30" height="38.40" fill="#000"/>
<path d="M168.6 663.6C169.6 663.4 172.3 662.4 174.6 662.4C176.9 662.4 179.6 663.4 182.6 663.4C185.6 663.4 188.6 662.3 192.6 662.2C196.6 662.1 204.5 662.7 206.9 662.8L206.9 697.7L168.6 697.7z" fill="url(#g39)" opacity="1"/>
<path d="M168.6 663.6C169.6 663.4 172.3 662.4 174.6 662.4C176.9 662.4 179.6 663.4 182.6 663.4C185.6 663.4 188.6 662.3 192.6 662.2C196.6 662.1 204.5 662.7 206.9 662.8L206.9 697.7L168.6 697.7z" fill="url(#g40)" opacity="1" filter="url(#f61)"/>
</g>
<g clip-path="url(#c24)" style="isolation:isolate">
<rect x="210.30" y="659.30" width="38.30" height="38.40" fill="#000"/>
<path d="M210.3 663.6C211.3 663.4 214.0 662.4 216.3 662.4C218.6 662.4 221.3 663.4 224.3 663.4C227.3 663.4 230.2 662.3 234.3 662.2C238.4 662.1 246.2 662.7 248.6 662.8L248.6 697.7L210.3 697.7z" fill="#020240" opacity="1"/>
<path d="M210.3 663.6C211.3 663.4 214.0 662.4 216.3 662.4C218.6 662.4 221.3 663.4 224.3 663.4C227.3 663.4 230.2 662.3 234.3 662.2C238.4 662.1 246.2 662.7 248.6 662.8L248.6 697.7L210.3 697.7z" fill="#0808a8" opacity="1" filter="url(#f58)"/>
</g>
<g clip-path="url(#c25)" style="isolation:isolate">
<rect x="270.20" y="540.10" width="38.80" height="57.80" fill="#000"/>
<path d="M270.2 540.5L309.0 540.5L309.0 597.9L270.2 597.9z" fill="url(#g41)" opacity="1"/>
<path d="M270.2 540.5L309.0 540.5L309.0 597.9L270.2 597.9z" fill="url(#g42)" opacity="1" filter="url(#f62)"/>
<use href="#k2" x="270.2" fill="#38c848" opacity="0.75" filter="url(#soft)"/>
<use href="#k3" x="270.2" fill="#ffd840" opacity="1" filter="url(#soft)"/>
<use href="#k4" x="270.2" fill="#ff8890" opacity="0.9" filter="url(#soft)"/>
</g>
<g clip-path="url(#c26)" style="isolation:isolate">
<rect x="312.00" y="540.10" width="38.80" height="57.80" fill="#000"/>
<path d="M312.0 540.5L350.8 540.5L350.8 597.9L312.0 597.9z" fill="url(#g43)" opacity="1"/>
<path d="M312.0 540.5L350.8 540.5L350.8 597.9L312.0 597.9z" fill="url(#g44)" opacity="1" filter="url(#f63)"/>
<use href="#k2" x="312.0" fill="#28f028" opacity="1" filter="url(#soft)"/>
<path d="M312.0 540.5L350.8 540.5L350.8 597.9L312.0 597.9z" fill="url(#g45)" opacity="1"/>
</g>
<g clip-path="url(#c27)" style="isolation:isolate">
<rect x="354.00" y="540.10" width="38.80" height="57.80" fill="#000"/>
<use href="#k3" x="354.0" fill="#ff1a1a" opacity="1" filter="url(#soft)"/>
</g>
<g clip-path="url(#c28)" style="isolation:isolate">
<rect x="395.80" y="540.10" width="38.80" height="57.80" fill="#000"/>
<path d="M395.8 540.5L434.6 540.5L434.6 597.9L395.8 597.9z" fill="url(#g46)" opacity="1"/>
<path d="M395.8 540.5L434.6 540.5L434.6 597.9L395.8 597.9z" fill="url(#g47)" opacity="1" filter="url(#f64)"/>
</g>
<g clip-path="url(#c29)" style="isolation:isolate">
<rect x="270.20" y="639.30" width="38.40" height="58.40" fill="#000"/>
<path d="M270.2 663.5C271.0 663.3 273.2 662.2 275.2 662.4C277.2 662.6 279.4 663.7 282.2 664.5C285.0 665.3 289.2 666.4 292.2 667.0C295.2 667.6 298.0 668.1 300.2 668.0C302.4 667.9 303.8 666.6 305.2 666.4C306.6 666.2 308.0 666.6 308.6 666.6L308.6 697.7L270.2 697.7z" fill="#040448" opacity="1"/>
<path d="M270.2 663.5C271.0 663.3 273.2 662.2 275.2 662.4C277.2 662.6 279.4 663.7 282.2 664.5C285.0 665.3 289.2 666.4 292.2 667.0C295.2 667.6 298.0 668.1 300.2 668.0C302.4 667.9 303.8 666.6 305.2 666.4C306.6 666.2 308.0 666.6 308.6 666.6L308.6 697.7L270.2 697.7z" fill="#1818f0" opacity="1" filter="url(#f65)"/>
<path d="M270.2 663.5C271.0 663.3 273.2 662.2 275.2 662.4C277.2 662.6 279.4 663.7 282.2 664.5C285.0 665.3 289.2 666.4 292.2 667.0C295.2 667.6 298.0 668.1 300.2 668.0C302.4 667.9 303.8 666.6 305.2 666.4C306.6 666.2 308.0 666.6 308.6 666.6L308.6 697.7L270.2 697.7z" fill="#000" opacity="0.8" filter="url(#f66)"/>
<use href="#k5" x="270.2" fill="#50d860" opacity="0.8" filter="url(#soft)"/>
<use href="#k6" x="270.2" fill="#fff0a0" opacity="1" filter="url(#soft)"/>
<use href="#k7" x="270.2" fill="#ffa0c8" opacity="0.9" filter="url(#soft)"/>
</g>
<g clip-path="url(#c30)" style="isolation:isolate">
<rect x="312.00" y="639.30" width="38.40" height="58.40" fill="#000"/>
<path d="M312.0 663.5C312.8 663.3 315.0 662.2 317.0 662.4C319.0 662.6 321.2 663.7 324.0 664.5C326.8 665.3 331.0 666.4 334.0 667.0C337.0 667.6 339.8 668.1 342.0 668.0C344.2 667.9 345.6 666.6 347.0 666.4C348.4 666.2 349.8 666.6 350.4 666.6L350.4 697.7L312.0 697.7z" fill="#031c03" opacity="1"/>
<path d="M312.0 663.5C312.8 663.3 315.0 662.2 317.0 662.4C319.0 662.6 321.2 663.7 324.0 664.5C326.8 665.3 331.0 666.4 334.0 667.0C337.0 667.6 339.8 668.1 342.0 668.0C344.2 667.9 345.6 666.6 347.0 666.4C348.4 666.2 349.8 666.6 350.4 666.6L350.4 697.7L312.0 697.7z" fill="#149414" opacity="1" filter="url(#f67)"/>
<use href="#k5" x="312.0" fill="#28f028" opacity="1" filter="url(#soft)"/>
</g>
<g clip-path="url(#c31)" style="isolation:isolate">
<rect x="354.00" y="639.30" width="38.40" height="58.40" fill="#000"/>
<path d="M354.0 663.5C354.8 663.3 357.0 662.2 359.0 662.4C361.0 662.6 363.2 663.7 366.0 664.5C368.8 665.3 373.0 666.4 376.0 667.0C379.0 667.6 381.8 668.1 384.0 668.0C386.2 667.9 387.6 666.6 389.0 666.4C390.4 666.2 391.8 666.6 392.4 666.6L392.4 697.7L354.0 697.7z" fill="url(#g48)" opacity="1"/>
<use href="#k6" x="354.0" fill="#ff1a1a" opacity="1" filter="url(#soft)"/>
</g>
<g clip-path="url(#c32)" style="isolation:isolate">
<rect x="395.80" y="639.30" width="38.40" height="58.40" fill="#000"/>
<path d="M395.8 663.5C396.6 663.3 398.8 662.2 400.8 662.4C402.8 662.6 405.0 663.7 407.8 664.5C410.6 665.3 414.8 666.4 417.8 667.0C420.8 667.6 423.6 668.1 425.8 668.0C428.0 667.9 429.4 666.6 430.8 666.4C432.2 666.2 433.6 666.6 434.2 666.6L434.2 697.7L395.8 697.7z" fill="#03035c" opacity="1"/>
<path d="M395.8 663.5C396.6 663.3 398.8 662.2 400.8 662.4C402.8 662.6 405.0 663.7 407.8 664.5C410.6 665.3 414.8 666.4 417.8 667.0C420.8 667.6 423.6 668.1 425.8 668.0C428.0 667.9 429.4 666.6 430.8 666.4C432.2 666.2 433.6 666.6 434.2 666.6L434.2 697.7L395.8 697.7z" fill="#1414f4" opacity="1" filter="url(#f65)"/>
<path d="M395.8 663.5C396.6 663.3 398.8 662.2 400.8 662.4C402.8 662.6 405.0 663.7 407.8 664.5C410.6 665.3 414.8 666.4 417.8 667.0C420.8 667.6 423.6 668.1 425.8 668.0C428.0 667.9 429.4 666.6 430.8 666.4C432.2 666.2 433.6 666.6 434.2 666.6L434.2 697.7L395.8 697.7z" fill="#000" opacity="0.75" filter="url(#f68)"/>
</g>
<g clip-path="url(#c33)" style="isolation:isolate">
<rect x="452.80" y="501.80" width="38.20" height="95.70" fill="#000"/>
<path d="M452.8 502.2L491.0 502.2L491.0 597.5L452.8 597.5z" fill="url(#g49)" opacity="1"/>
<path d="M452.8 502.2L491.0 502.2L491.0 597.5L452.8 597.5z" fill="url(#g50)" opacity="1" filter="url(#f69)"/>
<use href="#k8" x="452.8" fill="#34d850" opacity="0.9" filter="url(#soft)"/>
<use href="#k9" x="452.8" fill="#e8f060" opacity="1" filter="url(#soft)"/>
<use href="#k10" x="452.8" fill="#ffa860" opacity="0.9" filter="url(#soft)"/>
</g>
<g clip-path="url(#c34)" style="isolation:isolate">
<rect x="494.60" y="501.80" width="38.20" height="95.70" fill="#000"/>
<path d="M494.6 502.2L532.8 502.2L532.8 597.5L494.6 597.5z" fill="url(#g51)" opacity="1"/>
<use href="#k8" x="494.6" fill="#28f028" opacity="1" filter="url(#soft)"/>
</g>
<g clip-path="url(#c35)" style="isolation:isolate">
<rect x="536.40" y="501.80" width="38.20" height="95.70" fill="#000"/>
<use href="#k9" x="536.4" fill="#ff1a1a" opacity="1" filter="url(#soft)"/>
</g>
<g clip-path="url(#c36)" style="isolation:isolate">
<rect x="578.70" y="501.80" width="38.20" height="95.70" fill="#000"/>
<path d="M578.7 502.2L616.9 502.2L616.9 597.5L578.7 597.5z" fill="url(#g52)" opacity="1"/>
<path d="M578.7 502.2L616.9 502.2L616.9 597.5L578.7 597.5z" fill="url(#g53)" opacity="1" filter="url(#f70)"/>
</g>
<g clip-path="url(#c37)" style="isolation:isolate">
<rect x="452.80" y="601.10" width="38.20" height="96.60" fill="#000"/>
<path d="M452.8 632.0C453.8 631.4 456.8 630.5 458.8 628.5C460.8 626.5 463.1 622.7 464.8 620.0C466.5 617.3 467.3 614.4 468.8 612.5C470.3 610.6 471.6 609.3 473.8 608.5C476.0 607.7 478.9 607.8 481.8 607.5C484.7 607.2 489.5 607.1 491.0 607.0L491.0 697.7L452.8 697.7z" fill="#020254" opacity="1"/>
<path d="M452.8 632.0C453.8 631.4 456.8 630.5 458.8 628.5C460.8 626.5 463.1 622.7 464.8 620.0C466.5 617.3 467.3 614.4 468.8 612.5C470.3 610.6 471.6 609.3 473.8 608.5C476.0 607.7 478.9 607.8 481.8 607.5C484.7 607.2 489.5 607.1 491.0 607.0L491.0 697.7L452.8 697.7z" fill="#1010d8" opacity="1" filter="url(#f71)"/>
<use href="#k11" x="452.8" fill="#38d860" opacity="0.9" filter="url(#soft)"/>
<use href="#k12" x="452.8" fill="#f8e870" opacity="1" filter="url(#soft)"/>
<use href="#k13" x="452.8" fill="#fff0f0" opacity="0.9" filter="url(#soft)"/>
</g>
<g clip-path="url(#c38)" style="isolation:isolate">
<rect x="494.60" y="601.10" width="38.20" height="96.60" fill="#000"/>
<path d="M494.6 601.1h38.2v96.6h-38.2z" fill="url(#g54)" opacity="1"/>
<use href="#k11" x="494.6" fill="#28f028" opacity="1" filter="url(#soft)"/>
</g>
<g clip-path="url(#c39)" style="isolation:isolate">
<rect x="536.40" y="601.10" width="38.20" height="96.60" fill="#000"/>
<use href="#k12" x="536.4" fill="#ff1a1a" opacity="1" filter="url(#soft)"/>
</g>
<g clip-path="url(#c40)" style="isolation:isolate">
<rect x="578.70" y="601.10" width="38.20" height="96.60" fill="#000"/>
<path d="M578.7 632.0C579.7 631.4 582.7 630.5 584.7 628.5C586.7 626.5 589.0 622.7 590.7 620.0C592.4 617.3 593.2 614.4 594.7 612.5C596.2 610.6 597.5 609.3 599.7 608.5C601.9 607.7 604.8 607.8 607.7 607.5C610.6 607.2 615.4 607.1 616.9 607.0L616.9 697.7L578.7 697.7z" fill="#020258" opacity="1"/>
<path d="M578.7 632.0C579.7 631.4 582.7 630.5 584.7 628.5C586.7 626.5 589.0 622.7 590.7 620.0C592.4 617.3 593.2 614.4 594.7 612.5C596.2 610.6 597.5 609.3 599.7 608.5C601.9 607.7 604.8 607.8 607.7 607.5C610.6 607.2 615.4 607.1 616.9 607.0L616.9 697.7L578.7 697.7z" fill="#0a0ac4" opacity="1" filter="url(#f72)"/>
</g>
<path d="M41.3 82.3L29.7 91.3L48.1 96.8z" fill="#f1d9f1" stroke="#f1d9f1" stroke-width="23.0" stroke-linejoin="round" filter="url(#ob)"/>
<path d="M46.9 82.4h0M46.2 85.4h0M44.1 87.3h0M40.9 87.8h0M37.9 86.8h0M36.3 84.4h0M35.8 81.4h0M36.8 78.7h0M39.3 77.2h0M42.3 77.0h0M45.3 78.1h0M46.6 80.6h0M35.1 91.3h0M34.5 94.3h0M32.2 96.3h0M29.3 97.0h0M26.7 96.1h0M24.4 93.7h0M24.2 90.6h0M25.5 87.8h0M27.9 86.1h0M30.7 85.7h0M33.4 87.3h0M35.1 89.7h0M53.5 96.9h0M52.8 99.8h0M50.7 101.8h0M47.6 102.4h0M44.8 101.5h0M42.8 99.1h0M42.6 95.9h0M43.8 93.4h0M46.1 91.7h0M49.2 91.2h0M51.8 92.7h0M53.5 95.4h0M54.6 88.9h0M51.6 83.6h0M56.9 91.4h0M38.7 91.0h0M33.1 100.9h0M58.3 96.2h0M43.2 73.4h0M53.6 104.8h0M51.7 105.7h0M49.8 76.8h0M20.0 92.8h0M32.0 82.3h0M50.2 79.9h0M54.8 104.1h0M32.2 77.2h0M48.3 76.5h0" stroke="#e0609c" stroke-width="0.85" stroke-linecap="round" fill="none" opacity="0.7"/>
<path d="M46.8 84.0h0M44.9 86.4h0M42.6 87.6h0M39.4 87.6h0M36.9 86.0h0M35.9 82.9h0M36.0 80.2h0M38.3 77.9h0M40.9 76.8h0M44.0 77.5h0M46.0 79.3h0M35.0 92.9h0M33.6 95.5h0M30.9 96.9h0M28.0 96.7h0M25.4 94.8h0M24.3 92.1h0M24.7 88.9h0M26.5 86.7h0M29.4 85.8h0M32.3 86.4h0M34.5 88.2h0M53.6 98.3h0M52.1 100.7h0M49.2 102.2h0M46.3 101.9h0M43.9 100.4h0M42.7 97.8h0M43.1 94.5h0M45.0 92.1h0M47.6 91.3h0M50.7 91.6h0M52.7 93.7h0M27.2 81.2h0M38.7 93.4h0M42.0 103.3h0M40.8 72.0h0M24.2 99.8h0M49.8 78.4h0M26.3 101.2h0M43.1 105.1h0M50.1 88.0h0M56.5 93.0h0M57.8 100.0h0M20.0 91.0h0M48.6 87.6h0M48.5 106.2h0M36.6 73.1h0M56.9 94.2h0" stroke="#f0a058" stroke-width="0.85" stroke-linecap="round" fill="none" opacity="0.7"/>
<path d="M48.1 83.1h0M47.1 85.9h0M44.9 88.1h0M42.3 89.0h0M38.8 88.9h0M36.2 87.0h0M34.7 84.7h0M34.4 81.5h0M35.3 78.7h0M37.4 76.6h0M40.6 75.6h0M43.6 75.7h0M46.0 77.3h0M47.7 79.8h0M36.4 91.9h0M35.4 94.8h0M33.4 97.2h0M30.3 98.1h0M27.3 97.9h0M24.9 96.0h0M23.2 93.8h0M23.0 90.6h0M23.9 87.7h0M26.1 85.4h0M28.8 84.5h0M32.0 84.9h0M34.5 86.3h0M36.4 89.2h0M55.1 97.4h0M54.0 100.5h0M51.6 102.7h0M48.9 103.8h0M45.7 103.3h0M43.2 101.5h0M41.7 99.0h0M41.1 96.1h0M42.3 93.0h0M44.4 91.1h0M47.1 89.8h0M50.3 90.1h0M53.1 91.8h0M54.5 94.5h0M47.3 74.6h0M38.3 73.2h0M29.4 100.3h0M32.4 78.7h0M25.3 83.5h0M49.8 86.4h0M40.7 103.7h0M39.6 72.7h0M36.4 98.4h0M32.9 99.6h0M21.1 97.3h0M22.8 84.0h0M41.6 105.0h0M41.9 73.2h0M57.2 97.2h0" stroke="#c878d0" stroke-width="0.85" stroke-linecap="round" fill="none" opacity="0.7"/>
<path d="M47.6 84.7h0M46.3 87.2h0M43.7 88.6h0M40.6 89.3h0M37.6 88.2h0M35.3 86.2h0M34.6 83.2h0M34.8 80.1h0M36.5 77.6h0M38.9 75.7h0M42.0 75.6h0M44.9 76.3h0M47.2 78.8h0M48.4 81.5h0M36.1 93.5h0M34.6 96.1h0M31.9 98.0h0M28.8 98.1h0M26.0 97.0h0M23.9 94.9h0M23.0 92.0h0M23.1 88.9h0M25.0 86.6h0M27.6 84.6h0M30.5 84.3h0M33.3 85.4h0M35.7 87.6h0M36.6 90.4h0M54.6 99.0h0M53.2 101.6h0M50.2 103.4h0M47.3 103.7h0M44.3 102.7h0M42.2 100.4h0M41.3 97.6h0M41.4 94.4h0M43.4 91.9h0M45.6 90.4h0M49.1 90.0h0M52.0 91.0h0M54.0 93.1h0M55.0 96.0h0M36.5 74.4h0M50.1 106.9h0M54.9 90.8h0M40.3 101.2h0M30.7 81.8h0M38.8 99.7h0M57.3 98.8h0M30.2 101.3h0M49.3 75.7h0M21.0 94.0h0M55.1 102.6h0M32.0 81.1h0M25.6 81.9h0M34.5 75.9h0M39.2 98.3h0" stroke="#e888b0" stroke-width="0.85" stroke-linecap="round" fill="none" opacity="0.7"/>
<path d="M49.5 82.2h0M48.9 85.2h0M47.2 87.8h0M42.1 90.6h0M38.9 90.3h0M33.4 83.9h0M33.2 80.9h0M34.3 77.8h0M36.5 75.8h0M38.9 74.3h0M42.0 74.2h0M45.0 75.1h0M47.3 76.8h0M48.9 79.5h0M38.1 91.3h0M37.5 94.3h0M35.6 96.9h0M33.5 98.8h0M30.4 99.6h0M27.4 99.0h0M24.8 97.8h0M22.8 95.5h0M21.7 92.7h0M21.6 89.7h0M22.5 86.9h0M24.9 84.8h0M27.4 83.4h0M30.4 83.3h0M33.5 83.8h0M56.3 96.7h0M55.9 99.7h0M54.2 102.4h0M51.6 104.0h0M49.0 105.0h0M45.8 104.8h0M43.1 103.2h0M41.1 101.1h0M39.9 98.2h0M39.9 95.3h0M41.1 92.7h0M43.1 90.4h0M45.7 89.0h0M48.9 88.5h0M51.6 89.3h0M54.1 91.2h0M55.8 93.9h0M21.4 87.3h0M33.5 76.7h0M22.5 97.7h0M52.0 87.5h0M28.1 82.4h0M56.6 101.2h0M37.8 97.9h0M22.9 99.0h0M50.1 85.0h0M37.6 96.4h0M31.8 79.8h0M44.4 106.5h0M38.6 95.5h0M28.3 101.2h0M35.2 100.1h0M58.5 97.7h0M34.2 74.7h0M42.8 71.9h0M53.1 89.0h0M39.1 102.1h0M28.6 80.9h0M44.9 105.3h0M24.3 98.5h0" stroke="#a8a0d8" stroke-width="0.85" stroke-linecap="round" fill="none" opacity="0.7"/>
<path d="M49.4 83.9h0M48.1 86.8h0M46.4 88.7h0M43.6 90.4h0M40.4 90.4h0M37.6 89.6h0M33.3 82.3h0M33.6 79.3h0M35.2 77.0h0M37.6 74.9h0M40.7 74.3h0M43.7 74.5h0M46.2 75.8h0M48.4 78.1h0M49.4 80.8h0M37.7 92.7h0M36.6 95.6h0M34.6 97.8h0M31.7 99.2h0M29.1 99.4h0M26.2 98.6h0M23.7 96.9h0M22.2 94.2h0M21.4 91.3h0M22.2 88.4h0M23.6 85.9h0M25.9 84.1h0M29.0 83.2h0M31.9 83.4h0M37.7 89.9h0M56.3 98.4h0M55.2 101.1h0M53.1 103.3h0M50.2 104.5h0M47.4 104.8h0M44.5 104.1h0M41.9 102.2h0M40.6 99.6h0M39.8 96.7h0M40.3 94.0h0M42.1 91.3h0M47.3 88.7h0M50.2 88.7h0M53.0 90.4h0M55.1 92.4h0M56.0 95.2h0M58.2 94.1h0M39.8 92.0h0M46.4 106.1h0M44.8 73.9h0M21.3 95.8h0M57.3 95.5h0M20.9 88.6h0M23.8 83.2h0M51.2 81.9h0M21.8 85.0h0M34.5 98.9h0M40.4 102.5h0M51.3 79.2h0M26.6 99.8h0M31.5 100.9h0" stroke="#f0b078" stroke-width="0.85" stroke-linecap="round" fill="none" opacity="0.7"/>
<circle cx="41.3" cy="82.3" r="4.6" fill="url(#lg5)"/>
<circle cx="29.7" cy="91.3" r="4.6" fill="url(#lg5)"/>
<circle cx="48.1" cy="96.8" r="4.6" fill="url(#lg5)"/>
<path d="M42.5 207.2L30.8 216.4L49.7 221.6z" fill="#d2e6f5" stroke="#d2e6f5" stroke-width="23.0" stroke-linejoin="round" filter="url(#ob)"/>
<path d="M48.2 207.3h0M47.1 210.2h0M45.0 212.3h0M42.2 212.8h0M39.1 211.8h0M37.5 209.5h0M36.8 206.6h0M38.0 203.5h0M40.8 202.0h0M43.6 201.9h0M46.4 203.2h0M47.7 205.6h0M36.2 216.4h0M35.7 219.3h0M33.2 221.5h0M30.5 222.0h0M27.4 221.1h0M25.8 218.5h0M25.4 215.6h0M26.3 213.0h0M28.7 211.0h0M32.1 211.0h0M34.6 212.1h0M36.2 214.9h0M55.4 221.6h0M54.5 224.4h0M52.4 226.6h0M49.3 227.3h0M46.6 226.3h0M44.5 223.7h0M44.1 220.6h0M45.4 218.2h0M47.8 216.2h0M50.8 216.3h0M53.5 217.5h0M55.1 220.2h0M41.3 198.2h0M21.7 212.3h0M51.9 231.8h0M43.5 229.3h0M58.8 225.8h0M38.0 199.0h0M54.4 229.7h0M20.4 217.2h0M22.9 222.5h0M49.4 201.6h0M29.3 226.1h0M20.4 215.4h0M30.3 207.4h0M45.3 198.6h0M33.6 205.6h0" stroke="#d070b0" stroke-width="0.85" stroke-linecap="round" fill="none" opacity="0.7"/>
<path d="M47.9 208.6h0M46.3 211.4h0M43.5 212.8h0M40.6 212.5h0M38.3 210.6h0M37.1 207.9h0M37.5 204.9h0M39.3 202.5h0M42.0 201.7h0M45.2 202.2h0M47.4 204.5h0M36.4 218.1h0M34.7 220.6h0M32.1 221.9h0M28.8 221.8h0M26.6 219.8h0M25.4 217.1h0M25.8 214.0h0M27.6 211.8h0M30.4 210.6h0M33.6 211.5h0M35.7 213.3h0M55.3 223.2h0M53.6 225.7h0M50.9 227.2h0M48.0 226.7h0M45.5 225.1h0M44.1 222.5h0M44.5 219.2h0M46.6 216.9h0M49.5 216.1h0M52.3 216.7h0M54.7 218.8h0M51.0 230.8h0M35.5 200.8h0M42.3 228.5h0M24.0 224.0h0M51.3 201.7h0M34.6 202.8h0M56.7 214.0h0M22.2 213.7h0M54.8 213.4h0M53.5 212.6h0M59.8 220.7h0M59.4 222.8h0M22.9 212.0h0M48.5 198.6h0M20.7 213.9h0M28.8 207.1h0M26.9 224.6h0M50.1 212.6h0M21.1 218.8h0M40.5 216.8h0M40.8 226.3h0M35.5 199.6h0M45.2 197.3h0M27.5 206.8h0" stroke="#e8a070" stroke-width="0.85" stroke-linecap="round" fill="none" opacity="0.7"/>
<path d="M49.4 207.9h0M48.5 210.9h0M46.1 212.9h0M43.2 214.2h0M40.3 213.5h0M37.7 212.0h0M35.8 209.7h0M35.7 206.4h0M36.8 203.7h0M38.8 201.5h0M41.7 200.4h0M44.9 200.6h0M47.2 202.1h0M49.0 204.8h0M37.7 217.0h0M36.5 220.1h0M34.3 222.3h0M31.5 223.3h0M28.4 222.8h0M26.0 221.3h0M24.2 218.7h0M24.0 215.7h0M25.1 212.7h0M27.0 210.6h0M29.8 209.6h0M32.9 209.8h0M35.8 211.4h0M37.2 214.1h0M56.6 222.5h0M55.4 225.3h0M53.4 227.3h0M50.3 228.6h0M47.4 228.0h0M44.7 226.4h0M43.3 223.9h0M42.8 220.9h0M44.0 218.0h0M45.8 215.9h0M48.9 214.6h0M51.9 215.1h0M54.5 216.9h0M56.2 219.3h0M50.8 211.3h0M58.8 219.7h0M32.3 205.7h0M52.0 207.7h0M52.9 206.0h0M48.7 200.4h0M40.6 221.3h0M56.7 215.6h0M27.2 226.2h0M56.9 228.0h0M25.8 208.7h0M45.2 229.4h0M21.9 216.0h0M27.3 208.2h0M50.4 202.6h0M55.4 214.6h0M47.5 199.6h0" stroke="#a080d8" stroke-width="0.85" stroke-linecap="round" fill="none" opacity="0.7"/>
<path d="M49.0 209.3h0M47.2 212.1h0M44.8 213.6h0M41.8 213.9h0M38.8 213.2h0M36.6 210.8h0M35.5 207.9h0M36.2 204.8h0M37.7 202.5h0M40.3 200.7h0M43.2 200.2h0M46.2 201.5h0M48.2 203.6h0M49.3 206.6h0M37.1 218.7h0M35.5 221.2h0M33.0 222.8h0M30.2 223.2h0M27.0 222.3h0M24.8 220.0h0M23.9 217.4h0M24.4 214.2h0M26.0 211.7h0M28.5 209.7h0M31.4 209.6h0M34.3 210.6h0M36.7 212.9h0M37.7 215.8h0M56.0 223.7h0M54.7 226.3h0M52.1 228.2h0M49.0 228.3h0M46.1 227.6h0M43.9 225.4h0M42.7 222.4h0M43.2 219.4h0M45.0 216.6h0M47.2 215.3h0M50.4 214.8h0M53.2 215.9h0M55.4 218.0h0M56.4 220.8h0M39.9 218.0h0M59.2 224.6h0M31.2 225.4h0M53.2 230.2h0M39.5 220.3h0M57.5 216.6h0M41.1 218.1h0M52.0 203.8h0M41.9 227.0h0M49.9 199.9h0M39.8 222.5h0M21.8 217.7h0M22.9 210.0h0M58.3 215.7h0" stroke="#80a0e0" stroke-width="0.85" stroke-linecap="round" fill="none" opacity="0.7"/>
<path d="M50.6 207.2h0M50.1 210.2h0M48.5 212.6h0M43.4 215.3h0M40.2 215.1h0M34.4 208.5h0M34.3 205.8h0M35.5 203.1h0M37.4 200.8h0M40.4 199.4h0M43.1 199.0h0M46.2 199.7h0M48.4 201.7h0M50.2 204.3h0M38.9 216.5h0M38.6 219.2h0M36.9 222.0h0M34.4 223.6h0M31.7 224.5h0M28.7 224.4h0M25.9 223.1h0M23.6 220.7h0M22.6 218.1h0M22.9 214.7h0M23.7 211.9h0M25.9 209.8h0M28.4 208.7h0M31.6 208.3h0M34.3 209.2h0M58.0 221.4h0M57.5 224.7h0M55.6 227.0h0M53.6 229.1h0M50.5 229.7h0M47.4 229.7h0M44.9 228.2h0M42.9 225.9h0M41.5 222.9h0M41.5 219.9h0M42.9 217.2h0M44.6 215.2h0M47.4 213.6h0M50.3 213.4h0M53.4 214.1h0M55.8 216.1h0M57.5 218.6h0M40.1 197.9h0M51.4 205.1h0M43.0 197.4h0M28.3 225.4h0M37.4 224.2h0M33.6 201.9h0M58.2 227.5h0M30.1 206.1h0M59.4 218.1h0M41.8 216.7h0M34.0 203.9h0M31.6 207.5h0M52.2 209.3h0M52.4 210.8h0M32.8 206.9h0M51.8 212.9h0M24.3 208.3h0M58.1 218.5h0M33.2 203.0h0" stroke="#d088c0" stroke-width="0.85" stroke-linecap="round" fill="none" opacity="0.7"/>
<path d="M50.7 208.8h0M49.5 211.4h0M47.6 213.7h0M44.8 215.3h0M41.8 215.3h0M39.0 214.7h0M34.3 207.0h0M34.7 204.3h0M36.6 201.5h0M38.9 199.8h0M41.7 199.0h0M44.6 199.4h0M47.5 200.5h0M49.5 203.0h0M50.4 205.8h0M38.7 217.8h0M37.9 220.8h0M35.8 222.9h0M33.2 224.4h0M30.1 224.5h0M27.3 223.8h0M24.6 222.0h0M23.0 219.5h0M22.8 216.4h0M23.0 213.2h0M24.9 210.7h0M27.0 209.0h0M30.0 208.3h0M33.0 208.4h0M38.7 214.9h0M57.7 222.9h0M56.7 225.9h0M54.7 228.3h0M51.9 229.4h0M49.0 229.9h0M46.1 228.8h0M43.7 226.9h0M42.1 224.4h0M41.4 221.5h0M42.1 218.7h0M43.7 216.1h0M48.8 213.6h0M52.0 213.7h0M54.6 215.1h0M56.6 217.3h0M57.8 220.2h0M45.2 230.8h0M35.3 225.3h0M37.5 223.0h0M46.8 198.5h0M56.4 229.3h0M24.2 209.6h0M40.0 224.9h0M41.0 223.9h0M25.5 223.8h0M21.5 220.1h0M36.9 199.6h0M40.5 219.3h0M49.1 231.3h0M33.4 225.6h0M46.4 230.9h0M38.8 221.7h0M31.8 226.8h0M48.0 230.4h0M25.9 207.3h0" stroke="#a898e0" stroke-width="0.85" stroke-linecap="round" fill="none" opacity="0.7"/>
<circle cx="42.5" cy="207.2" r="4.6" fill="url(#lg6)"/>
<circle cx="30.8" cy="216.4" r="4.6" fill="url(#lg6)"/>
<circle cx="49.7" cy="221.6" r="4.6" fill="url(#lg6)"/>
<path d="M23.1 566.6L11.3 576.2L30.2 581.0z" fill="#f1d9f1" stroke="#f1d9f1" stroke-width="23.0" stroke-linejoin="round" filter="url(#ob)"/>
<path d="M28.6 566.5h0M27.9 569.5h0M25.5 571.5h0M22.7 572.3h0M19.9 571.4h0M18.2 568.6h0M17.4 565.7h0M18.6 563.1h0M21.2 561.1h0M24.3 561.1h0M26.9 562.4h0M28.4 565.1h0M17.0 576.3h0M16.0 579.2h0M13.8 581.1h0M11.1 581.9h0M8.0 580.8h0M6.0 578.3h0M5.9 575.4h0M7.1 572.6h0M9.3 570.8h0M12.6 570.7h0M15.0 572.2h0M16.8 574.7h0M35.6 580.9h0M34.8 584.1h0M32.6 585.9h0M29.7 586.4h0M27.1 585.5h0M25.1 583.3h0M24.7 580.2h0M25.9 577.6h0M28.2 575.9h0M31.4 575.7h0M34.0 576.8h0M35.4 579.4h0M20.6 581.9h0M20.4 578.1h0M18.3 558.8h0M26.9 557.7h0M27.7 591.0h0M31.8 564.5h0M8.4 585.1h0M1.9 577.3h0M37.4 574.1h0M40.1 582.9h0M31.1 562.4h0M6.4 585.0h0M21.1 584.7h0M33.5 589.9h0M21.2 586.4h0M14.0 565.7h0M1.6 580.0h0" stroke="#e0609c" stroke-width="0.85" stroke-linecap="round" fill="none" opacity="0.7"/>
<path d="M28.6 567.9h0M26.7 570.7h0M24.1 571.9h0M21.1 571.8h0M18.8 570.1h0M17.7 567.3h0M17.9 564.5h0M19.9 562.0h0M22.5 560.9h0M25.6 561.7h0M28.0 563.8h0M16.6 577.7h0M15.1 580.4h0M12.6 581.9h0M9.6 581.6h0M6.9 579.5h0M5.7 577.0h0M6.3 574.2h0M8.0 571.5h0M11.0 570.8h0M13.9 571.3h0M16.2 573.4h0M35.6 582.5h0M34.1 585.3h0M31.2 586.6h0M28.3 586.4h0M25.7 584.7h0M24.5 581.6h0M24.9 578.9h0M26.8 576.6h0M29.8 575.3h0M32.7 575.9h0M34.8 578.0h0M38.1 576.8h0M11.8 567.3h0M20.4 579.9h0M15.9 584.1h0M36.8 587.8h0M30.0 559.0h0M33.2 572.3h0M4.2 568.9h0M19.4 557.1h0M3.8 582.6h0M10.0 586.5h0M22.7 587.1h0M7.1 567.4h0M33.3 564.4h0M40.2 578.8h0M21.5 577.5h0" stroke="#f0a058" stroke-width="0.85" stroke-linecap="round" fill="none" opacity="0.7"/>
<path d="M30.0 567.5h0M29.1 570.1h0M26.6 572.4h0M24.0 573.5h0M20.9 573.2h0M18.4 571.7h0M16.4 569.0h0M16.4 565.7h0M17.1 562.9h0M19.3 560.9h0M22.3 559.9h0M25.4 560.2h0M27.9 561.7h0M29.8 564.2h0M18.0 577.1h0M17.3 579.8h0M15.1 581.9h0M12.2 583.2h0M9.2 582.8h0M6.3 580.9h0M4.8 578.7h0M4.6 575.3h0M5.4 572.6h0M7.5 570.5h0M10.6 569.5h0M13.6 569.7h0M16.2 571.2h0M17.7 573.9h0M37.0 581.7h0M36.0 584.5h0M33.8 586.6h0M30.8 587.8h0M28.0 587.5h0M25.3 585.9h0M23.6 583.4h0M23.3 580.2h0M24.2 577.4h0M26.4 575.3h0M29.3 574.0h0M32.3 574.5h0M35.3 576.1h0M36.6 578.7h0M30.9 590.7h0M32.4 563.0h0M1.7 573.5h0M14.0 567.4h0M28.8 559.4h0M32.0 561.5h0M12.8 566.5h0M35.4 573.3h0M32.7 568.0h0M3.0 579.3h0M15.3 562.1h0M22.1 576.3h0M40.7 580.7h0M24.0 587.4h0M23.0 557.4h0M14.7 584.9h0M35.1 589.5h0M26.1 556.7h0M24.8 588.4h0M5.2 584.6h0M16.3 585.4h0" stroke="#c878d0" stroke-width="0.85" stroke-linecap="round" fill="none" opacity="0.7"/>
<path d="M29.7 568.8h0M27.9 571.6h0M25.2 573.2h0M22.5 573.4h0M19.5 572.4h0M17.2 570.3h0M16.3 567.6h0M16.5 564.4h0M18.1 561.6h0M20.7 560.0h0M23.7 559.7h0M26.9 560.9h0M28.9 563.1h0M29.8 565.7h0M17.7 578.6h0M16.1 581.3h0M13.4 582.6h0M10.4 583.2h0M7.6 582.1h0M5.6 579.9h0M4.4 577.1h0M4.7 573.8h0M6.3 571.3h0M9.0 569.7h0M12.0 569.5h0M15.0 570.2h0M16.9 572.6h0M18.2 575.5h0M36.8 583.2h0M35.0 585.7h0M32.6 587.5h0M29.6 587.7h0M26.5 587.0h0M24.4 584.9h0M23.4 581.8h0M23.5 578.6h0M25.2 576.0h0M28.1 574.6h0M30.9 574.1h0M33.8 575.3h0M35.9 577.5h0M36.9 580.2h0M32.5 571.1h0M13.1 564.6h0M9.9 585.1h0M5.4 569.2h0M37.9 585.9h0M1.5 575.9h0M20.6 576.1h0M8.6 567.4h0M17.3 584.2h0M30.9 560.9h0M18.1 582.4h0M26.0 590.4h0M11.0 585.8h0M34.9 572.0h0M24.8 589.8h0M39.7 576.8h0M3.1 572.4h0M21.4 556.7h0M10.5 567.2h0M17.2 559.7h0M23.3 588.4h0M38.0 587.6h0M29.6 591.1h0" stroke="#e888b0" stroke-width="0.85" stroke-linecap="round" fill="none" opacity="0.7"/>
<path d="M31.2 566.6h0M30.5 569.5h0M29.3 572.2h0M24.0 574.9h0M20.8 574.4h0M14.9 567.9h0M15.0 564.9h0M16.0 562.2h0M18.2 559.9h0M20.8 558.6h0M23.8 558.4h0M26.7 559.2h0M29.0 561.3h0M30.8 563.4h0M19.4 576.2h0M18.8 579.2h0M17.5 581.7h0M15.1 583.5h0M12.1 584.4h0M9.0 584.3h0M6.5 582.6h0M4.5 580.4h0M3.1 577.6h0M3.4 574.9h0M4.4 571.7h0M6.2 569.8h0M9.3 568.4h0M12.1 568.0h0M15.0 568.7h0M38.4 581.0h0M37.6 583.9h0M36.1 586.3h0M33.9 588.4h0M31.0 589.3h0M28.1 588.7h0M25.1 587.7h0M23.3 585.4h0M22.1 582.6h0M22.2 579.7h0M23.1 576.5h0M25.1 574.6h0M28.0 573.2h0M31.0 572.6h0M33.9 573.7h0M36.4 575.4h0M37.9 577.9h0M33.0 566.4h0M9.9 565.9h0M1.8 578.6h0M24.4 556.3h0M38.8 578.4h0M33.0 591.0h0M5.4 582.9h0M2.2 574.7h0M31.1 570.8h0M2.4 571.1h0M39.8 585.1h0M6.1 568.0h0M39.6 581.4h0M4.0 571.1h0M14.1 563.5h0M39.0 586.7h0M12.4 586.6h0" stroke="#a8a0d8" stroke-width="0.85" stroke-linecap="round" fill="none" opacity="0.7"/>
<path d="M31.2 568.0h0M30.0 570.9h0M28.0 573.2h0M25.4 574.3h0M22.5 574.9h0M19.3 574.0h0M14.8 566.5h0M15.3 563.5h0M16.9 561.2h0M19.3 559.2h0M22.5 558.6h0M25.2 558.6h0M28.2 559.9h0M30.1 562.1h0M31.2 565.3h0M19.4 577.8h0M18.2 580.4h0M16.3 582.8h0M13.6 584.1h0M10.5 584.4h0M7.7 583.7h0M5.3 581.9h0M3.5 579.1h0M2.9 576.3h0M3.5 573.3h0M5.4 570.9h0M7.6 568.9h0M10.4 568.0h0M13.4 568.2h0M19.4 574.7h0M38.1 582.5h0M37.0 585.3h0M35.1 587.4h0M32.5 588.9h0M29.4 589.1h0M26.6 588.4h0M24.3 586.6h0M22.4 584.0h0M22.1 581.1h0M22.6 578.1h0M24.0 575.4h0M29.5 572.9h0M32.6 573.2h0M35.2 574.3h0M37.0 576.6h0M38.4 579.7h0M38.9 583.9h0M39.5 579.8h0M28.8 589.8h0M14.0 562.2h0M37.3 575.3h0M16.1 560.5h0M2.5 581.7h0M28.3 557.7h0M25.1 557.8h0M13.1 585.5h0M31.9 569.0h0M20.0 583.2h0M26.0 589.2h0M15.8 559.2h0M38.6 575.3h0M19.4 580.9h0" stroke="#f0b078" stroke-width="0.85" stroke-linecap="round" fill="none" opacity="0.7"/>
<circle cx="23.1" cy="566.6" r="4.6" fill="url(#lg7)"/>
<circle cx="11.3" cy="576.2" r="4.6" fill="url(#lg7)"/>
<circle cx="30.2" cy="581.0" r="4.6" fill="url(#lg7)"/>
<path d="M24.4 666.5L12.0 674.8L31.4 680.9z" fill="#d2e6f5" stroke="#d2e6f5" stroke-width="23.0" stroke-linejoin="round" filter="url(#ob)"/>
<path d="M29.9 666.7h0M29.0 669.3h0M27.0 671.5h0M23.9 672.2h0M21.0 671.0h0M19.2 668.6h0M18.7 665.8h0M20.0 663.0h0M22.7 661.3h0M25.7 661.0h0M28.3 662.5h0M29.7 665.1h0M17.5 674.7h0M16.7 677.9h0M14.6 680.0h0M11.8 680.3h0M8.9 679.3h0M7.0 677.1h0M6.6 674.1h0M7.7 671.3h0M10.0 669.6h0M13.0 669.4h0M15.9 670.7h0M17.4 673.2h0M36.9 680.9h0M36.2 683.9h0M34.2 685.7h0M31.2 686.4h0M28.2 685.3h0M26.2 683.1h0M25.9 680.0h0M27.2 677.3h0M29.5 675.6h0M32.6 675.5h0M35.3 676.7h0M36.9 679.4h0M20.2 657.3h0M39.1 675.8h0M23.6 676.7h0M30.9 660.4h0M23.6 685.4h0M31.5 690.6h0M3.7 670.3h0M33.5 664.8h0M28.3 690.5h0M21.9 657.8h0M14.6 684.8h0M37.6 688.4h0M17.7 681.8h0M40.4 675.5h0M2.4 670.9h0M23.1 687.1h0M20.9 675.1h0" stroke="#d070b0" stroke-width="0.85" stroke-linecap="round" fill="none" opacity="0.7"/>
<path d="M29.6 668.1h0M28.4 670.5h0M25.5 672.0h0M22.4 671.7h0M20.0 670.2h0M18.8 667.5h0M19.2 664.3h0M21.2 662.0h0M23.9 660.7h0M26.9 661.7h0M29.3 663.5h0M17.4 676.5h0M16.0 678.9h0M13.3 680.2h0M10.1 680.3h0M7.6 678.4h0M6.6 675.7h0M6.8 672.5h0M8.9 670.1h0M11.5 669.2h0M14.5 669.7h0M16.7 672.0h0M36.6 682.6h0M35.4 684.8h0M32.6 686.4h0M29.7 686.2h0M27.0 684.4h0M26.0 681.6h0M26.1 678.8h0M28.0 676.2h0M31.0 675.2h0M34.1 676.0h0M36.3 677.9h0M22.0 676.0h0M14.8 663.6h0M30.0 690.8h0M26.6 690.1h0M39.3 685.2h0M8.0 683.3h0M5.9 683.0h0M35.0 672.3h0M15.7 662.6h0M12.0 665.3h0M36.2 672.7h0M23.2 656.4h0M29.6 658.9h0M6.6 667.1h0M21.9 656.5h0M28.8 657.9h0M19.7 681.5h0M15.2 665.2h0M37.5 674.3h0M27.9 689.1h0M32.2 672.0h0M26.2 657.7h0M25.0 688.4h0" stroke="#e8a070" stroke-width="0.85" stroke-linecap="round" fill="none" opacity="0.7"/>
<path d="M31.1 667.4h0M30.3 670.4h0M28.0 672.2h0M25.0 673.5h0M22.0 672.9h0M19.4 671.3h0M18.0 668.6h0M17.6 665.9h0M18.5 662.6h0M20.6 660.6h0M23.6 659.6h0M26.5 659.8h0M29.2 661.7h0M31.1 664.0h0M19.0 675.7h0M18.0 678.5h0M15.8 680.8h0M12.9 681.9h0M9.6 681.4h0M7.1 679.8h0M5.3 677.1h0M5.1 673.8h0M6.2 671.1h0M8.4 669.0h0M11.2 667.9h0M14.4 668.2h0M16.8 669.9h0M18.4 672.4h0M38.3 681.7h0M37.3 684.7h0M35.1 686.7h0M32.3 687.6h0M29.0 687.5h0M26.6 685.7h0M24.7 683.0h0M24.5 680.3h0M25.6 677.3h0M27.7 675.2h0M30.4 674.2h0M33.7 674.6h0M36.4 676.0h0M38.0 678.8h0M35.5 689.9h0M4.1 668.8h0M33.6 669.6h0M9.0 665.0h0M32.7 670.7h0M17.0 683.2h0M32.3 659.8h0M2.5 677.2h0M3.6 680.3h0M33.5 667.1h0M38.7 686.4h0M16.5 661.1h0M4.6 681.3h0M7.8 665.5h0M10.4 665.6h0M3.0 675.3h0M20.8 679.2h0M34.5 668.2h0M8.8 684.7h0M40.6 685.3h0M18.5 682.9h0M39.3 687.5h0M23.3 657.6h0" stroke="#a080d8" stroke-width="0.85" stroke-linecap="round" fill="none" opacity="0.7"/>
<path d="M30.8 668.9h0M29.4 671.4h0M26.7 673.0h0M23.6 673.4h0M20.5 672.3h0M18.5 670.3h0M17.5 667.1h0M17.8 664.3h0M19.6 661.6h0M22.0 660.0h0M25.2 659.6h0M27.9 660.7h0M30.2 662.9h0M31.1 665.6h0M18.6 677.0h0M17.0 679.6h0M14.2 681.4h0M11.4 681.8h0M8.4 680.5h0M6.3 678.6h0M5.3 675.6h0M5.7 672.7h0M7.3 670.0h0M9.6 668.2h0M12.8 667.8h0M15.5 668.9h0M18.0 671.0h0M18.7 674.1h0M38.0 683.1h0M36.2 685.8h0M33.6 687.4h0M30.5 687.9h0M27.8 686.6h0M25.7 684.4h0M24.6 681.6h0M25.0 678.7h0M26.3 676.1h0M29.1 674.6h0M32.0 674.0h0M35.2 675.3h0M37.1 677.1h0M38.3 680.1h0M7.9 666.8h0M22.1 684.3h0M26.2 688.8h0M15.1 683.6h0M41.0 679.5h0M40.6 683.5h0M14.0 666.0h0M22.4 678.1h0M13.0 685.2h0M19.6 680.0h0M33.4 690.8h0M29.4 689.6h0M10.5 683.6h0M1.6 673.9h0M31.1 659.1h0" stroke="#80a0e0" stroke-width="0.85" stroke-linecap="round" fill="none" opacity="0.7"/>
<path d="M32.6 666.5h0M32.2 669.3h0M30.6 671.8h0M25.0 674.9h0M22.2 674.4h0M16.2 668.0h0M16.3 665.1h0M17.4 662.1h0M19.4 659.8h0M22.2 658.4h0M25.0 658.5h0M28.1 659.0h0M30.6 661.0h0M32.2 663.6h0M20.0 674.6h0M19.8 677.8h0M18.2 680.3h0M15.9 682.3h0M12.7 682.8h0M9.9 682.7h0M7.2 681.4h0M5.1 679.3h0M4.1 676.3h0M3.9 673.1h0M5.2 670.5h0M6.9 668.3h0M9.8 666.8h0M12.7 666.8h0M15.7 667.3h0M39.6 681.0h0M38.9 683.7h0M37.5 686.3h0M35.0 688.2h0M32.0 689.1h0M29.3 688.8h0M26.5 687.5h0M24.3 685.2h0M23.4 682.6h0M23.4 679.4h0M24.5 676.6h0M26.3 674.4h0M29.2 672.9h0M32.1 672.7h0M34.9 673.6h0M37.4 675.5h0M39.2 678.0h0M18.2 658.7h0M39.6 674.6h0M24.6 687.1h0M3.3 679.0h0M37.5 673.1h0M21.3 677.4h0M24.7 656.8h0M12.0 684.1h0M40.5 681.6h0M21.7 681.4h0M40.3 678.0h0M17.2 659.9h0M5.1 667.1h0M27.6 657.0h0M36.1 688.8h0M26.3 656.2h0M33.7 671.6h0M11.2 685.2h0M34.8 666.7h0M3.4 672.0h0" stroke="#d088c0" stroke-width="0.85" stroke-linecap="round" fill="none" opacity="0.7"/>
<path d="M32.6 667.9h0M31.5 670.7h0M29.5 673.1h0M26.8 674.4h0M23.6 674.5h0M20.7 673.7h0M16.2 666.4h0M16.8 663.5h0M18.2 660.9h0M20.8 659.2h0M23.6 658.3h0M26.7 658.6h0M29.2 660.0h0M31.2 662.2h0M32.6 665.2h0M20.1 676.4h0M18.9 679.3h0M17.0 681.5h0M14.1 682.6h0M11.3 682.8h0M8.4 682.1h0M6.1 680.5h0M4.3 677.7h0M3.7 674.9h0M4.5 671.8h0M6.1 669.2h0M8.5 667.6h0M11.2 666.4h0M14.2 667.0h0M20.1 673.1h0M39.4 682.5h0M38.2 685.2h0M36.3 687.5h0M33.7 688.7h0M30.7 688.9h0M27.9 688.4h0M25.3 686.5h0M23.8 684.0h0M23.3 681.1h0M23.7 677.8h0M25.2 675.3h0M30.7 672.8h0M33.8 672.9h0M36.5 674.5h0M38.2 676.5h0M39.4 679.4h0M22.2 685.9h0M39.6 676.9h0M22.5 682.5h0M33.2 663.4h0M14.0 664.8h0M33.7 662.1h0M34.2 689.8h0M2.3 672.6h0M32.1 661.5h0M21.3 682.7h0M22.4 679.8h0M16.3 684.3h0" stroke="#a898e0" stroke-width="0.85" stroke-linecap="round" fill="none" opacity="0.7"/>
<circle cx="24.4" cy="666.5" r="4.6" fill="url(#lg8)"/>
<circle cx="12.0" cy="674.8" r="4.6" fill="url(#lg8)"/>
<circle cx="31.4" cy="680.9" r="4.6" fill="url(#lg8)"/>
<path d="M492.0 20.9Q544.1 8.3 596.2 20.9L581.6 89.0Q544.9 81.8 508.2 90.6z" fill="#e5f0d3"/>
<path d="M508.2 90.6Q544.9 81.8 581.6 89.0L566.5 146.9Q545.2 141.9 523.9 146.9z" fill="#d7e7f6"/>
<g clip-path="url(#w41)">
<line x1="508.7" y1="18.8" x2="529.7" y2="139.8" stroke="#a9d0f2" stroke-width="2.1"/>
<line x1="526.4" y1="16.5" x2="537.4" y2="138.8" stroke="#a9d0f2" stroke-width="2.1"/>
<line x1="544.2" y1="15.6" x2="545.2" y2="138.4" stroke="#a9d0f2" stroke-width="2.1"/>
<line x1="562.0" y1="16.2" x2="553.0" y2="138.6" stroke="#a9d0f2" stroke-width="2.1"/>
<line x1="577.6" y1="17.9" x2="559.8" y2="139.4" stroke="#a9d0f2" stroke-width="2.1"/>
<line x1="518.7" y1="22.3" x2="532.7" y2="131.2" stroke="#8aa6ea" stroke-width="1.3"/>
<line x1="554.4" y1="20.8" x2="550.1" y2="130.5" stroke="#8aa6ea" stroke-width="1.3"/>
<line x1="568.7" y1="21.8" x2="557.0" y2="131.0" stroke="#8aa6ea" stroke-width="1.3"/>
<path d="M507.9 31.3L512.9 40.5L503.0 40.5z" fill="#b094e0" transform="rotate(-8 507.9 36.7)"/>
<path d="M507.9 32.0L507.9 25.5M511.7 39.6L519.2 43.3M504.2 39.6L496.6 43.8" stroke="#b094e0" stroke-width="1.45" fill="none" transform="rotate(-8 507.9 36.7)"/>
<path d="M525.4 31.6L530.3 40.8L520.4 40.8z" fill="#b094e0" transform="rotate(-19 525.4 37.0)"/>
<path d="M525.4 32.3L525.4 25.7M529.1 39.8L536.7 43.6M521.6 39.8L514.1 44.1" stroke="#b094e0" stroke-width="1.45" fill="none" transform="rotate(-19 525.4 37.0)"/>
<path d="M541.4 27.7L546.4 36.9L536.5 36.9z" fill="#b094e0" transform="rotate(-23 541.4 33.2)"/>
<path d="M541.4 28.5L541.4 21.9M545.2 36.0L552.7 39.7M537.7 36.0L530.1 40.2" stroke="#b094e0" stroke-width="1.45" fill="none" transform="rotate(-23 541.4 33.2)"/>
<path d="M559.5 31.0L564.4 40.2L554.6 40.2z" fill="#b094e0" transform="rotate(29 559.5 36.4)"/>
<path d="M559.5 31.7L559.5 25.1M563.3 39.2L570.8 43.0M555.8 39.2L548.2 43.5" stroke="#b094e0" stroke-width="1.45" fill="none" transform="rotate(29 559.5 36.4)"/>
<path d="M577.8 31.0L582.7 40.1L572.8 40.1z" fill="#b094e0" transform="rotate(5 577.8 36.4)"/>
<path d="M577.8 31.7L577.8 25.1M581.5 39.2L589.1 42.9M574.0 39.2L566.5 43.4" stroke="#b094e0" stroke-width="1.45" fill="none" transform="rotate(5 577.8 36.4)"/>
<path d="M517.7 44.1L522.6 53.3L512.7 53.3z" fill="#b094e0" transform="rotate(13 517.7 49.5)"/>
<path d="M517.7 44.8L517.7 38.2M521.4 52.3L529.0 56.1M513.9 52.3L506.4 56.5" stroke="#b094e0" stroke-width="1.45" fill="none" transform="rotate(13 517.7 49.5)"/>
<path d="M551.6 40.6L556.6 49.8L546.7 49.8z" fill="#b094e0" transform="rotate(4 551.6 46.0)"/>
<path d="M551.6 41.3L551.6 34.7M555.4 48.8L562.9 52.6M547.9 48.8L540.3 53.1" stroke="#b094e0" stroke-width="1.45" fill="none" transform="rotate(4 551.6 46.0)"/>
<path d="M569.1 46.2L574.0 55.4L564.1 55.4z" fill="#b094e0" transform="rotate(-8 569.1 51.6)"/>
<path d="M569.1 46.9L569.1 40.4M572.8 54.5L580.3 58.2M565.3 54.5L557.8 58.7" stroke="#b094e0" stroke-width="1.45" fill="none" transform="rotate(-8 569.1 51.6)"/>
<path d="M535.6 43.7L540.5 52.8L530.6 52.8z" fill="#b094e0" transform="rotate(16 535.6 49.1)"/>
<path d="M535.6 44.4L535.6 37.8M539.3 51.9L546.8 55.6M531.8 51.9L524.3 56.1" stroke="#b094e0" stroke-width="1.45" fill="none" transform="rotate(16 535.6 49.1)"/>
<path d="M519.8 58.3L524.7 67.3L515.0 67.3z" fill="#f59a1c" transform="rotate(6 519.8 63.6)"/>
<path d="M519.8 59.0L519.8 52.5M523.5 66.3L530.9 70.0M516.2 66.3L508.8 70.5" stroke="#f59a1c" stroke-width="1.45" fill="none" transform="rotate(6 519.8 63.6)"/>
<path d="M537.8 53.6L542.6 62.6L533.0 62.6z" fill="#f59a1c" transform="rotate(22 537.8 58.9)"/>
<path d="M537.8 54.3L537.8 47.9M541.5 61.7L548.8 65.4M534.1 61.7L526.8 65.8" stroke="#f59a1c" stroke-width="1.45" fill="none" transform="rotate(22 537.8 58.9)"/>
<path d="M557.8 56.7L562.6 65.7L552.9 65.7z" fill="#f59a1c" transform="rotate(13 557.8 62.0)"/>
<path d="M557.8 57.4L557.8 50.9M561.4 64.7L568.8 68.4M554.1 64.7L546.7 68.9" stroke="#f59a1c" stroke-width="1.45" fill="none" transform="rotate(13 557.8 62.0)"/>
<path d="M575.3 61.7L580.1 70.7L570.5 70.7z" fill="#f59a1c" transform="rotate(27 575.3 67.0)"/>
<path d="M575.3 62.4L575.3 55.9M579.0 69.7L586.4 73.4M571.6 69.7L564.3 73.9" stroke="#f59a1c" stroke-width="1.45" fill="none" transform="rotate(27 575.3 67.0)"/>
<path d="M516.0 73.4L520.8 82.4L511.2 82.4z" fill="#f59a1c" transform="rotate(-5 516.0 78.7)"/>
<path d="M516.0 74.1L516.0 67.6M519.7 81.4L527.1 85.1M512.3 81.4L505.0 85.6" stroke="#f59a1c" stroke-width="1.45" fill="none" transform="rotate(-5 516.0 78.7)"/>
<path d="M532.5 70.4L537.3 79.4L527.6 79.4z" fill="#f59a1c" transform="rotate(-28 532.5 75.7)"/>
<path d="M532.5 71.1L532.5 64.6M536.2 78.4L543.5 82.1M528.8 78.4L521.4 82.6" stroke="#f59a1c" stroke-width="1.45" fill="none" transform="rotate(-28 532.5 75.7)"/>
<path d="M549.2 69.1L554.1 78.1L544.4 78.1z" fill="#f59a1c" transform="rotate(-28 549.2 74.4)"/>
<path d="M549.2 69.8L549.2 63.4M552.9 77.2L560.3 80.9M545.6 77.2L538.2 81.3" stroke="#f59a1c" stroke-width="1.45" fill="none" transform="rotate(-28 549.2 74.4)"/>
<path d="M565.8 71.8L570.7 80.8L561.0 80.8z" fill="#f59a1c" transform="rotate(18 565.8 77.1)"/>
<path d="M565.8 72.5L565.8 66.0M569.5 79.8L576.9 83.5M562.2 79.8L554.8 84.0" stroke="#f59a1c" stroke-width="1.45" fill="none" transform="rotate(18 565.8 77.1)"/>
<path d="M544.6 62.0L549.4 71.0L539.8 71.0z" fill="#f59a1c" transform="rotate(-27 544.6 67.3)"/>
<path d="M544.6 62.7L544.6 56.2M548.3 70.0L555.6 73.7M540.9 70.0L533.5 74.2" stroke="#f59a1c" stroke-width="1.45" fill="none" transform="rotate(-27 544.6 67.3)"/>
<ellipse cx="529.7" cy="78.1" rx="1.7" ry="4.6" fill="#5fbf3c"/>
<ellipse cx="569.1" cy="76.1" rx="1.7" ry="4.6" fill="#5fbf3c"/>
<ellipse cx="532.7" cy="57.8" rx="1.7" ry="4.6" fill="#5fbf3c"/>
<path d="M530.1 23.7l3 -2.5M530.1 23.7l-3 -2M530.1 23.7l2.4 3M530.1 23.7l-2.4 3" stroke="#e2409c" stroke-width="0.5"/><circle cx="530.1" cy="23.7" r="1.1" fill="#e2409c"/>
<path d="M558.4 23.5l3 -2.5M558.4 23.5l-3 -2M558.4 23.5l2.4 3M558.4 23.5l-2.4 3" stroke="#e2409c" stroke-width="0.5"/><circle cx="558.4" cy="23.5" r="1.1" fill="#e2409c"/>
<path d="M580.9 29.7l3 -2.5M580.9 29.7l-3 -2M580.9 29.7l2.4 3M580.9 29.7l-2.4 3" stroke="#e2409c" stroke-width="0.5"/><circle cx="580.9" cy="29.7" r="1.1" fill="#e2409c"/>
<path d="M501.2 22.3l3 -2.4 3 -0.9 3 0.9 3 2.4 -3 2.4 -3 0.9 -3 -0.9z" fill="#c9262b"/><line x1="497.2" y1="23.5" x2="517.2" y2="23.5" stroke="#c9262b" stroke-width="1.0"/>
<path d="M519.6 19.8l3 -2.4 3 -0.9 3 0.9 3 2.4 -3 2.4 -3 0.9 -3 -0.9z" fill="#c9262b"/><line x1="515.6" y1="21.0" x2="535.6" y2="21.0" stroke="#c9262b" stroke-width="1.0"/>
<path d="M538.2 18.8l3 -2.4 3 -0.9 3 0.9 3 2.4 -3 2.4 -3 0.9 -3 -0.9z" fill="#c9262b"/><line x1="534.2" y1="20.0" x2="554.2" y2="20.0" stroke="#c9262b" stroke-width="1.0"/>
<path d="M557.8 19.5l3 -2.4 3 -0.9 3 0.9 3 2.4 -3 2.4 -3 0.9 -3 -0.9z" fill="#c9262b"/><line x1="553.8" y1="20.7" x2="573.8" y2="20.7" stroke="#c9262b" stroke-width="1.0"/>
<path d="M576.2 21.9l3 -2.4 3 -0.9 3 0.9 3 2.4 -3 2.4 -3 0.9 -3 -0.9z" fill="#c9262b"/><line x1="572.2" y1="23.1" x2="592.2" y2="23.1" stroke="#c9262b" stroke-width="1.0"/>
<ellipse cx="539.4" cy="93.0" rx="5.2" ry="5.8" fill="#f7a3ad"/><ellipse cx="539.4" cy="93.0" rx="3" ry="3.6" fill="#f3798a"/>
<ellipse cx="557.1" cy="92.1" rx="5.2" ry="5.8" fill="#f7a3ad"/><ellipse cx="557.1" cy="92.1" rx="3" ry="3.6" fill="#f3798a"/>
<ellipse cx="522.5" cy="105.5" rx="5.2" ry="5.8" fill="#f7a3ad"/><ellipse cx="522.5" cy="105.5" rx="3" ry="3.6" fill="#f3798a"/>
<ellipse cx="568.1" cy="114.8" rx="5.2" ry="5.8" fill="#f7a3ad"/><ellipse cx="568.1" cy="114.8" rx="3" ry="3.6" fill="#f3798a"/>
<ellipse cx="539.1" cy="111.8" rx="5.2" ry="5.8" fill="#f7a3ad"/><ellipse cx="539.1" cy="111.8" rx="3" ry="3.6" fill="#f3798a"/>
<ellipse cx="550.5" cy="119.3" rx="5.2" ry="5.8" fill="#f7a3ad"/><ellipse cx="550.5" cy="119.3" rx="3" ry="3.6" fill="#f3798a"/>
<ellipse cx="537.2" cy="101.3" rx="4.3" ry="7.2" fill="#7f9ee8"/><ellipse cx="537.2" cy="101.3" rx="2.4" ry="3.8" fill="#5d7fdc"/>
<ellipse cx="552.6" cy="98.8" rx="4.3" ry="7.2" fill="#7f9ee8"/><ellipse cx="552.6" cy="98.8" rx="2.4" ry="3.8" fill="#5d7fdc"/>
<ellipse cx="526.8" cy="116.6" rx="4.3" ry="7.2" fill="#7f9ee8"/><ellipse cx="526.8" cy="116.6" rx="2.4" ry="3.8" fill="#5d7fdc"/>
<ellipse cx="532.1" cy="137.7" rx="5.8" ry="6.2" fill="#a5d1f7"/><ellipse cx="532.1" cy="137.7" rx="3.1" ry="3.5" fill="#84bff4"/>
<ellipse cx="545.2" cy="136.8" rx="5.8" ry="6.2" fill="#a5d1f7"/><ellipse cx="545.2" cy="136.8" rx="3.1" ry="3.5" fill="#84bff4"/>
<ellipse cx="557.3" cy="137.4" rx="5.8" ry="6.2" fill="#a5d1f7"/><ellipse cx="557.3" cy="137.4" rx="3.1" ry="3.5" fill="#84bff4"/>
<ellipse cx="526.5" cy="121.4" rx="1.5" ry="3.6" fill="#5fbf3c"/>
<ellipse cx="556.9" cy="121.5" rx="1.5" ry="3.6" fill="#5fbf3c"/>
</g>
<path d="M492.0 20.9Q544.1 8.3 596.2 20.9L581.6 89.0Q544.9 81.8 508.2 90.6z" fill="none" stroke="#4f7f2c" stroke-width="1.2" stroke-linejoin="miter"/>
<path d="M508.2 90.6Q544.9 81.8 581.6 89.0L566.5 146.9Q545.2 141.9 523.9 146.9z" fill="none" stroke="#2e6da6" stroke-width="1.1" stroke-linejoin="miter"/>
<text x="545.10" y="58.20" font-size="10.1" text-anchor="middle" font-weight="normal" fill="#000">Neuronal Layer</text>
<text x="545.10" y="69.60" font-size="10.1" text-anchor="middle" font-weight="normal" fill="#000">TUJ1+ MAP2+</text>
<text x="547.40" y="106.80" font-size="10.1" text-anchor="middle" font-weight="normal" fill="#000">Progenitor</text>
<text x="547.40" y="118.80" font-size="10.1" text-anchor="middle" font-weight="normal" fill="#000">Zone</text>
<text x="547.40" y="130.70" font-size="10.1" text-anchor="middle" font-weight="normal" fill="#000">SOX2+</text>
<path d="M601.4 23.1L605.3 24.0L589.2 87.1L585.1 86.2" fill="none" stroke="#000" stroke-width="0.9"/>
<text x="604.4" y="57.0" font-size="10" text-anchor="middle" transform="rotate(104.3 604.4 57.0)" dy="3.5">CP</text>
<path d="M583.9 89.7L587.8 90.6L572.9 149.3L568.9 148.4" fill="none" stroke="#000" stroke-width="0.9"/>
<text x="588.7" y="118.6" font-size="10" text-anchor="middle" transform="rotate(104.3 588.7 118.6)" dy="3.5">VZ+SVZ</text>
<path d="M617.2 26.1L621.1 27.0L589.2 151.9L585.1 151.0" fill="none" stroke="#000" stroke-width="0.9"/>
<text x="613.2" y="89.7" font-size="10" text-anchor="middle" transform="rotate(104.3 613.2 89.7)" dy="3.5">Cortical Region</text>
<path d="M497.8 165.5Q545.1 157.7 592.5 165.5L580.8 213.4Q545.1 207.6 509.5 214.6z" fill="#e5f0d3"/>
<path d="M509.5 214.6Q545.1 207.6 580.8 213.4L566.8 276.5Q545.1 271.5 523.5 276.5z" fill="#d7e7f6"/>
<g clip-path="url(#w42)">
<line x1="513.2" y1="165.1" x2="529.4" y2="269.2" stroke="#a9d0f2" stroke-width="2.1"/>
<line x1="529.1" y1="163.2" x2="537.3" y2="268.3" stroke="#a9d0f2" stroke-width="2.1"/>
<line x1="545.1" y1="162.6" x2="545.1" y2="268.0" stroke="#a9d0f2" stroke-width="2.1"/>
<line x1="561.2" y1="163.2" x2="553.0" y2="268.3" stroke="#a9d0f2" stroke-width="2.1"/>
<line x1="575.2" y1="164.8" x2="560.0" y2="269.1" stroke="#a9d0f2" stroke-width="2.1"/>
<line x1="522.2" y1="168.9" x2="532.7" y2="260.7" stroke="#8aa6ea" stroke-width="1.3"/>
<line x1="554.4" y1="167.8" x2="550.2" y2="260.1" stroke="#8aa6ea" stroke-width="1.3"/>
<line x1="567.2" y1="168.8" x2="557.1" y2="260.7" stroke="#8aa6ea" stroke-width="1.3"/>
<path d="M511.5 171.9L516.4 181.1L506.6 181.1z" fill="#b094e0" transform="rotate(10 511.5 177.3)"/>
<path d="M511.5 172.6L511.5 166.0M515.3 180.1L522.8 183.9M507.7 180.1L500.2 184.4" stroke="#b094e0" stroke-width="1.45" fill="none" transform="rotate(10 511.5 177.3)"/>
<path d="M527.6 171.8L532.5 180.9L522.6 180.9z" fill="#b094e0" transform="rotate(-33 527.6 177.2)"/>
<path d="M527.6 172.5L527.6 165.9M531.3 180.0L538.8 183.7M523.8 180.0L516.3 184.2" stroke="#b094e0" stroke-width="1.45" fill="none" transform="rotate(-33 527.6 177.2)"/>
<path d="M542.5 169.0L547.4 178.2L537.5 178.2z" fill="#b094e0" transform="rotate(-16 542.5 174.4)"/>
<path d="M542.5 169.7L542.5 163.1M546.2 177.2L553.8 181.0M538.7 177.2L531.2 181.5" stroke="#b094e0" stroke-width="1.45" fill="none" transform="rotate(-16 542.5 174.4)"/>
<path d="M559.2 171.5L564.2 180.6L554.3 180.6z" fill="#b094e0" transform="rotate(-19 559.2 176.9)"/>
<path d="M559.2 172.2L559.2 165.6M563.0 179.7L570.5 183.5M555.5 179.7L548.0 183.9" stroke="#b094e0" stroke-width="1.45" fill="none" transform="rotate(-19 559.2 176.9)"/>
<path d="M576.1 171.9L581.0 181.1L571.2 181.1z" fill="#b094e0" transform="rotate(17 576.1 177.4)"/>
<path d="M576.1 172.7L576.1 166.1M579.9 180.2L587.4 183.9M572.3 180.2L564.8 184.4" stroke="#b094e0" stroke-width="1.45" fill="none" transform="rotate(17 576.1 177.4)"/>
<path d="M519.9 180.6L524.8 189.7L514.9 189.7z" fill="#b094e0" transform="rotate(12 519.9 186.0)"/>
<path d="M519.9 181.3L519.9 174.7M523.6 188.8L531.1 192.5M516.1 188.8L508.6 193.0" stroke="#b094e0" stroke-width="1.45" fill="none" transform="rotate(12 519.9 186.0)"/>
<path d="M551.9 178.0L556.9 187.1L547.0 187.1z" fill="#b094e0" transform="rotate(27 551.9 183.4)"/>
<path d="M551.9 178.7L551.9 172.1M555.7 186.2L563.2 190.0M548.2 186.2L540.7 190.4" stroke="#b094e0" stroke-width="1.45" fill="none" transform="rotate(27 551.9 183.4)"/>
<path d="M568.5 182.3L573.4 191.4L563.6 191.4z" fill="#b094e0" transform="rotate(-29 568.5 187.7)"/>
<path d="M568.5 183.0L568.5 176.4M572.3 190.5L579.8 194.3M564.7 190.5L557.2 194.7" stroke="#b094e0" stroke-width="1.45" fill="none" transform="rotate(-29 568.5 187.7)"/>
<path d="M536.7 180.0L541.7 189.2L531.8 189.2z" fill="#b094e0" transform="rotate(-5 536.7 185.4)"/>
<path d="M536.7 180.7L536.7 174.1M540.5 188.2L548.0 192.0M533.0 188.2L525.5 192.5" stroke="#b094e0" stroke-width="1.45" fill="none" transform="rotate(-5 536.7 185.4)"/>
<path d="M521.2 190.4L526.0 199.4L516.4 199.4z" fill="#f59a1c" transform="rotate(-38 521.2 195.7)"/>
<path d="M521.2 191.1L521.2 184.7M524.9 198.5L532.2 202.1M517.5 198.5L510.2 202.6" stroke="#f59a1c" stroke-width="1.45" fill="none" transform="rotate(-38 521.2 195.7)"/>
<path d="M538.7 186.9L543.5 195.9L533.8 195.9z" fill="#f59a1c" transform="rotate(-23 538.7 192.2)"/>
<path d="M538.7 187.6L538.7 181.2M542.4 195.0L549.7 198.7M535.0 195.0L527.6 199.1" stroke="#f59a1c" stroke-width="1.45" fill="none" transform="rotate(-23 538.7 192.2)"/>
<path d="M557.9 189.2L562.8 198.2L553.1 198.2z" fill="#f59a1c" transform="rotate(0 557.9 194.5)"/>
<path d="M557.9 189.9L557.9 183.5M561.6 197.3L569.0 201.0M554.3 197.3L546.9 201.4" stroke="#f59a1c" stroke-width="1.45" fill="none" transform="rotate(0 557.9 194.5)"/>
<path d="M575.1 193.3L579.9 202.3L570.3 202.3z" fill="#f59a1c" transform="rotate(-38 575.1 198.6)"/>
<path d="M575.1 194.0L575.1 187.6M578.8 201.4L586.1 205.1M571.4 201.4L564.0 205.5" stroke="#f59a1c" stroke-width="1.45" fill="none" transform="rotate(-38 575.1 198.6)"/>
<path d="M516.6 201.1L521.4 210.1L511.7 210.1z" fill="#f59a1c" transform="rotate(-24 516.6 206.4)"/>
<path d="M516.6 201.8L516.6 195.3M520.3 209.1L527.6 212.8M512.9 209.1L505.5 213.3" stroke="#f59a1c" stroke-width="1.45" fill="none" transform="rotate(-24 516.6 206.4)"/>
<path d="M533.0 198.6L537.9 207.5L528.2 207.5z" fill="#f59a1c" transform="rotate(12 533.0 203.9)"/>
<path d="M533.0 199.3L533.0 192.8M536.7 206.6L544.1 210.3M529.4 206.6L522.0 210.8" stroke="#f59a1c" stroke-width="1.45" fill="none" transform="rotate(12 533.0 203.9)"/>
<path d="M549.7 197.7L554.5 206.7L544.9 206.7z" fill="#f59a1c" transform="rotate(4 549.7 203.0)"/>
<path d="M549.7 198.4L549.7 192.0M553.4 205.8L560.8 209.4M546.0 205.8L538.7 209.9" stroke="#f59a1c" stroke-width="1.45" fill="none" transform="rotate(4 549.7 203.0)"/>
<path d="M566.3 200.0L571.1 208.9L561.4 208.9z" fill="#f59a1c" transform="rotate(-22 566.3 205.3)"/>
<path d="M566.3 200.7L566.3 194.2M569.9 208.0L577.3 211.7M562.6 208.0L555.2 212.2" stroke="#f59a1c" stroke-width="1.45" fill="none" transform="rotate(-22 566.3 205.3)"/>
<path d="M545.1 192.7L550.0 201.7L540.3 201.7z" fill="#f59a1c" transform="rotate(7 545.1 198.0)"/>
<path d="M545.1 193.4L545.1 187.0M548.8 200.8L556.2 204.4M541.5 200.8L534.1 204.9" stroke="#f59a1c" stroke-width="1.45" fill="none" transform="rotate(7 545.1 198.0)"/>
<ellipse cx="530.1" cy="205.6" rx="1.7" ry="4.6" fill="#5fbf3c"/>
<ellipse cx="569.4" cy="204.7" rx="1.7" ry="4.6" fill="#5fbf3c"/>
<ellipse cx="533.8" cy="191.5" rx="1.7" ry="4.6" fill="#5fbf3c"/>
<path d="M532.3 167.9l3 -2.5M532.3 167.9l-3 -2M532.3 167.9l2.4 3M532.3 167.9l-2.4 3" stroke="#e2409c" stroke-width="0.5"/><circle cx="532.3" cy="167.9" r="1.1" fill="#e2409c"/>
<path d="M558.0 167.9l3 -2.5M558.0 167.9l-3 -2M558.0 167.9l2.4 3M558.0 167.9l-2.4 3" stroke="#e2409c" stroke-width="0.5"/><circle cx="558.0" cy="167.9" r="1.1" fill="#e2409c"/>
<path d="M578.7 172.8l3 -2.5M578.7 172.8l-3 -2M578.7 172.8l2.4 3M578.7 172.8l-2.4 3" stroke="#e2409c" stroke-width="0.5"/><circle cx="578.7" cy="172.8" r="1.1" fill="#e2409c"/>
<path d="M505.8 168.5l3 -2.4 3 -0.9 3 0.9 3 2.4 -3 2.4 -3 0.9 -3 -0.9z" fill="#c9262b"/><line x1="501.8" y1="169.7" x2="521.8" y2="169.7" stroke="#c9262b" stroke-width="1.0"/>
<path d="M522.4 166.5l3 -2.4 3 -0.9 3 0.9 3 2.4 -3 2.4 -3 0.9 -3 -0.9z" fill="#c9262b"/><line x1="518.4" y1="167.7" x2="538.4" y2="167.7" stroke="#c9262b" stroke-width="1.0"/>
<path d="M539.1 165.8l3 -2.4 3 -0.9 3 0.9 3 2.4 -3 2.4 -3 0.9 -3 -0.9z" fill="#c9262b"/><line x1="535.1" y1="167.0" x2="555.1" y2="167.0" stroke="#c9262b" stroke-width="1.0"/>
<path d="M556.8 166.6l3 -2.4 3 -0.9 3 0.9 3 2.4 -3 2.4 -3 0.9 -3 -0.9z" fill="#c9262b"/><line x1="552.8" y1="167.8" x2="572.8" y2="167.8" stroke="#c9262b" stroke-width="1.0"/>
<path d="M573.4 168.7l3 -2.4 3 -0.9 3 0.9 3 2.4 -3 2.4 -3 0.9 -3 -0.9z" fill="#c9262b"/><line x1="569.4" y1="169.9" x2="589.4" y2="169.9" stroke="#c9262b" stroke-width="1.0"/>
<ellipse cx="539.6" cy="218.5" rx="5.2" ry="5.8" fill="#f7a3ad"/><ellipse cx="539.6" cy="218.5" rx="3" ry="3.6" fill="#f3798a"/>
<ellipse cx="557.7" cy="217.6" rx="5.2" ry="5.8" fill="#f7a3ad"/><ellipse cx="557.7" cy="217.6" rx="3" ry="3.6" fill="#f3798a"/>
<ellipse cx="522.3" cy="231.6" rx="5.2" ry="5.8" fill="#f7a3ad"/><ellipse cx="522.3" cy="231.6" rx="3" ry="3.6" fill="#f3798a"/>
<ellipse cx="568.7" cy="242.0" rx="5.2" ry="5.8" fill="#f7a3ad"/><ellipse cx="568.7" cy="242.0" rx="3" ry="3.6" fill="#f3798a"/>
<ellipse cx="539.2" cy="238.7" rx="5.2" ry="5.8" fill="#f7a3ad"/><ellipse cx="539.2" cy="238.7" rx="3" ry="3.6" fill="#f3798a"/>
<ellipse cx="550.8" cy="247.0" rx="5.2" ry="5.8" fill="#f7a3ad"/><ellipse cx="550.8" cy="247.0" rx="3" ry="3.6" fill="#f3798a"/>
<ellipse cx="537.4" cy="227.4" rx="4.3" ry="7.2" fill="#7f9ee8"/><ellipse cx="537.4" cy="227.4" rx="2.4" ry="3.8" fill="#5d7fdc"/>
<ellipse cx="553.1" cy="224.9" rx="4.3" ry="7.2" fill="#7f9ee8"/><ellipse cx="553.1" cy="224.9" rx="2.4" ry="3.8" fill="#5d7fdc"/>
<ellipse cx="526.6" cy="243.8" rx="4.3" ry="7.2" fill="#7f9ee8"/><ellipse cx="526.6" cy="243.8" rx="2.4" ry="3.8" fill="#5d7fdc"/>
<ellipse cx="531.9" cy="266.6" rx="5.8" ry="6.2" fill="#a5d1f7"/><ellipse cx="531.9" cy="266.6" rx="3.1" ry="3.5" fill="#84bff4"/>
<ellipse cx="545.1" cy="265.8" rx="5.8" ry="6.2" fill="#a5d1f7"/><ellipse cx="545.1" cy="265.8" rx="3.1" ry="3.5" fill="#84bff4"/>
<ellipse cx="557.5" cy="266.5" rx="5.8" ry="6.2" fill="#a5d1f7"/><ellipse cx="557.5" cy="266.5" rx="3.1" ry="3.5" fill="#84bff4"/>
<ellipse cx="526.3" cy="248.9" rx="1.5" ry="3.6" fill="#5fbf3c"/>
<ellipse cx="557.3" cy="249.3" rx="1.5" ry="3.6" fill="#5fbf3c"/>
</g>
<path d="M497.8 165.5Q545.1 157.7 592.5 165.5L580.8 213.4Q545.1 207.6 509.5 214.6z" fill="none" stroke="#4f7f2c" stroke-width="1.2" stroke-linejoin="miter"/>
<path d="M509.5 214.6Q545.1 207.6 580.8 213.4L566.8 276.5Q545.1 271.5 523.5 276.5z" fill="none" stroke="#2e6da6" stroke-width="1.1" stroke-linejoin="miter"/>
<text x="545.30" y="187.00" font-size="10.1" text-anchor="middle" font-weight="normal" fill="#000">Neuronal Layer</text>
<text x="545.30" y="198.20" font-size="10.1" text-anchor="middle" font-weight="normal" fill="#000">TUJ1+ MAP2+</text>
<text x="548.10" y="237.20" font-size="10.1" text-anchor="middle" font-weight="normal" fill="#000">Progenitor</text>
<text x="548.10" y="249.10" font-size="10.1" text-anchor="middle" font-weight="normal" fill="#000">Zone</text>
<text x="548.10" y="260.60" font-size="10.1" text-anchor="middle" font-weight="normal" fill="#000">SOX2+</text>
<path d="M598.8 169.0L603.7 170.2L591.3 216.2L586.6 215.3" fill="none" stroke="#000" stroke-width="0.9"/>
<text x="604.6" y="194.2" font-size="10" text-anchor="middle" transform="rotate(105 604.6 194.2)" dy="3.5">CP</text>
<path d="M585.4 216.9L590.1 218.1L574.9 277.6L570.3 276.5" fill="none" stroke="#000" stroke-width="0.9"/>
<text x="589.4" y="248.0" font-size="10" text-anchor="middle" transform="rotate(104.5 589.4 248.0)" dy="3.5">VZ+SVZ</text>
<path d="M614.6 170.9L619.3 172.0L591.3 280.7L586.6 279.5" fill="none" stroke="#000" stroke-width="0.9"/>
<text x="616.3" y="224.6" font-size="10" text-anchor="middle" transform="rotate(104.5 616.3 224.6)" dy="3.5">Cortical Region</text>
</svg></body></html>
